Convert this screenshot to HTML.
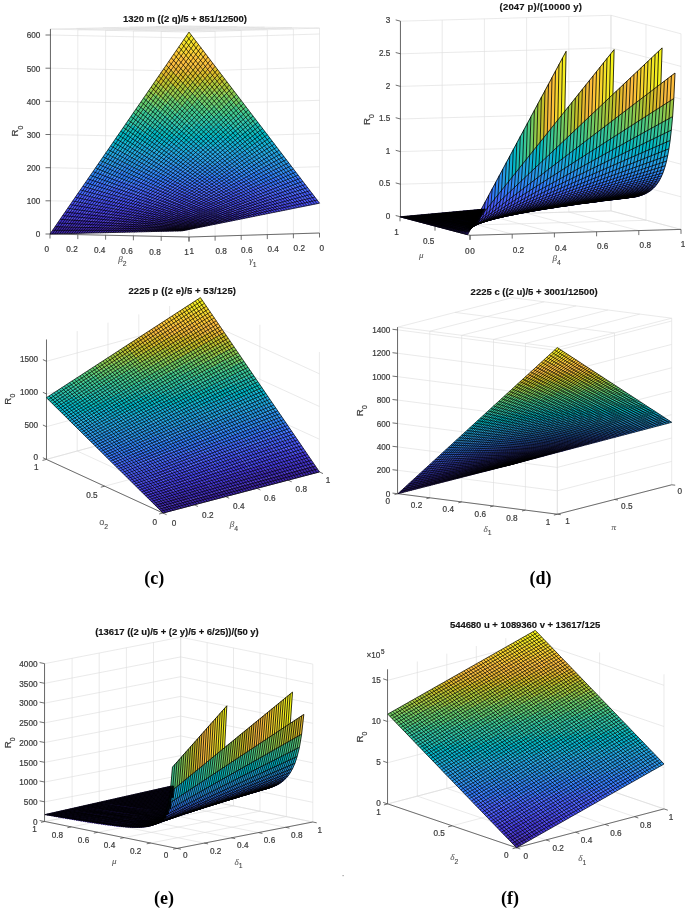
<!DOCTYPE html>
<html><head><meta charset="utf-8"><style>html,body{margin:0;padding:0;background:#fff;overflow:hidden}svg{display:block;will-change:transform}</style></head><body>
<svg width="685" height="909" viewBox="0 0 685 909" font-family="Liberation Sans, sans-serif" fill="#3c3c3c"><style>text{stroke:#3c3c3c;stroke-width:.22px}</style>
<path d="M182.3 25.9l-132.3 3.2M209.7 26.3l-131.9 3.4M237.2 26.8l-131.6 3.5M264.6 27.2l-131.2 3.7M292.1 27.7l-130.9 3.8M319.5 28.1l-130.5 4M182.3 25.9l137.2 2.2M155.8 26.5l137.6 2.4M129.4 27.2l137.9 2.5M102.9 27.8l138.3 2.7M76.5 28.5l138.6 2.8M50 29.1l139 3M319.5 233l0-204.9M293.4 233.8l0-204.9M267.3 234.6l0-204.9M241.2 235.4l0-204.9M215.1 236.2l0-204.9M189 237l0-204.9M319.5 233l-130.5 4M319.5 199.8l-130.5 4M319.5 166.7l-130.5 4M319.5 133.5l-130.5 4M319.5 100.3l-130.5 4M319.5 67.2l-130.5 4M319.5 34l-130.5 4M50 234l0-204.9M77.8 234.6l0-204.9M105.6 235.2l0-204.9M133.4 235.8l0-204.9M161.2 236.4l0-204.9M189 237l0-204.9M50 234l139 3M50 200.8l139 3M50 167.7l139 3M50 134.5l139 3M50 101.3l139 3M50 68.2l139 3M50 35l139 3" stroke="#dcdcdc" stroke-width=".6" fill="none"/>
<path d="M50.5 234l0-204.9M50.5 234l-5 0M50.5 200.8l-5 0M50.5 167.7l-5 0M50.5 134.5l-5 0M50.5 101.3l-5 0M50.5 68.2l-5 0M50.5 35l-5 0M50 234l139 3M50 234l0 4.5M77.8 234.6l0 4.5M105.6 235.2l0 4.5M133.4 235.8l0 4.5M161.2 236.4l0 4.5M189 237l0 4.5M319.5 233l-130.5 4M319.5 233l0 4.5M293.4 233.8l0 4.5M267.3 234.6l0 4.5M241.2 235.4l0 4.5M215.1 236.2l0 4.5M189 237l0 4.5" stroke="#4d4d4d" stroke-width="0.8" fill="none"/>
<path d="M182.3 230.8l5.5-1.1l-5.3-0.2l-5.5 1.4zM177 230.9l5.5-1.4l-5.3-0.1l-5.5 1.7zM171.7 231.1l5.5-1.7l-5.3-0.2l-5.5 2zM166.4 231.2l5.5-2l-5.3-0.1l-5.5 2.2zM161.1 231.3l5.5-2.2l-5.3-0.2l-5.5 2.5zM155.8 231.4l5.5-2.5l-5.2-0.1l-5.6 2.8zM150.5 231.6l5.6-2.8l-5.3-0.2l-5.5 3.1zM145.3 231.7l5.5-3.1l-5.3-0.1l-5.5 3.3zM140 231.8l5.5-3.3l-5.3-0.2l-5.5 3.7zM134.7 232l5.5-3.7l-5.3-0.1l-5.5 3.9zM129.4 232.1l5.5-3.9l-5.3-0.2l-5.5 4.2zM124.1 232.2l5.5-4.2l-5.3-0.1l-5.5 4.4zM118.8 232.3l5.5-4.4l-5.3-0.2l-5.5 4.8zM113.5 232.5l5.5-4.8l-5.3-0.1l-5.5 5zM108.2 232.6l5.5-5l-5.2-0.2l-5.6 5.3zM102.9 232.7l5.6-5.3l-5.3-0.1l-5.6 5.5zM97.6 232.8l5.6-5.5l-5.3-0.2l-5.6 5.9zM92.3 233l5.6-5.9l-5.3-0.1l-5.6 6.1zM87 233.1l5.6-6.1l-5.3-0.2l-5.5 6.4zM81.8 233.2l5.5-6.4l-5.3-0.1l-5.5 6.7zM76.5 233.4l5.5-6.7l-5.3-0.2l-5.5 7zM71.2 233.5l5.5-7l-5.3-0.1l-5.5 7.2zM65.9 233.6l5.5-7.2l-5.3-0.2l-5.5 7.5zM60.6 233.7l5.5-7.5l-5.3-0.1l-5.5 7.8zM55.3 233.9l5.5-7.8l-5.2-0.2l-5.6 8.1zM187.8 229.7l5.5-1.1l-5.3-0.4l-5.5 1.3zM182.5 229.5l5.5-1.3l-5.3-0.5l-5.5 1.7zM177.2 229.4l5.5-1.7l-5.3-0.4l-5.5 1.9zM171.9 229.2l5.5-1.9l-5.3-0.4l-5.5 2.2zM166.6 229.1l5.5-2.2l-5.3-0.5l-5.5 2.5zM193.3 228.6l5.5-1.1l-5.3-0.7l-5.5 1.4z" fill="#3e26a8" stroke="#3e26a8" stroke-width=".3"/>
<path d="M161.3 228.9l5.5-2.5l-5.2-0.4l-5.5 2.8zM156.1 228.8l5.5-2.8l-5.3-0.4l-5.5 3zM150.8 228.6l5.5-3l-5.3-0.4l-5.5 3.3zM145.5 228.5l5.5-3.3l-5.3-0.5l-5.5 3.6zM140.2 228.3l5.5-3.6l-5.3-0.4l-5.5 3.9zM134.9 228.2l5.5-3.9l-5.3-0.4l-5.5 4.1zM129.6 228l5.5-4.1l-5.3-0.5l-5.5 4.5zM124.3 227.9l5.5-4.5l-5.2-0.4l-5.6 4.7zM119 227.7l5.6-4.7l-5.3-0.4l-5.6 5zM188 228.2l5.5-1.4l-5.3-0.7l-5.5 1.6zM182.7 227.7l5.5-1.6l-5.3-0.7l-5.5 1.9zM177.4 227.3l5.5-1.9l-5.3-0.7l-5.5 2.2zM172.1 226.9l5.5-2.2l-5.3-0.8l-5.5 2.5zM166.8 226.4l5.5-2.5l-5.2-0.7l-5.5 2.8zM198.8 227.5l5.5-1.1l-5.3-1l-5.5 1.4zM193.5 226.8l5.5-1.4l-5.3-1l-5.5 1.7zM188.2 226.1l5.5-1.7l-5.3-1l-5.5 2zM204.3 226.4l5.4-1.1l-5.2-1.3l-5.5 1.4z" fill="#402ab4" stroke="#402ab4" stroke-width=".3"/>
<path d="M113.7 227.6l5.6-5l-5.3-0.5l-5.5 5.3zM108.5 227.4l5.5-5.3l-5.3-0.4l-5.5 5.6zM103.2 227.3l5.5-5.6l-5.3-0.4l-5.5 5.8zM97.9 227.1l5.5-5.8l-5.3-0.4l-5.5 6.1zM92.6 227l5.5-6.1l-5.3-0.5l-5.5 6.4zM87.3 226.8l5.5-6.4l-5.2-0.4l-5.6 6.7zM82 226.7l5.6-6.7l-5.3-0.4l-5.6 6.9zM76.7 226.5l5.6-6.9l-5.3-0.5l-5.6 7.3zM71.4 226.4l5.6-7.3l-5.3-0.4l-5.6 7.5zM161.6 226l5.5-2.8l-5.3-0.7l-5.5 3.1zM156.3 225.6l5.5-3.1l-5.3-0.7l-5.5 3.4zM151 225.2l5.5-3.4l-5.3-0.7l-5.5 3.6zM145.7 224.7l5.5-3.6l-5.3-0.7l-5.5 3.9zM140.4 224.3l5.5-3.9l-5.3-0.7l-5.5 4.2zM182.9 225.4l5.5-2l-5.3-1l-5.5 2.3zM177.6 224.7l5.5-2.3l-5.3-1l-5.5 2.5zM172.3 223.9l5.5-2.5l-5.2-0.9l-5.5 2.7zM199 225.4l5.5-1.4l-5.3-1.3l-5.5 1.7zM193.7 224.4l5.5-1.7l-5.3-1.2l-5.5 1.9zM188.4 223.4l5.5-1.9l-5.3-1.3l-5.5 2.2zM209.7 225.3l5.5-1.1l-5.2-1.6l-5.5 1.4zM204.5 224l5.5-1.4l-5.3-1.5l-5.5 1.6zM215.2 224.2l5.5-1.1l-5.3-1.9l-5.4 1.4zM220.7 223.1l5.5-1.1l-5.3-2.1l-5.5 1.3z" fill="#422ec0" stroke="#422ec0" stroke-width=".3"/>
<path d="M66.1 226.2l5.6-7.5l-5.3-0.4l-5.6 7.8zM60.8 226.1l5.6-7.8l-5.3-0.5l-5.5 8.1zM135.1 223.9l5.5-4.2l-5.2-0.7l-5.6 4.4zM129.8 223.4l5.6-4.4l-5.3-0.7l-5.5 4.7zM124.6 223l5.5-4.7l-5.3-0.7l-5.5 5zM119.3 222.6l5.5-5l-5.3-0.7l-5.5 5.2zM114 222.1l5.5-5.2l-5.3-0.8l-5.5 5.6zM167.1 223.2l5.5-2.7l-5.3-1l-5.5 3zM161.8 222.5l5.5-3l-5.3-1l-5.5 3.3zM156.5 221.8l5.5-3.3l-5.3-1l-5.5 3.6zM151.2 221.1l5.5-3.6l-5.3-1l-5.5 3.9zM183.1 222.4l5.5-2.2l-5.2-1.3l-5.6 2.5zM177.8 221.4l5.6-2.5l-5.3-1.2l-5.5 2.8zM172.6 220.5l5.5-2.8l-5.3-1.3l-5.5 3.1zM199.2 222.7l5.5-1.6l-5.3-1.6l-5.5 2zM193.9 221.5l5.5-2l-5.3-1.5l-5.5 2.2zM188.6 220.2l5.5-2.2l-5.2-1.6l-5.5 2.5zM210 222.6l5.4-1.4l-5.2-1.8l-5.5 1.7zM204.7 221.1l5.5-1.7l-5.3-1.8l-5.5 1.9zM215.4 221.2l5.5-1.3l-5.2-2.1l-5.5 1.6zM226.2 222l5.5-1.1l-5.3-2.4l-5.5 1.4zM231.7 220.9l5.5-1.1l-5.3-2.7l-5.5 1.4z" fill="#4332cb" stroke="#4332cb" stroke-width=".3"/>
<path d="M108.7 221.7l5.5-5.6l-5.3-0.7l-5.5 5.9zM103.4 221.3l5.5-5.9l-5.2-0.7l-5.6 6.2zM98.1 220.9l5.6-6.2l-5.3-0.7l-5.6 6.4zM92.8 220.4l5.6-6.4l-5.3-0.7l-5.5 6.7zM87.6 220l5.5-6.7l-5.3-0.7l-5.5 7zM145.9 220.4l5.5-3.9l-5.2-1l-5.6 4.2zM140.6 219.7l5.6-4.2l-5.3-1l-5.5 4.5zM135.4 219l5.5-4.5l-5.3-1l-5.5 4.8zM167.3 219.5l5.5-3.1l-5.3-1.3l-5.5 3.4zM162 218.5l5.5-3.4l-5.3-1.2l-5.5 3.6zM183.4 218.9l5.5-2.5l-5.3-1.5l-5.5 2.8zM178.1 217.7l5.5-2.8l-5.3-1.5l-5.5 3zM199.4 219.5l5.5-1.9l-5.3-1.8l-5.5 2.2zM194.1 218l5.5-2.2l-5.2-1.9l-5.5 2.5zM210.2 219.4l5.5-1.6l-5.3-2.1l-5.5 1.9zM204.9 217.6l5.5-1.9l-5.3-2.1l-5.5 2.2zM220.9 219.9l5.5-1.4l-5.2-2.4l-5.5 1.7zM215.7 217.8l5.5-1.7l-5.3-2.4l-5.5 2zM226.4 218.5l5.5-1.4l-5.2-2.7l-5.5 1.7zM237.2 219.8l5.5-1.1l-5.3-3l-5.5 1.4zM231.9 217.1l5.5-1.4l-5.3-2.9l-5.4 1.6zM242.7 218.7l5.5-1.2l-5.3-3.2l-5.5 1.4zM248.2 217.5l5.4-1.1l-5.2-3.5l-5.5 1.4z" fill="#4537d5" stroke="#4537d5" stroke-width=".3"/>
<path d="M82.3 219.6l5.5-7l-5.3-0.7l-5.5 7.2zM77 219.1l5.5-7.2l-5.3-0.7l-5.5 7.5zM71.7 218.7l5.5-7.5l-5.2-0.7l-5.6 7.8zM66.4 218.3l5.6-7.8l-5.3-0.7l-5.6 8zM130.1 218.3l5.5-4.8l-5.3-0.9l-5.5 5zM124.8 217.6l5.5-5l-5.3-1l-5.5 5.3zM119.5 216.9l5.5-5.3l-5.2-1l-5.6 5.5zM114.2 216.1l5.6-5.5l-5.3-1l-5.6 5.8zM156.7 217.5l5.5-3.6l-5.2-1.3l-5.6 3.9zM151.4 216.5l5.6-3.9l-5.3-1.3l-5.5 4.2zM146.2 215.5l5.5-4.2l-5.3-1.2l-5.5 4.4zM172.8 216.4l5.5-3l-5.3-1.6l-5.5 3.3zM167.5 215.1l5.5-3.3l-5.2-1.5l-5.6 3.6zM188.9 216.4l5.5-2.5l-5.3-1.8l-5.5 2.8zM183.6 214.9l5.5-2.8l-5.3-1.8l-5.5 3.1zM199.6 215.8l5.5-2.2l-5.2-2.2l-5.5 2.5zM210.4 215.7l5.5-2l-5.3-2.4l-5.5 2.3zM221.2 216.1l5.5-1.7l-5.3-2.6l-5.5 1.9zM226.7 214.4l5.4-1.6l-5.2-3l-5.5 2zM237.4 215.7l5.5-1.4l-5.3-3.2l-5.5 1.7zM242.9 214.3l5.5-1.4l-5.3-3.5l-5.5 1.7zM253.6 216.4l5.5-1.1l-5.2-3.7l-5.5 1.3zM259.1 215.3l5.5-1.1l-5.2-4l-5.5 1.4z" fill="#463cde" stroke="#463cde" stroke-width=".3"/>
<path d="M108.9 215.4l5.6-5.8l-5.3-1l-5.5 6.1zM103.7 214.7l5.5-6.1l-5.3-1l-5.5 6.4zM98.4 214l5.5-6.4l-5.3-1l-5.5 6.7zM140.9 214.5l5.5-4.4l-5.3-1.3l-5.5 4.7zM135.6 213.5l5.5-4.7l-5.2-1.3l-5.6 5.1zM130.3 212.6l5.6-5.1l-5.3-1.2l-5.6 5.3zM162.2 213.9l5.6-3.6l-5.3-1.6l-5.5 3.9zM157 212.6l5.5-3.9l-5.3-1.5l-5.5 4.1zM178.3 213.4l5.5-3.1l-5.3-1.8l-5.5 3.3zM173 211.8l5.5-3.3l-5.2-1.8l-5.5 3.6zM194.4 213.9l5.5-2.5l-5.3-2.1l-5.5 2.8zM189.1 212.1l5.5-2.8l-5.3-2.1l-5.5 3.1zM205.1 213.6l5.5-2.3l-5.2-2.3l-5.5 2.4zM199.9 211.4l5.5-2.4l-5.3-2.4l-5.5 2.7zM215.9 213.7l5.5-1.9l-5.3-2.7l-5.5 2.2zM210.6 211.3l5.5-2.2l-5.2-2.6l-5.5 2.5zM221.4 211.8l5.5-2l-5.3-2.9l-5.5 2.2zM232.1 212.8l5.5-1.7l-5.2-3.2l-5.5 1.9zM248.4 212.9l5.5-1.3l-5.3-3.8l-5.5 1.6zM253.9 211.6l5.5-1.4l-5.3-4.1l-5.5 1.7zM264.6 214.2l5.5-1.1l-5.2-4.3l-5.5 1.4zM270.1 213.1l5.5-1.1l-5.2-4.6l-5.5 1.4zM275.6 212l5.5-1.1l-5.3-4.9l-5.4 1.4z" fill="#4741e5" stroke="#4741e5" stroke-width=".3"/>
<path d="M93.1 213.3l5.5-6.7l-5.2-1l-5.6 7zM87.8 212.6l5.6-7l-5.3-0.9l-5.6 7.2zM82.5 211.9l5.6-7.2l-5.3-1l-5.6 7.5zM77.2 211.2l5.6-7.5l-5.3-1l-5.5 7.8zM125 211.6l5.6-5.3l-5.3-1.3l-5.5 5.6zM119.8 210.6l5.5-5.6l-5.3-1.3l-5.5 5.9zM151.7 211.3l5.5-4.1l-5.3-1.6l-5.5 4.5zM146.4 210.1l5.5-4.5l-5.2-1.5l-5.6 4.7zM167.8 210.3l5.5-3.6l-5.3-1.9l-5.5 3.9zM162.5 208.7l5.5-3.9l-5.3-1.8l-5.5 4.2zM183.8 210.3l5.5-3.1l-5.2-2.1l-5.6 3.4zM178.5 208.5l5.6-3.4l-5.3-2.1l-5.5 3.7zM194.6 209.3l5.5-2.7l-5.3-2.4l-5.5 3zM205.4 209l5.5-2.5l-5.3-2.7l-5.5 2.8zM216.1 209.1l5.5-2.2l-5.2-2.9l-5.5 2.5zM226.9 209.8l5.5-1.9l-5.3-3.2l-5.5 2.2zM237.6 211.1l5.5-1.7l-5.2-3.4l-5.5 1.9zM243.1 209.4l5.5-1.6l-5.2-3.8l-5.5 2zM259.4 210.2l5.5-1.4l-5.3-4.3l-5.5 1.6zM264.9 208.8l5.5-1.4l-5.3-4.6l-5.5 1.7zM281.1 210.9l5.5-1.1l-5.3-5.2l-5.5 1.4zM286.6 209.8l5.5-1.1l-5.3-5.4l-5.5 1.3z" fill="#4747eb" stroke="#4747eb" stroke-width=".3"/>
<path d="M72 210.5l5.5-7.8l-5.3-1l-5.5 8.1zM114.5 209.6l5.5-5.9l-5.3-1.2l-5.5 6.1zM109.2 208.6l5.5-6.1l-5.2-1.3l-5.6 6.4zM103.9 207.6l5.6-6.4l-5.3-1.3l-5.6 6.7zM141.1 208.8l5.6-4.7l-5.3-1.6l-5.5 5zM135.9 207.5l5.5-5l-5.3-1.5l-5.5 5.3zM157.2 207.2l5.5-4.2l-5.2-1.8l-5.6 4.4zM173.3 206.7l5.5-3.7l-5.3-2.1l-5.5 3.9zM189.3 207.2l5.5-3l-5.2-2.4l-5.5 3.3zM200.1 206.6l5.5-2.8l-5.3-2.7l-5.5 3.1zM210.9 206.5l5.5-2.5l-5.3-3l-5.5 2.8zM221.6 206.9l5.5-2.2l-5.2-3.2l-5.5 2.5zM232.4 207.9l5.5-1.9l-5.3-3.5l-5.5 2.2zM237.9 206l5.5-2l-5.3-3.8l-5.5 2.3zM248.6 207.8l5.5-1.7l-5.2-4l-5.5 1.9zM254.1 206.1l5.5-1.6l-5.2-4.4l-5.5 2zM270.4 207.4l5.4-1.4l-5.2-4.9l-5.5 1.7zM275.8 206l5.5-1.4l-5.2-5.1l-5.5 1.6zM292.1 208.7l5.4-1.1l-5.2-5.7l-5.5 1.4zM297.5 207.6l5.5-1.1l-5.2-6l-5.5 1.4zM303 206.5l5.5-1.1l-5.2-6.3l-5.5 1.4z" fill="#484df0" stroke="#484df0" stroke-width=".3"/>
<path d="M98.6 206.6l5.6-6.7l-5.3-1.2l-5.5 6.9zM93.4 205.6l5.5-6.9l-5.3-1.3l-5.5 7.3zM88.1 204.7l5.5-7.3l-5.2-1.3l-5.6 7.6zM130.6 206.3l5.5-5.3l-5.3-1.6l-5.5 5.6zM125.3 205l5.5-5.6l-5.2-1.5l-5.6 5.8zM120 203.7l5.6-5.8l-5.3-1.5l-5.6 6.1zM151.9 205.6l5.6-4.4l-5.3-1.8l-5.5 4.7zM146.7 204.1l5.5-4.7l-5.3-1.9l-5.5 5zM168 204.8l5.5-3.9l-5.3-2.1l-5.5 4.2zM162.7 203l5.5-4.2l-5.2-2.1l-5.5 4.5zM184.1 205.1l5.5-3.3l-5.3-2.4l-5.5 3.6zM178.8 203l5.5-3.6l-5.3-2.4l-5.5 3.9zM194.8 204.2l5.5-3.1l-5.2-2.6l-5.5 3.3zM205.6 203.8l5.5-2.8l-5.3-2.9l-5.5 3zM216.4 204l5.5-2.5l-5.3-3.3l-5.5 2.8zM227.1 204.7l5.5-2.2l-5.2-3.5l-5.5 2.5zM232.6 202.5l5.5-2.3l-5.2-3.7l-5.5 2.5zM243.4 204l5.5-1.9l-5.3-4.1l-5.5 2.2zM259.6 204.5l5.5-1.7l-5.2-4.6l-5.5 1.9zM265.1 202.8l5.5-1.7l-5.2-4.9l-5.5 2zM281.3 204.6l5.5-1.3l-5.2-5.5l-5.5 1.7zM286.8 203.3l5.5-1.4l-5.2-5.7l-5.5 1.6zM308.5 205.4l5.5-1.1l-5.2-6.6l-5.5 1.4zM314 204.3l5.5-1.1l-5.2-6.9l-5.5 1.4z" fill="#4852f4" stroke="#4852f4" stroke-width=".3"/>
<path d="M82.8 203.7l5.6-7.6l-5.3-1.2l-5.6 7.8zM77.5 202.7l5.6-7.8l-5.3-1.3l-5.6 8.1zM114.7 202.5l5.6-6.1l-5.3-1.6l-5.5 6.4zM109.5 201.2l5.5-6.4l-5.3-1.5l-5.5 6.6zM141.4 202.5l5.5-5l-5.3-1.8l-5.5 5.3zM136.1 201l5.5-5.3l-5.2-1.8l-5.6 5.5zM157.5 201.2l5.5-4.5l-5.3-2.1l-5.5 4.8zM173.5 200.9l5.5-3.9l-5.2-2.3l-5.6 4.1zM189.6 201.8l5.5-3.3l-5.3-2.7l-5.5 3.6zM184.3 199.4l5.5-3.6l-5.3-2.7l-5.5 3.9zM200.3 201.1l5.5-3l-5.2-3l-5.5 3.4zM211.1 201l5.5-2.8l-5.2-3.2l-5.6 3.1zM221.9 201.5l5.5-2.5l-5.3-3.5l-5.5 2.7zM238.1 200.2l5.5-2.2l-5.2-4l-5.5 2.5zM248.9 202.1l5.5-2l-5.3-4.3l-5.5 2.2zM254.4 200.1l5.5-1.9l-5.3-4.6l-5.5 2.2zM270.6 201.1l5.5-1.6l-5.2-5.2l-5.5 1.9zM292.3 201.9l5.5-1.4l-5.2-6l-5.5 1.7zM297.8 200.5l5.5-1.4l-5.2-6.3l-5.5 1.7z" fill="#4758f8" stroke="#4758f8" stroke-width=".3"/>
<path d="M104.2 199.9l5.5-6.6l-5.2-1.6l-5.6 7zM98.9 198.7l5.6-7l-5.3-1.5l-5.6 7.2zM130.8 199.4l5.6-5.5l-5.3-1.8l-5.5 5.8zM125.6 197.9l5.5-5.8l-5.3-1.9l-5.5 6.2zM152.2 199.4l5.5-4.8l-5.3-2.1l-5.5 5zM146.9 197.5l5.5-5l-5.2-2.1l-5.6 5.3zM168.2 198.8l5.6-4.1l-5.3-2.4l-5.5 4.4zM163 196.7l5.5-4.4l-5.3-2.4l-5.5 4.7zM179 197l5.5-3.9l-5.2-2.6l-5.5 4.2zM195.1 198.5l5.5-3.4l-5.3-2.9l-5.5 3.6zM205.8 198.1l5.6-3.1l-5.3-3.2l-5.5 3.3zM216.6 198.2l5.5-2.7l-5.2-3.5l-5.5 3zM227.4 199l5.5-2.5l-5.3-3.8l-5.5 2.8zM232.9 196.5l5.5-2.5l-5.3-4.1l-5.5 2.8zM243.6 198l5.5-2.2l-5.2-4.3l-5.5 2.5zM259.9 198.2l5.5-2l-5.3-4.8l-5.5 2.2zM276.1 199.5l5.5-1.7l-5.2-5.4l-5.5 1.9zM281.6 197.8l5.5-1.6l-5.2-5.8l-5.5 2zM303.3 199.1l5.5-1.4l-5.2-6.5l-5.5 1.6zM308.8 197.7l5.5-1.4l-5.2-6.8l-5.5 1.7z" fill="#465efb" stroke="#465efb" stroke-width=".3"/>
<path d="M93.6 197.4l5.6-7.2l-5.3-1.6l-5.5 7.5zM88.4 196.1l5.5-7.5l-5.3-1.5l-5.5 7.8zM120.3 196.4l5.5-6.2l-5.2-1.8l-5.6 6.4zM115 194.8l5.6-6.4l-5.3-1.8l-5.6 6.7zM141.6 195.7l5.6-5.3l-5.3-2.1l-5.5 5.6zM157.7 194.6l5.5-4.7l-5.2-2.4l-5.6 5zM173.8 194.7l5.5-4.2l-5.3-2.7l-5.5 4.5zM189.8 195.8l5.5-3.6l-5.2-2.9l-5.6 3.8zM200.6 195.1l5.5-3.3l-5.3-3.2l-5.5 3.6zM211.4 195l5.5-3l-5.3-3.5l-5.5 3.3zM222.1 195.5l5.5-2.8l-5.2-3.8l-5.5 3.1zM238.4 194l5.5-2.5l-5.3-4.4l-5.5 2.8zM249.1 195.8l5.5-2.2l-5.2-4.6l-5.5 2.5zM254.6 193.6l5.5-2.2l-5.2-4.9l-5.5 2.5zM265.4 196.2l5.5-1.9l-5.3-5.2l-5.5 2.3zM270.9 194.3l5.5-1.9l-5.3-5.5l-5.5 2.2zM287.1 196.2l5.5-1.7l-5.2-6l-5.5 1.9zM292.6 194.5l5.5-1.7l-5.3-6.3l-5.4 2z" fill="#4563fd" stroke="#4563fd" stroke-width=".3"/>
<path d="M83.1 194.9l5.5-7.8l-5.2-1.6l-5.6 8.1zM109.7 193.3l5.6-6.7l-5.3-1.8l-5.5 6.9zM136.4 193.9l5.5-5.6l-5.3-2.1l-5.5 5.9zM131.1 192.1l5.5-5.9l-5.2-2.1l-5.6 6.1zM152.4 192.5l5.6-5l-5.3-2.4l-5.5 5.3zM168.5 192.3l5.5-4.5l-5.2-2.6l-5.6 4.7zM184.5 193.1l5.6-3.8l-5.3-3l-5.5 4.2zM179.3 190.5l5.5-4.2l-5.3-2.9l-5.5 4.4zM195.3 192.2l5.5-3.6l-5.2-3.2l-5.5 3.9zM206.1 191.8l5.5-3.3l-5.2-3.5l-5.6 3.6zM216.9 192l5.5-3.1l-5.3-3.8l-5.5 3.4zM227.6 192.7l5.5-2.8l-5.2-4.1l-5.5 3.1zM243.9 191.5l5.5-2.5l-5.3-4.7l-5.5 2.8zM260.1 191.4l5.5-2.3l-5.2-5.1l-5.5 2.5zM276.4 192.4l5.5-2l-5.3-5.7l-5.5 2.2zM298.1 192.8l5.5-1.6l-5.3-6.6l-5.5 1.9zM303.6 191.2l5.5-1.7l-5.3-6.8l-5.5 1.9z" fill="#4269fe" stroke="#4269fe" stroke-width=".3"/>
<path d="M104.5 191.7l5.5-6.9l-5.3-1.9l-5.5 7.3zM99.2 190.2l5.5-7.3l-5.2-1.8l-5.6 7.5zM125.8 190.2l5.6-6.1l-5.3-2.1l-5.5 6.4zM120.6 188.4l5.5-6.4l-5.3-2.1l-5.5 6.7zM147.2 190.4l5.5-5.3l-5.3-2.4l-5.5 5.6zM141.9 188.3l5.5-5.6l-5.2-2.3l-5.6 5.8zM163.2 189.9l5.6-4.7l-5.3-2.7l-5.5 5zM174 187.8l5.5-4.4l-5.2-3l-5.5 4.8zM190.1 189.3l5.5-3.9l-5.3-3.3l-5.5 4.2zM200.8 188.6l5.6-3.6l-5.3-3.5l-5.5 3.9zM211.6 188.5l5.5-3.4l-5.2-3.7l-5.5 3.6zM222.4 188.9l5.5-3.1l-5.3-4l-5.5 3.3zM233.1 189.9l5.5-2.8l-5.2-4.3l-5.5 3zM238.6 187.1l5.5-2.8l-5.2-4.6l-5.5 3.1zM249.4 189l5.5-2.5l-5.3-4.9l-5.5 2.7zM265.6 189.1l5.5-2.2l-5.2-5.4l-5.5 2.5zM281.9 190.4l5.5-1.9l-5.3-6l-5.5 2.2zM287.4 188.5l5.4-2l-5.2-6.2l-5.5 2.2z" fill="#3e6fff" stroke="#3e6fff" stroke-width=".3"/>
<path d="M93.9 188.6l5.6-7.5l-5.3-1.8l-5.6 7.8zM88.6 187.1l5.6-7.8l-5.3-1.8l-5.5 8zM115.3 186.6l5.5-6.7l-5.2-2.1l-5.6 7zM136.6 186.2l5.6-5.8l-5.3-2.4l-5.5 6.1zM158 187.5l5.5-5l-5.3-2.7l-5.5 5.3zM152.7 185.1l5.5-5.3l-5.2-2.6l-5.6 5.5zM168.8 185.2l5.5-4.8l-5.3-2.9l-5.5 5zM184.8 186.3l5.5-4.2l-5.2-3.2l-5.6 4.5zM195.6 185.4l5.5-3.9l-5.3-3.5l-5.5 4.1zM206.4 185l5.5-3.6l-5.3-3.8l-5.5 3.9zM217.1 185.1l5.5-3.3l-5.2-4.1l-5.5 3.7zM227.9 185.8l5.5-3l-5.3-4.3l-5.5 3.3zM244.1 184.3l5.5-2.7l-5.2-4.9l-5.5 3zM254.9 186.5l5.5-2.5l-5.3-5.2l-5.5 2.8zM271.1 186.9l5.5-2.2l-5.2-5.7l-5.5 2.5zM276.6 184.7l5.5-2.2l-5.2-6l-5.5 2.5zM292.8 186.5l5.5-1.9l-5.2-6.6l-5.5 2.3zM298.3 184.6l5.5-1.9l-5.2-6.9l-5.5 2.2z" fill="#3875fe" stroke="#3875fe" stroke-width=".3"/>
<path d="M110 184.8l5.6-7l-5.3-2.1l-5.6 7.2zM104.7 182.9l5.6-7.2l-5.3-2.1l-5.5 7.5zM131.4 184.1l5.5-6.1l-5.3-2.4l-5.5 6.4zM147.4 182.7l5.6-5.5l-5.3-2.7l-5.5 5.9zM163.5 182.5l5.5-5l-5.2-2.9l-5.6 5.2zM179.5 183.4l5.6-4.5l-5.3-3.2l-5.5 4.7zM190.3 182.1l5.5-4.1l-5.2-3.5l-5.5 4.4zM201.1 181.5l5.5-3.9l-5.2-3.8l-5.6 4.2zM211.9 181.4l5.5-3.7l-5.3-4l-5.5 3.9zM222.6 181.8l5.5-3.3l-5.2-4.4l-5.5 3.6zM233.4 182.8l5.5-3.1l-5.2-4.6l-5.6 3.4zM249.6 181.6l5.5-2.8l-5.2-5.2l-5.5 3.1zM260.4 184l5.5-2.5l-5.2-5.5l-5.6 2.8zM265.9 181.5l5.5-2.5l-5.2-5.8l-5.5 2.8zM282.1 182.5l5.5-2.2l-5.2-6.3l-5.5 2.5z" fill="#327cfc" stroke="#327cfc" stroke-width=".3"/>
<path d="M99.5 181.1l5.5-7.5l-5.3-2.1l-5.5 7.8zM126.1 182l5.5-6.4l-5.2-2.4l-5.6 6.7zM120.8 179.9l5.6-6.7l-5.3-2.4l-5.5 7zM142.2 180.4l5.5-5.9l-5.3-2.6l-5.5 6.1zM158.2 179.8l5.6-5.2l-5.3-3l-5.5 5.6zM174.3 180.4l5.5-4.7l-5.2-3.2l-5.6 5zM185.1 178.9l5.5-4.4l-5.3-3.5l-5.5 4.7zM228.1 178.5l5.6-3.4l-5.3-4.6l-5.5 3.6zM238.9 179.7l5.5-3l-5.2-4.9l-5.5 3.3zM255.1 178.8l5.6-2.8l-5.3-5.4l-5.5 3zM271.4 179l5.5-2.5l-5.2-6l-5.5 2.7zM287.6 180.3l5.5-2.3l-5.2-6.5l-5.5 2.5z" fill="#2f81fa" stroke="#2f81fa" stroke-width=".3"/>
<path d="M94.2 179.3l5.5-7.8l-5.2-2.1l-5.6 8.1zM115.6 177.8l5.5-7l-5.3-2.3l-5.5 7.2zM136.9 178l5.5-6.1l-5.2-2.7l-5.6 6.4zM153 177.2l5.5-5.6l-5.3-2.9l-5.5 5.8zM169 177.5l5.6-5l-5.3-3.2l-5.5 5.3zM179.8 175.7l5.5-4.7l-5.2-3.5l-5.5 5zM195.8 178l5.6-4.2l-5.3-3.8l-5.5 4.5zM206.6 177.6l5.5-3.9l-5.2-4.1l-5.5 4.2zM217.4 177.7l5.5-3.6l-5.3-4.3l-5.5 3.9zM233.7 175.1l5.5-3.3l-5.3-4.9l-5.5 3.6zM244.4 176.7l5.5-3.1l-5.2-5.2l-5.5 3.4zM260.7 176l5.5-2.8l-5.3-5.7l-5.5 3.1zM276.9 176.5l5.5-2.5l-5.2-6.3l-5.5 2.8zM293.1 178l5.5-2.2l-5.2-6.8l-5.5 2.5z" fill="#2e87f7" stroke="#2e87f7" stroke-width=".3"/>
<path d="M110.3 175.7l5.5-7.2l-5.2-2.4l-5.6 7.5zM105 173.6l5.6-7.5l-5.3-2.4l-5.6 7.8zM131.6 175.6l5.6-6.4l-5.3-2.7l-5.5 6.7zM126.4 173.2l5.5-6.7l-5.2-2.6l-5.6 6.9zM147.7 174.5l5.5-5.8l-5.2-3l-5.6 6.2zM163.8 174.6l5.5-5.3l-5.3-3.3l-5.5 5.6zM174.6 172.5l5.5-5l-5.3-3.5l-5.5 5.3zM190.6 174.5l5.5-4.5l-5.2-3.8l-5.6 4.8zM201.4 173.8l5.5-4.2l-5.3-4l-5.5 4.4zM212.1 173.7l5.5-3.9l-5.2-4.3l-5.5 4.1zM222.9 174.1l5.5-3.6l-5.2-4.6l-5.6 3.9zM249.9 173.6l5.5-3l-5.2-5.5l-5.5 3.3zM266.2 173.2l5.5-2.7l-5.3-6l-5.5 3zM282.4 174l5.5-2.5l-5.2-6.6l-5.5 2.8z" fill="#2d8cf3" stroke="#2d8cf3" stroke-width=".3"/>
<path d="M99.7 171.5l5.6-7.8l-5.3-2.4l-5.5 8.1zM121.1 170.8l5.6-6.9l-5.3-2.7l-5.6 7.3zM142.4 171.9l5.6-6.2l-5.3-2.9l-5.5 6.4zM158.5 171.6l5.5-5.6l-5.2-3.2l-5.6 5.9zM169.3 169.3l5.5-5.3l-5.2-3.5l-5.6 5.5zM185.3 171l5.6-4.8l-5.3-3.7l-5.5 5zM196.1 170l5.5-4.4l-5.2-4.1l-5.5 4.7zM206.9 169.6l5.5-4.1l-5.2-4.4l-5.6 4.5zM217.6 169.8l5.6-3.9l-5.3-4.6l-5.5 4.2zM228.4 170.5l5.5-3.6l-5.2-4.9l-5.5 3.9zM239.2 171.8l5.5-3.4l-5.3-5.1l-5.5 3.6zM255.4 170.6l5.5-3.1l-5.2-5.7l-5.5 3.3zM271.7 170.5l5.5-2.8l-5.3-6.3l-5.5 3.1zM287.9 171.5l5.5-2.5l-5.2-6.9l-5.5 2.8z" fill="#2b91ef" stroke="#2b91ef" stroke-width=".3"/>
<path d="M115.8 168.5l5.6-7.3l-5.3-2.6l-5.5 7.5zM137.2 169.2l5.5-6.4l-5.2-2.9l-5.6 6.6zM153.2 168.7l5.6-5.9l-5.3-3.2l-5.5 6.1zM180.1 167.5l5.5-5l-5.2-3.8l-5.6 5.3zM190.9 166.2l5.5-4.7l-5.3-4l-5.5 5zM223.2 165.9l5.5-3.9l-5.3-4.9l-5.5 4.2zM233.9 166.9l5.5-3.6l-5.2-5.2l-5.5 3.9zM244.7 168.4l5.5-3.3l-5.2-5.4l-5.6 3.6zM260.9 167.5l5.5-3l-5.2-6.1l-5.5 3.4zM277.2 167.7l5.5-2.8l-5.2-6.6l-5.6 3.1z" fill="#2797eb" stroke="#2797eb" stroke-width=".3"/>
<path d="M110.6 166.1l5.5-7.5l-5.2-2.7l-5.6 7.8zM131.9 166.5l5.6-6.6l-5.3-3l-5.5 7zM126.7 163.9l5.5-7l-5.3-2.9l-5.5 7.2zM148 165.7l5.5-6.1l-5.2-3.2l-5.6 6.4zM164 166l5.6-5.5l-5.3-3.5l-5.5 5.8zM174.8 164l5.6-5.3l-5.3-3.8l-5.5 5.6zM201.6 165.6l5.6-4.5l-5.3-4.3l-5.5 4.7zM212.4 165.5l5.5-4.2l-5.2-4.6l-5.5 4.4zM239.4 163.3l5.6-3.6l-5.3-5.5l-5.5 3.9zM250.2 165.1l5.5-3.3l-5.2-5.8l-5.5 3.7zM266.4 164.5l5.5-3.1l-5.2-6.3l-5.5 3.3zM282.7 164.9l5.5-2.8l-5.2-6.8l-5.5 3z" fill="#259be8" stroke="#259be8" stroke-width=".3"/>
<path d="M105.3 163.7l5.6-7.8l-5.3-2.7l-5.6 8.1zM121.4 161.2l5.5-7.2l-5.2-3l-5.6 7.6zM142.7 162.8l5.6-6.4l-5.3-3.2l-5.5 6.7zM158.8 162.8l5.5-5.8l-5.2-3.5l-5.6 6.1zM169.6 160.5l5.5-5.6l-5.2-3.8l-5.6 5.9zM185.6 162.5l5.5-5l-5.2-4.1l-5.5 5.3zM196.4 161.5l5.5-4.7l-5.2-4.4l-5.6 5.1zM207.2 161.1l5.5-4.4l-5.3-4.6l-5.5 4.7zM217.9 161.3l5.5-4.2l-5.2-4.9l-5.5 4.5zM228.7 162l5.5-3.9l-5.2-5.2l-5.6 4.2zM245 159.7l5.5-3.7l-5.3-5.7l-5.5 3.9zM255.7 161.8l5.5-3.4l-5.2-6l-5.5 3.6zM271.9 161.4l5.6-3.1l-5.3-6.5l-5.5 3.3z" fill="#23a0e5" stroke="#23a0e5" stroke-width=".3"/>
<path d="M116.1 158.6l5.6-7.6l-5.3-2.9l-5.5 7.8zM137.5 159.9l5.5-6.7l-5.3-3.2l-5.5 6.9zM153.5 159.6l5.6-6.1l-5.3-3.5l-5.5 6.4zM180.4 158.7l5.5-5.3l-5.3-4.1l-5.5 5.6zM191.1 157.5l5.6-5.1l-5.3-4.3l-5.5 5.3zM201.9 156.8l5.5-4.7l-5.2-4.7l-5.5 5zM212.7 156.7l5.5-4.5l-5.2-4.9l-5.6 4.8zM223.4 157.1l5.6-4.2l-5.3-5.1l-5.5 4.4zM234.2 158.1l5.5-3.9l-5.2-5.4l-5.5 4.1zM261.2 158.4l5.5-3.3l-5.2-6.3l-5.5 3.6zM277.5 158.3l5.5-3l-5.3-6.9l-5.5 3.4z" fill="#20a5e3" stroke="#20a5e3" stroke-width=".3"/>
<path d="M110.9 155.9l5.5-7.8l-5.2-2.9l-5.6 8zM132.2 156.9l5.5-6.9l-5.2-3.3l-5.6 7.3zM148.3 156.4l5.5-6.4l-5.2-3.5l-5.6 6.7zM164.3 157l5.6-5.9l-5.3-3.7l-5.5 6.1zM175.1 154.9l5.5-5.6l-5.2-4l-5.5 5.8zM239.7 154.2l5.5-3.9l-5.2-5.7l-5.5 4.2zM250.5 156l5.5-3.6l-5.3-6l-5.5 3.9zM266.7 155.1l5.5-3.3l-5.2-6.6l-5.5 3.6z" fill="#1ca9df" stroke="#1ca9df" stroke-width=".3"/>
<path d="M126.9 154l5.6-7.3l-5.3-3.2l-5.5 7.5zM143 153.2l5.6-6.7l-5.3-3.5l-5.6 7zM159.1 153.5l5.5-6.1l-5.2-3.8l-5.6 6.4zM169.9 151.1l5.5-5.8l-5.3-4.1l-5.5 6.2zM185.9 153.4l5.5-5.3l-5.2-4.3l-5.6 5.5zM196.7 152.4l5.5-5l-5.2-4.6l-5.6 5.3zM207.4 152.1l5.6-4.8l-5.3-4.9l-5.5 5zM218.2 152.2l5.5-4.4l-5.2-5.2l-5.5 4.7zM229 152.9l5.5-4.1l-5.3-5.5l-5.5 4.5zM256 152.4l5.5-3.6l-5.2-6.3l-5.6 3.9zM272.2 151.8l5.5-3.4l-5.2-6.8l-5.5 3.6z" fill="#18addb" stroke="#18addb" stroke-width=".3"/>
<path d="M121.7 151l5.5-7.5l-5.2-3.2l-5.6 7.8zM137.7 150l5.6-7l-5.3-3.5l-5.5 7.2zM153.8 150l5.6-6.4l-5.3-3.8l-5.5 6.7zM180.6 149.3l5.6-5.5l-5.3-4.4l-5.5 5.9zM191.4 148.1l5.6-5.3l-5.3-4.6l-5.5 5.6zM223.7 147.8l5.5-4.5l-5.2-5.4l-5.5 4.7zM234.5 148.8l5.5-4.2l-5.2-5.7l-5.6 4.4zM245.2 150.3l5.5-3.9l-5.2-6l-5.5 4.2zM261.5 148.8l5.5-3.6l-5.2-6.6l-5.5 3.9z" fill="#12b1d6" stroke="#12b1d6" stroke-width=".3"/>
<path d="M116.4 148.1l5.6-7.8l-5.3-3.2l-5.5 8.1zM132.5 146.7l5.5-7.2l-5.2-3.5l-5.6 7.5zM148.6 146.5l5.5-6.7l-5.3-3.8l-5.5 7zM164.6 147.4l5.5-6.2l-5.2-4l-5.5 6.4zM175.4 145.3l5.5-5.9l-5.2-4.3l-5.6 6.1zM202.2 147.4l5.5-5l-5.2-4.9l-5.5 5.3zM213 147.3l5.5-4.7l-5.2-5.2l-5.6 5zM240 144.6l5.5-4.2l-5.2-6l-5.5 4.5zM250.7 146.4l5.6-3.9l-5.3-6.3l-5.5 4.2zM267 145.2l5.5-3.6l-5.2-6.9l-5.5 3.9z" fill="#08b5d0" stroke="#08b5d0" stroke-width=".3"/>
<path d="M127.2 143.5l5.6-7.5l-5.3-3.5l-5.5 7.8zM143.3 143l5.5-7l-5.2-3.7l-5.6 7.2zM159.4 143.6l5.5-6.4l-5.3-4.1l-5.5 6.7zM186.2 143.8l5.5-5.6l-5.2-4.6l-5.6 5.8zM197 142.8l5.5-5.3l-5.3-4.9l-5.5 5.6zM207.7 142.4l5.6-5l-5.3-5.2l-5.5 5.3zM218.5 142.6l5.5-4.7l-5.2-5.5l-5.5 5zM229.2 143.3l5.6-4.4l-5.3-5.8l-5.5 4.8zM256.3 142.5l5.5-3.9l-5.2-6.5l-5.6 4.1z" fill="#01b8ca" stroke="#01b8ca" stroke-width=".3"/>
<path d="M122 140.3l5.5-7.8l-5.2-3.5l-5.6 8.1zM138 139.5l5.6-7.2l-5.3-3.8l-5.5 7.5zM154.1 139.8l5.5-6.7l-5.2-4l-5.6 6.9zM170.1 141.2l5.6-6.1l-5.3-4.3l-5.5 6.4zM180.9 139.4l5.6-5.8l-5.3-4.6l-5.5 6.1zM234.8 138.9l5.5-4.5l-5.2-6l-5.6 4.7zM245.5 140.4l5.5-4.2l-5.2-6.2l-5.5 4.4zM261.8 138.6l5.5-3.9l-5.2-6.8l-5.5 4.2z" fill="#02bac3" stroke="#02bac3" stroke-width=".3"/>
<path d="M132.8 136l5.5-7.5l-5.2-3.8l-5.6 7.8zM148.8 136l5.6-6.9l-5.3-4.1l-5.5 7.3zM164.9 137.2l5.5-6.4l-5.2-4.4l-5.6 6.7zM191.7 138.2l5.5-5.6l-5.2-4.8l-5.5 5.8zM202.5 137.5l5.5-5.3l-5.2-5.1l-5.6 5.5zM213.3 137.4l5.5-5l-5.3-5.4l-5.5 5.2zM224 137.9l5.5-4.8l-5.2-5.7l-5.5 5zM251 136.2l5.6-4.1l-5.3-6.6l-5.5 4.5z" fill="#0bbdbd" stroke="#0bbdbd" stroke-width=".3"/>
<path d="M159.6 133.1l5.6-6.7l-5.3-4.3l-5.5 7zM175.7 135.1l5.5-6.1l-5.2-4.6l-5.6 6.4zM186.5 133.6l5.5-5.8l-5.2-4.9l-5.6 6.1zM197.2 132.6l5.6-5.5l-5.3-5.2l-5.5 5.9zM208 132.2l5.5-5.2l-5.2-5.5l-5.5 5.6zM218.8 132.4l5.5-5l-5.2-5.7l-5.6 5.3zM229.5 133.1l5.6-4.7l-5.3-6l-5.5 5zM240.3 134.4l5.5-4.4l-5.2-6.3l-5.5 4.7zM256.6 132.1l5.5-4.2l-5.2-6.8l-5.6 4.4z" fill="#19bfb6" stroke="#19bfb6" stroke-width=".3"/>
<path d="M127.5 132.5l5.6-7.8l-5.3-3.8l-5.5 8.1zM143.6 132.3l5.5-7.3l-5.2-4l-5.6 7.5zM170.4 130.8l5.6-6.4l-5.3-4.6l-5.5 6.6zM245.8 130l5.5-4.5l-5.2-6.6l-5.5 4.8z" fill="#24c1ae" stroke="#24c1ae" stroke-width=".3"/>
<path d="M138.3 128.5l5.6-7.5l-5.3-4.1l-5.5 7.8zM154.4 129.1l5.5-7l-5.2-4.3l-5.6 7.2zM165.2 126.4l5.5-6.6l-5.2-4.7l-5.6 7zM181.2 129l5.6-6.1l-5.3-4.9l-5.5 6.4zM192 127.8l5.5-5.9l-5.2-5.2l-5.5 6.2zM202.8 127.1l5.5-5.6l-5.2-5.4l-5.6 5.8zM213.5 127l5.6-5.3l-5.3-5.8l-5.5 5.6zM224.3 127.4l5.5-5l-5.2-6l-5.5 5.3zM235.1 128.4l5.5-4.7l-5.2-6.3l-5.6 5z" fill="#2cc4a7" stroke="#2cc4a7" stroke-width=".3"/>
<path d="M133.1 124.7l5.5-7.8l-5.2-4.1l-5.6 8.1zM149.1 125l5.6-7.2l-5.2-4.4l-5.6 7.6zM176 124.4l5.5-6.4l-5.2-4.9l-5.6 6.7zM240.6 123.7l5.5-4.8l-5.2-6.5l-5.5 5zM251.3 125.5l5.6-4.4l-5.3-6.9l-5.5 4.7z" fill="#31c69f" stroke="#31c69f" stroke-width=".3"/>
<path d="M143.9 121l5.6-7.6l-5.3-4.3l-5.6 7.8zM159.9 122.1l5.6-7l-5.3-4.6l-5.5 7.3zM186.8 122.9l5.5-6.2l-5.2-5.1l-5.6 6.4zM197.5 121.9l5.6-5.8l-5.3-5.5l-5.5 6.1zM208.3 121.5l5.5-5.6l-5.2-5.7l-5.5 5.9zM219.1 121.7l5.5-5.3l-5.2-6l-5.6 5.5zM229.8 122.4l5.6-5l-5.3-6.3l-5.5 5.3z" fill="#37c897" stroke="#37c897" stroke-width=".3"/>
<path d="M154.7 117.8l5.5-7.3l-5.2-4.6l-5.5 7.5zM170.7 119.8l5.6-6.7l-5.3-4.9l-5.5 6.9zM181.5 118l5.6-6.4l-5.3-5.2l-5.5 6.7zM192.3 116.7l5.5-6.1l-5.2-5.4l-5.5 6.4zM235.4 117.4l5.5-5l-5.2-6.6l-5.6 5.3zM246.1 118.9l5.5-4.7l-5.2-6.8l-5.5 5z" fill="#3fca8e" stroke="#3fca8e" stroke-width=".3"/>
<path d="M138.6 116.9l5.6-7.8l-5.2-4.3l-5.6 8zM165.5 115.1l5.5-6.9l-5.2-4.9l-5.6 7.2zM203.1 116.1l5.5-5.9l-5.2-5.7l-5.6 6.1zM213.8 115.9l5.6-5.5l-5.3-6l-5.5 5.8zM224.6 116.4l5.5-5.3l-5.2-6.3l-5.5 5.6z" fill="#4acb84" stroke="#4acb84" stroke-width=".3"/>
<path d="M149.5 113.4l5.5-7.5l-5.2-4.6l-5.6 7.8zM176.3 113.1l5.5-6.7l-5.2-5.2l-5.6 7zM187.1 111.6l5.5-6.4l-5.2-5.5l-5.6 6.7zM197.8 110.6l5.6-6.1l-5.3-5.7l-5.5 6.4zM230.1 111.1l5.6-5.3l-5.3-6.6l-5.5 5.6zM240.9 112.4l5.5-5l-5.2-6.9l-5.5 5.3z" fill="#57cc7a" stroke="#57cc7a" stroke-width=".3"/>
<path d="M144.2 109.1l5.6-7.8l-5.3-4.6l-5.5 8.1zM160.2 110.5l5.6-7.2l-5.2-4.9l-5.6 7.5zM171 108.2l5.6-7l-5.2-5.1l-5.6 7.2zM208.6 110.2l5.5-5.8l-5.2-6l-5.5 6.1zM219.4 110.4l5.5-5.6l-5.2-6.3l-5.6 5.9z" fill="#64cd6f" stroke="#64cd6f" stroke-width=".3"/>
<path d="M155 105.9l5.6-7.5l-5.3-4.9l-5.5 7.8zM181.8 106.4l5.6-6.7l-5.3-5.4l-5.5 6.9zM192.6 105.2l5.5-6.4l-5.2-5.8l-5.5 6.7zM203.4 104.5l5.5-6.1l-5.2-6l-5.6 6.4zM214.1 104.4l5.6-5.9l-5.2-6.3l-5.6 6.2zM224.9 104.8l5.5-5.6l-5.2-6.5l-5.5 5.8zM235.7 105.8l5.5-5.3l-5.2-6.8l-5.6 5.5z" fill="#72cd64" stroke="#72cd64" stroke-width=".3"/>
<path d="M165.8 103.3l5.6-7.2l-5.3-5.2l-5.5 7.5z" fill="#81cc59" stroke="#81cc59" stroke-width=".3"/>
<path d="M149.8 101.3l5.5-7.8l-5.2-4.9l-5.6 8.1zM176.6 101.2l5.5-6.9l-5.2-5.5l-5.5 7.3zM187.4 99.7l5.5-6.7l-5.2-5.7l-5.6 7zM198.1 98.8l5.6-6.4l-5.2-6.1l-5.6 6.7zM208.9 98.4l5.6-6.2l-5.3-6.2l-5.5 6.4zM219.7 98.5l5.5-5.8l-5.2-6.6l-5.5 6.1zM230.4 99.2l5.6-5.5l-5.2-6.9l-5.6 5.9z" fill="#8fcb4e" stroke="#8fcb4e" stroke-width=".3"/>
<path d="M160.6 98.4l5.5-7.5l-5.2-5.2l-5.6 7.8zM171.4 96.1l5.5-7.3l-5.2-5.4l-5.6 7.5z" fill="#9dc943" stroke="#9dc943" stroke-width=".3"/>
<path d="M155.3 93.5l5.6-7.8l-5.3-5.2l-5.5 8.1zM182.1 94.3l5.6-7l-5.2-5.7l-5.6 7.2zM192.9 93l5.6-6.7l-5.3-6l-5.5 7zM203.7 92.4l5.5-6.4l-5.2-6.3l-5.5 6.6zM214.5 92.2l5.5-6.1l-5.2-6.6l-5.6 6.5zM225.2 92.7l5.6-5.9l-5.3-6.8l-5.5 6.1z" fill="#abc739" stroke="#abc739" stroke-width=".3"/>
<path d="M166.1 90.9l5.6-7.5l-5.3-5.5l-5.5 7.8z" fill="#b9c431" stroke="#b9c431" stroke-width=".3"/>
<path d="M176.9 88.8l5.6-7.2l-5.3-5.8l-5.5 7.6zM187.7 87.3l5.5-7l-5.2-6l-5.5 7.3zM198.5 86.3l5.5-6.6l-5.2-6.3l-5.6 6.9zM209.2 86l5.6-6.5l-5.2-6.5l-5.6 6.7zM220 86.1l5.5-6.1l-5.2-6.9l-5.5 6.4z" fill="#c5c22a" stroke="#c5c22a" stroke-width=".3"/>
<path d="M160.9 85.7l5.5-7.8l-5.2-5.4l-5.6 8zM171.7 83.4l5.5-7.6l-5.2-5.7l-5.6 7.8z" fill="#d1bf27" stroke="#d1bf27" stroke-width=".3"/>
<path d="M182.5 81.6l5.5-7.3l-5.2-6l-5.6 7.5zM193.2 80.3l5.6-6.9l-5.2-6.3l-5.6 7.2zM204 79.7l5.6-6.7l-5.3-6.6l-5.5 7zM214.8 79.5l5.5-6.4l-5.2-6.8l-5.5 6.7z" fill="#dcbd29" stroke="#dcbd29" stroke-width=".3"/>
<path d="M166.4 77.9l5.6-7.8l-5.2-5.7l-5.6 8.1z" fill="#e6bb2d" stroke="#e6bb2d" stroke-width=".3"/>
<path d="M177.2 75.8l5.6-7.5l-5.3-6l-5.5 7.8zM188 74.3l5.6-7.2l-5.3-6.3l-5.5 7.5zM198.8 73.4l5.5-7l-5.2-6.6l-5.5 7.3z" fill="#f0ba36" stroke="#f0ba36" stroke-width=".3"/>
<path d="M209.6 73l5.5-6.7l-5.2-6.8l-5.6 6.9z" fill="#f8ba3d" stroke="#f8ba3d" stroke-width=".3"/>
<path d="M172 70.1l5.5-7.8l-5.2-6l-5.5 8.1zM182.8 68.3l5.5-7.5l-5.2-6.3l-5.6 7.8z" fill="#febe3c" stroke="#febe3c" stroke-width=".3"/>
<path d="M193.6 67.1l5.5-7.3l-5.2-6.5l-5.6 7.5zM204.3 66.4l5.6-6.9l-5.2-6.9l-5.6 7.2z" fill="#fec338" stroke="#fec338" stroke-width=".3"/>
<path d="M177.5 62.3l5.6-7.8l-5.2-6.3l-5.6 8.1z" fill="#fec934" stroke="#fec934" stroke-width=".3"/>
<path d="M188.3 60.8l5.6-7.5l-5.2-6.6l-5.6 7.8zM199.1 59.8l5.6-7.2l-5.3-6.8l-5.5 7.5z" fill="#fccf30" stroke="#fccf30" stroke-width=".3"/>
<path d="M183.1 54.5l5.6-7.8l-5.3-6.5l-5.5 8zM193.9 53.3l5.5-7.5l-5.2-6.9l-5.5 7.8z" fill="#f7dc2a" stroke="#f7dc2a" stroke-width=".3"/>
<path d="M188.7 46.7l5.5-7.8l-5.2-6.8l-5.6 8.1z" fill="#f5e924" stroke="#f5e924" stroke-width=".3"/>
<path d="M182.3 230.8l-132.3 3.2M184.8 230.3l-132.3 0M187.3 229.8l-132.2-3.1M189.8 229.3l-132.2-6.3M192.3 228.8l-132.2-9.5M194.8 228.3l-132.2-12.7M197.3 227.8l-132.1-15.8M199.8 227.3l-132.1-19M202.3 226.8l-132.1-22.2M204.8 226.3l-132.1-25.3M207.2 225.8l-131.9-28.5M209.7 225.3l-131.9-31.7M212.2 224.8l-131.9-34.9M214.7 224.3l-131.8-38M217.2 223.8l-131.8-41.2M219.7 223.3l-131.8-44.4M222.2 222.8l-131.8-47.5M224.7 222.3l-131.7-50.7M227.2 221.8l-131.7-53.9M229.7 221.3l-131.7-57.1M232.2 220.8l-131.7-60.2M234.7 220.3l-131.6-63.4M237.2 219.8l-131.6-66.6M239.7 219.3l-131.6-69.7M242.2 218.8l-131.5-72.9M244.7 218.3l-131.5-76.1M247.2 217.8l-131.5-79.3M249.7 217.2l-131.5-82.3M252.1 216.7l-131.3-85.5M254.6 216.2l-131.3-88.7M257.1 215.7l-131.3-91.8M259.6 215.2l-131.3-95M262.1 214.7l-131.2-98.2M264.6 214.2l-131.2-101.4M267.1 213.7l-131.2-104.5M269.6 213.2l-131.1-107.7M272.1 212.7l-131.1-110.9M274.6 212.2l-131.1-114M277.1 211.7l-131.1-117.2M279.6 211.2l-131-120.4M282.1 210.7l-131-123.6M284.6 210.2l-131-126.7M287.1 209.7l-131-129.9M289.6 209.2l-130.9-133.1M292.1 208.7l-130.9-136.2M294.6 208.2l-130.9-139.4M297 207.7l-130.7-142.6M299.5 207.2l-130.7-145.8M302 206.7l-130.7-148.9M304.5 206.2l-130.7-152.1M307 205.7l-130.6-155.3M309.5 205.2l-130.6-158.4M312 204.7l-130.6-161.6M314.5 204.2l-130.6-164.8M317 203.7l-130.5-168M319.5 203.2l-130.5-171.1M182.3 230.8l137.2-27.6M179.9 230.9l137.2-30.8M177.5 230.9l137.3-33.9M175.1 231l137.3-37.1M172.7 231l137.3-40.3M170.3 231.1l137.3-43.5M167.9 231.1l137.4-46.6M165.5 231.2l137.4-49.8M163.1 231.3l137.4-53M160.7 231.3l137.4-56.1M158.2 231.4l137.6-59.3M155.8 231.4l137.6-62.4M153.4 231.5l137.6-65.6M151 231.6l137.7-68.9M148.6 231.6l137.7-72M146.2 231.7l137.7-75.2M143.8 231.7l137.7-78.3M141.4 231.8l137.8-81.5M139 231.8l137.8-84.6M136.6 231.9l137.8-87.8M134.2 232l137.8-91M131.8 232l137.9-94.1M129.4 232.1l137.9-97.4M127 232.1l137.9-100.5M124.6 232.2l138-103.7M122.2 232.3l138-106.9M119.8 232.3l138-110M117.4 232.4l138-113.2M114.9 232.4l138.2-116.3M112.5 232.5l138.2-119.5M110.1 232.5l138.2-122.6M107.7 232.6l138.2-125.9M105.3 232.7l138.3-129.1M102.9 232.7l138.3-132.2M100.5 232.8l138.3-135.4M98.1 232.8l138.4-138.5M95.7 232.9l138.4-141.7M93.3 233l138.4-144.9M90.9 233l138.4-148M88.5 233.1l138.5-151.2M86.1 233.1l138.5-154.4M83.7 233.2l138.5-157.6M81.3 233.2l138.5-160.7M78.9 233.3l138.6-163.9M76.5 233.4l138.6-167.1M74.1 233.4l138.6-170.2M71.6 233.5l138.8-173.4M69.2 233.5l138.8-176.5M66.8 233.6l138.8-179.7M64.4 233.7l138.8-183M62 233.7l138.9-186.1M59.6 233.8l138.9-189.3M57.2 233.8l138.9-192.4M54.8 233.9l138.9-195.6M52.4 233.9l139-198.7M50 234l139-201.9" stroke="#000" stroke-width="0.68" fill="none" stroke-opacity="1"/>
<text x="40.3" y="237.3" font-size="8.2" text-anchor="end">0</text>
<text x="40.3" y="204.1" font-size="8.2" text-anchor="end">100</text>
<text x="40.3" y="171" font-size="8.2" text-anchor="end">200</text>
<text x="40.3" y="137.8" font-size="8.2" text-anchor="end">300</text>
<text x="40.3" y="104.6" font-size="8.2" text-anchor="end">400</text>
<text x="40.3" y="71.5" font-size="8.2" text-anchor="end">500</text>
<text x="40.3" y="38.3" font-size="8.2" text-anchor="end">600</text>
<text x="46.8" y="251.8" font-size="8.2" text-anchor="middle">0</text>
<text x="72" y="252.3" font-size="8.2" text-anchor="middle">0.2</text>
<text x="99.6" y="253.3" font-size="8.2" text-anchor="middle">0.4</text>
<text x="127" y="254.3" font-size="8.2" text-anchor="middle">0.6</text>
<text x="155" y="254.8" font-size="8.2" text-anchor="middle">0.8</text>
<text x="186.6" y="254.8" font-size="8.2" text-anchor="middle">1</text>
<text x="191.7" y="254.4" font-size="8.2" text-anchor="middle">1</text>
<text x="221.2" y="253.9" font-size="8.2" text-anchor="middle">0.8</text>
<text x="246.8" y="253.3" font-size="8.2" text-anchor="middle">0.6</text>
<text x="273.1" y="252.2" font-size="8.2" text-anchor="middle">0.4</text>
<text x="299.3" y="251.3" font-size="8.2" text-anchor="middle">0.2</text>
<text x="321.9" y="250.9" font-size="8.2" text-anchor="middle">0</text>
<text transform="translate(18.4 136.6) rotate(-90)" font-size="9.8" fill="#3c3c3c">R<tspan font-size="6.8" dy="4.2">0</tspan></text>
<text x="118.3" y="262.3" font-size="9" fill="#5a5a5a" style="stroke:#5a5a5a;stroke-width:.12px"><tspan font-family="Liberation Serif" font-style="italic">&#946;</tspan><tspan font-size="6.8" dy="3.6" fill="#3c3c3c">2</tspan></text>
<text x="249.3" y="263.3" font-size="9" fill="#5a5a5a" style="stroke:#5a5a5a;stroke-width:.12px"><tspan font-family="Liberation Serif" font-style="italic">&#947;</tspan><tspan font-size="6.8" dy="3.6" fill="#3c3c3c">1</tspan></text>
<text x="185" y="22.3" font-size="9.5" font-weight="bold" text-anchor="middle" fill="#141414" style="stroke:#141414;stroke-width:.15px" textLength="124" lengthAdjust="spacing">1320 m ((2 q)/5 + 851/12500)</text>
<path d="M470 235.3l211-5.9M435 226.1l211-5.8M400 216.8l211-5.9M470 235.3l-70-18.5M512.2 234.1l-70-18.5M554.4 232.9l-70-18.5M596.6 231.8l-70-18.5M638.8 230.6l-70-18.5M681 229.4l-70-18.5M400 216.8l0-195.6M442.2 215.6l0-195.6M484.4 214.4l0-195.6M526.6 213.3l0-195.6M568.8 212.1l0-195.6M611 210.9l0-195.6M400 216.8l211-5.9M400 184.2l211-5.9M400 151.6l211-5.9M400 119l211-5.9M400 86.4l211-5.9M400 53.8l211-5.9M400 21.2l211-5.9M681 229.4l0-195.6M646 220.2l0-195.7M611 210.9l0-195.6M681 229.4l-70-18.5M681 196.8l-70-18.5M681 164.2l-70-18.5M681 131.6l-70-18.5M681 99l-70-18.5M681 66.4l-70-18.5M681 33.8l-70-18.5" stroke="#dcdcdc" stroke-width=".6" fill="none"/>
<path d="M400.5 216.8l0-195.6M400.5 216.8l-4.8-1.3M400.5 184.2l-4.8-1.3M400.5 151.6l-4.8-1.3M400.5 119l-4.8-1.3M400.5 86.4l-4.8-1.3M400.5 53.8l-4.8-1.3M400.5 21.2l-4.8-1.3M470 235.3l-70-18.5M470 235.3l0 4.5M435 226.1l0 4.6M400 216.8l0 4.5M470 235.3l211-5.9M470 235.3l0 4.5M512.2 234.1l0 4.5M554.4 232.9l0 4.5M596.6 231.8l0 4.5M638.8 230.6l0 4.5M681 229.4l0 4.5" stroke="#4d4d4d" stroke-width="0.8" fill="none"/>
<path d="M467.6 234.7l3.5-6.6l-1.2 1.8l-3.5 4.4zM466.4 234.3l3.5-4.4l-1.2 0.8l-3.5 3.3zM465.2 234l3.5-3.3l-1.2 0.3l-3.5 2.7zM464 233.7l7-5.4l-1.2 0.6l-7 4.5zM462.8 233.4l7-4.5l-1.2 0.3l-7 3.9zM461.6 233.1l7-3.9l-1.2 0.1l-7.1 3.4zM460.3 232.7l7.1-3.4l-1.2 0.1l-7.1 3zM459.1 232.4l7.1-3l-1.2-0.1l-7.1 2.8zM457.9 232.1l10.6-4.2l-1.2 0.1l-10.6 3.8zM456.7 231.8l10.6-3.8l-1.2 0l-10.6 3.5zM455.5 231.5l10.6-3.5l-1.2-0.1l-10.6 3.3zM454.3 231.2l10.6-3.3l-1.2-0.1l-10.6 3zM453.1 230.8l14.1-4l-1.2-0.1l-14.1 3.8zM451.9 230.5l14.1-3.8l-1.2-0.1l-14.1 3.6zM450.7 230.2l14.1-3.6l-1.3-0.2l-14 3.5zM449.5 229.9l14-3.5l-1.2-0.1l-14 3.3zM448.3 229.6l14-3.3l-1.2-0.2l-14 3.1zM447.1 229.2l17.6-3.8l-1.3-0.2l-17.5 3.7zM445.9 228.9l17.5-3.7l-1.2-0.2l-17.5 3.6zM444.7 228.6l17.5-3.6l-1.2-0.1l-17.6 3.4zM443.4 228.3l17.6-3.4l-1.2-0.2l-17.6 3.3zM442.2 228l21.1-4l-1.2-0.2l-21.1 3.8zM441 227.6l21.1-3.8l-1.2-0.2l-21.1 3.7zM439.8 227.3l21.1-3.7l-1.2-0.2l-21.1 3.6zM438.6 227l21.1-3.6l-1.2-0.2l-21.1 3.5zM437.4 226.7l21.1-3.5l-1.2-0.2l-21.1 3.4zM436.2 226.4l24.6-3.9l-1.2-0.3l-24.6 3.8zM435 226.1l24.6-3.8l-1.2-0.2l-24.6 3.7zM433.8 225.7l24.6-3.7l-1.2-0.2l-24.6 3.6zM432.6 225.4l24.6-3.6l-1.2-0.2l-24.6 3.5zM431.4 225.1l24.6-3.5l-1.2-0.3l-24.6 3.5zM430.2 224.8l28.1-3.9l-1.2-0.3l-28.1 3.9zM429 224.5l28.1-3.9l-1.2-0.2l-28.1 3.7zM427.8 224.1l28.1-3.7l-1.2-0.2l-28.1 3.6zM426.6 223.8l28.1-3.6l-1.2-0.3l-28.2 3.6zM425.3 223.5l31.7-4l-1.2-0.3l-31.7 4zM424.1 223.2l31.7-4l-1.2-0.2l-31.7 3.9zM422.9 222.9l31.7-3.9l-1.2-0.2l-31.7 3.7zM421.7 222.5l31.7-3.7l-1.2-0.3l-31.7 3.7zM420.5 222.2l31.7-3.7l-1.2-0.2l-31.7 3.6zM419.3 221.9l35.2-4.1l-1.2-0.2l-35.2 4zM418.1 221.6l35.2-4l-1.2-0.2l-35.2 3.9zM416.9 221.3l35.2-3.9l-1.2-0.3l-35.2 3.8zM415.7 220.9l35.2-3.8l-1.3-0.3l-35.1 3.8zM414.5 220.6l38.7-4.1l-1.2-0.3l-38.7 4.1zM413.3 220.3l38.7-4.1l-1.2-0.2l-38.7 4zM412.1 220l38.7-4l-1.3-0.3l-38.6 4zM410.9 219.7l38.6-4l-1.2-0.3l-38.6 4zM409.7 219.4l38.6-4l-1.2-0.2l-38.7 3.8zM408.4 219l42.2-4.2l-1.2-0.2l-42.2 4.1zM407.2 218.7l42.2-4.1l-1.2-0.3l-42.2 4.1zM406 218.4l42.2-4.1l-1.2-0.3l-42.2 4.1zM404.8 218.1l42.2-4.1l-1.2-0.2l-42.2 4zM403.6 217.8l45.7-4.4l-1.2-0.2l-45.7 4.2zM402.4 217.4l45.7-4.2l-1.2-0.3l-45.7 4.2zM401.2 217.1l45.7-4.2l-1.2-0.3l-45.7 4.2z" fill="#3e26a8" stroke="#3e26a8" stroke-width=".3"/>
<path d="M469.9 229.9l3.5-4.4l-1.2 1.9l-3.5 3.3zM468.7 230.7l3.5-3.3l-1.2 0.9l-3.5 2.7zM471 228.3l3.5-2.6l-1.2 0.9l-3.5 2.3zM469.8 228.9l3.5-2.3l-1.2 0.6l-3.5 2zM468.6 229.2l7-3.9l-1.2 0.6l-7 3.4zM467.4 229.3l7-3.4l-1.2 0.4l-7 3.1zM466.2 229.4l7-3.1l-1.2 0.3l-7 2.7zM468.5 227.9l7-2.7l-1.2 0.2l-7 2.6zM467.3 228l7-2.6l-1.2 0.2l-7 2.4zM466.1 228l10.5-3.6l-1.2 0.2l-10.5 3.3zM464.9 227.9l10.5-3.3l-1.2 0.1l-10.5 3.1zM467.2 226.8l7-2.1l-1.2 0.1l-7 1.9zM466 226.7l10.5-2.9l-1.2 0.1l-10.5 2.7zM464.8 226.6l10.5-2.7l-1.2 0l-10.6 2.5zM463.5 226.4l14.1-3.4l-1.2 0l-14.1 3.3zM462.3 226.3l14.1-3.3l-1.2 0l-14.1 3.1zM464.7 225.4l10.5-2.4l-1.2 0l-10.6 2.2zM463.4 225.2l14.1-3l-1.2 0l-14.1 2.8zM462.2 225l14.1-2.8l-1.2-0.1l-14.1 2.8zM461 224.9l17.6-3.5l-1.2 0l-17.6 3.3zM463.3 224l14.1-2.6l-1.2-0.1l-14.1 2.5zM462.1 223.8l14.1-2.5l-1.2-0.1l-14.1 2.4zM460.9 223.6l17.6-3l-1.2-0.1l-17.6 2.9zM459.7 223.4l17.6-2.9l-1.2-0.1l-17.6 2.8zM458.5 223.2l21.1-3.4l-1.2-0.1l-21.1 3.3zM460.8 222.5l17.6-2.8l-1.2-0.2l-17.6 2.7zM459.6 222.2l17.6-2.7l-1.2-0.1l-17.6 2.6zM458.4 222l21.1-3.1l-1.2-0.2l-21.1 3.1zM457.2 221.8l21.1-3.1l-1.2-0.1l-21.1 3zM456 221.6l24.6-3.5l-1.2-0.2l-24.6 3.4zM458.3 220.9l21.1-3l-1.2-0.1l-21.1 2.8zM457.1 220.6l21.1-2.8l-1.2-0.2l-21.1 2.8zM455.9 220.4l24.6-3.3l-1.2-0.1l-24.6 3.2zM454.7 220.2l24.6-3.2l-1.2-0.2l-24.6 3.1zM457 219.5l24.6-3.2l-1.2-0.1l-24.6 3zM455.8 219.2l24.6-3l-1.2-0.2l-24.6 3zM454.6 219l24.6-3l-1.2-0.2l-24.6 3zM453.4 218.8l28.1-3.4l-1.2-0.2l-28.1 3.3zM452.2 218.5l28.1-3.3l-1.2-0.2l-28.1 3.3zM454.5 217.8l28.1-3.2l-1.2-0.2l-28.1 3.2zM453.3 217.6l28.1-3.2l-1.2-0.2l-28.1 3.2zM452.1 217.4l28.1-3.2l-1.2-0.2l-28.1 3.1zM450.9 217.1l31.6-3.5l-1.2-0.2l-31.7 3.4zM453.2 216.5l28.1-3.1l-1.2-0.2l-28.1 3zM452 216.2l31.6-3.3l-1.2-0.3l-31.6 3.4zM450.8 216l31.6-3.4l-1.2-0.2l-31.7 3.3zM449.5 215.7l31.7-3.3l-1.2-0.2l-31.7 3.2zM448.3 215.4l35.2-3.5l-1.2-0.2l-35.2 3.5zM450.6 214.8l31.7-3.1l-1.2-0.3l-31.7 3.2zM449.4 214.6l35.2-3.5l-1.2-0.2l-35.2 3.4zM448.2 214.3l35.2-3.4l-1.2-0.2l-35.2 3.3zM447 214l35.2-3.3l-1.2-0.3l-35.2 3.4zM449.3 213.4l35.2-3.3l-1.2-0.2l-35.2 3.3zM448.1 213.2l35.2-3.3l-1.2-0.2l-35.2 3.2zM446.9 212.9l38.7-3.6l-1.2-0.2l-38.7 3.5z" fill="#402ab4" stroke="#402ab4" stroke-width=".3"/>
<path d="M471.1 228.1l3.5-6.5l-1.2 3.9l-3.5 4.4zM472.2 227.4l3.5-3.3l-1.2 1.6l-3.5 2.6zM474.5 225.7l3.5-2.7l-1.2 1.4l-3.5 2.2zM473.3 226.6l3.5-2.2l-1.2 0.9l-3.5 1.9zM477.9 224.2l3.5-1.7l-1.2 0.7l-3.5 1.6zM476.7 224.8l3.5-1.6l-1.2 0.6l-3.5 1.4zM481.3 222.9l3.6-1.3l-1.2 0.5l-3.6 1.2z" fill="#422ec0" stroke="#422ec0" stroke-width=".3"/>
<path d="M473.4 225.5l3.5-4.4l-1.2 3l-3.5 3.3zM475.7 224.1l3.5-3.4l-1.2 2.3l-3.5 2.7zM478 223l3.5-2.7l-1.2 1.8l-3.5 2.3zM476.8 224.4l7.1-4.5l-1.2 1.5l-7.1 3.9zM479.1 223.4l7.1-3.9l-1.2 1.3l-7.1 3.4zM481.4 222.5l3.6-1.7l-1.2 0.9l-3.6 1.5zM480.2 223.2l7.1-3l-1.2 0.8l-7.1 2.8zM482.5 222.4l7.1-2.8l-1.2 0.8l-7.1 2.5zM484.9 221.6l7-2.5l-1.2 0.6l-7 2.4zM483.7 222.1l10.5-3.5l-1.2 0.6l-10.6 3.2zM486 221.3l10.5-3.2l-1.2 0.5l-10.5 3.1zM488.3 220.6l10.5-3l-1.2 0.5l-10.5 2.8zM490.6 220l10.5-2.9l-1.2 0.4l-10.5 2.7zM492.9 219.3l7-1.8l-1.2 0.4l-7 1.7zM498.7 217.9l3.5-0.9l-1.2 0.3l-3.5 0.8zM501 217.3l3.5-0.8l-1.2 0.3l-3.5 0.8zM503.3 216.8l3.6-0.8l-1.3 0.3l-3.5 0.7z" fill="#4332cb" stroke="#4332cb" stroke-width=".3"/>
<path d="M474.6 221.6l3.5-6.6l-1.2 6.1l-3.5 4.4zM476.9 221.1l3.5-4.4l-1.2 4l-3.5 3.4zM479.2 220.7l3.6-3.3l-1.3 2.9l-3.5 2.7zM481.5 220.3l3.6-2.7l-1.2 2.3l-3.6 2.2zM483.9 219.9l3.5-2.3l-1.2 1.9l-3.5 1.9zM486.2 219.5l3.5-2l-1.2 1.6l-3.5 1.7zM485 220.8l7-3.5l-1.2 1.3l-7 3.1zM487.3 220.2l7-3.1l-1.2 1.1l-7 2.8zM489.6 219.6l7-2.8l-1.2 1l-7 2.6zM491.9 219.1l10.5-3.8l-1.2 0.9l-10.5 3.5zM494.2 218.6l10.6-3.6l-1.3 0.9l-10.5 3.3zM496.5 218.1l10.6-3.3l-1.2 0.7l-10.6 3.1zM498.8 217.6l10.6-3.1l-1.2 0.7l-10.6 2.9zM501.1 217.1l10.6-2.9l-1.2 0.6l-10.6 2.7zM499.9 217.5l14.1-3.6l-1.2 0.5l-14.1 3.5zM502.2 217l14.1-3.4l-1.2 0.5l-14.1 3.2zM504.5 216.5l14.1-3.2l-1.2 0.4l-14.1 3.1zM506.9 216l14-3.1l-1.2 0.4l-14.1 3zM509.2 215.5l14-2.9l-1.2 0.3l-14 2.9zM511.5 215.1l14-2.9l-1.2 0.3l-14 2.8zM513.8 214.6l17.6-3.4l-1.2 0.3l-17.6 3.3zM523.1 212.8l10.6-2l-1.2 0.3l-10.6 1.9zM525.4 212.4l10.6-1.9l-1.2 0.2l-10.6 1.9zM531.3 211.4l7-1.3l-1.2 0.3l-7 1.1zM537.1 210.4l3.5-0.6l-1.2 0.2l-3.5 0.6z" fill="#4537d5" stroke="#4537d5" stroke-width=".3"/>
<path d="M482.8 217.4l3.5-3.3l-1.2 3.5l-3.6 2.7zM485.1 217.6l3.5-2.6l-1.2 2.6l-3.5 2.3zM487.4 217.6l3.5-2.2l-1.2 2.1l-3.5 2zM489.7 217.5l7-3.8l-1.2 1.9l-7 3.5zM492 217.3l7-3.4l-1.2 1.7l-7 3zM494.3 217.1l7-3.1l-1.2 1.4l-7 2.8zM496.6 216.8l10.6-4.1l-1.2 1.3l-10.6 3.8zM502.4 215.3l7.1-2.6l-1.2 1.2l-7.1 2.3zM504.8 215l7-2.3l-1.2 1l-7.1 2.2zM507.1 214.8l10.5-3.3l-1.2 1l-10.5 3zM509.4 214.5l10.5-3l-1.2 0.8l-10.5 2.9zM511.7 214.2l10.5-2.9l-1.2 0.8l-10.5 2.7zM514 213.9l14.1-3.6l-1.3 0.7l-14 3.4zM516.3 213.6l14.1-3.4l-1.2 0.6l-14.1 3.3zM518.6 213.3l14.1-3.3l-1.2 0.6l-14.1 3.1zM520.9 212.9l14.1-3.1l-1.2 0.5l-14.1 3zM523.2 212.6l17.6-3.8l-1.2 0.6l-17.6 3.5zM525.5 212.2l17.6-3.6l-1.2 0.5l-17.6 3.4zM531.4 211.2l14-2.8l-1.2 0.4l-14 2.7zM533.7 210.8l17.6-3.3l-1.2 0.4l-17.6 3.2zM536 210.5l17.6-3.2l-1.2 0.4l-17.6 3zM538.3 210.1l17.6-3l-1.2 0.3l-17.6 3zM544.1 209.2l17.6-3l-1.2 0.3l-17.6 2.9zM542.9 209.4l7-1.1l-1.2 0.2l-7 1.1zM553.5 207.7l10.5-1.8l-1.2 0.3l-10.5 1.7zM552.3 207.9l14-2.2l-1.2 0.3l-14.1 2.1zM551 208.1l7.1-1.1l-1.2 0.2l-7.1 1.1zM561.6 206.5l10.6-1.6l-1.3 0.2l-10.5 1.6zM563.9 206.2l10.6-1.6l-1.2 0.2l-10.6 1.6zM562.7 206.4l14.1-2.1l-1.2 0.2l-14.1 2zM586 203.1l3.5-0.4l-1.2 0.1l-3.5 0.5z" fill="#463cde" stroke="#463cde" stroke-width=".3"/>
<path d="M478.1 215l3.6-6.5l-1.3 8.2l-3.5 4.4zM480.4 216.7l3.6-4.4l-1.2 5.1l-3.6 3.3zM486.3 214.1l3.5-3.3l-1.2 4.2l-3.5 2.6zM488.6 215l3.5-2.7l-1.2 3.1l-3.5 2.2zM490.9 215.4l7-4.5l-1.2 2.8l-7 3.8zM496.7 213.7l3.5-2l-1.2 2.2l-3.5 1.7zM499 213.9l7.1-3.4l-1.2 2l-7.1 3.1zM501.3 214l7.1-3l-1.2 1.7l-7.1 2.7zM507.2 212.7l7-2.8l-1.2 1.6l-7 2.5zM509.5 212.7l7-2.5l-1.2 1.3l-7 2.4zM511.8 212.7l10.5-3.5l-1.2 1.2l-10.5 3.3zM517.6 211.5l7-2.2l-1.2 1.1l-7 2.1zM519.9 211.5l10.6-3.1l-1.2 1l-10.6 2.9zM522.2 211.3l10.6-2.8l-1.2 0.9l-10.6 2.7zM528.1 210.3l10.5-2.7l-1.2 0.8l-10.6 2.6zM530.4 210.2l14-3.5l-1.2 0.9l-14 3.2zM532.7 210l14-3.3l-1.2 0.8l-14 3.1zM535 209.8l17.6-3.9l-1.2 0.7l-17.6 3.7zM540.8 208.8l14.1-2.9l-1.2 0.6l-14.1 2.9zM543.1 208.6l17.6-3.5l-1.2 0.6l-17.6 3.4zM545.4 208.4l17.6-3.4l-1.2 0.5l-17.6 3.3zM551.3 207.5l17.5-3.3l-1.2 0.6l-17.5 3.1zM553.6 207.3l17.6-3.2l-1.3 0.5l-17.5 3.1zM555.9 207.1l21.1-3.7l-1.2 0.4l-21.1 3.6zM561.7 206.2l17.6-3l-1.2 0.4l-17.6 2.9zM564 205.9l21.1-3.4l-1.2 0.4l-21.1 3.3zM566.3 205.7l21.1-3.4l-1.2 0.4l-21.1 3.3zM572.1 204.9l21-3.3l-1.2 0.4l-21.1 3.1zM574.5 204.6l21.1-3.2l-1.2 0.3l-21.1 3.1zM576.8 204.3l24.6-3.6l-1.2 0.3l-24.6 3.5zM586.1 203l17.6-2.5l-1.2 0.3l-17.6 2.4zM595.5 201.8l14-2l-1.2 0.3l-14.1 1.9zM594.2 202l3.6-0.5l-1.2 0.2l-3.6 0.5zM601.3 201l14-1.9l-1.2 0.3l-14 1.9zM607.1 200.3l10.6-1.4l-1.2 0.3l-10.6 1.3zM595.4 201.9l3.5-0.5l-1.2 0.2l-3.6 0.4zM609.4 200.1l14.1-1.9l-1.2 0.3l-14.1 1.8zM615.2 199.4l10.6-1.4l-1.2 0.2l-10.6 1.3zM617.6 199.1l10.5-1.3l-1.2 0.2l-10.6 1.3zM623.4 198.4l3.5-0.4l-1.2 0.1l-3.5 0.5zM625.7 198.1l3.5-0.4l-1.2 0.2l-3.5 0.4z" fill="#4741e5" stroke="#4741e5" stroke-width=".3"/>
<path d="M484 212.3l3.5-4.4l-1.2 6.2l-3.5 3.3zM492.1 212.3l3.5-2.7l-1.2 3.5l-3.5 2.3zM497.9 210.9l3.5-2.2l-1.2 3l-3.5 2zM500.2 211.7l7.1-3.9l-1.2 2.7l-7.1 3.4zM506.1 210.5l3.5-1.7l-1.2 2.2l-3.5 1.5zM508.4 211l7-3.1l-1.2 2l-7 2.8zM514.2 209.9l7-2.8l-1.2 1.8l-7 2.6zM516.5 210.2l10.6-3.8l-1.2 1.6l-10.6 3.5zM522.3 209.2l10.6-3.5l-1.2 1.5l-10.6 3.2zM524.6 209.3l10.6-3.2l-1.2 1.3l-10.6 3zM530.5 208.4l10.5-3.1l-1.2 1.3l-10.5 2.8zM532.8 208.5l14-3.9l-1.2 1.2l-14 3.6zM538.6 207.6l10.6-2.7l-1.3 1l-10.5 2.5zM544.4 206.7l10.6-2.5l-1.2 0.9l-10.6 2.5zM546.7 206.7l14.1-3.2l-1.2 0.9l-14.1 3.1zM552.6 205.9l14-3.1l-1.2 0.8l-14 3zM554.9 205.9l14-3l-1.2 0.8l-14 2.8zM560.7 205.1l14.1-2.9l-1.2 0.7l-14.1 2.8zM563 205l17.6-3.4l-1.2 0.7l-17.6 3.2zM568.8 204.2l17.6-3.3l-1.2 0.7l-17.6 3.2zM571.2 204.1l21.1-3.8l-1.3 0.6l-21.1 3.7zM577 203.4l17.6-3.1l-1.2 0.5l-17.6 3zM579.3 203.2l21.1-3.5l-1.2 0.5l-21.1 3.4zM585.1 202.5l21.1-3.5l-1.2 0.5l-21.1 3.4zM587.4 202.3l21.1-3.3l-1.2 0.4l-21.1 3.3zM593.2 201.6l21.2-3.3l-1.3 0.5l-21.1 3.2zM595.6 201.4l24.6-3.7l-1.2 0.4l-24.6 3.6zM601.4 200.7l24.6-3.6l-1.2 0.4l-24.6 3.5zM603.7 200.5l24.6-3.5l-1.2 0.4l-24.6 3.4zM609.5 199.8l24.6-3.4l-1.2 0.3l-24.6 3.4zM615.3 199.1l24.7-3.3l-1.2 0.3l-24.7 3.3zM617.7 198.9l21.1-2.8l-1.2 0.3l-21.1 2.8zM623.5 198.2l14.1-1.8l-1.3 0.3l-14 1.8zM629.3 197.6l7-0.9l-1.2 0.2l-7 0.9zM631.6 197.3l3.5-0.4l-1.2 0.2l-3.5 0.4z" fill="#4747eb" stroke="#4747eb" stroke-width=".3"/>
<path d="M489.8 210.8l3.5-3.4l-1.2 4.9l-3.5 2.7zM495.6 209.6l3.5-2.7l-1.2 4l-3.5 2.2zM501.4 208.7l3.6-2.3l-1.2 3.4l-3.6 1.9zM507.3 207.8l3.5-1.9l-1.2 2.9l-3.5 1.7zM509.6 208.8l7-3.4l-1.2 2.5l-7 3.1zM515.4 207.9l7-3l-1.2 2.2l-7 2.8zM521.2 207.1l7.1-2.8l-1.2 2.1l-7.1 2.5zM527.1 206.4l7-2.6l-1.2 1.9l-7 2.3zM532.9 205.7l7-2.4l-1.2 1.7l-7 2.2zM535.2 206.1l10.5-3.3l-1.2 1.5l-10.5 3.1zM541 205.3l10.6-3l-1.2 1.4l-10.6 2.9zM546.8 204.6l10.6-2.8l-1.2 1.3l-10.6 2.7zM549.2 204.9l14-3.7l-1.2 1.2l-14.1 3.5zM555 204.2l14-3.5l-1.2 1.1l-14 3.3zM560.8 203.5l14.1-3.3l-1.2 1.1l-14.1 3.1zM566.6 202.8l14.1-3.1l-1.2 1l-14.1 2.9zM568.9 202.9l17.6-3.7l-1.2 0.9l-17.6 3.6zM574.8 202.2l17.6-3.5l-1.3 0.8l-17.5 3.4zM580.6 201.6l17.6-3.4l-1.2 0.8l-17.6 3.3zM586.4 200.9l17.6-3.3l-1.2 0.8l-17.6 3.2zM592.3 200.3l17.5-3.2l-1.2 0.7l-17.6 3.1zM594.6 200.3l21.1-3.7l-1.2 0.7l-21.1 3.5zM600.4 199.7l21.1-3.6l-1.2 0.6l-21.1 3.5zM606.2 199l21.1-3.4l-1.2 0.6l-21.1 3.3zM608.5 199l24.6-3.9l-1.2 0.5l-24.6 3.8zM614.4 198.3l24.6-3.8l-1.2 0.6l-24.7 3.7zM620.2 197.7l24.6-3.7l-1.2 0.5l-24.6 3.6zM626 197.1l17.6-2.6l-1.2 0.5l-17.6 2.5zM628.3 197l14.1-2l-1.2 0.4l-14.1 2zM634.1 196.4l7.1-1l-1.2 0.4l-7.1 0.9z" fill="#484df0" stroke="#484df0" stroke-width=".3"/>
<path d="M481.7 208.5l3.5-6.6l-1.2 10.4l-3.6 4.4zM487.5 207.9l3.5-4.3l-1.2 7.2l-3.5 3.3zM493.3 207.4l3.5-3.3l-1.2 5.5l-3.5 2.7zM499.1 206.9l3.5-2.7l-1.2 4.5l-3.5 2.2zM505 206.4l7-4.5l-1.2 4l-7 3.9zM510.8 205.9l7-3.9l-1.2 3.4l-7 3.4zM516.6 205.4l7-3.5l-1.2 3l-7 3zM522.4 204.9l7.1-3.1l-1.2 2.5l-7.1 2.8zM528.3 204.3l7-2.7l-1.2 2.2l-7 2.6zM534.1 203.8l10.5-3.8l-1.2 2.1l-10.5 3.6zM539.9 203.3l10.6-3.5l-1.2 1.9l-10.6 3.3zM545.7 202.8l10.6-3.3l-1.2 1.8l-10.6 3zM551.6 202.3l10.5-3.1l-1.2 1.6l-10.5 2.9zM557.4 201.8l10.5-2.9l-1.2 1.4l-10.5 2.8zM563.2 201.2l10.6-2.7l-1.2 1.4l-10.6 2.5zM569 200.7l14.1-3.4l-1.2 1.3l-14.1 3.2zM574.9 200.2l14-3.2l-1.2 1.1l-14 3.2zM580.7 199.7l14.1-3.1l-1.2 1.1l-14.1 3zM586.5 199.2l14.1-3l-1.2 1l-14.1 2.9zM592.4 198.7l14-2.9l-1.2 1l-14.1 2.7zM598.2 198.2l17.6-3.5l-1.2 1l-17.6 3.3zM604 197.6l17.6-3.3l-1.2 0.9l-17.6 3.2zM609.8 197.1l17.6-3.2l-1.2 0.9l-17.6 3zM615.7 196.6l17.5-3.1l-1.2 0.8l-17.5 3zM621.5 196.1l17.6-3l-1.2 0.7l-17.6 2.9zM627.3 195.6l21.1-3.5l-1.2 0.7l-21.1 3.4zM633.1 195.1l14.1-2.3l-1.2 0.7l-14.1 2.1zM639 194.5l7-1l-1.2 0.5l-7 1.1z" fill="#4852f4" stroke="#4852f4" stroke-width=".3"/>
<path d="M491 203.6l3.5-4.4l-1.2 8.2l-3.5 3.4zM496.8 204.1l3.5-3.3l-1.2 6.1l-3.5 2.7zM502.6 204.2l7.1-5.3l-1.2 5.3l-7.1 4.5zM512 201.9l3.5-2.2l-1.2 4.2l-3.5 2zM517.8 202l3.5-1.9l-1.2 3.6l-3.5 1.7zM523.6 201.9l7.1-3.4l-1.2 3.3l-7.1 3.1zM529.5 201.8l7-3.1l-1.2 2.9l-7 2.7zM535.3 201.6l10.5-4.2l-1.2 2.6l-10.5 3.8zM544.6 200l7.1-2.5l-1.2 2.3l-7.1 2.3zM550.5 199.8l7-2.4l-1.2 2.1l-7 2.2zM556.3 199.5l10.5-3.3l-1.2 2l-10.5 3.1zM562.1 199.2l10.6-3l-1.2 1.7l-10.6 2.9zM567.9 198.9l14.1-3.8l-1.2 1.6l-14.1 3.6zM573.8 198.5l14-3.6l-1.2 1.5l-14 3.5zM583.1 197.3l10.6-2.6l-1.2 1.4l-10.6 2.5zM588.9 197l14.1-3.3l-1.2 1.3l-14.1 3.1zM594.8 196.6l14-3.1l-1.2 1.2l-14 3zM600.6 196.2l17.6-3.7l-1.2 1.2l-17.6 3.5zM606.4 195.8l17.6-3.5l-1.2 1.1l-17.6 3.4zM615.8 194.7l14-2.7l-1.2 1l-14 2.7zM621.6 194.3l17.6-3.3l-1.2 1l-17.6 3.2zM627.4 193.9l17.6-3.1l-1.2 0.9l-17.6 3.1zM633.2 193.5l17.6-3l-1.2 0.8l-17.6 3zM639.1 193.1l10.5-1.8l-1.2 0.8l-10.5 1.7z" fill="#4758f8" stroke="#4758f8" stroke-width=".3"/>
<path d="M485.2 201.9l3.5-6.5l-1.2 12.5l-3.5 4.4zM500.3 200.8l3.6-3.3l-1.3 6.7l-3.5 2.7zM509.7 198.9l3.5-2.7l-1.2 5.7l-3.5 2.3zM515.5 199.7l3.5-2.3l-1.2 4.6l-3.5 1.9zM521.3 200.1l7.1-3.9l-1.2 4l-7.1 3.5zM530.7 198.5l7-3.4l-1.2 3.6l-7 3.1zM536.5 198.7l7-3l-1.2 3.1l-7 2.8zM545.8 197.4l7.1-2.8l-1.2 2.9l-7.1 2.5zM551.7 197.5l7-2.6l-1.2 2.5l-7 2.4zM557.5 197.4l10.6-3.5l-1.3 2.3l-10.5 3.3zM566.8 196.2l10.6-3.2l-1.2 2.1l-10.6 3.1zM572.7 196.2l10.5-3.1l-1.2 2l-10.5 2.8zM582 195.1l10.6-2.9l-1.2 1.8l-10.6 2.7zM587.8 194.9l14.1-3.6l-1.2 1.7l-14.1 3.4zM593.7 194.7l14-3.4l-1.2 1.6l-14 3.2zM603 193.7l14.1-3.3l-1.2 1.5l-14.1 3.1zM608.8 193.5l14.1-3.1l-1.2 1.4l-14.1 2.9zM618.2 192.5l14-3l-1.2 1.3l-14 2.9zM624 192.3l17.6-3.6l-1.2 1.2l-17.6 3.5zM629.8 192l17.6-3.4l-1.2 1.1l-17.6 3.3zM639.2 191l14-2.6l-1.2 1.1l-14 2.5zM645 190.8l7-1.3l-1.2 1l-7 1.2z" fill="#465efb" stroke="#465efb" stroke-width=".3"/>
<path d="M494.5 199.2l3.5-4.4l-1.2 9.3l-3.5 3.3zM503.9 197.5l3.5-3.4l-1.2 7.5l-3.6 2.6zM513.2 196.2l3.5-2.7l-1.2 6.2l-3.5 2.2zM519 197.4l7.1-4.5l-1.2 5.2l-7.1 3.9zM528.4 196.2l3.5-2l-1.2 4.3l-3.5 1.7zM537.7 195.1l3.5-1.7l-1.2 3.8l-3.5 1.5zM543.5 195.7l7.1-3.1l-1.2 3.4l-7.1 2.8zM552.9 194.6l7-2.8l-1.2 3.1l-7 2.6zM558.7 194.9l10.6-3.8l-1.2 2.8l-10.6 3.5zM568.1 193.9l10.5-3.5l-1.2 2.6l-10.6 3.2zM577.4 193l7-2.2l-1.2 2.3l-7 2zM583.2 193.1l10.6-3.1l-1.2 2.2l-10.6 2.9zM592.6 192.2l10.5-2.9l-1.2 2l-10.5 2.7zM601.9 191.3l10.6-2.7l-1.3 1.8l-10.5 2.6zM607.7 191.3l14.1-3.4l-1.2 1.7l-14.1 3.3zM617.1 190.4l14-3.2l-1.2 1.6l-14 3.1zM622.9 190.4l17.6-3.9l-1.2 1.5l-17.6 3.8zM632.2 189.5l14.1-3l-1.2 1.5l-14.1 2.8zM641.6 188.7l14.1-2.9l-1.3 1.4l-14 2.7zM647.4 188.6l7-1.4l-1.2 1.2l-7 1.3z" fill="#4563fd" stroke="#4563fd" stroke-width=".3"/>
<path d="M488.7 195.4l3.5-6.6l-1.2 14.8l-3.5 4.3zM498 194.8l3.5-4.4l-1.2 10.4l-3.5 3.3zM507.4 194.1l3.5-3.3l-1.2 8.1l-3.5 2.7zM516.7 193.5l3.5-2.7l-1.2 6.6l-3.5 2.3zM526.1 192.9l3.5-2.2l-1.2 5.5l-3.5 1.9zM531.9 194.2l7-3.8l-1.2 4.7l-7 3.4zM541.2 193.4l7.1-3.4l-1.2 4.1l-7.1 3.1zM550.6 192.6l7-3.1l-1.2 3.7l-7 2.8zM559.9 191.8l7-2.7l-1.2 3.3l-7 2.5zM569.3 191.1l7-2.5l-1.2 3l-7 2.3zM578.6 190.4l7-2.3l-1.2 2.7l-7 2.2zM584.4 190.8l10.6-3.3l-1.2 2.5l-10.6 3.1zM593.8 190l10.5-3l-1.2 2.3l-10.5 2.9zM603.1 189.3l10.6-2.9l-1.2 2.2l-10.6 2.7zM612.5 188.6l10.5-2.7l-1.2 2l-10.6 2.5zM621.8 187.9l14.1-3.5l-1.2 2l-14.1 3.2zM631.1 187.2l14.1-3.3l-1.2 1.8l-14.1 3.1zM640.5 186.5l14.1-3.1l-1.3 1.7l-14 2.9zM646.3 186.5l10.6-2.2l-1.2 1.5l-10.6 2.2z" fill="#4269fe" stroke="#4269fe" stroke-width=".3"/>
<path d="M510.9 190.8l3.5-3.3l-1.2 8.7l-3.5 2.7zM520.2 190.8l3.5-2.6l-1.2 7l-3.5 2.2zM529.6 190.7l3.5-2.3l-1.2 5.8l-3.5 2zM538.9 190.4l3.5-2l-1.2 5l-3.5 1.7zM548.3 190l7-3.4l-1.2 4.5l-7 3zM557.6 189.5l7-3l-1.2 4l-7 2.7zM566.9 189.1l7.1-2.8l-1.2 3.5l-7.1 2.6zM576.3 188.6l10.5-3.8l-1.2 3.3l-10.5 3.5zM585.6 188.1l10.6-3.6l-1.2 3l-10.6 3.3zM595 187.5l10.5-3.2l-1.2 2.7l-10.5 3zM604.3 187l10.6-3.1l-1.2 2.5l-10.6 2.9zM613.7 186.4l14-3.8l-1.2 2.4l-14 3.6zM623 185.9l14.1-3.7l-1.2 2.2l-14.1 3.5zM635.9 184.4l10.5-2.5l-1.2 2l-10.5 2.5zM645.2 183.9l14.1-3.2l-1.2 1.9l-14.1 3.1zM654.6 183.4l3.5-0.8l-1.2 1.7l-3.6 0.8z" fill="#3e6fff" stroke="#3e6fff" stroke-width=".3"/>
<path d="M501.5 190.4l3.6-4.4l-1.2 11.5l-3.6 3.3zM523.7 188.2l3.6-2.7l-1.2 7.4l-3.6 2.3zM533.1 188.4l7-4.5l-1.2 6.5l-7 3.8zM542.4 188.4l7.1-3.9l-1.2 5.5l-7.1 3.4zM555.3 186.6l3.5-1.8l-1.2 4.7l-3.5 1.6zM564.6 186.5l7.1-3.1l-1.2 4.3l-7.1 2.8zM574 186.3l7-2.8l-1.2 3.8l-7 2.5zM586.8 184.8l7.1-2.6l-1.2 3.5l-7.1 2.4zM596.2 184.5l10.5-3.5l-1.2 3.3l-10.5 3.2zM605.5 184.3l10.6-3.3l-1.2 2.9l-10.6 3.1zM614.9 183.9l10.5-3l-1.2 2.7l-10.5 2.8zM627.7 182.6l10.6-2.9l-1.2 2.5l-10.6 2.8zM637.1 182.2l10.5-2.7l-1.2 2.4l-10.5 2.5zM646.4 181.9l14.1-3.5l-1.2 2.3l-14.1 3.2z" fill="#3875fe" stroke="#3875fe" stroke-width=".3"/>
<path d="M492.2 188.8l3.5-6.5l-1.2 16.9l-3.5 4.4zM505.1 186l3.5-4.4l-1.2 12.5l-3.5 3.4zM514.4 187.5l3.5-3.3l-1.2 9.3l-3.5 2.7zM527.3 185.5l3.5-2.7l-1.2 7.9l-3.5 2.2zM540.1 183.9l3.5-2.2l-1.2 6.7l-3.5 2zM549.5 184.5l7-3.9l-1.2 6l-7 3.4zM558.8 184.8l7-3.4l-1.2 5.1l-7 3zM571.7 183.4l7-3.1l-1.2 4.6l-7 2.8zM581 183.5l10.6-4.2l-1.2 4.2l-10.6 3.8zM593.9 182.2l7-2.5l-1.2 3.7l-7 2.3zM606.7 181l7.1-2.3l-1.2 3.4l-7.1 2.2zM616.1 181l10.5-3.3l-1.2 3.2l-10.5 3zM625.4 180.9l14.1-4.1l-1.2 2.9l-14.1 3.9zM638.3 179.7l10.5-2.9l-1.2 2.7l-10.5 2.7zM647.6 179.5l14.1-3.6l-1.2 2.5l-14.1 3.5z" fill="#327cfc" stroke="#327cfc" stroke-width=".3"/>
<path d="M517.9 184.2l3.5-3.4l-1.2 10l-3.5 2.7zM530.8 182.8l3.5-2.7l-1.2 8.3l-3.5 2.3zM543.6 181.7l3.6-2.3l-1.2 7.1l-3.6 1.9zM556.5 180.6l3.5-1.9l-1.2 6.1l-3.5 1.8zM565.8 181.4l7.1-3.4l-1.2 5.4l-7.1 3.1zM578.7 180.3l7-3l-1.2 4.8l-7 2.8zM591.6 179.3l7-2.7l-1.2 4.3l-7 2.6zM600.9 179.7l10.6-3.8l-1.2 3.9l-10.6 3.6zM613.8 178.7l10.5-3.6l-1.2 3.7l-10.5 3.3zM626.6 177.7l10.6-3.3l-1.2 3.4l-10.6 3.1zM639.5 176.8l10.5-3.1l-1.2 3.1l-10.5 2.9zM648.8 176.8l14.1-3.8l-1.2 2.9l-14.1 3.6z" fill="#2f81fa" stroke="#2f81fa" stroke-width=".3"/>
<path d="M495.7 182.3l3.5-6.6l-1.2 19.1l-3.5 4.4zM508.6 181.6l3.5-4.4l-1.2 13.6l-3.5 3.3zM521.4 180.8l3.6-3.3l-1.3 10.7l-3.5 2.6zM534.3 180.1l3.5-2.6l-1.2 8.7l-3.5 2.2zM547.2 179.4l3.5-2.2l-1.2 7.3l-3.5 2zM560 178.7l7.1-3.9l-1.3 6.6l-7 3.4zM572.9 178l7-3.4l-1.2 5.7l-7 3.1zM585.7 177.3l7.1-3.1l-1.2 5.1l-7.1 2.8zM598.6 176.6l7-2.8l-1.2 4.6l-7 2.5zM611.5 175.9l7-2.6l-1.2 4.2l-7 2.3zM624.3 175.1l7.1-2.3l-1.3 3.8l-7 2.2zM637.2 174.4l10.5-3.2l-1.2 3.5l-10.5 3.1zM650 173.7l10.6-3l-1.2 3.3l-10.6 2.8z" fill="#2e87f7" stroke="#2e87f7" stroke-width=".3"/>
<path d="M512.1 177.2l3.5-4.4l-1.2 14.7l-3.5 3.3zM525 177.5l3.5-3.3l-1.2 11.3l-3.6 2.7zM537.8 177.5l3.5-2.7l-1.2 9.1l-3.5 2.3zM550.7 177.2l7-4.5l-1.2 7.9l-7 3.9zM567.1 174.8l3.5-1.9l-1.2 6.8l-3.6 1.7zM579.9 174.6l3.5-1.7l-1.2 5.9l-3.5 1.5zM592.8 174.2l7-3l-1.2 5.4l-7 2.7zM605.6 173.8l7.1-2.8l-1.2 4.9l-7.1 2.5zM618.5 173.3l10.5-3.8l-1.2 4.5l-10.5 3.5zM631.4 172.8l10.5-3.5l-1.2 4l-10.6 3.3zM647.7 171.2l7.1-2.2l-1.2 3.7l-7.1 2zM660.6 170.7l3.5-1.1l-1.2 3.4l-3.5 1z" fill="#2d8cf3" stroke="#2d8cf3" stroke-width=".3"/>
<path d="M499.2 175.7l3.6-6.5l-1.3 21.2l-3.5 4.4zM528.5 174.2l3.5-3.3l-1.2 11.9l-3.5 2.7zM541.3 174.8l3.5-2.7l-1.2 9.6l-3.5 2.2zM557.7 172.7l3.5-2.3l-1.2 8.3l-3.5 1.9zM570.6 172.9l7-3.9l-1.2 7.3l-7 3.4zM583.4 172.9l7.1-3.5l-1.2 6.4l-7.1 3zM599.8 171.2l7-3.1l-1.2 5.7l-7 2.8zM612.7 171l7-2.8l-1.2 5.1l-7 2.6zM629 169.5l7.1-2.5l-1.2 4.6l-7.1 2.4zM641.9 169.3l10.6-3.5l-1.3 4.3l-10.5 3.2zM654.8 169l10.5-3.3l-1.2 3.9l-10.5 3.1z" fill="#2b91ef" stroke="#2b91ef" stroke-width=".3"/>
<path d="M515.6 172.8l3.5-4.4l-1.2 15.8l-3.5 3.3zM532 170.9l3.5-3.4l-1.2 12.6l-3.5 2.7zM544.8 172.1l7.1-5.4l-1.2 10.5l-7.1 4.5zM561.2 170.4l3.5-2.2l-1.2 8.6l-3.5 1.9zM577.6 169l3.5-1.9l-1.2 7.5l-3.5 1.7zM590.5 169.4l7-3.4l-1.2 6.7l-7 3.1zM606.8 168.1l7.1-3.1l-1.2 6l-7.1 2.8zM619.7 168.2l10.5-4.1l-1.2 5.4l-10.5 3.8zM636.1 167l7-2.6l-1.2 4.9l-7 2.3zM652.5 165.8l7-2.4l-1.2 4.5l-7.1 2.2z" fill="#2797eb" stroke="#2797eb" stroke-width=".3"/>
<path d="M502.8 169.2l3.5-6.6l-1.2 23.4l-3.6 4.4zM519.1 168.4l3.5-4.4l-1.2 16.8l-3.5 3.4zM535.5 167.5l3.5-3.3l-1.2 13.3l-3.5 2.6zM551.9 166.7l3.5-2.6l-1.2 10.8l-3.5 2.3zM564.7 168.2l7.1-4.5l-1.2 9.2l-7.1 3.9zM581.1 167.1l7.1-3.9l-1.3 8l-7 3.4zM597.5 166l7-3.4l-1.2 7l-7 3.1zM613.9 165l7-3l-1.2 6.2l-7 2.8zM630.2 164.1l7.1-2.8l-1.2 5.7l-7.1 2.5zM643.1 164.4l10.6-3.8l-1.2 5.2l-10.6 3.5zM659.5 163.4l7-2.3l-1.2 4.6l-7 2.2z" fill="#259be8" stroke="#259be8" stroke-width=".3"/>
<path d="M539 164.2l3.5-3.3l-1.2 13.9l-3.5 2.7zM555.4 164.1l3.5-2.7l-1.2 11.3l-3.5 2.2zM571.8 163.7l3.5-2.3l-1.2 9.5l-3.5 2zM588.2 163.2l3.5-2l-1.2 8.2l-3.6 1.8zM604.5 162.6l7.1-3.4l-1.2 7.4l-7.1 3zM620.9 162l7-3.1l-1.2 6.6l-7 2.7zM637.3 161.3l7-2.8l-1.2 5.9l-7 2.6zM653.7 160.6l7-2.5l-1.2 5.3l-7 2.4z" fill="#23a0e5" stroke="#23a0e5" stroke-width=".3"/>
<path d="M522.6 164l3.6-4.4l-1.2 17.9l-3.6 3.3zM558.9 161.4l3.5-2.7l-1.2 11.7l-3.5 2.3zM575.3 161.4l3.5-2.2l-1.2 9.8l-3.5 1.9zM591.7 161.2l7-3.8l-1.2 8.6l-7 3.4zM611.6 159.2l3.5-1.7l-1.2 7.5l-3.5 1.6zM627.9 158.9l7.1-3.1l-1.2 6.9l-7.1 2.8zM644.3 158.5l7-2.8l-1.2 6.2l-7 2.5zM660.7 158.1l7-2.6l-1.2 5.6l-7 2.3z" fill="#20a5e3" stroke="#20a5e3" stroke-width=".3"/>
<path d="M506.3 162.6l3.5-6.5l-1.2 25.5l-3.5 4.4zM526.2 159.6l3.5-4.4l-1.2 19l-3.5 3.3zM542.5 160.9l3.6-3.3l-1.3 14.5l-3.5 2.7zM562.4 158.7l3.5-2.7l-1.2 12.2l-3.5 2.2zM578.8 159.2l7-4.5l-1.2 10.4l-7 3.9zM598.7 157.4l3.5-2l-1.2 8.9l-3.5 1.7zM615.1 157.5l7-3.5l-1.2 8l-7 3zM635 155.8l7-3l-1.2 7.1l-7 2.8zM651.3 155.7l7.1-2.7l-1.2 6.3l-7.1 2.6z" fill="#1ca9df" stroke="#1ca9df" stroke-width=".3"/>
<path d="M546.1 157.6l3.5-3.3l-1.2 15.1l-3.6 2.7zM565.9 156l3.6-2.7l-1.2 12.6l-3.6 2.3zM585.8 154.7l3.6-2.3l-1.2 10.8l-3.6 1.9zM602.2 155.4l7.1-3.9l-1.3 9.4l-7 3.4zM622.1 154l7-3.4l-1.2 8.3l-7 3.1zM642 152.8l7-3.1l-1.2 7.4l-7 2.8zM658.4 153l10.5-4.2l-1.2 6.7l-10.5 3.8z" fill="#18addb" stroke="#18addb" stroke-width=".3"/>
<path d="M509.8 156.1l3.5-6.6l-1.2 27.7l-3.5 4.4zM529.7 155.2l3.5-4.4l-1.2 20.1l-3.5 3.3zM549.6 154.3l3.5-3.4l-1.2 15.8l-3.5 2.7zM569.5 153.3l3.5-2.6l-1.2 13l-3.5 2.2zM589.4 152.4l3.5-2.2l-1.2 11l-3.5 2zM609.3 151.5l3.5-1.9l-1.2 9.6l-3.6 1.7zM629.1 150.6l3.6-1.7l-1.2 8.5l-3.6 1.5zM649 149.7l7.1-3.1l-1.2 7.8l-7.1 2.7z" fill="#12b1d6" stroke="#12b1d6" stroke-width=".3"/>
<path d="M533.2 150.8l3.5-4.4l-1.2 21.1l-3.5 3.4zM553.1 150.9l3.5-3.3l-1.2 16.5l-3.5 2.6zM573 150.7l3.5-2.7l-1.2 13.4l-3.5 2.3zM592.9 150.2l7-4.5l-1.2 11.7l-7 3.8zM612.8 149.6l7-3.9l-1.2 10.1l-7 3.4zM632.7 148.9l7-3.4l-1.2 8.8l-7 3.1zM656.1 146.6l7-3l-1.2 8l-7 2.8z" fill="#08b5d0" stroke="#08b5d0" stroke-width=".3"/>
<path d="M513.3 149.5l3.5-6.5l-1.2 29.8l-3.5 4.4zM556.6 147.6l3.5-3.3l-1.2 17.1l-3.5 2.7zM576.5 148l3.5-2.7l-1.2 13.9l-3.5 2.2zM599.9 145.7l3.5-2.3l-1.2 12l-3.5 2zM619.8 145.7l3.5-1.9l-1.2 10.2l-3.5 1.8zM639.7 145.5l7-3.4l-1.2 9.1l-7 3.1zM663.1 143.6l7-3.1l-1.2 8.3l-7 2.8z" fill="#01b8ca" stroke="#01b8ca" stroke-width=".3"/>
<path d="M536.7 146.4l3.5-4.4l-1.2 22.2l-3.5 3.3zM560.1 144.3l3.5-3.3l-1.2 17.7l-3.5 2.7zM580 145.3l3.5-2.7l-1.2 14.3l-3.5 2.3zM603.4 143.4l3.5-2.2l-1.2 12.3l-3.5 1.9zM623.3 143.8l7.1-3.9l-1.3 10.7l-7 3.4zM646.7 142.1l7.1-3.5l-1.2 9.6l-7.1 3z" fill="#02bac3" stroke="#02bac3" stroke-width=".3"/>
<path d="M540.2 142l3.5-4.4l-1.2 23.3l-3.5 3.3zM583.5 142.6l3.5-2.6l-1.2 14.7l-3.5 2.2zM606.9 141.2l7.1-4.5l-1.2 12.9l-7.1 3.9zM630.4 139.9l3.5-2l-1.2 11l-3.6 1.7zM653.8 138.6l3.5-1.7l-1.2 9.7l-3.5 1.6z" fill="#0bbdbd" stroke="#0bbdbd" stroke-width=".3"/>
<path d="M516.8 143l3.5-6.6l-1.2 32l-3.5 4.4zM563.6 141l3.6-3.4l-1.3 18.4l-3.5 2.7zM587 140l7.1-5.4l-1.2 15.6l-7.1 4.5zM614 136.7l3.5-2.3l-1.2 13.2l-3.5 2zM633.9 137.9l7-3.8l-1.2 11.4l-7 3.4zM657.3 136.9l7-3.4l-1.2 10.1l-7 3z" fill="#19bfb6" stroke="#19bfb6" stroke-width=".3"/>
<path d="M543.7 137.6l3.6-4.4l-1.2 24.4l-3.6 3.3zM567.2 137.6l3.5-3.3l-1.2 19l-3.6 2.7zM594.1 134.6l3.5-2.7l-1.2 16l-3.5 2.3zM617.5 134.4l3.5-2.2l-1.2 13.5l-3.5 1.9zM640.9 134.1l7-3.9l-1.2 11.9l-7 3.4zM664.3 133.5l7-3.4l-1.2 10.4l-7 3.1z" fill="#24c1ae" stroke="#24c1ae" stroke-width=".3"/>
<path d="M520.3 136.4l3.6-6.5l-1.3 34.1l-3.5 4.4zM570.7 134.3l3.5-3.3l-1.2 19.7l-3.5 2.6zM597.6 131.9l3.5-2.7l-1.2 16.5l-3.5 2.2zM621 132.2l3.5-2.2l-1.2 13.8l-3.5 1.9zM647.9 130.2l3.6-2l-1.3 12.2l-3.5 1.7z" fill="#2cc4a7" stroke="#2cc4a7" stroke-width=".3"/>
<path d="M547.3 133.2l3.5-4.4l-1.2 25.5l-3.5 3.3zM574.2 131l3.5-3.3l-1.2 20.3l-3.5 2.7zM601.1 129.2l3.5-2.6l-1.2 16.8l-3.5 2.3zM624.5 130l7.1-4.5l-1.2 14.4l-7.1 3.9zM651.5 128.2l7-3.9l-1.2 12.6l-7.1 3.5z" fill="#31c69f" stroke="#31c69f" stroke-width=".3"/>
<path d="M523.9 129.9l3.5-6.6l-1.2 36.3l-3.6 4.4zM550.8 128.8l3.5-4.4l-1.2 26.5l-3.5 3.4zM577.7 127.7l3.5-3.4l-1.2 21l-3.5 2.7zM604.6 126.6l3.5-2.7l-1.2 17.3l-3.5 2.2zM631.6 125.5l3.5-2.3l-1.2 14.7l-3.5 2zM658.5 124.3l3.5-1.9l-1.2 12.8l-3.5 1.7z" fill="#37c897" stroke="#37c897" stroke-width=".3"/>
<path d="M581.2 124.3l3.5-3.3l-1.2 21.6l-3.5 2.7zM608.1 123.9l3.6-2.7l-1.2 17.7l-3.6 2.3zM635.1 123.2l3.5-2.2l-1.2 15l-3.5 1.9zM662 122.4l7-3.9l-1.2 13.3l-7 3.4z" fill="#3fca8e" stroke="#3fca8e" stroke-width=".3"/>
<path d="M527.4 123.3l3.5-6.5l-1.2 38.4l-3.5 4.4zM554.3 124.4l3.5-4.4l-1.2 27.6l-3.5 3.3zM584.7 121l3.6-3.3l-1.3 22.3l-3.5 2.6zM611.7 121.2l3.5-2.7l-1.2 18.2l-3.5 2.2zM638.6 121l7-4.5l-1.2 15.6l-7 3.9zM669 118.5l3.6-1.9l-1.3 13.5l-3.5 1.7z" fill="#4acb84" stroke="#4acb84" stroke-width=".3"/>
<path d="M557.8 120l3.5-4.4l-1.2 28.7l-3.5 3.3zM615.2 118.5l3.5-2.7l-1.2 18.6l-3.5 2.3zM645.6 116.5l3.5-2.3l-1.2 16l-3.5 1.9z" fill="#57cc7a" stroke="#57cc7a" stroke-width=".3"/>
<path d="M588.3 117.7l3.5-3.3l-1.2 22.9l-3.6 2.7zM618.7 115.8l3.5-2.6l-1.2 19l-3.5 2.2zM649.1 114.2l3.6-2.2l-1.2 16.2l-3.6 2z" fill="#64cd6f" stroke="#64cd6f" stroke-width=".3"/>
<path d="M530.9 116.8l3.5-6.6l-1.2 40.6l-3.5 4.4zM561.3 115.6l3.5-4.4l-1.2 29.8l-3.5 3.3zM591.8 114.4l3.5-3.4l-1.2 23.6l-3.5 2.7zM622.2 113.2l3.5-2.7l-1.2 19.5l-3.5 2.2zM652.7 112l7-4.5l-1.2 16.8l-7 3.9z" fill="#72cd64" stroke="#72cd64" stroke-width=".3"/>
<path d="M564.8 111.2l3.6-4.4l-1.2 30.8l-3.6 3.4zM595.3 111l3.5-3.3l-1.2 24.2l-3.5 2.7zM625.7 110.5l7.1-5.4l-1.2 20.4l-7.1 4.5zM659.7 107.5l3.5-2.3l-1.2 17.2l-3.5 1.9z" fill="#81cc59" stroke="#81cc59" stroke-width=".3"/>
<path d="M534.4 110.2l3.5-6.5l-1.2 42.7l-3.5 4.4zM598.8 107.7l3.5-3.3l-1.2 24.8l-3.5 2.7zM632.8 105.1l3.5-2.6l-1.2 20.7l-3.5 2.3zM663.2 105.2l3.5-2.2l-1.2 17.5l-3.5 1.9z" fill="#8fcb4e" stroke="#8fcb4e" stroke-width=".3"/>
<path d="M568.4 106.8l3.5-4.4l-1.2 31.9l-3.5 3.3zM602.3 104.4l3.5-3.3l-1.2 25.5l-3.5 2.6zM636.3 102.5l3.5-2.7l-1.2 21.2l-3.5 2.2zM666.7 103l7.1-4.5l-1.2 18.1l-7.1 3.9z" fill="#9dc943" stroke="#9dc943" stroke-width=".3"/>
<path d="M537.9 103.7l3.5-6.6l-1.2 44.9l-3.5 4.4zM571.9 102.4l3.5-4.4l-1.2 33l-3.5 3.3zM605.8 101.1l3.6-3.3l-1.3 26.1l-3.5 2.7zM639.8 99.8l3.5-2.7l-1.2 21.6l-3.5 2.3z" fill="#abc739" stroke="#abc739" stroke-width=".3"/>
<path d="M609.4 97.8l3.5-3.4l-1.2 26.8l-3.6 2.7zM643.3 97.1l3.5-2.7l-1.2 22.1l-3.5 2.2z" fill="#b9c431" stroke="#b9c431" stroke-width=".3"/>
<path d="M541.4 97.1l3.6-6.5l-1.3 47l-3.5 4.4zM575.4 98l3.5-4.4l-1.2 34.1l-3.5 3.3zM612.9 94.4l3.5-3.3l-1.2 27.4l-3.5 2.7zM646.8 94.4l3.5-2.7l-1.2 22.5l-3.5 2.3z" fill="#c5c22a" stroke="#c5c22a" stroke-width=".3"/>
<path d="M578.9 93.6l3.5-4.4l-1.2 35.1l-3.5 3.4zM650.3 91.7l3.6-2.6l-1.2 22.9l-3.6 2.2z" fill="#d1bf27" stroke="#d1bf27" stroke-width=".3"/>
<path d="M616.4 91.1l3.5-3.3l-1.2 28l-3.5 2.7zM653.9 89.1l3.5-2.7l-1.2 23.3l-3.5 2.3z" fill="#dcbd29" stroke="#dcbd29" stroke-width=".3"/>
<path d="M545 90.6l3.5-6.6l-1.2 49.2l-3.6 4.4zM582.4 89.2l3.5-4.4l-1.2 36.2l-3.5 3.3zM619.9 87.8l3.5-3.3l-1.2 28.7l-3.5 2.6zM657.4 86.4l3.5-2.7l-1.2 23.8l-3.5 2.2z" fill="#e6bb2d" stroke="#e6bb2d" stroke-width=".3"/>
<path d="M585.9 84.8l3.6-4.4l-1.2 37.3l-3.6 3.3zM623.4 84.5l3.5-3.4l-1.2 29.4l-3.5 2.7zM660.9 83.7l3.5-2.7l-1.2 24.2l-3.5 2.3z" fill="#f0ba36" stroke="#f0ba36" stroke-width=".3"/>
<path d="M548.5 84l3.5-6.5l-1.2 51.3l-3.5 4.4zM626.9 81.1l3.6-3.3l-1.3 30l-3.5 2.7zM664.4 81l3.5-2.7l-1.2 24.7l-3.5 2.2z" fill="#f8ba3d" stroke="#f8ba3d" stroke-width=".3"/>
<path d="M589.5 80.4l3.5-4.4l-1.2 38.4l-3.5 3.3zM630.5 77.8l3.5-3.3l-1.2 30.6l-3.6 2.7zM667.9 78.3l7.1-5.3l-1.2 25.5l-7.1 4.5z" fill="#febe3c" stroke="#febe3c" stroke-width=".3"/>
<path d="M552 77.5l3.5-6.6l-1.2 53.5l-3.5 4.4zM593 76l3.5-4.4l-1.2 39.4l-3.5 3.4zM634 74.5l3.5-3.3l-1.2 31.3l-3.5 2.6z" fill="#fec338" stroke="#fec338" stroke-width=".3"/>
<path d="M596.5 71.6l3.5-4.4l-1.2 40.5l-3.5 3.3zM637.5 71.2l3.5-3.4l-1.2 32l-3.5 2.7z" fill="#fccf30" stroke="#fccf30" stroke-width=".3"/>
<path d="M555.5 70.9l3.5-6.5l-1.2 55.6l-3.5 4.4zM600 67.2l3.5-4.4l-1.2 41.6l-3.5 3.3zM641 67.8l3.5-3.3l-1.2 32.6l-3.5 2.7z" fill="#fad62d" stroke="#fad62d" stroke-width=".3"/>
<path d="M644.5 64.5l3.5-3.3l-1.2 33.2l-3.5 2.7z" fill="#f7dc2a" stroke="#f7dc2a" stroke-width=".3"/>
<path d="M559 64.4l3.5-6.6l-1.2 57.8l-3.5 4.4zM603.5 62.8l3.5-4.4l-1.2 42.7l-3.5 3.3zM648 61.2l3.6-3.3l-1.3 33.8l-3.5 2.7z" fill="#f5e327" stroke="#f5e327" stroke-width=".3"/>
<path d="M607 58.4l3.6-4.4l-1.2 43.8l-3.6 3.3zM651.6 57.9l3.5-3.4l-1.2 34.6l-3.6 2.6z" fill="#f5e924" stroke="#f5e924" stroke-width=".3"/>
<path d="M562.5 57.8l3.6-6.5l-1.3 59.9l-3.5 4.4zM655.1 54.5l3.5-3.3l-1.2 35.2l-3.5 2.7z" fill="#f6ef20" stroke="#f6ef20" stroke-width=".3"/>
<path d="M610.6 54l3.5-4.4l-1.2 44.8l-3.5 3.4zM658.6 51.2l3.5-3.3l-1.2 35.8l-3.5 2.7z" fill="#f7f51b" stroke="#f7f51b" stroke-width=".3"/>
<path d="M467.6 234.7l98.5-183.4M466.4 234.3l147.7-184.7M465.2 234l196.9-186.1M464 233.7l211-160.7M462.8 233.4l211-134.9M461.6 233.1l211-116.5M460.3 232.7l14.1-6.8M477.9 224.2l193.4-94.1M459.1 232.4l14.1-6.1M476.7 224.8l193.4-84.3M457.9 232.1l211-83.3M456.7 231.8l17.6-6.4M481.3 222.9l186.4-67.4M455.5 231.5l21.1-7.1M480.1 223.3l186.4-62.2M454.3 231.2l21.1-6.6M482.4 222.4l182.9-56.7M453.1 230.8l21.1-6.1M484.8 221.7l179.3-52.1M451.9 230.5l24.6-6.7M487.1 220.9l175.8-47.9M450.7 230.2l24.6-6.3M489.4 220.2l172.3-44.3M449.5 229.9l28.1-6.9M491.7 219.6l168.8-41.2M448.3 229.6l28.1-6.6M497.5 218.1l161.8-37.4M447.1 229.2l28.1-6.2M499.8 217.6l158.3-35M445.9 228.9l31.6-6.7M502.1 217l154.8-32.7M444.7 228.6l31.6-6.4M508 215.8l147.7-30M443.4 228.3l35.2-6.9M510.3 215.3l144.1-28.1M442.2 228l35.2-6.6M512.6 214.8l140.6-26.4M441 227.6l35.2-6.3M521.9 213l130.1-23.5M439.8 227.3l38.7-6.7M524.2 212.6l126.6-22.1M438.6 227l38.7-6.5M530.1 211.5l119.5-20.2M437.4 226.7l42.2-6.9M535.9 210.6l3.5-0.6M542.9 209.4l105.5-17.3M436.2 226.4l42.2-6.7M541.7 209.6l7-1.1M552.3 207.9l94.9-15.1M435 226.1l42.2-6.5M551 208.1l95-14.6M433.8 225.7l45.7-6.8M549.8 208.3l7.1-1.1M560.4 206.7l84.4-12.7M432.6 225.4l45.7-6.7M562.7 206.4l80.9-11.9M431.4 225.1l49.2-7M561.5 206.5l80.9-11.5M430.2 224.8l49.2-6.9M584.9 203.2l56.3-7.8M429 224.5l49.2-6.7M594.2 202l45.8-6.2M427.8 224.1l52.7-7M586 203.1l3.5-0.4M593 202.2l3.6-0.5M600.1 201.3l38.7-5.2M426.6 223.8l52.7-6.8M584.8 203.3l3.5-0.5M595.4 201.9l3.5-0.5M605.9 200.5l31.7-4.1M425.3 223.5l56.3-7.2M594.1 202l3.6-0.4M608.2 200.3l28.1-3.6M424.1 223.2l56.3-7M614 199.5l21.1-2.6M422.9 222.9l56.3-6.9M616.3 199.3l10.6-1.3M630.4 197.5l3.5-0.4M421.7 222.5l59.8-7.1M622.2 198.6l7-0.9M420.5 222.2l59.8-7M624.5 198.3l3.5-0.4M419.3 221.9l63.3-7.3M418.1 221.6l63.3-7.2M416.9 221.3l63.3-7.1M415.7 220.9l66.8-7.3M414.5 220.6l66.8-7.2M413.3 220.3l70.3-7.4M412.1 220l70.3-7.4M410.9 219.7l70.3-7.3M409.7 219.4l73.8-7.5M408.4 219l73.9-7.3M407.2 218.7l77.4-7.6M406 218.4l77.4-7.5M404.8 218.1l77.4-7.4M403.6 217.8l80.9-7.7M402.4 217.4l80.9-7.5M401.2 217.1l84.4-7.8M400 216.8l84.4-7.7M467.6 234.7l-67.6-17.9M471.1 228.1l-1.2 1.8l-1.2 0.8l-1.2 0.3l-2.4 0.1l-61.6-14.6M474.6 221.6l-1.2 3.9l-1.2 1.9l-1.2 0.9l-1.2 0.6l-2.4 0.4l-4.8-0.2l-55.6-12.9M478.1 215l-1.2 6.1l-1.2 3l-1.2 1.6l-1.2 0.9l-1.2 0.6l-2.4 0.6l-3.6 0.2l-55.5-12.2M481.7 208.5l-1.3 8.2l-1.2 4l-1.2 2.3l-1.2 1.4l-1.2 0.9l-1.2 0.6l-2.4 0.7l-3.6 0.2l-54.3-11.3M485.2 201.9l-1.2 10.4l-1.2 5.1l-1.3 2.9l-1.2 1.8l-1.2 1.3l-1.2 0.8l-1.2 0.6l-2.4 0.6l-3.6 0.3l-53.1-10.5M488.7 195.4l-1.2 12.5l-1.2 6.2l-1.2 3.5l-1.2 2.3l-1.2 1.5l-1.3 1.1l-1.2 0.7l-1.2 0.6M476.6 224.4l-3.6 0.4l-13.3-1.4l-38.6-8.5M492.2 188.8l-1.2 14.8l-1.2 7.2l-1.2 4.2l-1.2 2.6l-1.2 1.9l-1.2 1.3l-1.2 0.9l-1.3 0.7l-2.4 0.9M476.5 223.8l-8.4-0.3l-43.5-8.9M495.7 182.3l-1.2 16.9l-1.2 8.2l-1.2 4.9l-1.2 3.1l-1.2 2.1l-1.2 1.6l-1.2 1.1l-1.2 0.8l-2.4 1.1l-1.3 0.3M477.6 223l-12.1-0.9l-37.4-7.9M499.2 175.7l-1.2 19.1l-1.2 9.3l-1.2 5.5l-1.2 3.5l-1.2 2.5l-1.2 1.7l-1.2 1.3l-1.2 1l-2.4 1.3l-2.4 0.8M477.5 222.2l-45.9-8.3M502.8 169.2l-1.3 21.2l-1.2 10.4l-1.2 6.1l-1.2 4l-1.2 2.8l-1.2 1.9l-1.2 1.5l-1.2 1.1l-1.2 0.9l-2.4 1.1l-2.4 0.7M478.6 221.4l-43.4-7.8M506.3 162.6l-1.2 23.4l-1.2 11.5l-1.3 6.7l-1.2 4.5l-1.2 3l-1.2 2.2l-1.2 1.7l-1.2 1.2l-1.2 1l-2.4 1.4l-2.4 0.8l-1.2 0.2M478.5 220.6l-39.8-7.3M509.8 156.1l-1.2 25.5l-1.2 12.5l-1.2 7.5l-1.2 4.8l-1.2 3.4l-1.3 2.4l-1.2 1.8l-1.2 1.4l-1.2 1.1l-2.4 1.6l-2.4 0.9l-2.4 0.6M479.6 219.8l-37.4-6.8M513.3 149.5l-1.2 27.7l-1.2 13.6l-1.2 8.1l-1.2 5.3l-1.2 3.6l-1.2 2.7l-1.2 2l-1.3 1.6l-1.2 1.2l-2.4 1.7l-2.4 1.1l-2.4 0.6M479.5 218.9l-33.8-6.3M516.8 143l-1.2 29.8l-1.2 14.7l-1.2 8.7l-1.2 5.7l-1.2 4l-1.2 2.9l-1.2 2.2l-1.2 1.7l-1.2 1.3l-1.2 1l-2.5 1.6l-2.4 0.9l-2.4 0.6M480.6 218.1l-31.4-5.8M520.3 136.4l-1.2 32l-1.2 15.8l-1.2 9.3l-1.2 6.2l-1.2 4.2l-1.2 3.2l-1.2 2.4l-1.2 1.8l-1.2 1.4l-1.2 1.2l-2.4 1.6l-2.5 1.1l-3.6 1M480.5 217.1l-27.7-5.1M523.9 129.9l-1.3 34.1l-1.2 16.8l-1.2 10l-1.2 6.6l-1.2 4.6l-1.2 3.4l-1.2 2.5l-1.2 2l-1.2 1.6l-1.2 1.2l-2.4 1.8l-2.4 1.2l-3.7 1.1l-1.2 0.2M481.6 216.3l-25.3-4.6M527.4 123.3l-1.2 36.3l-1.2 17.9l-1.3 10.7l-1.2 7l-1.2 4.9l-1.2 3.6l-1.2 2.7l-1.2 2.1l-1.2 1.7l-1.2 1.3l-2.4 2l-2.4 1.3l-3.6 1.2l-1.3 0.3M481.5 215.4l-21.7-4.1M530.9 116.8l-1.2 38.4l-1.2 19l-1.2 11.3l-1.2 7.4l-1.2 5.2l-1.3 3.8l-1.2 3l-1.2 2.2l-1.2 1.8l-1.2 1.5l-2.4 2.1l-2.4 1.4l-3.6 1.3l-2.4 0.6M482.6 214.6l-19.3-3.6M534.4 110.2l-1.2 40.6l-1.2 20.1l-1.2 11.9l-1.2 7.9l-1.2 5.5l-1.2 4l-1.2 3.1l-1.3 2.4l-1.2 1.9l-1.2 1.6l-1.2 1.2l-2.4 1.9l-2.4 1.3l-3.6 1.2l-2.4 0.5M482.5 213.6l-15.7-2.9M537.9 103.7l-1.2 42.7l-1.2 21.1l-1.2 12.6l-1.2 8.3l-1.2 5.8l-1.2 4.3l-1.2 3.3l-1.2 2.5l-1.2 2.1l-1.2 1.6l-1.3 1.3l-2.4 2l-2.4 1.4l-3.6 1.4l-3.6 0.7M483.6 212.9l-13.3-2.5M541.4 97.1l-1.2 44.9l-1.2 22.2l-1.2 13.3l-1.2 8.7l-1.2 6.1l-1.2 4.5l-1.2 3.5l-1.2 2.7l-1.2 2.1l-1.2 1.7l-1.2 1.4l-2.5 2.2l-2.4 1.5l-3.6 1.4l-3.6 0.8M483.5 211.9l-9.7-1.8M545 90.6l-1.3 47l-1.2 23.3l-1.2 13.9l-1.2 9.1l-1.2 6.5l-1.2 4.7l-1.2 3.6l-1.2 2.9l-1.2 2.2l-1.2 1.9l-1.2 1.5l-2.4 2.2l-2.5 1.6l-2.4 1.1l-3.6 1.1l-1.2 0.3M484.6 211.1l-7.2-1.4M548.5 84l-1.2 49.2l-1.2 24.4l-1.3 14.5l-1.2 9.6l-1.2 6.7l-1.2 5l-1.2 3.8l-1.2 3l-1.2 2.4l-1.2 1.9l-1.2 1.6l-2.4 2.4l-2.4 1.7l-2.4 1.2l-3.7 1.1l-2.4 0.5M484.5 210.1l-3.6-0.7M552 77.5l-1.2 51.3l-1.2 25.5l-1.2 15.1l-1.2 10l-1.2 7.1l-1.3 5.2l-1.2 4l-1.2 3.1l-1.2 2.5l-1.2 2l-1.2 1.7l-2.4 2.5l-2.4 1.8l-2.4 1.3l-3.7 1.2l-3.6 0.8M485.6 209.3l-1.2-0.2M555.5 70.9l-1.2 53.5l-1.2 26.5l-1.2 15.8l-1.2 10.5l-1.2 7.3l-1.2 5.5l-1.2 4.1l-1.3 3.3l-1.2 2.6l-1.2 2.1l-1.2 1.8l-2.4 2.7l-2.4 1.8l-2.4 1.4l-3.6 1.4l-3.7 0.8M559 64.4l-1.2 55.6l-1.2 27.6l-1.2 16.5l-1.2 10.8l-1.2 7.7l-1.2 5.7l-1.2 4.3l-1.2 3.4l-1.2 2.7l-1.2 2.3l-1.3 1.8l-1.2 1.5l-2.4 2.4l-2.4 1.7l-2.4 1.2l-3.6 1.2l-3.6 0.7M562.5 57.8l-1.2 57.8l-1.2 28.7l-1.2 17.1l-1.2 11.3l-1.2 7.9l-1.2 6l-1.2 4.5l-1.2 3.5l-1.2 2.9l-1.2 2.3l-1.2 1.9l-1.2 1.6l-2.5 2.5l-2.4 1.8l-2.4 1.2l-3.6 1.4l-3.6 0.8M566.1 51.3l-1.3 59.9l-1.2 29.8l-1.2 17.7l-1.2 11.7l-1.2 8.3l-1.2 6.1l-1.2 4.7l-1.2 3.7l-1.2 3l-1.2 2.4l-1.2 2l-1.2 1.7l-2.4 2.6l-2.5 1.8l-2.4 1.4l-3.6 1.4l-4.8 1.1M568.4 106.8l-1.2 30.8l-1.3 18.4l-1.2 12.2l-1.2 8.6l-1.2 6.3l-1.2 4.9l-1.2 3.8l-1.2 3.1l-1.2 2.5l-1.2 2.1l-1.2 1.8l-2.4 2.7l-2.4 1.9l-2.5 1.5l-3.6 1.4l-4.8 1.2M571.9 102.4l-1.2 31.9l-1.2 19l-1.2 12.6l-1.2 8.9l-1.3 6.6l-1.2 5.1l-1.2 4l-1.2 3.2l-1.2 2.6l-1.2 2.1l-1.2 1.8l-2.4 2.9l-2.4 2l-2.4 1.5l-3.7 1.6l-4.8 1.2l-1.2 0.2M575.4 98l-1.2 33l-1.2 19.7l-1.2 13l-1.2 9.2l-1.2 6.8l-1.2 5.2l-1.3 4.2l-1.2 3.3l-1.2 2.7l-1.2 2.2l-1.2 1.9l-2.4 3l-2.4 2.1l-2.4 1.6l-3.6 1.6l-4.9 1.3l-1.2 0.2M578.9 93.6l-1.2 34.1l-1.2 20.3l-1.2 13.4l-1.2 9.5l-1.2 7.1l-1.2 5.4l-1.2 4.3l-1.2 3.4l-1.2 2.8l-1.3 2.3l-1.2 2l-2.4 3l-2.4 2.3l-2.4 1.6l-3.6 1.8l-4.9 1.4l-1.2 0.2M582.4 89.2l-1.2 35.1l-1.2 21l-1.2 13.9l-1.2 9.8l-1.2 7.3l-1.2 5.6l-1.2 4.4l-1.2 3.5l-1.2 2.9l-1.2 2.5l-1.2 2l-2.5 3.1l-2.4 2.4l-2.4 1.7l-3.6 1.8l-4.8 1.5l-3.7 0.6M585.9 84.8l-1.2 36.2l-1.2 21.6l-1.2 14.3l-1.2 10.2l-1.2 7.5l-1.2 5.7l-1.2 4.6l-1.2 3.7l-1.2 3l-1.2 2.5l-1.2 2.1l-2.4 3.2l-2.5 2.4l-2.4 1.8l-3.6 1.9l-4.8 1.6l-3.6 0.7M589.5 80.4l-1.2 37.3l-1.3 22.3l-1.2 14.7l-1.2 10.4l-1.2 7.8l-1.2 5.9l-1.2 4.7l-1.2 3.8l-1.2 3.1l-1.2 2.6l-1.2 2.1l-2.4 3.4l-2.4 2.5l-2.5 1.9l-3.6 2l-4.8 1.6l-3.6 0.7M593 76l-1.2 38.4l-1.2 22.9l-1.2 15.1l-1.2 10.8l-1.3 8l-1.2 6.1l-1.2 4.8l-1.2 3.9l-1.2 3.2l-1.2 2.7l-1.2 2.2l-2.4 3.5l-2.4 2.6l-2.4 2l-3.7 2l-3.6 1.4l-4.8 1.1M596.5 71.6l-1.2 39.4l-1.2 23.6l-1.2 15.6l-1.2 11l-1.2 8.2l-1.2 6.4l-1.3 4.9l-1.2 4.1l-1.2 3.3l-1.2 2.7l-1.2 2.3l-2.4 3.6l-2.4 2.7l-2.4 2l-2.4 1.5l-3.7 1.7l-4.8 1.4l-3.6 0.5M600 67.2l-1.2 40.5l-1.2 24.2l-1.2 16l-1.2 11.4l-1.2 8.4l-1.2 6.5l-1.2 5.1l-1.2 4.2l-1.2 3.4l-1.3 2.8l-1.2 2.4l-2.4 3.7l-2.4 2.8l-2.4 2.1l-2.4 1.6l-3.6 1.7l-4.9 1.4l-3.6 0.6M603.5 62.8l-1.2 41.6l-1.2 24.8l-1.2 16.5l-1.2 11.7l-1.2 8.6l-1.2 6.7l-1.2 5.3l-1.2 4.2l-1.2 3.5l-1.2 2.9l-1.2 2.5l-2.5 3.8l-2.4 2.9l-2.4 2.1l-2.4 1.7l-3.6 1.8l-4.8 1.5l-3.7 0.6M607 58.4l-1.2 42.7l-1.2 25.5l-1.2 16.8l-1.2 12l-1.2 8.9l-1.2 6.9l-1.2 5.4l-1.2 4.3l-1.2 3.6l-1.2 3l-1.2 2.5l-2.4 4l-2.5 3l-2.4 2.2l-2.4 1.7l-3.6 1.9l-4.8 1.5l-3.7 0.7M610.6 54l-1.2 43.8l-1.3 26.1l-1.2 17.3l-1.2 12.3l-1.2 9.1l-1.2 7l-1.2 5.6l-1.2 4.5l-1.2 3.7l-1.2 3l-1.2 2.6l-1.2 2.2l-2.4 3.5l-2.4 2.7l-2.5 2l-3.6 2.2l-3.6 1.5l-6 1.4M614.1 49.6l-1.2 44.8l-1.2 26.8l-1.2 17.7l-1.2 12.6l-1.3 9.4l-1.2 7.2l-1.2 5.7l-1.2 4.6l-1.2 3.8l-1.2 3.1l-1.2 2.7l-1.2 2.3l-2.4 3.6l-2.4 2.7l-2.4 2.1l-3.7 2.2l-3.6 1.6l-6 1.5M616.4 91.1l-1.2 27.4l-1.2 18.2l-1.2 12.9l-1.2 9.6l-1.2 7.4l-1.3 5.8l-1.2 4.7l-1.2 3.9l-1.2 3.3l-1.2 2.7l-1.2 2.3l-2.4 3.7l-2.4 2.8l-2.4 2.2l-2.4 1.6l-3.7 1.8l-4.8 1.6l-2.4 0.5M619.9 87.8l-1.2 28l-1.2 18.6l-1.2 13.2l-1.2 9.9l-1.2 7.5l-1.2 6l-1.2 4.9l-1.2 3.9l-1.3 3.4l-1.2 2.8l-1.2 2.3l-2.4 3.9l-2.4 2.8l-2.4 2.2l-2.4 1.8l-3.6 1.8l-4.9 1.7l-3.6 0.7M623.4 84.5l-1.2 28.7l-1.2 19l-1.2 13.5l-1.2 10.1l-1.2 7.7l-1.2 6.1l-1.2 5l-1.2 4.1l-1.2 3.4l-1.2 2.8l-1.3 2.5l-2.4 3.9l-2.4 3l-2.4 2.2l-2.4 1.8l-3.6 2l-4.9 1.7l-3.6 0.8M586 203.1l-1.2 0.2M626.9 81.1l-1.2 29.4l-1.2 19.5l-1.2 13.8l-1.2 10.2l-1.2 8l-1.2 6.2l-1.2 5.1l-1.2 4.2l-1.2 3.5l-1.2 2.9l-1.2 2.5l-2.5 4l-2.4 3.1l-2.4 2.3l-2.4 1.8l-3.6 2.1l-4.8 1.7l-3.7 0.9M589.5 202.7l-1.2 0.1M630.5 77.8l-1.3 30l-1.2 19.9l-1.2 14.1l-1.2 10.5l-1.2 8.1l-1.2 6.5l-1.2 5.1l-1.2 4.3l-1.2 3.6l-1.2 3l-1.2 2.6l-2.4 4.1l-2.4 3.1l-2.5 2.4l-2.4 1.9l-3.6 2.1l-4.8 1.8l-6.1 1.3M634 74.5l-1.2 30.6l-1.2 20.4l-1.2 14.4l-1.3 10.7l-1.2 8.3l-1.2 6.6l-1.2 5.3l-1.2 4.3l-1.2 3.7l-1.2 3.1l-1.2 2.6l-2.4 4.2l-2.4 3.2l-2.4 2.5l-2.5 1.9l-3.6 2.2l-4.8 1.9l-6 1.3M595.4 201.9l-1.3 0.1M637.5 71.2l-1.2 31.3l-1.2 20.7l-1.2 14.7l-1.2 11l-1.2 8.5l-1.3 6.7l-1.2 5.4l-1.2 4.5l-1.2 3.7l-1.2 3.2l-1.2 2.7l-2.4 4.3l-2.4 3.2l-2.4 2.6l-2.4 2l-3.7 2.2l-4.8 1.9l-6 1.5M598.9 201.4l-1.2 0.2M641 67.8l-1.2 32l-1.2 21.2l-1.2 15l-1.2 11.2l-1.2 8.6l-1.2 6.9l-1.2 5.5l-1.2 4.6l-1.3 3.8l-1.2 3.2l-1.2 2.8l-2.4 4.4l-2.4 3.4l-2.4 2.6l-2.4 2l-3.6 2.3l-4.9 2l-6 1.5M644.5 64.5l-1.2 32.6l-1.2 21.6l-1.2 15.4l-1.2 11.4l-1.2 8.8l-1.2 7l-1.2 5.7l-1.2 4.6l-1.2 3.9l-1.2 3.3l-1.3 2.8l-2.4 4.6l-2.4 3.4l-2.4 2.7l-2.4 2l-3.6 2.4l-3.6 1.6l-6.1 1.8l-2.4 0.4M648 61.2l-1.2 33.2l-1.2 22.1l-1.2 15.6l-1.2 11.7l-1.2 9l-1.2 7.1l-1.2 5.8l-1.2 4.8l-1.2 3.9l-1.2 3.4l-1.2 2.9l-2.5 4.6l-2.4 3.5l-2.4 2.7l-2.4 2.2l-3.6 2.4l-3.6 1.7l-6.1 1.8l-3.6 0.7M651.6 57.9l-1.3 33.8l-1.2 22.5l-1.2 16l-1.2 11.9l-1.2 9.1l-1.2 7.3l-1.2 5.9l-1.2 4.9l-1.2 4l-1.2 3.5l-1.2 2.9l-2.4 4.7l-2.4 3.6l-2.5 2.8l-2.4 2.2l-3.6 2.5l-3.6 1.8l-4.8 1.5l-4.9 1M655.1 54.5l-1.2 34.6l-1.2 22.9l-1.2 16.2l-1.3 12.2l-1.2 9.3l-1.2 7.4l-1.2 6l-1.2 5l-1.2 4.2l-1.2 3.5l-1.2 3l-2.4 4.8l-2.4 3.7l-2.4 2.8l-2.5 2.3l-3.6 2.5l-3.6 1.8l-4.8 1.7l-6.1 1.1M658.6 51.2l-1.2 35.2l-1.2 23.3l-1.2 16.6l-1.2 12.3l-1.2 9.6l-1.3 7.5l-1.2 6.2l-1.2 5l-1.2 4.3l-1.2 3.5l-1.2 3.1l-2.4 4.9l-2.4 3.8l-2.4 2.9l-2.4 2.3l-3.7 2.6l-3.6 1.9l-4.8 1.7l-7.3 1.4M662.1 47.9l-1.2 35.8l-1.2 23.8l-1.2 16.8l-1.2 12.6l-1.2 9.7l-1.2 7.8l-1.2 6.2l-1.2 5.2l-1.3 4.3l-1.2 3.6l-1.2 3.1l-2.4 5.1l-2.4 3.8l-2.4 3l-2.4 2.3l-3.6 2.7l-3.7 1.9l-4.8 1.8l-7.2 1.4M664.4 81l-1.2 24.2l-1.2 17.2l-1.2 12.8l-1.2 9.9l-1.2 7.9l-1.2 6.3l-1.2 5.3l-1.2 4.4l-1.2 3.7l-1.3 3.2l-2.4 5.1l-2.4 3.9l-2.4 3.1l-2.4 2.4l-3.6 2.7l-3.7 2l-4.8 1.8l-7.2 1.5l-1.2 0.2M667.9 78.3l-1.2 24.7l-1.2 17.5l-1.2 13l-1.2 10.1l-1.2 8l-1.2 6.5l-1.2 5.3l-1.2 4.5l-1.2 3.8l-1.2 3.2l-2.5 5.3l-2.4 4l-2.4 3.1l-2.4 2.4l-3.6 2.8l-3.6 2l-4.9 1.9l-7.2 1.6l-2.4 0.3M671.4 75.7l-1.2 25l-1.2 17.8l-1.2 13.3l-1.2 10.3l-1.2 8.1l-1.2 6.6l-1.2 5.4l-1.2 4.6l-1.2 3.9l-1.2 3.3l-2.4 5.3l-2.4 4.1l-2.5 3.2l-2.4 2.5l-3.6 2.8l-3.6 2.1l-4.8 1.9l-7.3 1.6M629.2 197.7l-1.2 0.2M675 73l-1.2 25.5l-1.2 18.1l-1.3 13.5l-1.2 10.4l-1.2 8.3l-1.2 6.7l-1.2 5.6l-1.2 4.6l-1.2 3.9l-1.2 3.4l-2.4 5.4l-2.4 4.2l-2.4 3.2l-2.5 2.6l-2.4 2.1l-3.6 2.3l-4.8 2.2l-6.1 1.7l-2.4 0.4" stroke="#000" stroke-width="0.8" fill="none" stroke-opacity="1.0" stroke-linejoin="round"/>
<text x="390.4" y="218.9" font-size="8.2" text-anchor="end">0</text>
<text x="390.4" y="186.3" font-size="8.2" text-anchor="end">0.5</text>
<text x="390.4" y="153.7" font-size="8.2" text-anchor="end">1</text>
<text x="390.4" y="121.1" font-size="8.2" text-anchor="end">1.5</text>
<text x="390.4" y="88.5" font-size="8.2" text-anchor="end">2</text>
<text x="390.4" y="55.9" font-size="8.2" text-anchor="end">2.5</text>
<text x="390.4" y="23.3" font-size="8.2" text-anchor="end">3</text>
<text x="467.4" y="254.2" font-size="8.2" text-anchor="middle">0</text>
<text x="428.7" y="244.3" font-size="8.2" text-anchor="middle">0.5</text>
<text x="396.6" y="234.8" font-size="8.2" text-anchor="middle">1</text>
<text x="472.5" y="254.2" font-size="8.2" text-anchor="middle">0</text>
<text x="518.4" y="252.7" font-size="8.2" text-anchor="middle">0.2</text>
<text x="560.8" y="250.8" font-size="8.2" text-anchor="middle">0.4</text>
<text x="602.6" y="249.2" font-size="8.2" text-anchor="middle">0.6</text>
<text x="645.3" y="248.1" font-size="8.2" text-anchor="middle">0.8</text>
<text x="683.1" y="247.3" font-size="8.2" text-anchor="middle">1</text>
<text transform="translate(369.7 125.1) rotate(-90)" font-size="9.8" fill="#3c3c3c">R<tspan font-size="6.8" dy="4.2">0</tspan></text>
<text x="419.1" y="258.3" font-size="9" fill="#5a5a5a" style="stroke:#5a5a5a;stroke-width:.12px"><tspan font-family="Liberation Serif" font-style="italic">&#956;</tspan><tspan font-size="6.8" dy="3.6" fill="#3c3c3c"></tspan></text>
<text x="552.5" y="261.3" font-size="9" fill="#5a5a5a" style="stroke:#5a5a5a;stroke-width:.12px"><tspan font-family="Liberation Serif" font-style="italic">&#946;</tspan><tspan font-size="6.8" dy="3.6" fill="#3c3c3c">4</tspan></text>
<text x="540.7" y="10" font-size="9.5" font-weight="bold" text-anchor="middle" fill="#141414" style="stroke:#141414;stroke-width:.15px" textLength="82.2" lengthAdjust="spacing">(2047 p)/(10000 y)</text>
<path d="M163 513l156.4-41.1M104.7 486.2l155.2-41.5M46.4 459.4l154-41.9M163 513l-116.6-53.6M194.3 504.8l-117.1-53.8M225.6 496.6l-117.6-54M256.8 488.3l-118-54M288.1 480.1l-118.5-54.2M319.4 471.9l-119-54.4M46.4 459.4l0-119.9M77.2 451l0-119.9M108 442.6l0-119.9M138.8 434.3l0-119.9M169.6 425.9l0-119.9M200.4 417.5l0-119.9M46.4 459.4l154-41.9M46.4 426.7l154-41.9M46.4 394l154-41.9M46.4 361.3l154-41.9M319.4 471.9l0-119.9M259.9 444.7l0-119.9M200.4 417.5l0-119.9M319.4 471.9l-119-54.4M319.4 439.2l-119-54.4M319.4 406.5l-119-54.4M319.4 373.8l-119-54.4" stroke="#dcdcdc" stroke-width=".6" fill="none"/>
<path d="M46.5 459.4l0-119.9M46.5 459.4l-3.6-1.7M46.5 426.7l-3.6-1.7M46.5 394l-3.6-1.7M46.5 361.3l-3.6-1.7M163 513l-116.6-53.6M163 513l-3.9 1M104.7 486.2l-3.9 1M46.4 459.4l-3.9 1M163 513l156.4-41.1M163 513l3.6 1.7M194.3 504.8l3.6 1.7M225.6 496.6l3.6 1.7M256.8 488.3l3.6 1.7M288.1 480.1l3.6 1.7M319.4 471.9l3.6 1.7" stroke="#4d4d4d" stroke-width="0.8" fill="none"/>
<path d="M163 513l-4.7-4.6l6.3-1.8l4.7 4.8zM169.3 511.4l-4.7-4.8l6.2-1.7l4.7 4.8zM175.5 509.7l-4.7-4.8l6.3-1.7l4.7 4.9zM181.8 508.1l-4.7-4.9l6.2-1.8l4.7 5zM188 506.4l-4.7-5l6.3-1.7l4.7 5.1zM194.3 504.8l-4.7-5.1l6.2-1.7l4.7 5.1zM200.5 503.1l-4.7-5.1l6.3-1.8l4.7 5.3zM206.8 501.5l-4.7-5.3l6.3-1.7l4.6 5.3zM213 499.8l-4.6-5.3l6.2-1.8l4.7 5.5zM219.3 498.2l-4.7-5.5l6.3-1.7l4.7 5.6zM225.6 496.6l-4.7-5.6l6.2-1.7l4.7 5.6zM231.8 494.9l-4.7-5.6l6.3-1.8l4.7 5.8zM238.1 493.3l-4.7-5.8l6.2-1.7l4.7 5.8zM244.3 491.6l-4.7-5.8l6.3-1.7l4.7 5.9zM250.6 490l-4.7-5.9l6.2-1.8l4.7 6zM256.8 488.3l-4.7-6l6.3-1.7l4.7 6.1zM263.1 486.7l-4.7-6.1l6.2-1.8l4.8 6.3zM269.4 485.1l-4.8-6.3l6.3-1.7l4.7 6.3zM275.6 483.4l-4.7-6.3l6.2-1.7l4.8 6.4zM281.9 481.8l-4.8-6.4l6.3-1.8l4.7 6.5zM288.1 480.1l-4.7-6.5l6.2-1.7l4.8 6.6zM294.4 478.5l-4.8-6.6l6.3-1.8l4.7 6.7zM300.6 476.8l-4.7-6.7l6.2-1.7l4.8 6.8zM306.9 475.2l-4.8-6.8l6.3-1.7l4.7 6.8zM313.1 473.5l-4.7-6.8l6.2-1.8l4.8 7z" fill="#3e26a8" stroke="#3e26a8" stroke-width=".3"/>
<path d="M158.3 508.4l-4.6-4.6l6.2-1.9l4.7 4.7zM164.6 506.6l-4.7-4.7l6.3-1.8l4.6 4.8zM170.8 504.9l-4.6-4.8l6.2-1.8l4.7 4.9zM177.1 503.2l-4.7-4.9l6.3-1.9l4.6 5zM183.3 501.4l-4.6-5l6.2-1.8l4.7 5.1z" fill="#402ab4" stroke="#402ab4" stroke-width=".3"/>
<path d="M189.6 499.7l-4.7-5.1l6.3-1.8l4.6 5.2zM195.8 498l-4.6-5.2l6.2-1.9l4.7 5.3zM202.1 496.2l-4.7-5.3l6.3-1.8l4.7 5.4zM208.4 494.5l-4.7-5.4l6.2-1.8l4.7 5.4zM214.6 492.7l-4.7-5.4l6.3-1.9l4.7 5.6zM220.9 491l-4.7-5.6l6.2-1.8l4.7 5.7zM227.1 489.3l-4.7-5.7l6.3-1.8l4.7 5.7zM233.4 487.5l-4.7-5.7l6.2-1.9l4.7 5.9zM239.6 485.8l-4.7-5.9l6.2-1.8l4.8 6zM245.9 484.1l-4.8-6l6.3-1.8l4.7 6zM252.1 482.3l-4.7-6l6.2-1.8l4.8 6.1zM258.4 480.6l-4.8-6.1l6.3-1.9l4.7 6.2zM264.6 478.8l-4.7-6.2l6.2-1.8l4.8 6.3zM270.9 477.1l-4.8-6.3l6.3-1.8l4.7 6.4zM277.1 475.4l-4.7-6.4l6.2-1.9l4.8 6.5z" fill="#422ec0" stroke="#422ec0" stroke-width=".3"/>
<path d="M283.4 473.6l-4.8-6.5l6.3-1.8l4.7 6.6zM289.6 471.9l-4.7-6.6l6.2-1.8l4.8 6.6zM295.9 470.1l-4.8-6.6l6.3-1.9l4.7 6.8zM302.1 468.4l-4.7-6.8l6.2-1.8l4.8 6.9zM308.4 466.7l-4.8-6.9l6.3-1.8l4.7 6.9zM153.7 503.8l-4.7-4.6l6.3-2l4.6 4.7zM159.9 501.9l-4.6-4.7l6.2-1.9l4.7 4.8zM166.2 500.1l-4.7-4.8l6.2-1.9l4.7 4.9zM172.4 498.3l-4.7-4.9l6.3-1.9l4.7 4.9zM178.7 496.4l-4.7-4.9l6.2-2l4.7 5.1zM184.9 494.6l-4.7-5.1l6.3-1.9l4.7 5.2zM191.2 492.8l-4.7-5.2l6.2-1.9l4.7 5.2zM197.4 490.9l-4.7-5.2l6.3-2l4.7 5.4zM203.7 489.1l-4.7-5.4l6.2-1.9l4.7 5.5z" fill="#4332cb" stroke="#4332cb" stroke-width=".3"/>
<path d="M209.9 487.3l-4.7-5.5l6.3-1.9l4.7 5.5zM216.2 485.4l-4.7-5.5l6.2-1.9l4.7 5.6zM222.4 483.6l-4.7-5.6l6.2-2l4.8 5.8zM228.7 481.8l-4.8-5.8l6.3-1.9l4.7 5.8zM234.9 479.9l-4.7-5.8l6.2-1.9l4.7 5.9zM241.1 478.1l-4.7-5.9l6.3-1.9l4.7 6zM247.4 476.3l-4.7-6l6.2-2l4.7 6.2zM253.6 474.5l-4.7-6.2l6.3-1.9l4.7 6.2zM259.9 472.6l-4.7-6.2l6.2-1.9l4.7 6.3zM149 499.2l-4.7-4.6l6.3-2.1l4.7 4.7zM155.3 497.2l-4.7-4.7l6.2-2l4.7 4.8zM161.5 495.3l-4.7-4.8l6.3-2l4.6 4.9zM167.7 493.4l-4.6-4.9l6.2-2l4.7 5z" fill="#4537d5" stroke="#4537d5" stroke-width=".3"/>
<path d="M266.1 470.8l-4.7-6.3l6.3-2l4.7 6.5zM272.4 469l-4.7-6.5l6.2-1.9l4.7 6.5zM278.6 467.1l-4.7-6.5l6.2-1.9l4.8 6.6zM284.9 465.3l-4.8-6.6l6.3-1.9l4.7 6.7zM291.1 463.5l-4.7-6.7l6.2-2l4.8 6.8zM297.4 461.6l-4.8-6.8l6.3-1.9l4.7 6.9zM303.6 459.8l-4.7-6.9l6.2-1.9l4.8 7zM174 491.5l-4.7-5l6.2-2.1l4.7 5.1zM180.2 489.5l-4.7-5.1l6.3-2l4.7 5.2zM186.5 487.6l-4.7-5.2l6.2-2l4.7 5.3zM192.7 485.7l-4.7-5.3l6.3-2l4.7 5.3zM199 483.7l-4.7-5.3l6.2-2l4.7 5.4zM205.2 481.8l-4.7-5.4l6.3-2.1l4.7 5.6zM144.3 494.6l-4.6-4.7l6.2-2.1l4.7 4.7zM150.6 492.5l-4.7-4.7l6.3-2.1l4.6 4.8z" fill="#463cde" stroke="#463cde" stroke-width=".3"/>
<path d="M211.5 479.9l-4.7-5.6l6.2-2l4.7 5.7zM217.7 478l-4.7-5.7l6.2-2l4.7 5.7zM223.9 476l-4.7-5.7l6.3-2l4.7 5.8zM230.2 474.1l-4.7-5.8l6.2-2.1l4.7 6zM236.4 472.2l-4.7-6l6.3-2l4.7 6.1zM242.7 470.3l-4.7-6.1l6.2-2l4.7 6.1zM156.8 490.5l-4.6-4.8l6.2-2.1l4.7 4.9zM163.1 488.5l-4.7-4.9l6.2-2.1l4.7 5zM169.3 486.5l-4.7-5l6.3-2.1l4.6 5zM175.5 484.4l-4.6-5l6.2-2.2l4.7 5.2zM181.8 482.4l-4.7-5.2l6.2-2.1l4.7 5.3z" fill="#4741e5" stroke="#4741e5" stroke-width=".3"/>
<path d="M248.9 468.3l-4.7-6.1l6.2-2l4.8 6.2zM255.2 466.4l-4.8-6.2l6.3-2l4.7 6.3zM261.4 464.5l-4.7-6.3l6.2-2.1l4.8 6.4zM267.7 462.5l-4.8-6.4l6.3-2l4.7 6.5zM273.9 460.6l-4.7-6.5l6.2-2l4.7 6.6zM280.1 458.7l-4.7-6.6l6.2-2l4.8 6.7zM286.4 456.8l-4.8-6.7l6.3-2l4.7 6.7zM188 480.4l-4.7-5.3l6.3-2.1l4.7 5.4zM194.3 478.4l-4.7-5.4l6.2-2.1l4.7 5.5zM200.5 476.4l-4.7-5.5l6.2-2.1l4.8 5.5zM206.8 474.3l-4.8-5.5l6.3-2.1l4.7 5.6zM139.7 489.9l-4.7-4.6l6.2-2.2l4.7 4.7zM145.9 487.8l-4.7-4.7l6.3-2.2l4.7 4.8zM152.2 485.7l-4.7-4.8l6.2-2.2l4.7 4.9zM158.4 483.6l-4.7-4.9l6.2-2.2l4.7 5z" fill="#4747eb" stroke="#4747eb" stroke-width=".3"/>
<path d="M292.6 454.8l-4.7-6.7l6.2-2.1l4.8 6.9zM298.9 452.9l-4.8-6.9l6.3-2l4.7 7zM213 472.3l-4.7-5.6l6.2-2.2l4.7 5.8zM219.2 470.3l-4.7-5.8l6.3-2.1l4.7 5.9zM225.5 468.3l-4.7-5.9l6.2-2.1l4.7 5.9zM231.7 466.2l-4.7-5.9l6.2-2.1l4.8 6zM238 464.2l-4.8-6l6.3-2.1l4.7 6.1zM164.6 481.5l-4.7-5l6.3-2.2l4.7 5.1zM170.9 479.4l-4.7-5.1l6.2-2.2l4.7 5.1zM177.1 477.2l-4.7-5.1l6.2-2.2l4.7 5.2zM183.3 475.1l-4.7-5.2l6.3-2.3l4.7 5.4zM135 485.3l-4.6-4.6l6.2-2.3l4.6 4.7zM141.2 483.1l-4.6-4.7l6.2-2.3l4.7 4.8z" fill="#484df0" stroke="#484df0" stroke-width=".3"/>
<path d="M244.2 462.2l-4.7-6.1l6.2-2.1l4.7 6.2zM250.4 460.2l-4.7-6.2l6.2-2.1l4.8 6.3zM256.7 458.2l-4.8-6.3l6.3-2.2l4.7 6.4zM262.9 456.1l-4.7-6.4l6.2-2.1l4.8 6.5zM269.2 454.1l-4.8-6.5l6.3-2.1l4.7 6.6zM189.6 473l-4.7-5.4l6.2-2.2l4.7 5.5zM195.8 470.9l-4.7-5.5l6.2-2.2l4.7 5.6zM202 468.8l-4.7-5.6l6.3-2.2l4.7 5.7zM208.3 466.7l-4.7-5.7l6.2-2.2l4.7 5.7zM147.5 480.9l-4.7-4.8l6.2-2.3l4.7 4.9zM153.7 478.7l-4.7-4.9l6.3-2.3l4.6 5zM159.9 476.5l-4.6-5l6.2-2.3l4.7 5.1zM166.2 474.3l-4.7-5.1l6.2-2.3l4.7 5.2zM130.4 480.7l-4.7-4.6l6.2-2.4l4.7 4.7z" fill="#4852f4" stroke="#4852f4" stroke-width=".3"/>
<path d="M275.4 452.1l-4.7-6.6l6.2-2.1l4.7 6.7zM281.6 450.1l-4.7-6.7l6.2-2.1l4.8 6.8zM287.9 448.1l-4.8-6.8l6.3-2.1l4.7 6.8zM294.1 446l-4.7-6.8l6.2-2.2l4.8 7zM214.5 464.5l-4.7-5.7l6.2-2.2l4.8 5.8zM220.8 462.4l-4.8-5.8l6.3-2.2l4.7 5.9zM227 460.3l-4.7-5.9l6.2-2.2l4.7 6zM233.2 458.2l-4.7-6l6.2-2.2l4.8 6.1zM172.4 472.1l-4.7-5.2l6.3-2.3l4.6 5.3zM178.6 469.9l-4.6-5.3l6.2-2.3l4.7 5.3zM184.9 467.6l-4.7-5.3l6.2-2.3l4.7 5.4zM136.6 478.4l-4.7-4.7l6.2-2.4l4.7 4.8zM142.8 476.1l-4.7-4.8l6.3-2.4l4.6 4.9zM149 473.8l-4.6-4.9l6.2-2.4l4.7 5z" fill="#4758f8" stroke="#4758f8" stroke-width=".3"/>
<path d="M239.5 456.1l-4.8-6.1l6.3-2.2l4.7 6.2zM245.7 454l-4.7-6.2l6.2-2.3l4.7 6.4zM251.9 451.9l-4.7-6.4l6.2-2.2l4.8 6.4zM191.1 465.4l-4.7-5.4l6.2-2.3l4.7 5.5zM197.3 463.2l-4.7-5.5l6.3-2.3l4.7 5.6zM203.6 461l-4.7-5.6l6.2-2.3l4.7 5.7zM155.3 471.5l-4.7-5l6.2-2.4l4.7 5.1zM161.5 469.2l-4.7-5.1l6.2-2.4l4.7 5.2zM167.7 466.9l-4.7-5.2l6.3-2.4l4.7 5.3zM125.7 476.1l-4.7-4.6l6.2-2.5l4.7 4.7zM131.9 473.7l-4.7-4.7l6.3-2.5l4.6 4.8zM138.1 471.3l-4.6-4.8l6.2-2.5l4.7 4.9z" fill="#465efb" stroke="#465efb" stroke-width=".3"/>
<path d="M258.2 449.7l-4.8-6.4l6.3-2.2l4.7 6.5zM264.4 447.6l-4.7-6.5l6.2-2.2l4.8 6.6zM270.7 445.5l-4.8-6.6l6.2-2.2l4.8 6.7zM276.9 443.4l-4.8-6.7l6.3-2.2l4.7 6.8zM209.8 458.8l-4.7-5.7l6.2-2.3l4.7 5.8zM216 456.6l-4.7-5.8l6.3-2.4l4.7 6zM222.3 454.4l-4.7-6l6.2-2.3l4.7 6.1zM174 464.6l-4.7-5.3l6.2-2.4l4.7 5.4zM180.2 462.3l-4.7-5.4l6.2-2.4l4.7 5.5zM186.4 460l-4.7-5.5l6.2-2.4l4.7 5.6zM144.4 468.9l-4.7-4.9l6.2-2.5l4.7 5zM150.6 466.5l-4.7-5l6.2-2.5l4.7 5.1zM121 471.5l-4.6-4.6l6.2-2.6l4.6 4.7zM127.2 469l-4.6-4.7l6.2-2.6l4.7 4.8z" fill="#4563fd" stroke="#4563fd" stroke-width=".3"/>
<path d="M283.1 441.3l-4.7-6.8l6.2-2.2l4.8 6.9zM289.4 439.2l-4.8-6.9l6.2-2.2l4.8 6.9zM228.5 452.2l-4.7-6.1l6.2-2.3l4.7 6.2zM234.7 450l-4.7-6.2l6.2-2.3l4.8 6.3zM241 447.8l-4.8-6.3l6.3-2.3l4.7 6.3zM192.6 457.7l-4.7-5.6l6.3-2.4l4.7 5.7zM198.9 455.4l-4.7-5.7l6.2-2.4l4.7 5.8zM156.8 464.1l-4.7-5.1l6.3-2.5l4.6 5.2zM163 461.7l-4.6-5.2l6.2-2.5l4.7 5.3zM169.3 459.3l-4.7-5.3l6.2-2.5l4.7 5.4zM133.5 466.5l-4.7-4.8l6.2-2.6l4.7 4.9zM139.7 464l-4.7-4.9l6.2-2.6l4.7 5zM116.4 466.9l-4.7-4.6l6.2-2.7l4.7 4.7z" fill="#4269fe" stroke="#4269fe" stroke-width=".3"/>
<path d="M247.2 445.5l-4.7-6.3l6.2-2.3l4.7 6.4zM253.4 443.3l-4.7-6.4l6.2-2.3l4.8 6.5zM259.7 441.1l-4.8-6.5l6.3-2.3l4.7 6.6zM265.9 438.9l-4.7-6.6l6.2-2.3l4.7 6.7zM205.1 453.1l-4.7-5.8l6.2-2.4l4.7 5.9zM211.3 450.8l-4.7-5.9l6.2-2.4l4.8 5.9zM217.6 448.4l-4.8-5.9l6.3-2.4l4.7 6zM175.5 456.9l-4.7-5.4l6.2-2.5l4.7 5.5zM181.7 454.5l-4.7-5.5l6.2-2.4l4.7 5.5zM145.9 461.5l-4.7-5l6.2-2.6l4.7 5.1zM152.1 459l-4.7-5.1l6.3-2.5l4.7 5.1zM122.6 464.3l-4.7-4.7l6.2-2.7l4.7 4.8zM128.8 461.7l-4.7-4.8l6.2-2.7l4.7 4.9z" fill="#3e6fff" stroke="#3e6fff" stroke-width=".3"/>
<path d="M272.1 436.7l-4.7-6.7l6.2-2.3l4.8 6.8zM278.4 434.5l-4.8-6.8l6.3-2.3l4.7 6.9zM284.6 432.3l-4.7-6.9l6.2-2.3l4.7 7zM223.8 446.1l-4.7-6l6.2-2.4l4.7 6.1zM230 443.8l-4.7-6.1l6.2-2.4l4.7 6.2zM236.2 441.5l-4.7-6.2l6.2-2.4l4.8 6.3zM187.9 452.1l-4.7-5.5l6.3-2.5l4.7 5.6zM194.2 449.7l-4.7-5.6l6.2-2.5l4.7 5.7zM200.4 447.3l-4.7-5.7l6.2-2.5l4.7 5.8zM158.4 456.5l-4.7-5.1l6.2-2.6l4.7 5.2zM164.6 454l-4.7-5.2l6.2-2.6l4.7 5.3zM135 459.1l-4.7-4.9l6.3-2.7l4.6 5zM141.2 456.5l-4.6-5l6.2-2.6l4.6 5zM111.7 462.3l-4.7-4.6l6.2-2.8l4.7 4.7zM117.9 459.6l-4.7-4.7l6.3-2.8l4.6 4.8z" fill="#3875fe" stroke="#3875fe" stroke-width=".3"/>
<path d="M242.5 439.2l-4.8-6.3l6.3-2.4l4.7 6.4zM248.7 436.9l-4.7-6.4l6.2-2.4l4.7 6.5zM254.9 434.6l-4.7-6.5l6.2-2.4l4.8 6.6zM206.6 444.9l-4.7-5.8l6.2-2.5l4.7 5.9zM212.8 442.5l-4.7-5.9l6.2-2.5l4.8 6zM170.8 451.5l-4.7-5.3l6.2-2.6l4.7 5.4zM177 449l-4.7-5.4l6.2-2.6l4.7 5.6zM183.2 446.6l-4.7-5.6l6.3-2.6l4.7 5.7zM147.4 453.9l-4.6-5l6.2-2.7l4.7 5.2zM153.7 451.4l-4.7-5.2l6.2-2.7l4.7 5.3zM124.1 456.9l-4.6-4.8l6.2-2.8l4.6 4.9zM130.3 454.2l-4.6-4.9l6.2-2.8l4.7 5zM107 457.7l-4.6-4.7l6.2-2.8l4.6 4.7zM113.2 454.9l-4.6-4.7l6.2-2.9l4.7 4.8z" fill="#327cfc" stroke="#327cfc" stroke-width=".3"/>
<path d="M261.2 432.3l-4.8-6.6l6.2-2.4l4.8 6.7zM267.4 430l-4.8-6.7l6.3-2.4l4.7 6.8zM219.1 440.1l-4.8-6l6.3-2.5l4.7 6.1zM225.3 437.7l-4.7-6.1l6.2-2.5l4.7 6.2zM189.5 444.1l-4.7-5.7l6.2-2.6l4.7 5.8zM195.7 441.6l-4.7-5.8l6.2-2.6l4.7 5.9zM159.9 448.8l-4.7-5.3l6.2-2.7l4.7 5.4zM166.1 446.2l-4.7-5.4l6.2-2.7l4.7 5.5zM136.6 451.5l-4.7-5l6.2-2.7l4.7 5.1zM142.8 448.9l-4.7-5.1l6.2-2.8l4.7 5.2zM119.5 452.1l-4.7-4.8l6.2-2.9l4.7 4.9zM102.4 453l-4.7-4.6l6.2-2.9l4.7 4.7z" fill="#2f81fa" stroke="#2f81fa" stroke-width=".3"/>
<path d="M273.6 427.7l-4.7-6.8l6.2-2.4l4.8 6.9zM279.9 425.4l-4.8-6.9l6.2-2.4l4.8 7zM231.5 435.3l-4.7-6.2l6.2-2.5l4.7 6.3zM237.7 432.9l-4.7-6.3l6.2-2.5l4.8 6.4zM244 430.5l-4.8-6.4l6.3-2.5l4.7 6.5zM201.9 439.1l-4.7-5.9l6.2-2.6l4.7 6zM208.1 436.6l-4.7-6l6.2-2.5l4.7 6zM172.3 443.6l-4.7-5.5l6.2-2.7l4.7 5.6zM178.5 441l-4.7-5.6l6.2-2.6l4.8 5.6zM149 446.2l-4.7-5.2l6.2-2.8l4.7 5.3zM155.2 443.5l-4.7-5.3l6.2-2.8l4.7 5.4zM125.7 449.3l-4.7-4.9l6.2-2.8l4.7 4.9zM131.9 446.5l-4.7-4.9l6.2-2.9l4.7 5.1zM108.6 450.2l-4.7-4.7l6.2-3l4.7 4.8z" fill="#2e87f7" stroke="#2e87f7" stroke-width=".3"/>
<path d="M250.2 428.1l-4.7-6.5l6.2-2.5l4.7 6.6zM256.4 425.7l-4.7-6.6l6.2-2.5l4.7 6.7zM214.3 434.1l-4.7-6l6.2-2.6l4.8 6.1zM220.6 431.6l-4.8-6.1l6.3-2.6l4.7 6.2zM184.8 438.4l-4.8-5.6l6.3-2.7l4.7 5.7zM191 435.8l-4.7-5.7l6.2-2.7l4.7 5.8zM161.4 440.8l-4.7-5.4l6.2-2.7l4.7 5.4zM138.1 443.8l-4.7-5.1l6.2-2.9l4.7 5.2zM114.8 447.3l-4.7-4.8l6.2-3l4.7 4.9zM121 444.4l-4.7-4.9l6.2-2.9l4.7 5zM97.7 448.4l-4.7-4.6l6.2-3l4.7 4.7zM103.9 445.5l-4.7-4.7l6.2-3.1l4.7 4.8z" fill="#2d8cf3" stroke="#2d8cf3" stroke-width=".3"/>
<path d="M262.6 423.3l-4.7-6.7l6.2-2.5l4.8 6.8zM268.9 420.9l-4.8-6.8l6.2-2.5l4.8 6.9zM275.1 418.5l-4.8-6.9l6.3-2.4l4.7 6.9zM226.8 429.1l-4.7-6.2l6.2-2.6l4.7 6.3zM233 426.6l-4.7-6.3l6.2-2.6l4.7 6.4zM197.2 433.2l-4.7-5.8l6.2-2.7l4.7 5.9zM203.4 430.6l-4.7-5.9l6.2-2.7l4.7 6.1zM167.6 438.1l-4.7-5.4l6.2-2.8l4.7 5.5zM173.8 435.4l-4.7-5.5l6.2-2.8l4.7 5.7zM144.3 441l-4.7-5.2l6.2-2.9l4.7 5.3zM150.5 438.2l-4.7-5.3l6.2-2.8l4.7 5.3zM127.2 441.6l-4.7-5l6.2-3l4.7 5.1zM110.1 442.5l-4.7-4.8l6.2-3.1l4.7 4.9zM93 443.8l-4.6-4.6l6.2-3.1l4.6 4.7z" fill="#2b91ef" stroke="#2b91ef" stroke-width=".3"/>
<path d="M239.2 424.1l-4.7-6.4l6.2-2.6l4.8 6.5zM245.5 421.6l-4.8-6.5l6.2-2.6l4.8 6.6zM209.6 428.1l-4.7-6.1l6.2-2.7l4.7 6.2zM215.8 425.5l-4.7-6.2l6.2-2.6l4.8 6.2zM180 432.8l-4.7-5.7l6.3-2.8l4.7 5.8zM186.3 430.1l-4.7-5.8l6.2-2.7l4.7 5.8zM156.7 435.4l-4.7-5.3l6.2-2.9l4.7 5.5zM162.9 432.7l-4.7-5.5l6.2-2.9l4.7 5.6zM133.4 438.7l-4.7-5.1l6.2-3l4.7 5.2zM139.6 435.8l-4.7-5.2l6.2-2.9l4.7 5.2zM116.3 439.5l-4.7-4.9l6.2-3l4.7 5zM122.5 436.6l-4.7-5l6.2-3.1l4.7 5.1zM99.2 440.8l-4.6-4.7l6.2-3.2l4.6 4.8zM105.4 437.7l-4.6-4.8l6.2-3.2l4.6 4.9zM88.4 439.2l-4.7-4.6l6.2-3.3l4.7 4.8z" fill="#2797eb" stroke="#2797eb" stroke-width=".3"/>
<path d="M251.7 419.1l-4.8-6.6l6.2-2.6l4.8 6.7zM257.9 416.6l-4.8-6.7l6.3-2.5l4.7 6.7zM264.1 414.1l-4.7-6.7l6.2-2.6l4.7 6.8zM222.1 422.9l-4.8-6.2l6.2-2.7l4.8 6.3zM228.3 420.3l-4.8-6.3l6.3-2.7l4.7 6.4zM192.5 427.4l-4.7-5.8l6.2-2.8l4.7 5.9zM198.7 424.7l-4.7-5.9l6.2-2.8l4.7 6zM169.1 429.9l-4.7-5.6l6.2-2.8l4.7 5.6zM145.8 432.9l-4.7-5.2l6.2-3l4.7 5.4zM152 430.1l-4.7-5.4l6.2-3l4.7 5.5zM128.7 433.6l-4.7-5.1l6.2-3l4.7 5.1zM111.6 434.6l-4.6-4.9l6.2-3.1l4.6 5zM94.6 436.1l-4.7-4.8l6.2-3.2l4.7 4.8z" fill="#259be8" stroke="#259be8" stroke-width=".3"/>
<path d="M270.3 411.6l-4.7-6.8l6.2-2.6l4.8 7zM234.5 417.7l-4.7-6.4l6.2-2.7l4.7 6.5zM240.7 415.1l-4.7-6.5l6.2-2.7l4.7 6.6zM204.9 422l-4.7-6l6.2-2.8l4.7 6.1zM175.3 427.1l-4.7-5.6l6.2-2.9l4.8 5.7zM181.6 424.3l-4.8-5.7l6.2-2.9l4.8 5.9zM158.2 427.2l-4.7-5.5l6.2-2.9l4.7 5.5zM134.9 430.6l-4.7-5.1l6.2-3.1l4.7 5.3zM117.8 431.6l-4.6-5l6.1-3.2l4.7 5.1zM100.8 432.9l-4.7-4.8l6.2-3.2l4.7 4.8zM83.7 434.6l-4.7-4.6l6.2-3.4l4.7 4.7zM89.9 431.3l-4.7-4.7l6.2-3.3l4.7 4.8z" fill="#23a0e5" stroke="#23a0e5" stroke-width=".3"/>
<path d="M246.9 412.5l-4.7-6.6l6.2-2.6l4.7 6.6zM253.1 409.9l-4.7-6.6l6.2-2.7l4.8 6.8zM211.1 419.3l-4.7-6.1l6.2-2.8l4.7 6.3zM217.3 416.7l-4.7-6.3l6.2-2.7l4.7 6.3zM187.8 421.6l-4.8-5.9l6.3-2.9l4.7 6zM194 418.8l-4.7-6l6.2-2.8l4.7 6zM164.4 424.3l-4.7-5.5l6.2-3l4.7 5.7zM170.6 421.5l-4.7-5.7l6.2-3l4.7 5.8zM141.1 427.7l-4.7-5.3l6.2-3.1l4.7 5.4zM147.3 424.7l-4.7-5.4l6.2-3l4.7 5.4zM124 428.5l-4.7-5.1l6.2-3.1l4.7 5.2zM130.2 425.5l-4.7-5.2l6.2-3.2l4.7 5.3zM107 429.7l-4.7-4.8l6.2-3.3l4.7 5zM113.2 426.6l-4.7-5l6.2-3.2l4.6 5zM96.1 428.1l-4.7-4.8l6.2-3.3l4.7 4.9zM79 430l-4.6-4.6l6.2-3.5l4.6 4.7z" fill="#20a5e3" stroke="#20a5e3" stroke-width=".3"/>
<path d="M259.4 407.4l-4.8-6.8l6.2-2.7l4.8 6.9zM265.6 404.8l-4.8-6.9l6.2-2.7l4.8 7zM223.5 414l-4.7-6.3l6.2-2.8l4.8 6.4zM229.8 411.3l-4.8-6.4l6.2-2.8l4.8 6.5zM200.2 416l-4.7-6l6.2-2.9l4.7 6.1zM176.8 418.6l-4.7-5.8l6.2-2.9l4.7 5.8zM153.5 421.7l-4.7-5.4l6.2-3.1l4.7 5.6zM136.4 422.4l-4.7-5.3l6.2-3.1l4.7 5.3zM119.3 423.4l-4.6-5l6.2-3.3l4.6 5.2zM102.3 424.9l-4.7-4.9l6.2-3.4l4.7 5zM85.2 426.6l-4.6-4.7l6.2-3.4l4.6 4.8zM74.4 425.4l-4.7-4.6l6.2-3.6l4.7 4.7z" fill="#1ca9df" stroke="#1ca9df" stroke-width=".3"/>
<path d="M236 408.6l-4.8-6.5l6.2-2.8l4.8 6.6zM242.2 405.9l-4.8-6.6l6.3-2.7l4.7 6.7zM206.4 413.2l-4.7-6.1l6.2-2.9l4.7 6.2zM212.6 410.4l-4.7-6.2l6.2-2.8l4.7 6.3zM183 415.7l-4.7-5.8l6.2-3l4.8 5.9zM189.3 412.8l-4.8-5.9l6.2-3l4.8 6.1zM159.7 418.8l-4.7-5.6l6.2-3l4.7 5.6zM165.9 415.8l-4.7-5.6l6.2-3.1l4.7 5.7zM142.6 419.3l-4.7-5.3l6.2-3.2l4.7 5.5zM125.5 420.3l-4.6-5.2l6.1-3.2l4.7 5.2zM108.5 421.6l-4.7-5l6.2-3.3l4.7 5.1zM91.4 423.3l-4.6-4.8l6.1-3.4l4.7 4.9zM80.6 421.9l-4.7-4.7l6.2-3.5l4.7 4.8z" fill="#18addb" stroke="#18addb" stroke-width=".3"/>
<path d="M248.4 403.3l-4.7-6.7l6.2-2.8l4.7 6.8zM254.6 400.6l-4.7-6.8l6.2-2.8l4.7 6.9zM218.8 407.7l-4.7-6.3l6.2-2.9l4.7 6.4zM225 404.9l-4.7-6.4l6.2-2.9l4.7 6.5zM195.5 410l-4.8-6.1l6.2-2.9l4.8 6.1zM172.1 412.8l-4.7-5.7l6.2-3.1l4.7 5.9zM148.8 416.3l-4.7-5.5l6.2-3.1l4.7 5.5zM155 413.2l-4.7-5.5l6.2-3.2l4.7 5.7zM131.7 417.1l-4.7-5.2l6.2-3.3l4.7 5.4zM114.7 418.4l-4.7-5.1l6.2-3.4l4.7 5.2zM97.6 420l-4.7-4.9l6.2-3.5l4.7 5zM103.8 416.6l-4.7-5l6.2-3.4l4.7 5.1zM86.8 418.5l-4.7-4.8l6.2-3.5l4.6 4.9zM69.7 420.8l-4.6-4.7l6.1-3.6l4.7 4.7z" fill="#12b1d6" stroke="#12b1d6" stroke-width=".3"/>
<path d="M260.8 397.9l-4.7-6.9l6.2-2.8l4.7 7zM231.2 402.1l-4.7-6.5l6.2-2.9l4.7 6.6zM201.7 407.1l-4.8-6.1l6.2-3l4.8 6.2zM207.9 404.2l-4.8-6.2l6.2-3l4.8 6.4zM178.3 409.9l-4.7-5.9l6.2-3l4.7 5.9zM184.5 406.9l-4.7-5.9l6.2-3.1l4.7 6zM161.2 410.2l-4.7-5.7l6.2-3.1l4.7 5.7zM137.9 414l-4.7-5.4l6.2-3.2l4.7 5.4zM144.1 410.8l-4.7-5.4l6.2-3.3l4.7 5.6zM120.9 415.1l-4.7-5.2l6.2-3.3l4.6 5.3zM110 413.3l-4.7-5.1l6.2-3.5l4.7 5.2zM92.9 415.1l-4.6-4.9l6.1-3.6l4.7 5zM75.9 417.2l-4.7-4.7l6.2-3.6l4.7 4.8zM65.1 416.1l-4.7-4.6l6.2-3.7l4.6 4.7z" fill="#08b5d0" stroke="#08b5d0" stroke-width=".3"/>
<path d="M237.4 399.3l-4.7-6.6l6.2-2.8l4.8 6.7zM243.7 396.6l-4.8-6.7l6.2-2.9l4.8 6.8zM214.1 401.4l-4.8-6.4l6.2-2.9l4.8 6.4zM190.7 403.9l-4.7-6l6.2-3l4.7 6.1zM167.4 407.1l-4.7-5.7l6.2-3.2l4.7 5.8zM150.3 407.7l-4.7-5.6l6.2-3.2l4.7 5.6zM127 411.9l-4.6-5.3l6.1-3.4l4.7 5.4zM133.2 408.6l-4.7-5.4l6.2-3.3l4.7 5.5zM116.2 409.9l-4.7-5.2l6.2-3.4l4.7 5.3zM99.1 411.6l-4.7-5l6.2-3.5l4.7 5.1zM82.1 413.7l-4.7-4.8l6.2-3.6l4.7 4.9zM71.2 412.5l-4.6-4.7l6.1-3.7l4.7 4.8zM60.4 411.5l-4.7-4.6l6.2-3.8l4.7 4.7z" fill="#01b8ca" stroke="#01b8ca" stroke-width=".3"/>
<path d="M249.9 393.8l-4.8-6.8l6.2-2.9l4.8 6.9zM220.3 398.5l-4.8-6.4l6.2-3l4.8 6.5zM226.5 395.6l-4.8-6.5l6.3-2.9l4.7 6.5zM196.9 401l-4.7-6.1l6.2-3.1l4.7 6.2zM173.6 404l-4.7-5.8l6.2-3.2l4.7 6zM156.5 404.5l-4.7-5.6l6.2-3.3l4.7 5.8zM139.4 405.4l-4.7-5.5l6.2-3.3l4.7 5.5zM122.4 406.6l-4.7-5.3l6.1-3.4l4.7 5.3zM105.3 408.2l-4.7-5.1l6.2-3.5l4.7 5.1zM88.3 410.2l-4.7-4.9l6.2-3.7l4.6 5zM77.4 408.9l-4.7-4.8l6.2-3.7l4.7 4.9zM66.6 407.8l-4.7-4.7l6.2-3.8l4.6 4.8z" fill="#02bac3" stroke="#02bac3" stroke-width=".3"/>
<path d="M256.1 391l-4.8-6.9l6.2-2.8l4.8 6.9zM232.7 392.7l-4.7-6.5l6.2-3l4.7 6.7zM203.1 398l-4.7-6.2l6.2-3.1l4.7 6.3zM209.3 395l-4.7-6.3l6.2-3l4.7 6.4zM179.8 401l-4.7-6l6.2-3.1l4.7 6zM186 397.9l-4.7-6l6.2-3.2l4.7 6.2zM162.7 401.4l-4.7-5.8l6.2-3.2l4.7 5.8zM145.6 402.1l-4.7-5.5l6.2-3.4l4.7 5.7zM128.5 403.2l-4.7-5.3l6.2-3.5l4.7 5.5zM111.5 404.7l-4.7-5.1l6.2-3.6l4.7 5.3zM94.4 406.6l-4.6-5l6.1-3.6l4.7 5.1zM83.6 405.3l-4.7-4.9l6.2-3.7l4.7 4.9zM72.7 404.1l-4.6-4.8l6.1-3.8l4.7 4.9zM55.7 406.9l-4.6-4.6l6.1-3.9l4.7 4.7z" fill="#0bbdbd" stroke="#0bbdbd" stroke-width=".3"/>
<path d="M238.9 389.9l-4.7-6.7l6.2-3l4.7 6.8zM245.1 387l-4.7-6.8l6.2-2.9l4.7 6.8zM215.5 392.1l-4.7-6.4l6.2-3.1l4.7 6.5zM192.2 394.9l-4.7-6.2l6.2-3.1l4.7 6.2zM168.9 398.2l-4.7-5.8l6.2-3.3l4.7 5.9zM151.8 398.9l-4.7-5.7l6.2-3.3l4.7 5.7zM134.7 399.9l-4.7-5.5l6.2-3.4l4.7 5.6zM117.7 401.3l-4.7-5.3l6.2-3.5l4.6 5.4zM100.6 403.1l-4.7-5.1l6.2-3.6l4.7 5.2zM89.8 401.6l-4.7-4.9l6.1-3.8l4.7 5.1zM61.9 403.1l-4.7-4.7l6.2-3.9l4.7 4.8zM51.1 402.3l-4.7-4.6l6.2-4l4.6 4.7z" fill="#19bfb6" stroke="#19bfb6" stroke-width=".3"/>
<path d="M251.3 384.1l-4.7-6.8l6.2-3l4.7 7zM221.7 389.1l-4.7-6.5l6.2-3l4.8 6.6zM228 386.2l-4.8-6.6l6.2-3.1l4.8 6.7zM198.4 391.8l-4.7-6.2l6.2-3.2l4.7 6.3zM175.1 395l-4.7-5.9l6.2-3.2l4.7 6zM181.3 391.9l-4.7-6l6.2-3.3l4.7 6.1zM158 395.6l-4.7-5.7l6.2-3.4l4.7 5.9zM140.9 396.6l-4.7-5.6l6.2-3.4l4.7 5.6zM123.8 397.9l-4.6-5.4l6.1-3.5l4.7 5.4zM106.8 399.6l-4.7-5.2l6.2-3.6l4.7 5.2zM95.9 398l-4.7-5.1l6.2-3.7l4.7 5.2zM78.9 400.4l-4.7-4.9l6.2-3.8l4.7 5zM68.1 399.3l-4.7-4.8l6.2-3.9l4.6 4.9zM57.2 398.4l-4.6-4.7l6.1-4l4.7 4.8z" fill="#24c1ae" stroke="#24c1ae" stroke-width=".3"/>
<path d="M234.2 383.2l-4.8-6.7l6.2-3.1l4.8 6.8zM204.6 388.7l-4.7-6.3l6.2-3.1l4.7 6.4zM210.8 385.7l-4.7-6.4l6.2-3.2l4.7 6.5zM187.5 388.7l-4.7-6.1l6.2-3.2l4.7 6.2zM164.2 392.4l-4.7-5.9l6.2-3.3l4.7 5.9zM147.1 393.2l-4.7-5.6l6.2-3.5l4.7 5.8zM130 394.4l-4.7-5.4l6.2-3.6l4.7 5.6zM113 396l-4.7-5.2l6.2-3.7l4.7 5.4zM102.1 394.4l-4.7-5.2l6.2-3.7l4.7 5.3zM85.1 396.7l-4.7-5l6.2-3.9l4.6 5.1zM74.2 395.5l-4.6-4.9l6.1-3.9l4.7 5zM63.4 394.5l-4.7-4.8l6.2-4l4.7 4.9z" fill="#2cc4a7" stroke="#2cc4a7" stroke-width=".3"/>
<path d="M240.4 380.2l-4.8-6.8l6.2-3l4.8 6.9zM217 382.6l-4.7-6.5l6.2-3.1l4.7 6.6zM193.7 385.6l-4.7-6.2l6.1-3.3l4.8 6.3zM170.4 389.1l-4.7-5.9l6.2-3.4l4.7 6.1zM176.6 385.9l-4.7-6.1l6.1-3.3l4.8 6.1zM153.3 389.9l-4.7-5.8l6.2-3.4l4.7 5.8zM136.2 391l-4.7-5.6l6.2-3.5l4.7 5.7zM119.2 392.5l-4.7-5.4l6.1-3.6l4.7 5.5zM108.3 390.8l-4.7-5.3l6.2-3.7l4.7 5.3zM91.2 392.9l-4.6-5.1l6.1-3.8l4.7 5.2zM80.4 391.7l-4.7-5l6.2-3.9l4.7 5zM69.6 390.6l-4.7-4.9l6.1-4l4.7 5z" fill="#31c69f" stroke="#31c69f" stroke-width=".3"/>
<path d="M246.6 377.3l-4.8-6.9l6.2-3.1l4.8 7zM223.2 379.6l-4.7-6.6l6.2-3.2l4.7 6.7zM199.9 382.4l-4.8-6.3l6.2-3.2l4.8 6.4zM182.8 382.6l-4.8-6.1l6.2-3.4l4.8 6.3zM159.5 386.5l-4.7-5.8l6.1-3.5l4.8 6zM142.4 387.6l-4.7-5.7l6.2-3.5l4.7 5.7zM125.3 389l-4.7-5.5l6.2-3.6l4.7 5.5zM114.5 387.1l-4.7-5.3l6.1-3.8l4.7 5.5zM97.4 389.2l-4.7-5.2l6.2-3.8l4.7 5.3zM86.6 387.8l-4.7-5l6.1-3.9l4.7 5.1z" fill="#37c897" stroke="#37c897" stroke-width=".3"/>
<path d="M229.4 376.5l-4.7-6.7l6.2-3.1l4.7 6.7zM235.6 373.4l-4.7-6.7l6.1-3.2l4.8 6.9zM206.1 379.3l-4.8-6.4l6.2-3.3l4.8 6.5zM212.3 376.1l-4.8-6.5l6.2-3.2l4.8 6.6zM189 379.4l-4.8-6.3l6.2-3.3l4.7 6.3zM165.7 383.2l-4.8-6l6.2-3.4l4.8 6zM171.9 379.8l-4.8-6l6.2-3.4l4.7 6.1zM148.6 384.1l-4.7-5.7l6.1-3.6l4.8 5.9zM131.5 385.4l-4.7-5.5l6.2-3.6l4.7 5.6zM120.6 383.5l-4.7-5.5l6.2-3.7l4.7 5.6zM103.6 385.5l-4.7-5.3l6.2-3.8l4.7 5.4zM92.7 384l-4.7-5.1l6.2-4l4.7 5.3zM75.7 386.7l-4.7-5l6.2-4l4.7 5.1z" fill="#3fca8e" stroke="#3fca8e" stroke-width=".3"/>
<path d="M241.8 370.4l-4.8-6.9l6.2-3.2l4.8 7zM218.5 373l-4.8-6.6l6.2-3.3l4.8 6.7zM195.1 376.1l-4.7-6.3l6.2-3.3l4.7 6.4zM178 376.5l-4.7-6.1l6.2-3.5l4.7 6.2zM154.8 380.7l-4.8-5.9l6.2-3.5l4.7 5.9zM137.7 381.9l-4.7-5.6l6.2-3.7l4.7 5.8zM126.8 379.9l-4.7-5.6l6.2-3.7l4.7 5.7zM109.8 381.8l-4.7-5.4l6.1-3.8l4.7 5.4zM81.9 382.8l-4.7-5.1l6.2-4l4.6 5.2z" fill="#4acb84" stroke="#4acb84" stroke-width=".3"/>
<path d="M224.7 369.8l-4.8-6.7l6.2-3.2l4.8 6.8zM201.3 372.9l-4.7-6.4l6.2-3.4l4.7 6.5zM184.2 373.1l-4.7-6.2l6.2-3.4l4.7 6.3zM160.9 377.2l-4.7-5.9l6.2-3.5l4.7 6zM143.9 378.4l-4.7-5.8l6.1-3.6l4.7 5.8zM133 376.3l-4.7-5.7l6.2-3.7l4.7 5.7zM115.9 378l-4.7-5.4l6.2-3.8l4.7 5.5zM98.9 380.2l-4.7-5.3l6.2-3.9l4.7 5.4zM88 378.9l-4.6-5.2l6.1-4l4.7 5.2z" fill="#57cc7a" stroke="#57cc7a" stroke-width=".3"/>
<path d="M230.9 366.7l-4.8-6.8l6.2-3.3l4.7 6.9zM207.5 369.6l-4.7-6.5l6.2-3.3l4.7 6.6zM190.4 369.8l-4.7-6.3l6.2-3.4l4.7 6.4zM167.1 373.8l-4.7-6l6.2-3.6l4.7 6.2zM150 374.8l-4.7-5.8l6.2-3.6l4.7 5.9zM122.1 374.3l-4.7-5.5l6.2-3.8l4.7 5.6zM105.1 376.4l-4.7-5.4l6.1-3.9l4.7 5.5zM94.2 374.9l-4.7-5.2l6.2-4l4.7 5.3z" fill="#64cd6f" stroke="#64cd6f" stroke-width=".3"/>
<path d="M237 363.5l-4.7-6.9l6.2-3.2l4.7 6.9zM213.7 366.4l-4.7-6.6l6.2-3.4l4.7 6.7zM219.9 363.1l-4.7-6.7l6.1-3.3l4.8 6.8zM196.6 366.5l-4.7-6.4l6.1-3.5l4.8 6.5zM173.3 370.4l-4.7-6.2l6.2-3.5l4.7 6.2zM179.5 366.9l-4.7-6.2l6.1-3.5l4.8 6.3zM156.2 371.3l-4.7-5.9l6.2-3.6l4.7 6zM139.2 372.6l-4.7-5.7l6.1-3.7l4.7 5.8zM128.3 370.6l-4.7-5.6l6.1-3.9l4.8 5.8zM111.2 372.6l-4.7-5.5l6.2-3.9l4.7 5.6z" fill="#72cd64" stroke="#72cd64" stroke-width=".3"/>
<path d="M226.1 359.9l-4.8-6.8l6.2-3.4l4.8 6.9zM202.8 363.1l-4.8-6.5l6.2-3.4l4.8 6.6zM185.7 363.5l-4.8-6.3l6.2-3.6l4.8 6.5zM162.4 367.8l-4.7-6l6.2-3.7l4.7 6.1zM145.3 369l-4.7-5.8l6.2-3.8l4.7 6zM134.5 366.9l-4.8-5.8l6.2-3.8l4.7 5.9zM117.4 368.8l-4.7-5.6l6.2-3.9l4.7 5.7zM100.4 371l-4.7-5.3l6.1-4l4.7 5.4z" fill="#81cc59" stroke="#81cc59" stroke-width=".3"/>
<path d="M232.3 356.6l-4.8-6.9l6.2-3.3l4.8 7zM209 359.8l-4.8-6.6l6.2-3.5l4.8 6.7zM191.9 360.1l-4.8-6.5l6.2-3.5l4.7 6.5zM168.6 364.2l-4.7-6.1l6.1-3.6l4.8 6.2zM151.5 365.4l-4.7-6l6.2-3.7l4.7 6.1zM123.6 365l-4.7-5.7l6.1-3.9l4.7 5.7zM106.5 367.1l-4.7-5.4l6.2-4l4.7 5.5z" fill="#8fcb4e" stroke="#8fcb4e" stroke-width=".3"/>
<path d="M215.2 356.4l-4.8-6.7l6.2-3.4l4.7 6.8zM198 356.6l-4.7-6.5l6.2-3.5l4.7 6.6zM174.8 360.7l-4.8-6.2l6.2-3.6l4.7 6.3zM157.7 361.8l-4.7-6.1l6.1-3.7l4.8 6.1zM140.6 363.2l-4.7-5.9l6.2-3.8l4.7 5.9zM129.7 361.1l-4.7-5.7l6.2-3.9l4.7 5.8zM112.7 363.2l-4.7-5.5l6.2-4l4.7 5.6z" fill="#9dc943" stroke="#9dc943" stroke-width=".3"/>
<path d="M221.3 353.1l-4.7-6.8l6.2-3.4l4.7 6.8zM204.2 353.2l-4.7-6.6l6.2-3.5l4.7 6.6zM180.9 357.2l-4.7-6.3l6.2-3.7l4.7 6.4zM163.9 358.1l-4.8-6.1l6.2-3.7l4.7 6.2zM146.8 359.4l-4.7-5.9l6.1-3.8l4.8 6zM118.9 359.3l-4.7-5.6l6.1-4l4.7 5.7z" fill="#abc739" stroke="#abc739" stroke-width=".3"/>
<path d="M227.5 349.7l-4.7-6.8l6.2-3.5l4.7 7zM210.4 349.7l-4.7-6.6l6.1-3.6l4.8 6.8zM187.1 353.6l-4.7-6.4l6.2-3.6l4.7 6.5zM170 354.5l-4.7-6.2l6.2-3.7l4.7 6.3zM153 355.7l-4.8-6l6.2-3.8l4.7 6.1zM135.9 357.3l-4.7-5.8l6.2-3.9l4.7 5.9zM125 355.4l-4.7-5.7l6.2-4.1l4.7 5.9z" fill="#b9c431" stroke="#b9c431" stroke-width=".3"/>
<path d="M216.6 346.3l-4.8-6.8l6.2-3.5l4.8 6.9zM193.3 350.1l-4.7-6.5l6.1-3.6l4.8 6.6zM176.2 350.9l-4.7-6.3l6.2-3.8l4.7 6.4zM159.1 352l-4.7-6.1l6.2-3.8l4.7 6.2zM142.1 353.5l-4.7-5.9l6.1-3.9l4.7 6z" fill="#c5c22a" stroke="#c5c22a" stroke-width=".3"/>
<path d="M222.8 342.9l-4.8-6.9l6.2-3.5l4.8 6.9zM199.5 346.6l-4.8-6.6l6.2-3.6l4.8 6.7zM182.4 347.2l-4.7-6.4l6.1-3.7l4.8 6.5zM165.3 348.3l-4.7-6.2l6.1-3.9l4.8 6.4zM148.2 349.7l-4.7-6l6.2-3.9l4.7 6.1zM131.2 351.5l-4.7-5.9l6.1-4l4.8 6z" fill="#d1bf27" stroke="#d1bf27" stroke-width=".3"/>
<path d="M205.7 343.1l-4.8-6.7l6.2-3.7l4.7 6.8zM188.6 343.6l-4.8-6.5l6.2-3.7l4.7 6.6zM171.5 344.6l-4.8-6.4l6.2-3.8l4.8 6.4zM154.4 345.9l-4.7-6.1l6.1-4l4.8 6.3zM137.4 347.6l-4.8-6l6.2-4l4.7 6.1z" fill="#dcbd29" stroke="#dcbd29" stroke-width=".3"/>
<path d="M211.8 339.5l-4.7-6.8l6.2-3.6l4.7 6.9zM194.7 340l-4.7-6.6l6.2-3.7l4.7 6.7zM177.7 340.8l-4.8-6.4l6.2-3.8l4.7 6.5zM160.6 342.1l-4.8-6.3l6.2-3.9l4.7 6.3zM143.5 343.7l-4.7-6.1l6.2-4l4.7 6.2z" fill="#e6bb2d" stroke="#e6bb2d" stroke-width=".3"/>
<path d="M218 336l-4.7-6.9l6.1-3.6l4.8 7zM200.9 336.4l-4.7-6.7l6.1-3.7l4.8 6.7zM183.8 337.1l-4.7-6.5l6.1-3.8l4.8 6.6zM166.7 338.2l-4.7-6.3l6.2-3.9l4.7 6.4zM149.7 339.8l-4.7-6.2l6.1-4l4.7 6.2z" fill="#f0ba36" stroke="#f0ba36" stroke-width=".3"/>
<path d="M207.1 332.7l-4.8-6.7l6.2-3.8l4.8 6.9zM190 333.4l-4.8-6.6l6.2-3.8l4.8 6.7zM155.8 335.8l-4.7-6.2l6.2-4l4.7 6.3z" fill="#f8ba3d" stroke="#f8ba3d" stroke-width=".3"/>
<path d="M213.3 329.1l-4.8-6.9l6.2-3.7l4.7 7zM172.9 334.4l-4.7-6.4l6.1-3.9l4.8 6.5z" fill="#febe3c" stroke="#febe3c" stroke-width=".3"/>
<path d="M196.2 329.7l-4.8-6.7l6.2-3.8l4.7 6.8zM179.1 330.6l-4.8-6.5l6.2-3.9l4.7 6.6zM162 331.9l-4.7-6.3l6.1-4l4.8 6.4z" fill="#fec338" stroke="#fec338" stroke-width=".3"/>
<path d="M202.3 326l-4.7-6.8l6.2-3.8l4.7 6.8zM185.2 326.8l-4.7-6.6l6.2-3.9l4.7 6.7zM168.2 328l-4.8-6.4l6.2-4l4.7 6.5z" fill="#fec934" stroke="#fec934" stroke-width=".3"/>
<path d="M208.5 322.2l-4.7-6.8l6.1-3.9l4.8 7zM191.4 323l-4.7-6.7l6.1-3.9l4.8 6.8zM174.3 324.1l-4.7-6.5l6.2-4l4.7 6.6z" fill="#fccf30" stroke="#fccf30" stroke-width=".3"/>
<path d="M197.6 319.2l-4.8-6.8l6.2-3.9l4.8 6.9zM180.5 320.2l-4.7-6.6l6.1-4l4.8 6.7z" fill="#fad62d" stroke="#fad62d" stroke-width=".3"/>
<path d="M203.8 315.4l-4.8-6.9l6.2-3.9l4.7 6.9zM186.7 316.3l-4.8-6.7l6.2-4l4.7 6.8z" fill="#f7dc2a" stroke="#f7dc2a" stroke-width=".3"/>
<path d="M192.8 312.4l-4.7-6.8l6.1-4l4.8 6.9z" fill="#f5e924" stroke="#f5e924" stroke-width=".3"/>
<path d="M199 308.5l-4.8-6.9l6.2-4l4.8 7z" fill="#f6ef20" stroke="#f6ef20" stroke-width=".3"/>
<path d="M163 513l156.4-41.1M161.1 511.1l156.3-42.1M159.1 509.2l156.3-43.1M157.2 507.2l156.2-44M155.2 505.3l156.3-45M153.3 503.4l156.2-46M151.3 501.5l156.2-47M149.4 499.5l156.1-47.9M147.5 497.6l156-48.9M145.5 495.7l156-49.9M143.6 493.8l156-51M141.6 491.9l156-52M139.7 489.9l155.9-52.9M137.7 488l155.9-53.9M135.8 486.1l155.8-54.9M133.8 484.2l155.8-55.9M131.9 482.3l155.8-56.9M130 480.3l155.7-57.8M128 478.4l155.7-58.8M126.1 476.5l155.6-59.8M124.1 474.6l155.6-60.8M122.2 472.6l155.6-61.7M120.2 470.7l155.6-62.7M118.3 468.8l155.5-63.7M116.4 466.9l155.4-64.7M114.4 465l155.4-65.7M112.5 463l155.3-66.6M110.5 461.1l155.3-67.6M108.6 459.2l155.3-68.6M106.6 457.3l155.3-69.6M104.7 455.4l155.2-70.7M102.8 453.4l155.1-71.6M100.8 451.5l155.1-72.6M98.9 449.6l155.1-73.6M96.9 447.7l155.1-74.6M95 445.7l155-75.5M93 443.8l155-76.5M91.1 441.9l154.9-77.5M89.2 440l154.8-78.5M87.2 438.1l154.8-79.5M85.3 436.1l154.8-80.4M83.3 434.2l154.8-81.4M81.4 432.3l154.7-82.4M79.4 430.4l154.7-83.4M77.5 428.4l154.6-84.3M75.6 426.5l154.6-85.3M73.6 424.6l154.6-86.3M71.7 422.7l154.5-87.3M69.7 420.8l154.5-88.3M67.8 418.8l154.4-89.2M65.8 416.9l154.4-90.3M63.9 415l154.4-91.3M61.9 413.1l154.4-92.3M60 411.2l154.3-93.3M58.1 409.2l154.2-94.2M56.1 407.3l154.2-95.2M54.2 405.4l154.1-96.2M52.2 403.5l154.2-97.2M50.3 401.5l154.1-98.1M48.3 399.6l154.1-99.1M46.4 397.7l154-100.1M163 513l-116.6-115.3M165.6 512.3l-116.6-116.3M168.2 511.6l-116.7-117.2M170.8 510.9l-116.7-118.2M173.4 510.3l-116.7-119.3M176 509.6l-116.8-120.2M178.6 508.9l-116.8-121.2M181.2 508.2l-116.8-122.2M183.9 507.5l-117-123.1M186.5 506.8l-117-124.1M189.1 506.1l-117-125.2M191.7 505.5l-117.1-126.2M194.3 504.8l-117.1-127.1M196.9 504.1l-117.1-128.1M199.5 503.4l-117.2-129.1M202.1 502.7l-117.2-130M204.7 502l-117.2-131M207.3 501.4l-117.3-132.1M209.9 500.7l-117.3-133M212.5 500l-117.3-134M215.1 499.3l-117.4-135M217.7 498.6l-117.4-135.9M220.3 497.9l-117.4-136.9M223 497.2l-117.6-137.9M225.6 496.6l-117.6-138.9M228.2 495.9l-117.6-139.9M230.8 495.2l-117.7-140.9M233.4 494.5l-117.7-141.8M236 493.8l-117.7-142.8M238.6 493.1l-117.8-143.8M241.2 492.4l-117.8-144.8M243.8 491.8l-117.8-145.8M246.4 491.1l-117.9-146.8M249 490.4l-117.9-147.8M251.6 489.7l-117.9-148.7M254.2 489l-118-149.7M256.8 488.3l-118-150.7M259.4 487.7l-118-151.7M262.1 487l-118.2-152.7M264.7 486.3l-118.2-153.7M267.3 485.6l-118.2-154.6M269.9 484.9l-118.3-155.6M272.5 484.2l-118.3-156.6M275.1 483.5l-118.3-157.5M277.7 482.9l-118.4-158.6M280.3 482.2l-118.4-159.6M282.9 481.5l-118.4-160.5M285.5 480.8l-118.5-161.5M288.1 480.1l-118.5-162.5M290.7 479.4l-118.5-163.5M293.3 478.8l-118.6-164.5M295.9 478.1l-118.6-165.5M298.5 477.4l-118.6-166.5M301.2 476.7l-118.8-167.4M303.8 476l-118.8-168.4M306.4 475.3l-118.8-169.4M309 474.6l-118.9-170.3M311.6 474l-118.9-171.4M314.2 473.3l-118.9-172.4M316.8 472.6l-119-173.3M319.4 471.9l-119-174.3" stroke="#000" stroke-width="0.68" fill="none" stroke-opacity="1"/>
<text x="38.1" y="460.2" font-size="8.2" text-anchor="end">0</text>
<text x="38.1" y="427.5" font-size="8.2" text-anchor="end">500</text>
<text x="38.1" y="394.8" font-size="8.2" text-anchor="end">1000</text>
<text x="38.1" y="362.1" font-size="8.2" text-anchor="end">1500</text>
<text x="36.2" y="470" font-size="8.2" text-anchor="middle">1</text>
<text x="91.9" y="497.6" font-size="8.2" text-anchor="middle">0.5</text>
<text x="154.7" y="524.6" font-size="8.2" text-anchor="middle">0</text>
<text x="174" y="525.9" font-size="8.2" text-anchor="middle">0</text>
<text x="207.8" y="517.5" font-size="8.2" text-anchor="middle">0.2</text>
<text x="238.8" y="509" font-size="8.2" text-anchor="middle">0.4</text>
<text x="269.8" y="500.6" font-size="8.2" text-anchor="middle">0.6</text>
<text x="301.3" y="492.1" font-size="8.2" text-anchor="middle">0.8</text>
<text x="328.1" y="483.4" font-size="8.2" text-anchor="middle">1</text>
<text transform="translate(10.5 404.7) rotate(-90)" font-size="9.8" fill="#3c3c3c">R<tspan font-size="6.8" dy="4.2">0</tspan></text>
<text x="99.3" y="525.3" font-size="9" fill="#5a5a5a" style="stroke:#5a5a5a;stroke-width:.12px"><tspan>o</tspan><tspan font-size="6.8" dy="3.6" fill="#3c3c3c">2</tspan></text>
<text x="229.8" y="527.3" font-size="9" fill="#5a5a5a" style="stroke:#5a5a5a;stroke-width:.12px"><tspan font-family="Liberation Serif" font-style="italic">&#946;</tspan><tspan font-size="6.8" dy="3.6" fill="#3c3c3c">4</tspan></text>
<text x="182.25" y="294" font-size="9.5" font-weight="bold" text-anchor="middle" fill="#141414" style="stroke:#141414;stroke-width:.15px" textLength="107.5" lengthAdjust="spacing">2225 p ((2 e)/5 + 53/125)</text>
<path d="M512.3 297.7l-114.4 29.4M544.2 301.8l-114.4 29.4M576.1 305.9l-114.4 29.4M607.9 310l-114.4 29.4M639.8 314.1l-114.4 29.4M671.7 318.2l-114.4 29.4M512.3 297.7l159.4 20.5M455.1 312.4l159.4 20.5M397.9 327.1l159.4 20.5M671.7 484.8l0-166.6M614.5 499.5l0-166.6M557.3 514.2l0-166.6M671.7 484.8l-114.4 29.4M671.7 461.4l-114.4 29.4M671.7 438l-114.4 29.4M671.7 414.6l-114.4 29.4M671.7 391.2l-114.4 29.4M671.7 367.8l-114.4 29.4M671.7 344.4l-114.4 29.4M671.7 321l-114.4 29.4M397.9 493.7l0-166.6M429.8 497.8l0-166.6M461.7 501.9l0-166.6M493.5 506l0-166.6M525.4 510.1l0-166.6M557.3 514.2l0-166.6M397.9 493.7l159.4 20.5M397.9 470.3l159.4 20.5M397.9 446.9l159.4 20.5M397.9 423.5l159.4 20.5M397.9 400.1l159.4 20.5M397.9 376.7l159.4 20.5M397.9 353.3l159.4 20.5M397.9 329.9l159.4 20.5" stroke="#dcdcdc" stroke-width=".6" fill="none"/>
<path d="M397.5 493.7l0-166.6M397.5 493.7l-5-0.6M397.5 470.3l-5-0.6M397.5 446.9l-5-0.6M397.5 423.5l-5-0.6M397.5 400.1l-5-0.6M397.5 376.7l-5-0.6M397.5 353.3l-5-0.6M397.5 329.9l-5-0.6M397.9 493.7l159.4 20.5M397.9 493.7l-3.4 0.9M429.8 497.8l-3.4 0.9M461.7 501.9l-3.4 0.9M493.5 506l-3.4 0.9M525.4 510.1l-3.4 0.9M557.3 514.2l-3.4 0.9M671.7 484.8l-114.4 29.4M671.7 484.8l3.5 0.4M614.5 499.5l3.5 0.5M557.3 514.2l3.5 0.5" stroke="#4d4d4d" stroke-width="0.8" fill="none"/>
<path d="M512.3 464.3l6.4-1.7l-4.6 1l-6.4 1.9zM507.7 465.5l6.4-1.9l-4.6 1l-6.4 2.1zM503.1 466.7l6.4-2.1l-4.6 1l-6.3 2.2zM498.6 467.8l6.3-2.2l-4.5 1.1l-6.4 2.3zM494 469l6.4-2.3l-4.6 1l-6.4 2.5zM489.4 470.2l6.4-2.5l-4.6 1l-6.4 2.7zM484.8 471.4l6.4-2.7l-4.6 1l-6.3 2.8zM480.3 472.5l6.3-2.8l-4.5 1l-6.4 3zM475.7 473.7l6.4-3l-4.6 1l-6.4 3.2zM471.1 474.9l6.4-3.2l-4.6 1l-6.4 3.4zM466.5 476.1l6.4-3.4l-4.6 1l-6.3 3.5zM462 477.2l6.3-3.5l-4.5 1l-6.4 3.7zM457.4 478.4l6.4-3.7l-4.6 1l-6.4 3.9zM452.8 479.6l6.4-3.9l-4.6 1.1l-6.4 4zM448.2 480.8l6.4-4l-4.6 1l-6.3 4.1zM443.7 481.9l6.3-4.1l-4.5 1l-6.4 4.3zM439.1 483.1l6.4-4.3l-4.6 1l-6.4 4.5zM434.5 484.3l6.4-4.5l-4.6 1l-6.4 4.7zM429.9 485.5l6.4-4.7l-4.6 1l-6.3 4.8zM425.4 486.6l6.3-4.8l-4.5 1l-6.4 5zM420.8 487.8l6.4-5l-4.6 1l-6.4 5.2zM416.2 489l6.4-5.2l-4.6 1l-6.4 5.4zM411.6 490.2l6.4-5.4l-4.6 1l-6.3 5.5zM407.1 491.3l6.3-5.5l-4.5 1l-6.4 5.7zM402.5 492.5l6.4-5.7l-4.6 1.1l-6.4 5.8z" fill="#3e26a8" stroke="#3e26a8" stroke-width=".3"/>
<path d="M518.7 462.6l6.4-1.7l-4.6 0.9l-6.4 1.8zM514.1 463.6l6.4-1.8l-4.6 0.8l-6.4 2zM509.5 464.6l6.4-2l-4.6 0.9l-6.4 2.1zM504.9 465.6l6.4-2.1l-4.6 0.8l-6.3 2.4zM500.4 466.7l6.3-2.4l-4.5 0.9l-6.4 2.5zM495.8 467.7l6.4-2.5l-4.6 0.8l-6.4 2.7zM491.2 468.7l6.4-2.7l-4.6 0.8l-6.4 2.9zM486.6 469.7l6.4-2.9l-4.6 0.9l-6.3 3zM482.1 470.7l6.3-3l-4.5 0.8l-6.4 3.2z" fill="#402ab4" stroke="#402ab4" stroke-width=".3"/>
<path d="M477.5 471.7l6.4-3.2l-4.6 0.9l-6.4 3.3zM472.9 472.7l6.4-3.3l-4.6 0.8l-6.4 3.5zM468.3 473.7l6.4-3.5l-4.6 0.9l-6.3 3.6zM463.8 474.7l6.3-3.6l-4.5 0.8l-6.4 3.8zM459.2 475.7l6.4-3.8l-4.6 0.8l-6.4 4.1zM454.6 476.8l6.4-4.1l-4.6 0.9l-6.4 4.2zM450 477.8l6.4-4.2l-4.6 0.8l-6.3 4.4zM445.5 478.8l6.3-4.4l-4.5 0.9l-6.4 4.5zM440.9 479.8l6.4-4.5l-4.6 0.8l-6.4 4.7zM436.3 480.8l6.4-4.7l-4.6 0.9l-6.4 4.8zM431.7 481.8l6.4-4.8l-4.6 0.8l-6.3 5zM427.2 482.8l6.3-5l-4.5 0.8l-6.4 5.2zM525.1 460.9l6.3-1.6l-4.5 0.6l-6.4 1.9zM520.5 461.8l6.4-1.9l-4.6 0.7l-6.4 2zM515.9 462.6l6.4-2l-4.6 0.7l-6.4 2.2zM511.3 463.5l6.4-2.2l-4.6 0.7l-6.4 2.3zM506.7 464.3l6.4-2.3l-4.6 0.6l-6.3 2.6zM502.2 465.2l6.3-2.6l-4.5 0.7l-6.4 2.7z" fill="#422ec0" stroke="#422ec0" stroke-width=".3"/>
<path d="M422.6 483.8l6.4-5.2l-4.6 0.9l-6.4 5.3zM418 484.8l6.4-5.3l-4.6 0.8l-6.4 5.5zM413.4 485.8l6.4-5.5l-4.6 0.9l-6.3 5.6zM408.9 486.8l6.3-5.6l-4.5 0.8l-6.4 5.9zM497.6 466l6.4-2.7l-4.6 0.7l-6.4 2.8zM493 466.8l6.4-2.8l-4.6 0.7l-6.4 3zM488.4 467.7l6.4-3l-4.6 0.6l-6.3 3.2zM483.9 468.5l6.3-3.2l-4.5 0.7l-6.4 3.4zM479.3 469.4l6.4-3.4l-4.6 0.7l-6.4 3.5zM474.7 470.2l6.4-3.5l-4.6 0.7l-6.4 3.7zM531.4 459.3l6.4-1.7l-4.6 0.5l-6.3 1.8zM526.9 459.9l6.3-1.8l-4.5 0.5l-6.4 2zM522.3 460.6l6.4-2l-4.6 0.5l-6.4 2.2zM517.7 461.3l6.4-2.2l-4.6 0.5l-6.4 2.4z" fill="#4332cb" stroke="#4332cb" stroke-width=".3"/>
<path d="M470.1 471.1l6.4-3.7l-4.6 0.7l-6.3 3.8zM465.6 471.9l6.3-3.8l-4.5 0.6l-6.4 4zM461 472.7l6.4-4l-4.6 0.7l-6.4 4.2zM456.4 473.6l6.4-4.2l-4.6 0.7l-6.4 4.3zM451.8 474.4l6.4-4.3l-4.6 0.7l-6.3 4.5zM447.3 475.3l6.3-4.5l-4.5 0.6l-6.4 4.7zM442.7 476.1l6.4-4.7l-4.6 0.7l-6.4 4.9zM513.1 462l6.4-2.4l-4.6 0.5l-6.4 2.5zM508.5 462.6l6.4-2.5l-4.6 0.5l-6.3 2.7zM504 463.3l6.3-2.7l-4.5 0.5l-6.4 2.9zM499.4 464l6.4-2.9l-4.6 0.6l-6.4 3zM494.8 464.7l6.4-3l-4.6 0.5l-6.4 3.1zM537.8 457.6l6.4-1.7l-4.6 0.3l-6.4 1.9zM533.2 458.1l6.4-1.9l-4.6 0.4l-6.3 2zM528.7 458.6l6.3-2l-4.5 0.3l-6.4 2.2z" fill="#4537d5" stroke="#4537d5" stroke-width=".3"/>
<path d="M438.1 477l6.4-4.9l-4.6 0.7l-6.4 5zM433.5 477.8l6.4-5l-4.6 0.7l-6.3 5.1zM429 478.6l6.3-5.1l-4.5 0.6l-6.4 5.4zM424.4 479.5l6.4-5.4l-4.6 0.7l-6.4 5.5zM419.8 480.3l6.4-5.5l-4.6 0.7l-6.4 5.7zM415.2 481.2l6.4-5.7l-4.6 0.7l-6.3 5.8zM490.2 465.3l6.4-3.1l-4.6 0.5l-6.3 3.3zM485.7 466l6.3-3.3l-4.5 0.5l-6.4 3.5zM481.1 466.7l6.4-3.5l-4.6 0.5l-6.4 3.7zM476.5 467.4l6.4-3.7l-4.6 0.5l-6.4 3.9zM471.9 468.1l6.4-3.9l-4.6 0.5l-6.3 4zM524.1 459.1l6.4-2.2l-4.6 0.4l-6.4 2.3zM519.5 459.6l6.4-2.3l-4.6 0.3l-6.4 2.5zM514.9 460.1l6.4-2.5l-4.6 0.4l-6.4 2.6zM510.3 460.6l6.4-2.6l-4.6 0.3l-6.3 2.8zM544.2 455.9l6.4-1.7l-4.6 0.2l-6.4 1.8zM539.6 456.2l6.4-1.8l-4.6 0.2l-6.4 2zM535 456.6l6.4-2l-4.6 0.1l-6.3 2.2z" fill="#463cde" stroke="#463cde" stroke-width=".3"/>
<path d="M467.4 468.7l6.3-4l-4.5 0.5l-6.4 4.2zM462.8 469.4l6.4-4.2l-4.6 0.5l-6.4 4.4zM458.2 470.1l6.4-4.4l-4.6 0.5l-6.4 4.6zM453.6 470.8l6.4-4.6l-4.6 0.6l-6.3 4.6zM505.8 461.1l6.3-2.8l-4.5 0.3l-6.4 3.1zM501.2 461.7l6.4-3.1l-4.6 0.4l-6.4 3.2zM496.6 462.2l6.4-3.2l-4.6 0.3l-6.4 3.4zM492 462.7l6.4-3.4l-4.6 0.4l-6.3 3.5zM530.5 456.9l6.3-2.2l-4.5 0.2l-6.4 2.4zM525.9 457.3l6.4-2.4l-4.6 0.2l-6.4 2.5zM521.3 457.6l6.4-2.5l-4.6 0.2l-6.4 2.7zM550.6 454.2l6.3-1.7l-4.5 0.1l-6.4 1.8zM546 454.4l6.4-1.8l-4.6 0l-6.4 2zM541.4 454.6l6.4-2l-4.6 0l-6.4 2.1z" fill="#4741e5" stroke="#4741e5" stroke-width=".3"/>
<path d="M449.1 471.4l6.3-4.6l-4.5 0.5l-6.4 4.8zM444.5 472.1l6.4-4.8l-4.6 0.5l-6.4 5zM439.9 472.8l6.4-5l-4.6 0.5l-6.4 5.2zM435.3 473.5l6.4-5.2l-4.6 0.5l-6.3 5.3zM430.8 474.1l6.3-5.3l-4.5 0.5l-6.4 5.5zM487.5 463.2l6.3-3.5l-4.5 0.3l-6.4 3.7zM482.9 463.7l6.4-3.7l-4.6 0.4l-6.4 3.8zM478.3 464.2l6.4-3.8l-4.6 0.3l-6.4 4zM516.7 458l6.4-2.7l-4.6 0.2l-6.4 2.8zM512.1 458.3l6.4-2.8l-4.6 0.1l-6.3 3zM507.6 458.6l6.3-3l-4.5 0.2l-6.4 3.2zM536.8 454.7l6.4-2.1l-4.6 0l-6.3 2.3zM532.3 454.9l6.3-2.3l-4.5 0l-6.4 2.5zM556.9 452.5l6.4-1.6l-4.6-0.2l-6.3 1.9zM552.4 452.6l6.3-1.9l-4.5-0.2l-6.4 2.1z" fill="#4747eb" stroke="#4747eb" stroke-width=".3"/>
<path d="M426.2 474.8l6.4-5.5l-4.6 0.5l-6.4 5.7zM421.6 475.5l6.4-5.7l-4.6 0.5l-6.4 5.9zM473.7 464.7l6.4-4l-4.6 0.3l-6.3 4.2zM469.2 465.2l6.3-4.2l-4.5 0.4l-6.4 4.3zM464.6 465.7l6.4-4.3l-4.6 0.3l-6.4 4.5zM460 466.2l6.4-4.5l-4.6 0.4l-6.4 4.7zM503 459l6.4-3.2l-4.6 0.2l-6.4 3.3zM498.4 459.3l6.4-3.3l-4.6 0.2l-6.4 3.5zM493.8 459.7l6.4-3.5l-4.6 0.1l-6.3 3.7zM527.7 455.1l6.4-2.5l-4.6 0l-6.4 2.7zM523.1 455.3l6.4-2.7l-4.6 0l-6.4 2.9zM518.5 455.5l6.4-2.9l-4.6 0l-6.4 3zM547.8 452.6l6.4-2.1l-4.6-0.1l-6.4 2.2zM543.2 452.6l6.4-2.2l-4.6-0.2l-6.4 2.4zM563.3 450.9l6.4-1.7l-4.6-0.3l-6.4 1.8zM558.7 450.7l6.4-1.8l-4.6-0.4l-6.3 2z" fill="#484df0" stroke="#484df0" stroke-width=".3"/>
<path d="M455.4 466.8l6.4-4.7l-4.6 0.3l-6.3 4.9zM450.9 467.3l6.3-4.9l-4.5 0.4l-6.4 5zM446.3 467.8l6.4-5l-4.6 0.3l-6.4 5.2zM441.7 468.3l6.4-5.2l-4.6 0.3l-6.4 5.4zM489.3 460l6.3-3.7l-4.5 0.2l-6.4 3.9zM484.7 460.4l6.4-3.9l-4.6 0.2l-6.4 4zM480.1 460.7l6.4-4l-4.6 0.2l-6.4 4.1zM513.9 455.6l6.4-3l-4.6 0l-6.3 3.2zM509.4 455.8l6.3-3.2l-4.5 0l-6.4 3.4zM538.6 452.6l6.4-2.4l-4.6-0.1l-6.3 2.5zM534.1 452.6l6.3-2.5l-4.5-0.2l-6.4 2.7zM529.5 452.6l6.4-2.7l-4.6-0.1l-6.4 2.8zM554.2 450.5l6.3-2l-4.5-0.3l-6.4 2.2zM549.6 450.4l6.4-2.2l-4.6-0.3l-6.4 2.3zM569.7 449.2l6.4-1.7l-4.6-0.5l-6.4 1.9zM565.1 448.9l6.4-1.9l-4.6-0.5l-6.4 2z" fill="#4852f4" stroke="#4852f4" stroke-width=".3"/>
<path d="M437.1 468.8l6.4-5.4l-4.6 0.4l-6.3 5.5zM432.6 469.3l6.3-5.5l-4.5 0.3l-6.4 5.7zM428 469.8l6.4-5.7l-4.6 0.4l-6.4 5.8zM475.5 461l6.4-4.1l-4.6 0.1l-6.3 4.4zM471 461.4l6.3-4.4l-4.5 0.2l-6.4 4.5zM466.4 461.7l6.4-4.5l-4.6 0.2l-6.4 4.7zM504.8 456l6.4-3.4l-4.6 0l-6.4 3.6zM500.2 456.2l6.4-3.6l-4.6 0.1l-6.4 3.6zM495.6 456.3l6.4-3.6l-4.6 0l-6.3 3.8zM524.9 452.6l6.4-2.8l-4.6-0.2l-6.4 3zM520.3 452.6l6.4-3l-4.6-0.2l-6.4 3.2zM545 450.2l6.4-2.3l-4.6-0.3l-6.4 2.5zM540.4 450.1l6.4-2.5l-4.6-0.4l-6.3 2.7zM560.5 448.5l6.4-2l-4.6-0.5l-6.3 2.2zM556 448.2l6.3-2.2l-4.5-0.5l-6.4 2.4zM576.1 447.5l6.3-1.7l-4.5-0.6l-6.4 1.8zM571.5 447l6.4-1.8l-4.6-0.7l-6.4 2z" fill="#4758f8" stroke="#4758f8" stroke-width=".3"/>
<path d="M461.8 462.1l6.4-4.7l-4.6 0.2l-6.4 4.8zM457.2 462.4l6.4-4.8l-4.6 0.1l-6.3 5.1zM452.7 462.8l6.3-5.1l-4.5 0.2l-6.4 5.2zM491.1 456.5l6.3-3.8l-4.5 0l-6.4 4zM486.5 456.7l6.4-4l-4.6 0l-6.4 4.2zM515.7 452.6l6.4-3.2l-4.6-0.1l-6.3 3.3zM511.2 452.6l6.3-3.3l-4.5-0.2l-6.4 3.5zM535.9 449.9l6.3-2.7l-4.5-0.3l-6.4 2.9zM531.3 449.8l6.4-2.9l-4.6-0.3l-6.4 3zM551.4 447.9l6.4-2.4l-4.6-0.4l-6.4 2.5zM566.9 446.5l6.4-2l-4.6-0.6l-6.4 2.1zM582.4 445.8l6.4-1.7l-4.6-0.8l-6.3 1.9zM577.9 445.2l6.3-1.9l-4.5-0.8l-6.4 2z" fill="#465efb" stroke="#465efb" stroke-width=".3"/>
<path d="M448.1 463.1l6.4-5.2l-4.6 0.2l-6.4 5.3zM443.5 463.4l6.4-5.3l-4.6 0.2l-6.4 5.5zM438.9 463.8l6.4-5.5l-4.6 0.2l-6.3 5.6zM481.9 456.9l6.4-4.2l-4.6 0l-6.4 4.3zM477.3 457l6.4-4.3l-4.6 0l-6.3 4.5zM506.6 452.6l6.4-3.5l-4.6-0.1l-6.4 3.7zM502 452.7l6.4-3.7l-4.6-0.2l-6.4 3.9zM526.7 449.6l6.4-3l-4.6-0.3l-6.4 3.1zM522.1 449.4l6.4-3.1l-4.6-0.4l-6.4 3.4zM546.8 447.6l6.4-2.5l-4.6-0.5l-6.4 2.6zM542.2 447.2l6.4-2.6l-4.6-0.5l-6.3 2.8zM562.3 446l6.4-2.1l-4.6-0.7l-6.3 2.3zM557.8 445.5l6.3-2.3l-4.5-0.7l-6.4 2.6zM573.3 444.5l6.4-2l-4.6-0.8l-6.4 2.2zM588.8 444.1l6.4-1.6l-4.6-1l-6.4 1.8zM584.2 443.3l6.4-1.8l-4.6-1l-6.3 2z" fill="#4563fd" stroke="#4563fd" stroke-width=".3"/>
<path d="M434.4 464.1l6.3-5.6l-4.5 0.1l-6.4 5.9zM472.8 457.2l6.3-4.5l-4.5 0l-6.4 4.7zM468.2 457.4l6.4-4.7l-4.6 0l-6.4 4.9zM463.6 457.6l6.4-4.9l-4.6 0l-6.4 5zM497.4 452.7l6.4-3.9l-4.6-0.1l-6.3 4zM492.9 452.7l6.3-4l-4.5-0.2l-6.4 4.2zM517.5 449.3l6.4-3.4l-4.6-0.3l-6.3 3.5zM513 449.1l6.3-3.5l-4.5-0.3l-6.4 3.7zM537.7 446.9l6.3-2.8l-4.5-0.5l-6.4 3zM533.1 446.6l6.4-3l-4.6-0.5l-6.4 3.2zM553.2 445.1l6.4-2.6l-4.6-0.6l-6.4 2.7zM568.7 443.9l6.4-2.2l-4.6-0.9l-6.4 2.4zM564.1 443.2l6.4-2.4l-4.6-0.8l-6.3 2.5zM579.7 442.5l6.3-2l-4.5-1l-6.4 2.2zM595.2 442.5l6.4-1.7l-4.6-1.2l-6.4 1.9zM590.6 441.5l6.4-1.9l-4.6-1.1l-6.4 2zM601.6 440.8l6.3-1.7l-4.5-1.3l-6.4 1.8z" fill="#4269fe" stroke="#4269fe" stroke-width=".3"/>
<path d="M459 457.7l6.4-5l-4.6 0l-6.3 5.2zM454.5 457.9l6.3-5.2l-4.5 0.1l-6.4 5.3zM488.3 452.7l6.4-4.2l-4.6-0.1l-6.4 4.3zM483.7 452.7l6.4-4.3l-4.6-0.2l-6.4 4.5zM508.4 449l6.4-3.7l-4.6-0.3l-6.4 3.8zM528.5 446.3l6.4-3.2l-4.6-0.5l-6.4 3.3zM548.6 444.6l6.4-2.7l-4.6-0.7l-6.4 2.9zM544 444.1l6.4-2.9l-4.6-0.6l-6.3 3zM559.6 442.5l6.3-2.5l-4.5-0.8l-6.4 2.7zM575.1 441.7l6.4-2.2l-4.6-1l-6.4 2.3zM586 440.5l6.4-2l-4.6-1.2l-6.3 2.2zM597 439.6l6.4-1.8l-4.6-1.3l-6.4 2zM607.9 439.1l6.4-1.7l-4.6-1.5l-6.3 1.9z" fill="#3e6fff" stroke="#3e6fff" stroke-width=".3"/>
<path d="M449.9 458.1l6.4-5.3l-4.6 0l-6.4 5.5zM445.3 458.3l6.4-5.5l-4.6 0l-6.4 5.7zM440.7 458.5l6.4-5.7l-4.6 0l-6.3 5.8zM479.1 452.7l6.4-4.5l-4.6-0.2l-6.3 4.7zM474.6 452.7l6.3-4.7l-4.5-0.1l-6.4 4.8zM503.8 448.8l6.4-3.8l-4.6-0.3l-6.4 4zM499.2 448.7l6.4-4l-4.6-0.4l-6.3 4.2zM523.9 445.9l6.4-3.3l-4.6-0.5l-6.4 3.5zM519.3 445.6l6.4-3.5l-4.6-0.5l-6.3 3.7zM539.5 443.6l6.3-3l-4.5-0.7l-6.4 3.2zM555 441.9l6.4-2.7l-4.6-0.8l-6.4 2.8zM570.5 440.8l6.4-2.3l-4.6-1l-6.4 2.5zM565.9 440l6.4-2.5l-4.6-1l-6.3 2.7zM581.5 439.5l6.3-2.2l-4.5-1.1l-6.4 2.3zM592.4 438.5l6.4-2l-4.6-1.4l-6.4 2.2zM603.4 437.8l6.3-1.9l-4.5-1.5l-6.4 2.1zM614.3 437.4l6.4-1.7l-4.6-1.6l-6.4 1.8z" fill="#3875fe" stroke="#3875fe" stroke-width=".3"/>
<path d="M470 452.7l6.4-4.8l-4.6-0.2l-6.4 5zM465.4 452.7l6.4-5l-4.6-0.1l-6.4 5.1zM460.8 452.7l6.4-5.1l-4.6-0.2l-6.3 5.4zM494.7 448.5l6.3-4.2l-4.5-0.3l-6.4 4.4zM490.1 448.4l6.4-4.4l-4.6-0.3l-6.4 4.5zM514.8 445.3l6.3-3.7l-4.5-0.5l-6.4 3.9zM510.2 445l6.4-3.9l-4.6-0.5l-6.4 4.1zM534.9 443.1l6.4-3.2l-4.6-0.6l-6.4 3.3zM530.3 442.6l6.4-3.3l-4.6-0.7l-6.4 3.5zM550.4 441.2l6.4-2.8l-4.6-0.8l-6.4 3zM545.8 440.6l6.4-3l-4.6-0.9l-6.3 3.2zM561.4 439.2l6.3-2.7l-4.5-1l-6.4 2.9zM576.9 438.5l6.4-2.3l-4.6-1.2l-6.4 2.5zM587.8 437.3l6.4-2.2l-4.6-1.3l-6.3 2.4zM598.8 436.5l6.4-2.1l-4.6-1.4l-6.4 2.1zM609.7 435.9l6.4-1.8l-4.6-1.7l-6.3 2zM620.7 435.7l6.4-1.6l-4.6-1.9l-6.4 1.9z" fill="#327cfc" stroke="#327cfc" stroke-width=".3"/>
<path d="M456.3 452.8l6.3-5.4l-4.5-0.1l-6.4 5.5zM451.7 452.8l6.4-5.5l-4.6-0.2l-6.4 5.7zM485.5 448.2l6.4-4.5l-4.6-0.3l-6.4 4.6zM480.9 448l6.4-4.6l-4.6-0.4l-6.3 4.9zM505.6 444.7l6.4-4.1l-4.6-0.5l-6.4 4.2zM525.7 442.1l6.4-3.5l-4.6-0.7l-6.4 3.7zM521.1 441.6l6.4-3.7l-4.6-0.6l-6.3 3.8zM541.3 439.9l6.3-3.2l-4.5-0.8l-6.4 3.4zM556.8 438.4l6.4-2.9l-4.6-1l-6.4 3.1zM572.3 437.5l6.4-2.5l-4.6-1.2l-6.4 2.7zM583.3 436.2l6.3-2.4l-4.5-1.3l-6.4 2.5zM594.2 435.1l6.4-2.1l-4.6-1.5l-6.4 2.3zM627.1 434.1l6.3-1.7l-4.5-2l-6.4 1.8z" fill="#2f81fa" stroke="#2f81fa" stroke-width=".3"/>
<path d="M447.1 452.8l6.4-5.7l-4.6-0.2l-6.4 5.9zM476.4 447.9l6.3-4.9l-4.5-0.3l-6.4 5zM471.8 447.7l6.4-5l-4.6-0.3l-6.4 5.2zM501 444.3l6.4-4.2l-4.6-0.4l-6.3 4.3zM496.5 444l6.3-4.3l-4.5-0.5l-6.4 4.5zM516.6 441.1l6.3-3.8l-4.5-0.7l-6.4 4zM536.7 439.3l6.4-3.4l-4.6-0.8l-6.4 3.5zM552.2 437.6l6.4-3.1l-4.6-0.9l-6.4 3.1zM567.7 436.5l6.4-2.7l-4.6-1.1l-6.3 2.8zM563.2 435.5l6.3-2.8l-4.5-1.2l-6.4 3zM578.7 435l6.4-2.5l-4.6-1.3l-6.4 2.6zM589.6 433.8l6.4-2.3l-4.6-1.5l-6.3 2.5zM605.2 434.4l6.3-2l-4.5-1.6l-6.4 2.2zM616.1 434.1l6.4-1.9l-4.6-1.8l-6.4 2zM633.4 432.4l6.4-1.7l-4.6-2.2l-6.3 1.9z" fill="#2e87f7" stroke="#2e87f7" stroke-width=".3"/>
<path d="M467.2 447.6l6.4-5.2l-4.6-0.3l-6.4 5.3zM462.6 447.4l6.4-5.3l-4.6-0.4l-6.3 5.6zM491.9 443.7l6.4-4.5l-4.6-0.5l-6.4 4.7zM487.3 443.4l6.4-4.7l-4.6-0.5l-6.4 4.8zM512 440.6l6.4-4l-4.6-0.6l-6.4 4.1zM507.4 440.1l6.4-4.1l-4.6-0.7l-6.4 4.4zM532.1 438.6l6.4-3.5l-4.6-0.8l-6.4 3.6zM527.5 437.9l6.4-3.6l-4.6-0.9l-6.4 3.9zM547.6 436.7l6.4-3.1l-4.6-1l-6.3 3.3zM543.1 435.9l6.3-3.3l-4.5-1l-6.4 3.5zM558.6 434.5l6.4-3l-4.6-1.1l-6.4 3.2zM574.1 433.8l6.4-2.6l-4.6-1.4l-6.4 2.9zM585.1 432.5l6.3-2.5l-4.5-1.5l-6.4 2.7zM600.6 433l6.4-2.2l-4.6-1.7l-6.4 2.4zM611.5 432.4l6.4-2l-4.6-1.8l-6.3 2.2zM622.5 432.2l6.4-1.8l-4.6-2l-6.4 2zM639.8 430.7l6.4-1.7l-4.6-2.3l-6.4 1.8z" fill="#2d8cf3" stroke="#2d8cf3" stroke-width=".3"/>
<path d="M458.1 447.3l6.3-5.6l-4.5-0.3l-6.4 5.7zM453.5 447.1l6.4-5.7l-4.6-0.3l-6.4 5.8zM482.7 443l6.4-4.8l-4.6-0.5l-6.3 5zM478.2 442.7l6.3-5l-4.5-0.5l-6.4 5.2zM502.8 439.7l6.4-4.4l-4.6-0.6l-6.3 4.5zM522.9 437.3l6.4-3.9l-4.6-0.8l-6.3 4zM538.5 435.1l6.4-3.5l-4.6-1l-6.4 3.7zM554 433.6l6.4-3.2l-4.6-1.2l-6.4 3.4zM569.5 432.7l6.4-2.9l-4.6-1.3l-6.3 3zM580.5 431.2l6.4-2.7l-4.6-1.5l-6.4 2.8zM596 431.5l6.4-2.4l-4.6-1.6l-6.4 2.5zM607 430.8l6.3-2.2l-4.5-1.8l-6.4 2.3zM617.9 430.4l6.4-2l-4.6-2l-6.4 2.2zM628.9 430.4l6.3-1.9l-4.5-2.1l-6.4 2zM646.2 429l6.4-1.7l-4.6-2.4l-6.4 1.8z" fill="#2b91ef" stroke="#2b91ef" stroke-width=".3"/>
<path d="M473.6 442.4l6.4-5.2l-4.6-0.5l-6.4 5.4zM498.3 439.2l6.3-4.5l-4.5-0.7l-6.4 4.7zM493.7 438.7l6.4-4.7l-4.6-0.7l-6.4 4.9zM518.4 436.6l6.3-4l-4.5-0.8l-6.4 4.2zM513.8 436l6.4-4.2l-4.6-0.8l-6.4 4.3zM533.9 434.3l6.4-3.7l-4.6-1l-6.4 3.8zM549.4 432.6l6.4-3.4l-4.6-1.1l-6.3 3.5zM565 431.5l6.3-3l-4.5-1.3l-6.4 3.2zM575.9 429.8l6.4-2.8l-4.6-1.5l-6.4 3zM591.4 430l6.4-2.5l-4.6-1.7l-6.3 2.7zM602.4 429.1l6.4-2.3l-4.6-1.9l-6.4 2.6zM613.3 428.6l6.4-2.2l-4.6-2l-6.3 2.4zM624.3 428.4l6.4-2l-4.6-2.2l-6.4 2.2zM635.2 428.5l6.4-1.8l-4.6-2.3l-6.3 2zM652.6 427.3l6.3-1.6l-4.5-2.7l-6.4 1.9z" fill="#2797eb" stroke="#2797eb" stroke-width=".3"/>
<path d="M469 442.1l6.4-5.4l-4.6-0.5l-6.4 5.5zM464.4 441.7l6.4-5.5l-4.6-0.5l-6.3 5.7zM489.1 438.2l6.4-4.9l-4.6-0.6l-6.4 5zM509.2 435.3l6.4-4.3l-4.6-0.9l-6.4 4.6zM529.3 433.4l6.4-3.8l-4.6-1l-6.4 4zM544.9 431.6l6.3-3.5l-4.5-1.2l-6.4 3.7zM560.4 430.4l6.4-3.2l-4.6-1.3l-6.4 3.3zM571.3 428.5l6.4-3l-4.6-1.5l-6.3 3.2zM586.9 428.5l6.3-2.7l-4.5-1.7l-6.4 2.9zM597.8 427.5l6.4-2.6l-4.6-1.8l-6.4 2.7zM608.8 426.8l6.3-2.4l-4.5-2l-6.4 2.5zM619.7 426.4l6.4-2.2l-4.6-2.1l-6.4 2.3zM630.7 426.4l6.3-2l-4.5-2.3l-6.4 2.1zM641.6 426.7l6.4-1.8l-4.6-2.5l-6.4 2zM658.9 425.7l6.4-1.7l-4.6-2.8l-6.3 1.8z" fill="#259be8" stroke="#259be8" stroke-width=".3"/>
<path d="M459.9 441.4l6.3-5.7l-4.5-0.5l-6.4 5.9zM484.5 437.7l6.4-5l-4.6-0.7l-6.3 5.2zM480 437.2l6.3-5.2l-4.5-0.6l-6.4 5.3zM504.6 434.7l6.4-4.6l-4.6-0.8l-6.3 4.7zM524.7 432.6l6.4-4l-4.6-1l-6.3 4.2zM520.2 431.8l6.3-4.2l-4.5-1l-6.4 4.4zM540.3 430.6l6.4-3.7l-4.6-1.2l-6.4 3.9zM555.8 429.2l6.4-3.3l-4.6-1.4l-6.4 3.6zM566.8 427.2l6.3-3.2l-4.5-1.5l-6.4 3.4zM582.3 427l6.4-2.9l-4.6-1.6l-6.4 3zM593.2 425.8l6.4-2.7l-4.6-1.8l-6.3 2.8zM604.2 424.9l6.4-2.5l-4.6-2l-6.4 2.7zM615.1 424.4l6.4-2.3l-4.6-2.2l-6.3 2.5zM626.1 424.2l6.4-2.1l-4.6-2.4l-6.4 2.4zM637 424.4l6.4-2l-4.6-2.5l-6.3 2.2zM648 424.9l6.4-1.9l-4.6-2.7l-6.4 2.1zM665.3 424l6.4-1.7l-4.6-3l-6.4 1.9z" fill="#23a0e5" stroke="#23a0e5" stroke-width=".3"/>
<path d="M475.4 436.7l6.4-5.3l-4.6-0.7l-6.4 5.5zM500.1 434l6.3-4.7l-4.5-0.8l-6.4 4.8zM495.5 433.3l6.4-4.8l-4.6-0.8l-6.4 5zM515.6 431l6.4-4.4l-4.6-1l-6.4 4.5zM535.7 429.6l6.4-3.9l-4.6-1.1l-6.4 4zM531.1 428.6l6.4-4l-4.6-1.2l-6.4 4.2zM551.2 428.1l6.4-3.6l-4.6-1.3l-6.3 3.7zM546.7 426.9l6.3-3.7l-4.5-1.3l-6.4 3.8zM562.2 425.9l6.4-3.4l-4.6-1.5l-6.4 3.5zM577.7 425.5l6.4-3l-4.6-1.7l-6.4 3.2zM588.7 424.1l6.3-2.8l-4.5-1.8l-6.4 3zM599.6 423.1l6.4-2.7l-4.6-1.9l-6.4 2.8zM632.5 422.1l6.3-2.2l-4.5-2.5l-6.4 2.3zM643.4 422.4l6.4-2.1l-4.6-2.6l-6.4 2.2zM654.4 423l6.3-1.8l-4.5-2.9l-6.4 2z" fill="#20a5e3" stroke="#20a5e3" stroke-width=".3"/>
<path d="M470.8 436.2l6.4-5.5l-4.6-0.6l-6.4 5.6zM466.2 435.7l6.4-5.6l-4.6-0.7l-6.3 5.8zM490.9 432.7l6.4-5l-4.6-0.8l-6.4 5.1zM511 430.1l6.4-4.5l-4.6-1l-6.4 4.7zM526.5 427.6l6.4-4.2l-4.6-1.1l-6.3 4.3zM542.1 425.7l6.4-3.8l-4.6-1.3l-6.4 4zM557.6 424.5l6.4-3.5l-4.6-1.5l-6.4 3.7zM573.1 424l6.4-3.2l-4.6-1.6l-6.3 3.3zM584.1 422.5l6.4-3l-4.6-1.8l-6.4 3.1zM610.6 422.4l6.3-2.5l-4.5-2.1l-6.4 2.6zM621.5 422.1l6.4-2.4l-4.6-2.3l-6.4 2.5zM649.8 420.3l6.4-2l-4.6-2.8l-6.4 2.2zM660.7 421.2l6.4-1.9l-4.6-3l-6.3 2z" fill="#1ca9df" stroke="#1ca9df" stroke-width=".3"/>
<path d="M486.3 432l6.4-5.1l-4.6-0.9l-6.3 5.4zM481.8 431.4l6.3-5.4l-4.5-0.8l-6.4 5.5zM506.4 429.3l6.4-4.7l-4.6-0.9l-6.3 4.8zM501.9 428.5l6.3-4.8l-4.5-1l-6.4 5zM522 426.6l6.3-4.3l-4.5-1.2l-6.4 4.5zM537.5 424.6l6.4-4l-4.6-1.3l-6.4 4.1zM553 423.2l6.4-3.7l-4.6-1.4l-6.3 3.8zM568.6 422.5l6.3-3.3l-4.5-1.7l-6.4 3.5zM579.5 420.8l6.4-3.1l-4.6-1.9l-6.4 3.4zM595 421.3l6.4-2.8l-4.6-2l-6.3 3zM606 420.4l6.4-2.6l-4.6-2.2l-6.4 2.9zM616.9 419.9l6.4-2.5l-4.6-2.3l-6.3 2.7zM627.9 419.7l6.4-2.3l-4.6-2.5l-6.4 2.5zM638.8 419.9l6.4-2.2l-4.6-2.7l-6.3 2.4zM656.2 418.3l6.3-2l-4.5-3l-6.4 2.2z" fill="#18addb" stroke="#18addb" stroke-width=".3"/>
<path d="M477.2 430.7l6.4-5.5l-4.6-0.8l-6.4 5.7zM497.3 427.7l6.4-5l-4.6-1l-6.4 5.2zM517.4 425.6l6.4-4.5l-4.6-1.1l-6.4 4.6zM532.9 423.4l6.4-4.1l-4.6-1.4l-6.4 4.4zM548.5 421.9l6.3-3.8l-4.5-1.5l-6.4 4zM564 421l6.4-3.5l-4.6-1.6l-6.4 3.6zM574.9 419.2l6.4-3.4l-4.6-1.8l-6.3 3.5zM590.5 419.5l6.3-3l-4.5-2l-6.4 3.2zM601.4 418.5l6.4-2.9l-4.6-2.1l-6.4 3zM612.4 417.8l6.3-2.7l-4.5-2.3l-6.4 2.8zM623.3 417.4l6.4-2.5l-4.6-2.5l-6.4 2.7zM634.3 417.4l6.3-2.4l-4.5-2.6l-6.4 2.5zM645.2 417.7l6.4-2.2l-4.6-2.8l-6.4 2.3z" fill="#12b1d6" stroke="#12b1d6" stroke-width=".3"/>
<path d="M472.6 430.1l6.4-5.7l-4.6-0.8l-6.4 5.8zM492.7 426.9l6.4-5.2l-4.6-1l-6.4 5.3zM512.8 424.6l6.4-4.6l-4.6-1.2l-6.4 4.9zM528.3 422.3l6.4-4.4l-4.6-1.3l-6.3 4.5zM543.9 420.6l6.4-4l-4.6-1.5l-6.4 4.2zM559.4 419.5l6.4-3.6l-4.6-1.7l-6.4 3.9zM585.9 417.7l6.4-3.2l-4.6-2l-6.4 3.3zM596.8 416.5l6.4-3l-4.6-2.2l-6.3 3.2zM607.8 415.6l6.4-2.8l-4.6-2.4l-6.4 3.1zM629.7 414.9l6.4-2.5l-4.6-2.7l-6.4 2.7zM640.6 415l6.4-2.3l-4.6-2.8l-6.3 2.5zM651.6 415.5l6.4-2.2l-4.6-3l-6.4 2.4z" fill="#08b5d0" stroke="#08b5d0" stroke-width=".3"/>
<path d="M488.1 426l6.4-5.3l-4.6-1l-6.3 5.5zM508.2 423.7l6.4-4.9l-4.6-1.1l-6.3 5zM523.8 421.1l6.3-4.5l-4.5-1.3l-6.4 4.7zM539.3 419.3l6.4-4.2l-4.6-1.5l-6.4 4.3zM554.8 418.1l6.4-3.9l-4.6-1.6l-6.3 4zM570.4 417.5l6.3-3.5l-4.5-1.8l-6.4 3.7zM581.3 415.8l6.4-3.3l-4.6-2l-6.4 3.5zM592.3 414.5l6.3-3.2l-4.5-2.2l-6.4 3.4zM618.7 415.1l6.4-2.7l-4.6-2.5l-6.3 2.9zM647 412.7l6.4-2.4l-4.6-2.9l-6.4 2.5z" fill="#01b8ca" stroke="#01b8ca" stroke-width=".3"/>
<path d="M483.6 425.2l6.3-5.5l-4.5-1l-6.4 5.7zM479 424.4l6.4-5.7l-4.6-1l-6.4 5.9zM503.7 422.7l6.3-5l-4.5-1.2l-6.4 5.2zM499.1 421.7l6.4-5.2l-4.6-1.2l-6.4 5.4zM519.2 420l6.4-4.7l-4.6-1.3l-6.4 4.8zM534.7 417.9l6.4-4.3l-4.6-1.5l-6.4 4.5zM550.3 416.6l6.3-4l-4.5-1.7l-6.4 4.2zM565.8 415.9l6.4-3.7l-4.6-1.8l-6.4 3.8zM576.7 414l6.4-3.5l-4.6-2l-6.3 3.7zM603.2 413.5l6.4-3.1l-4.6-2.3l-6.4 3.2zM614.2 412.8l6.3-2.9l-4.5-2.5l-6.4 3zM625.1 412.4l6.4-2.7l-4.6-2.6l-6.4 2.8zM636.1 412.4l6.3-2.5l-4.5-2.9l-6.4 2.7z" fill="#02bac3" stroke="#02bac3" stroke-width=".3"/>
<path d="M494.5 420.7l6.4-5.4l-4.6-1.1l-6.4 5.5zM514.6 418.8l6.4-4.8l-4.6-1.4l-6.4 5.1zM530.1 416.6l6.4-4.5l-4.6-1.5l-6.3 4.7zM545.7 415.1l6.4-4.2l-4.6-1.7l-6.4 4.4zM561.2 414.2l6.4-3.8l-4.6-1.9l-6.4 4.1zM572.2 412.2l6.3-3.7l-4.5-2l-6.4 3.9zM587.7 412.5l6.4-3.4l-4.6-2.1l-6.4 3.5zM598.6 411.3l6.4-3.2l-4.6-2.3l-6.3 3.3zM609.6 410.4l6.4-3l-4.6-2.5l-6.4 3.2zM620.5 409.9l6.4-2.8l-4.6-2.7l-6.3 3zM631.5 409.7l6.4-2.7l-4.6-2.8l-6.4 2.9zM642.4 409.9l6.4-2.5l-4.6-3l-6.3 2.6z" fill="#0bbdbd" stroke="#0bbdbd" stroke-width=".3"/>
<path d="M489.9 419.7l6.4-5.5l-4.6-1.2l-6.3 5.7zM510 417.7l6.4-5.1l-4.6-1.3l-6.3 5.2zM525.6 415.3l6.3-4.7l-4.5-1.5l-6.4 4.9zM541.1 413.6l6.4-4.4l-4.6-1.6l-6.4 4.5zM556.6 412.6l6.4-4.1l-4.6-1.8l-6.3 4.2zM583.1 410.5l6.4-3.5l-4.6-2.2l-6.4 3.7zM594.1 409.1l6.3-3.3l-4.5-2.3l-6.4 3.5z" fill="#19bfb6" stroke="#19bfb6" stroke-width=".3"/>
<path d="M485.4 418.7l6.3-5.7l-4.5-1.1l-6.4 5.8zM505.5 416.5l6.3-5.2l-4.5-1.3l-6.4 5.3zM521 414l6.4-4.9l-4.6-1.5l-6.4 5zM536.5 412.1l6.4-4.5l-4.6-1.7l-6.4 4.7zM552.1 410.9l6.3-4.2l-4.5-1.8l-6.4 4.3zM567.6 410.4l6.4-3.9l-4.6-2l-6.4 4zM578.5 408.5l6.4-3.7l-4.6-2.1l-6.3 3.8zM605 408.1l6.4-3.2l-4.6-2.5l-6.4 3.4zM616 407.4l6.3-3l-4.5-2.6l-6.4 3.1zM626.9 407.1l6.4-2.9l-4.6-2.8l-6.4 3zM637.9 407l6.3-2.6l-4.5-3l-6.4 2.8z" fill="#24c1ae" stroke="#24c1ae" stroke-width=".3"/>
<path d="M500.9 415.3l6.4-5.3l-4.6-1.3l-6.4 5.5zM516.4 412.6l6.4-5l-4.6-1.5l-6.4 5.2zM531.9 410.6l6.4-4.7l-4.6-1.6l-6.3 4.8zM547.5 409.2l6.4-4.3l-4.6-1.8l-6.4 4.5zM563 408.5l6.4-4l-4.6-2l-6.4 4.2zM574 406.5l6.3-3.8l-4.5-2.2l-6.4 4zM589.5 407l6.4-3.5l-4.6-2.4l-6.4 3.7zM600.4 405.8l6.4-3.4l-4.6-2.4l-6.3 3.5zM611.4 404.9l6.4-3.1l-4.6-2.7l-6.4 3.3zM622.3 404.4l6.4-3l-4.6-2.8l-6.3 3.2zM633.3 404.2l6.4-2.8l-4.6-3l-6.4 3z" fill="#2cc4a7" stroke="#2cc4a7" stroke-width=".3"/>
<path d="M496.3 414.2l6.4-5.5l-4.6-1.4l-6.4 5.7zM491.7 413l6.4-5.7l-4.6-1.3l-6.3 5.9zM511.8 411.3l6.4-5.2l-4.6-1.5l-6.3 5.4zM527.4 409.1l6.3-4.8l-4.5-1.7l-6.4 5zM542.9 407.6l6.4-4.5l-4.6-1.9l-6.4 4.7zM558.4 406.7l6.4-4.2l-4.6-2l-6.3 4.4zM584.9 404.8l6.4-3.7l-4.6-2.3l-6.4 3.9zM595.9 403.5l6.3-3.5l-4.5-2.5l-6.4 3.6z" fill="#31c69f" stroke="#31c69f" stroke-width=".3"/>
<path d="M507.3 410l6.3-5.4l-4.5-1.4l-6.4 5.5zM522.8 407.6l6.4-5l-4.6-1.6l-6.4 5.1zM538.3 405.9l6.4-4.7l-4.6-1.8l-6.4 4.9zM553.9 404.9l6.3-4.4l-4.5-1.9l-6.4 4.5zM569.4 404.5l6.4-4l-4.6-2.1l-6.4 4.1zM580.3 402.7l6.4-3.9l-4.6-2.3l-6.3 4zM606.8 402.4l6.4-3.3l-4.6-2.7l-6.4 3.6zM617.8 401.8l6.3-3.2l-4.5-2.8l-6.4 3.3zM628.7 401.4l6.4-3l-4.6-3l-6.4 3.2z" fill="#37c897" stroke="#37c897" stroke-width=".3"/>
<path d="M502.7 408.7l6.4-5.5l-4.6-1.5l-6.4 5.6zM518.2 406.1l6.4-5.1l-4.6-1.7l-6.4 5.3zM533.7 404.3l6.4-4.9l-4.6-1.8l-6.3 5zM549.3 403.1l6.4-4.5l-4.6-2l-6.4 4.6zM564.8 402.5l6.4-4.1l-4.6-2.2l-6.4 4.3zM591.3 401.1l6.4-3.6l-4.6-2.5l-6.4 3.8zM602.2 400l6.4-3.6l-4.6-2.6l-6.3 3.7zM613.2 399.1l6.4-3.3l-4.6-2.9l-6.4 3.5zM624.1 398.6l6.4-3.2l-4.6-3l-6.3 3.4z" fill="#3fca8e" stroke="#3fca8e" stroke-width=".3"/>
<path d="M498.1 407.3l6.4-5.6l-4.6-1.5l-6.4 5.8zM513.6 404.6l6.4-5.3l-4.6-1.7l-6.3 5.6zM544.7 401.2l6.4-4.6l-4.6-2l-6.4 4.8zM560.2 400.5l6.4-4.3l-4.6-2.2l-6.3 4.6zM575.8 400.5l6.3-4l-4.5-2.3l-6.4 4.2zM586.7 398.8l6.4-3.8l-4.6-2.5l-6.4 4zM597.7 397.5l6.3-3.7l-4.5-2.7l-6.4 3.9z" fill="#4acb84" stroke="#4acb84" stroke-width=".3"/>
<path d="M509.1 403.2l6.3-5.6l-4.5-1.6l-6.4 5.7zM529.2 402.6l6.3-5l-4.5-1.8l-6.4 5.2zM555.7 398.6l6.3-4.6l-4.5-2.1l-6.4 4.7zM571.2 398.4l6.4-4.2l-4.6-2.3l-6.4 4.3zM582.1 396.5l6.4-4l-4.6-2.5l-6.3 4.2zM608.6 396.4l6.4-3.5l-4.6-2.8l-6.4 3.7zM619.6 395.8l6.3-3.4l-4.5-3l-6.4 3.5z" fill="#57cc7a" stroke="#57cc7a" stroke-width=".3"/>
<path d="M504.5 401.7l6.4-5.7l-4.6-1.7l-6.4 5.9zM524.6 401l6.4-5.2l-4.6-1.8l-6.4 5.3zM540.1 399.4l6.4-4.8l-4.6-2l-6.4 5zM566.6 396.2l6.4-4.3l-4.6-2.4l-6.4 4.5zM593.1 395l6.4-3.9l-4.6-2.6l-6.4 4zM604 393.8l6.4-3.7l-4.6-2.8l-6.3 3.8zM615 392.9l6.4-3.5l-4.6-3l-6.4 3.7z" fill="#64cd6f" stroke="#64cd6f" stroke-width=".3"/>
<path d="M520 399.3l6.4-5.3l-4.6-1.9l-6.4 5.5zM535.5 397.6l6.4-5l-4.6-2l-6.3 5.2zM551.1 396.6l6.4-4.7l-4.6-2.2l-6.4 4.9zM562 394l6.4-4.5l-4.6-2.3l-6.3 4.7zM577.6 394.2l6.3-4.2l-4.5-2.5l-6.4 4.4zM588.5 392.5l6.4-4l-4.6-2.7l-6.4 4.2z" fill="#72cd64" stroke="#72cd64" stroke-width=".3"/>
<path d="M515.4 397.6l6.4-5.5l-4.6-1.8l-6.3 5.7zM531 395.8l6.3-5.2l-4.5-2l-6.4 5.4zM546.5 394.6l6.4-4.9l-4.6-2.1l-6.4 5zM573 391.9l6.4-4.4l-4.6-2.5l-6.4 4.5zM599.5 391.1l6.3-3.8l-4.5-2.8l-6.4 4zM610.4 390.1l6.4-3.7l-4.6-3l-6.4 3.9z" fill="#81cc59" stroke="#81cc59" stroke-width=".3"/>
<path d="M510.9 396l6.3-5.7l-4.5-1.8l-6.4 5.8zM526.4 394l6.4-5.4l-4.6-2l-6.4 5.5zM541.9 392.6l6.4-5l-4.6-2.2l-6.4 5.2zM557.5 391.9l6.3-4.7l-4.5-2.3l-6.4 4.8zM583.9 390l6.4-4.2l-4.6-2.6l-6.3 4.3zM594.9 388.5l6.4-4l-4.6-2.9l-6.4 4.2zM605.8 387.3l6.4-3.9l-4.6-2.9l-6.3 4z" fill="#8fcb4e" stroke="#8fcb4e" stroke-width=".3"/>
<path d="M521.8 392.1l6.4-5.5l-4.6-2l-6.4 5.7zM537.3 390.6l6.4-5.2l-4.6-2.1l-6.3 5.3zM552.9 389.7l6.4-4.8l-4.6-2.3l-6.4 5zM568.4 389.5l6.4-4.5l-4.6-2.5l-6.4 4.7zM579.4 387.5l6.3-4.3l-4.5-2.7l-6.4 4.5z" fill="#9dc943" stroke="#9dc943" stroke-width=".3"/>
<path d="M517.2 390.3l6.4-5.7l-4.6-2l-6.3 5.9zM548.3 387.6l6.4-5l-4.6-2.4l-6.4 5.2zM563.8 387.2l6.4-4.7l-4.6-2.5l-6.3 4.9zM590.3 385.8l6.4-4.2l-4.6-2.8l-6.4 4.4zM601.3 384.5l6.3-4l-4.5-3l-6.4 4.1z" fill="#abc739" stroke="#abc739" stroke-width=".3"/>
<path d="M532.8 388.6l6.3-5.3l-4.5-2.2l-6.4 5.5zM559.3 384.9l6.3-4.9l-4.5-2.4l-6.4 5zM574.8 385l6.4-4.5l-4.6-2.6l-6.4 4.6zM585.7 383.2l6.4-4.4l-4.6-2.8l-6.3 4.5z" fill="#b9c431" stroke="#b9c431" stroke-width=".3"/>
<path d="M528.2 386.6l6.4-5.5l-4.6-2.1l-6.4 5.6zM543.7 385.4l6.4-5.2l-4.6-2.3l-6.4 5.4zM570.2 382.5l6.4-4.6l-4.6-2.7l-6.4 4.8zM596.7 381.6l6.4-4.1l-4.6-3l-6.4 4.3z" fill="#c5c22a" stroke="#c5c22a" stroke-width=".3"/>
<path d="M523.6 384.6l6.4-5.6l-4.6-2.2l-6.4 5.8zM539.1 383.3l6.4-5.4l-4.6-2.3l-6.3 5.5zM554.7 382.6l6.4-5l-4.6-2.5l-6.4 5.1zM565.6 380l6.4-4.8l-4.6-2.7l-6.3 5.1zM581.2 380.5l6.3-4.5l-4.5-2.8l-6.4 4.7zM592.1 378.8l6.4-4.3l-4.6-3l-6.4 4.5z" fill="#d1bf27" stroke="#d1bf27" stroke-width=".3"/>
<path d="M534.6 381.1l6.3-5.5l-4.5-2.3l-6.4 5.7zM550.1 380.2l6.4-5.1l-4.6-2.5l-6.4 5.3zM576.6 377.9l6.4-4.7l-4.6-2.8l-6.4 4.8z" fill="#dcbd29" stroke="#dcbd29" stroke-width=".3"/>
<path d="M545.5 377.9l6.4-5.3l-4.6-2.5l-6.4 5.5zM561.1 377.6l6.3-5.1l-4.5-2.6l-6.4 5.2zM587.5 376l6.4-4.5l-4.6-3l-6.3 4.7z" fill="#e6bb2d" stroke="#e6bb2d" stroke-width=".3"/>
<path d="M530 379l6.4-5.7l-4.6-2.3l-6.4 5.8zM556.5 375.1l6.4-5.2l-4.6-2.7l-6.4 5.4zM572 375.2l6.4-4.8l-4.6-2.9l-6.4 5zM583 373.2l6.3-4.7l-4.5-3l-6.4 4.9z" fill="#f0ba36" stroke="#f0ba36" stroke-width=".3"/>
<path d="M540.9 375.6l6.4-5.5l-4.6-2.5l-6.3 5.7zM567.4 372.5l6.4-5l-4.6-2.8l-6.3 5.2z" fill="#f8ba3d" stroke="#f8ba3d" stroke-width=".3"/>
<path d="M536.4 373.3l6.3-5.7l-4.5-2.5l-6.4 5.9zM551.9 372.6l6.4-5.4l-4.6-2.6l-6.4 5.5zM578.4 370.4l6.4-4.9l-4.6-3l-6.4 5z" fill="#febe3c" stroke="#febe3c" stroke-width=".3"/>
<path d="M547.3 370.1l6.4-5.5l-4.6-2.7l-6.4 5.7zM562.9 369.9l6.3-5.2l-4.5-2.8l-6.4 5.3zM573.8 367.5l6.4-5l-4.6-3l-6.4 5.2z" fill="#fec338" stroke="#fec338" stroke-width=".3"/>
<path d="M558.3 367.2l6.4-5.3l-4.6-2.8l-6.4 5.5z" fill="#fec934" stroke="#fec934" stroke-width=".3"/>
<path d="M542.7 367.6l6.4-5.7l-4.6-2.6l-6.3 5.8zM569.2 364.7l6.4-5.2l-4.6-3l-6.3 5.4z" fill="#fccf30" stroke="#fccf30" stroke-width=".3"/>
<path d="M553.7 364.6l6.4-5.5l-4.6-2.9l-6.4 5.7zM564.7 361.9l6.3-5.4l-4.5-3l-6.4 5.6z" fill="#fad62d" stroke="#fad62d" stroke-width=".3"/>
<path d="M549.1 361.9l6.4-5.7l-4.6-2.8l-6.4 5.9z" fill="#f7dc2a" stroke="#f7dc2a" stroke-width=".3"/>
<path d="M560.1 359.1l6.4-5.6l-4.6-2.9l-6.4 5.6z" fill="#f5e327" stroke="#f5e327" stroke-width=".3"/>
<path d="M555.5 356.2l6.4-5.6l-4.6-3l-6.4 5.8z" fill="#f6ef20" stroke="#f6ef20" stroke-width=".3"/>
<path d="M512.3 464.3l-114.4 29.4M515 463.6l-114.4 27.7M517.6 462.9l-114.4 25.9M520.3 462.2l-114.4 24.2M522.9 461.5l-114.4 22.5M525.6 460.8l-114.4 20.7M528.2 460.1l-114.4 19M530.9 459.4l-114.4 17.3M533.6 458.7l-114.4 15.5M536.2 458l-114.4 13.8M538.9 457.3l-114.4 12M541.5 456.6l-114.4 10.3M544.2 455.9l-114.4 8.6M546.8 455.2l-114.4 6.8M549.5 454.5l-114.4 5.1M552.1 453.8l-114.4 3.4M554.8 453.1l-114.4 1.6M557.5 452.4l-114.4-0.1M560.1 451.7l-114.4-1.8M562.8 451l-114.4-3.6M565.4 450.3l-114.4-5.3M568.1 449.6l-114.4-7M570.7 448.9l-114.4-8.8M573.4 448.2l-114.4-10.5M576.1 447.5l-114.4-12.3M578.7 446.8l-114.4-14M581.4 446.1l-114.4-15.7M584 445.4l-114.4-17.5M586.7 444.7l-114.4-19.2M589.3 444l-114.4-20.9M592 443.3l-114.4-22.7M594.7 442.6l-114.4-24.4M597.3 441.9l-114.4-26.1M600 441.2l-114.4-27.9M602.6 440.5l-114.4-29.6M605.3 439.8l-114.4-31.3M607.9 439.1l-114.4-33.1M610.6 438.4l-114.4-34.8M613.3 437.7l-114.4-36.5M615.9 437l-114.4-38.3M618.6 436.3l-114.4-40M621.2 435.6l-114.4-41.8M623.9 434.9l-114.4-43.5M626.5 434.2l-114.4-45.2M629.2 433.5l-114.4-47M631.8 432.8l-114.4-48.7M634.5 432.1l-114.4-50.4M637.2 431.4l-114.4-52.2M639.8 430.7l-114.4-53.9M642.5 430l-114.4-55.6M645.1 429.3l-114.4-57.4M647.8 428.6l-114.4-59.1M650.4 427.9l-114.4-60.8M653.1 427.2l-114.4-62.6M655.8 426.5l-114.4-64.3M658.4 425.8l-114.4-66.1M661.1 425.1l-114.4-67.8M663.7 424.4l-114.4-69.5M666.4 423.7l-114.4-71.3M669 423l-114.4-73M671.7 422.3l-114.4-74.7M512.3 464.3l159.4-42M510.4 464.8l159.4-43.7M508.5 465.3l159.4-45.5M506.6 465.8l159.4-47.2M504.7 466.3l159.4-49M502.8 466.8l159.4-50.7M500.9 467.2l159.4-52.4M499 467.7l159.4-54.1M497 468.2l159.4-55.9M495.1 468.7l159.4-57.6M493.2 469.2l159.4-59.4M491.3 469.7l159.4-61.1M489.4 470.2l159.4-62.8M487.5 470.7l159.4-64.6M485.6 471.2l159.4-66.3M483.7 471.7l159.4-68M481.8 472.1l159.4-69.7M479.9 472.6l159.4-71.5M478 473.1l159.4-73.2M476.1 473.6l159.4-75M474.2 474.1l159.4-76.7M472.3 474.6l159.4-78.5M470.4 475.1l159.4-80.2M468.4 475.6l159.4-81.9M466.5 476.1l159.4-83.7M464.6 476.6l159.4-85.4M462.7 477l159.4-87.1M460.8 477.5l159.4-88.8M458.9 478l159.4-90.6M457 478.5l159.4-92.3M455.1 479l159.4-94.1M453.2 479.5l159.4-95.8M451.3 480l159.4-97.6M449.4 480.5l159.4-99.3M447.5 481l159.4-101M445.6 481.4l159.4-102.7M443.7 481.9l159.4-104.4M441.8 482.4l159.4-106.2M439.8 482.9l159.4-107.9M437.9 483.4l159.4-109.7M436 483.9l159.4-111.4M434.1 484.4l159.4-113.2M432.2 484.9l159.4-114.9M430.3 485.4l159.4-116.7M428.4 485.9l159.4-118.4M426.5 486.4l159.4-120.1M424.6 486.8l159.4-121.8M422.7 487.3l159.4-123.5M420.8 487.8l159.4-125.3M418.9 488.3l159.4-127M417 488.8l159.4-128.8M415.1 489.3l159.4-130.5M413.2 489.8l159.4-132.3M411.2 490.3l159.4-134M409.3 490.8l159.4-135.8M407.4 491.2l159.4-137.4M405.5 491.7l159.4-139.1M403.6 492.2l159.4-140.9M401.7 492.7l159.4-142.6M399.8 493.2l159.4-144.4M397.9 493.7l159.4-146.1" stroke="#000" stroke-width="0.68" fill="none" stroke-opacity="1"/>
<text x="390.4" y="496.8" font-size="8.2" text-anchor="end">0</text>
<text x="390.4" y="473.4" font-size="8.2" text-anchor="end">200</text>
<text x="390.4" y="450" font-size="8.2" text-anchor="end">400</text>
<text x="390.4" y="426.6" font-size="8.2" text-anchor="end">600</text>
<text x="390.4" y="403.2" font-size="8.2" text-anchor="end">800</text>
<text x="390.4" y="379.8" font-size="8.2" text-anchor="end">1000</text>
<text x="390.4" y="356.4" font-size="8.2" text-anchor="end">1200</text>
<text x="390.4" y="333" font-size="8.2" text-anchor="end">1400</text>
<text x="387.9" y="504.4" font-size="8.2" text-anchor="middle">0</text>
<text x="416.5" y="508.3" font-size="8.2" text-anchor="middle">0.2</text>
<text x="448.3" y="512.3" font-size="8.2" text-anchor="middle">0.4</text>
<text x="480.3" y="517.1" font-size="8.2" text-anchor="middle">0.6</text>
<text x="511.9" y="520.8" font-size="8.2" text-anchor="middle">0.8</text>
<text x="548.1" y="524.8" font-size="8.2" text-anchor="middle">1</text>
<text x="567.5" y="524" font-size="8.2" text-anchor="middle">1</text>
<text x="626.8" y="508.5" font-size="8.2" text-anchor="middle">0.5</text>
<text x="679.7" y="494.3" font-size="8.2" text-anchor="middle">0</text>
<text transform="translate(362.9 416.2) rotate(-90)" font-size="9.8" fill="#3c3c3c">R<tspan font-size="6.8" dy="4.2">0</tspan></text>
<text x="483.5" y="531.8" font-size="9" fill="#5a5a5a" style="stroke:#5a5a5a;stroke-width:.12px"><tspan font-family="Liberation Serif" font-style="italic">&#948;</tspan><tspan font-size="6.8" dy="3.6" fill="#3c3c3c">1</tspan></text>
<text x="611.6" y="530.2" font-size="9" fill="#5a5a5a" style="stroke:#5a5a5a;stroke-width:.12px"><tspan font-family="Liberation Serif" font-style="italic">&#960;</tspan><tspan font-size="6.8" dy="3.6" fill="#3c3c3c"></tspan></text>
<text x="534.1" y="294.5" font-size="9.5" font-weight="bold" text-anchor="middle" fill="#141414" style="stroke:#141414;stroke-width:.15px" textLength="127" lengthAdjust="spacing">2225 c ((2 u)/5 + 3001/12500)</text>
<path d="M177 848.4l135.8-26.4M150.6 843l135.8-26.4M124.2 837.6l135.8-26.4M97.7 832.3l135.8-26.4M71.3 826.9l135.8-26.4M44.9 821.5l135.8-26.4M177 848.4l-132.1-26.9M204.2 843.1l-132.1-26.9M231.3 837.8l-132.1-26.9M258.5 832.6l-132.1-26.9M285.6 827.3l-132.1-26.9M312.8 822l-132.1-26.9M44.9 821.5l0-157.9M72.1 816.2l0-157.9M99.2 810.9l0-157.9M126.4 805.7l0-158M153.5 800.4l0-157.9M180.7 795.1l0-157.9M44.9 821.5l135.8-26.4M44.9 801.8l135.8-26.4M44.9 782l135.8-26.4M44.9 762.3l135.8-26.4M44.9 742.5l135.8-26.4M44.9 722.8l135.8-26.4M44.9 703.1l135.8-26.4M44.9 683.3l135.8-26.4M44.9 663.6l135.8-26.4M312.8 822l0-157.9M286.4 816.6l0-157.9M260 811.2l0-157.9M233.5 805.9l0-158M207.1 800.5l0-157.9M180.7 795.1l0-157.9M312.8 822l-132.1-26.9M312.8 802.3l-132.1-26.9M312.8 782.5l-132.1-26.9M312.8 762.8l-132.1-26.9M312.8 743l-132.1-26.9M312.8 723.3l-132.1-26.9M312.8 703.6l-132.1-26.9M312.8 683.8l-132.1-26.9M312.8 664.1l-132.1-26.9" stroke="#dcdcdc" stroke-width=".6" fill="none"/>
<path d="M44.5 821.5l0-157.9M44.5 821.5l-4.9-1M44.5 801.8l-4.9-1M44.5 782l-4.9-1M44.5 762.3l-4.9-1M44.5 742.5l-4.9-1M44.5 722.8l-4.9-1M44.5 703.1l-4.9-1M44.5 683.3l-4.9-1M44.5 663.6l-4.9-1M177 848.4l-132.1-26.9M177 848.4l-3.9 0.8M150.6 843l-3.9 0.8M124.2 837.6l-3.9 0.8M97.7 832.3l-3.9 0.8M71.3 826.9l-3.9 0.8M44.9 821.5l-3.9 0.8M177 848.4l135.8-26.4M177 848.4l3.9 0.8M204.2 843.1l3.9 0.8M231.3 837.8l3.9 0.8M258.5 832.6l3.9 0.8M285.6 827.3l3.9 0.8M312.8 822l3.9 0.8" stroke="#4d4d4d" stroke-width="0.8" fill="none"/>
<path d="M100.9 824.1l2.2-0.5l-2.2-0.4l-2.3 0.6zM98.6 823.8l4.6-1.1l-2.3-0.4l-4.5 1.2zM96.4 823.5l6.8-1.7l-2.3-0.3l-6.7 1.6zM94.2 823.1l9-2.2l-2.2-0.3l-9.1 2.2zM91.9 822.8l11.3-2.8l-2.2-0.3l-11.3 2.7zM89.7 822.4l13.6-3.3l-2.3-0.3l-13.6 3.3zM87.4 822.1l15.9-3.9l-2.3-0.3l-15.8 3.8zM85.2 821.7l18.1-4.4l-2.2-0.3l-18.1 4.3zM83 821.3l20.3-4.8l-2.2-0.4l-20.4 4.9zM80.7 821l22.7-5.4l-2.3-0.4l-22.6 5.4zM78.5 820.6l27.1-6.5l-2.2-0.3l-27.2 6.4zM76.2 820.2l29.5-6.9l-2.3-0.4l-29.4 6.9zM74 819.8l31.7-7.4l-2.2-0.4l-31.7 7.4zM71.8 819.4l33.9-7.9l-2.2-0.4l-34 7.9zM69.5 819l36.2-8.4l-2.2-0.4l-36.2 8.5zM67.3 818.7l38.5-9l-2.3-0.4l-38.4 9zM65.1 818.3l40.7-9.5l-2.2-0.4l-40.8 9.5zM62.8 817.9l43-10l-2.2-0.3l-43 9.9zM60.6 817.5l45.2-10.5l-2.2-0.3l-45.3 10.4zM58.3 817.1l47.6-11l-2.3-0.3l-47.5 10.9zM56.1 816.7l49.8-11.4l-2.3-0.4l-49.7 11.4zM53.9 816.3l52-11.9l-2.2-0.4l-52.1 11.8zM51.6 815.8l54.3-12.3l-2.2-0.4l-54.3 12.3zM49.4 815.4l56.6-12.8l-2.3-0.4l-56.6 12.8zM47.1 815l61.1-13.8l-2.2-0.4l-61.1 13.8z" fill="#3e26a8" stroke="#3e26a8" stroke-width=".3"/>
<path d="M123.3 826.8l2.2-0.6l-2.2-0.2l-2.3 0.6zM121 826.6l6.8-1.8l-2.2-0.2l-6.8 1.8zM118.8 826.4l9-2.4l-2.2-0.2l-9.1 2.4zM116.5 826.2l13.6-3.6l-2.2-0.3l-13.6 3.6zM114.3 825.9l15.9-4.1l-2.3-0.3l-15.8 4.1zM112.1 825.6l20.3-5.2l-2.2-0.3l-20.4 5.2zM109.8 825.3l22.7-5.8l-2.3-0.2l-22.6 5.8zM107.6 825.1l27.2-7l-2.3-0.2l-27.1 6.9zM105.4 824.8l29.4-7.5l-2.3-0.2l-29.4 7.3zM103.1 824.4l34-8.5l-2.3-0.2l-33.9 8.4zM103.1 823.6l34-8.5l-2.3-0.3l-33.9 8.4zM103.2 822.7l36.2-9l-2.3-0.3l-36.2 8.9zM103.2 821.8l38.5-9.5l-2.3-0.3l-38.5 9.5zM103.2 820.9l38.5-9.4l-2.3-0.3l-38.4 9.4zM103.2 820l40.8-9.9l-2.3-0.3l-40.7 9.9zM103.3 819.1l40.7-9.8l-2.2-0.3l-40.8 9.8zM103.3 818.2l43-10.3l-2.3-0.3l-43 10.3zM103.3 817.3l43-10.3l-2.2-0.3l-43 10.3zM103.3 816.5l45.3-10.9l-2.2-0.3l-45.3 10.8zM103.4 815.6l45.2-10.8l-2.2-0.3l-45.3 10.7zM105.6 814.1l45.3-10.7l-2.2-0.3l-45.3 10.7zM105.7 813.3l45.2-10.7l-2.2-0.3l-45.3 10.6zM105.7 812.4l47.5-11.2l-2.2-0.3l-47.5 11.1zM105.7 811.5l47.5-11.1l-2.2-0.4l-47.5 11.1zM105.7 810.6l49.8-11.6l-2.2-0.3l-49.8 11.5zM105.8 809.7l49.8-11.6l-2.3-0.3l-49.8 11.5zM105.8 808.8l52-12.1l-2.2-0.3l-52 12zM105.8 807.9l52.1-12l-2.3-0.3l-52 12zM105.8 807l54.4-12.5l-2.3-0.3l-54.3 12.5zM105.9 806.1l56.5-12.9l-2.2-0.4l-56.6 13zM105.9 805.3l56.6-13l-2.3-0.3l-56.6 12.9zM105.9 804.4l58.9-13.5l-2.3-0.3l-58.8 13.4zM105.9 803.5l58.9-13.4l-2.3-0.4l-58.8 13.4zM106 802.6l61.1-13.9l-2.3-0.3l-61.1 13.8zM108.2 801.2l58.9-13.4l-2.2-0.3l-58.9 13.3z" fill="#402ab4" stroke="#402ab4" stroke-width=".3"/>
<path d="M134.5 827.4l4.5-1.3l-2.3 0l-4.5 1.3zM132.2 827.4l9.1-2.6l-2.3-0.1l-9 2.6zM130 827.3l13.6-3.9l-2.3 0l-13.6 3.7zM127.7 827.1l18.1-5l-2.2-0.1l-18.1 5zM125.5 827l22.6-6.2l-2.2-0.1l-22.6 6.1zM125.5 826.2l24.9-6.8l-2.2-0.1l-24.9 6.7zM127.8 824.8l24.9-6.7l-2.2-0.1l-24.9 6.6zM127.8 824l27.2-7.3l-2.2-0.1l-27.2 7.2zM130.1 822.6l27.2-7.2l-2.3-0.1l-27.1 7zM130.2 821.8l29.4-7.7l-2.3-0.2l-29.4 7.6zM132.4 820.4l29.5-7.7l-2.3-0.1l-29.4 7.5zM132.5 819.5l31.7-8.1l-2.3-0.2l-31.7 8.1zM134.8 818.1l31.6-8l-2.2-0.2l-31.7 8zM134.8 817.3l33.9-8.6l-2.2-0.2l-34 8.6zM137.1 815.9l33.9-8.5l-2.2-0.2l-34 8.5zM137.1 815.1l33.9-8.5l-2.2-0.2l-34 8.4zM139.4 813.7l31.7-7.9l-2.3-0.2l-31.7 7.8zM141.7 812.3l29.4-7.2l-2.3-0.3l-29.4 7.2zM141.7 811.5l29.4-7.2l-2.2-0.3l-29.5 7.2zM144 810.1l27.1-6.6l-2.2-0.3l-27.2 6.6zM144 809.3l27.2-6.6l-2.3-0.3l-27.1 6.6zM146.3 807.9l24.9-6l-2.3-0.3l-24.9 6zM146.3 807l24.9-5.9l-2.2-0.3l-24.9 5.9zM148.6 805.6l22.6-5.4l-2.2-0.2l-22.6 5.3zM148.6 804.8l22.7-5.4l-2.3-0.3l-22.6 5.4zM150.9 803.4l20.4-4.8l-2.3-0.3l-20.3 4.8zM150.9 802.6l22.7-5.4l-2.3-0.3l-22.6 5.4zM153.2 801.2l20.4-4.8l-2.2-0.3l-20.4 4.8zM153.2 800.4l20.4-4.8l-2.2-0.3l-20.4 4.7zM155.5 799l18.1-4.3l-2.2-0.3l-18.1 4.3zM155.6 798.1l18.1-4.2l-2.3-0.3l-18.1 4.2zM157.8 796.7l15.9-3.6l-2.2-0.3l-15.9 3.6zM157.9 795.9l15.8-3.7l-2.2-0.3l-15.9 3.7zM160.2 794.5l13.5-3.1l-2.2-0.3l-13.6 3.1zM162.4 793.2l11.4-2.6l-2.3-0.4l-11.3 2.6zM162.5 792.3l11.3-2.6l-2.3-0.3l-11.3 2.6zM164.8 790.9l9-2l-2.2-0.4l-9.1 2.1zM164.8 790.1l9-2.1l-2.2-0.3l-9.1 2zM167.1 788.7l6.8-1.5l-2.3-0.4l-6.8 1.6zM167.1 787.8l6.8-1.5l-2.3-0.3l-6.7 1.5z" fill="#422ec0" stroke="#422ec0" stroke-width=".3"/>
<path d="M143.4 827.1l2.3-0.7l-2.3 0.2l-2.2 0.7zM141.2 827.3l9-2.8l-2.2 0.1l-9.1 2.8zM138.9 827.4l13.6-4.1l-2.2 0.1l-13.6 4zM136.7 827.4l20.4-6l-2.3 0.1l-20.3 5.9zM139 826.1l20.4-6l-2.3 0.1l-20.4 5.9zM141.3 824.8l20.3-5.9l-2.2 0l-20.4 5.8zM143.6 823.4l22.6-6.4l-2.2 0l-22.7 6.4zM145.8 822.1l20.4-5.7l-2.2 0l-20.4 5.6zM148.1 820.8l18.1-5l-2.2-0.1l-18.1 5zM150.4 819.4l15.9-4.3l-2.3-0.1l-15.8 4.3zM152.7 818.1l15.9-4.3l-2.3-0.1l-15.8 4.3zM155 816.7l13.6-3.6l-2.3-0.1l-13.5 3.6zM157.3 815.4l11.3-3l-2.2-0.1l-11.4 3zM159.6 814.1l9-2.4l-2.2-0.1l-9.1 2.3zM161.9 812.7l6.8-1.7l-2.3-0.2l-6.8 1.8zM164.2 811.4l4.5-1.2l-2.3-0.1l-4.5 1.1zM166.4 810.1l2.3-0.6l-2.2-0.2l-2.3 0.6zM168.7 808.7l2.3-0.5l-2.2-0.2l-2.3 0.5z" fill="#4332cb" stroke="#4332cb" stroke-width=".3"/>
<path d="M147.9 826.5l4.5-1.6l-2.2 0.5l-4.5 1.4zM145.7 826.8l11.3-3.7l-2.3 0.4l-11.3 3.6zM145.7 826.4l15.8-5.1l-2.2 0.4l-15.9 4.9zM150.2 824.5l11.3-3.6l-2.2 0.3l-11.3 3.4zM152.5 823.3l11.3-3.5l-2.2 0.2l-11.3 3.4zM157.1 821.4l6.8-2.1l-2.3 0.2l-6.8 2zM159.4 820.1l4.5-1.3l-2.3 0.1l-4.5 1.3zM161.6 818.9l4.6-1.3l-2.3 0.1l-4.5 1.2z" fill="#4537d5" stroke="#4537d5" stroke-width=".3"/>
<path d="M152.4 825.2l2.2-0.8l-2.2 0.7l-2.3 0.8zM150.1 825.9l9.1-3.1l-2.3 0.6l-9 3.1zM152.4 824.9l6.8-2.3l-2.2 0.5l-6.8 2.3zM157 823.1l4.5-1.5l-2.2 0.5l-4.6 1.4z" fill="#463cde" stroke="#463cde" stroke-width=".3"/>
<path d="M154.6 824.3l6.8-2.6l-2.2 1.1l-6.8 2.4zM156.9 823.6l4.5-1.7l-2.2 0.9l-4.5 1.6zM163.7 821.1l4.5-1.6l-2.2 0.9l-4.6 1.6zM168.2 819.6l4.6-1.6l-2.3 0.8l-4.5 1.5zM190.9 811.9l2.3-0.7l-2.2 0.6l-2.3 0.7z" fill="#4741e5" stroke="#4741e5" stroke-width=".3"/>
<path d="M156.8 823.1l6.8-2.8l-2.2 1.4l-6.8 2.6zM161.4 821.7l9.1-3.4l-2.3 1.2l-9 3.3zM168.2 819.5l11.3-4.2l-2.2 1.1l-11.3 4zM172.8 818l13.5-4.7l-2.2 0.9l-13.6 4.6zM188.6 812.7l4.6-1.5l-2.3 0.8l-4.5 1.5zM195.4 810.5l4.6-1.5l-2.3 0.8l-4.5 1.4zM202.3 808.3l2.2-0.7l-2.2 0.7l-2.3 0.7zM209.1 806.2l2.2-0.7l-2.2 0.5l-2.3 0.7z" fill="#4747eb" stroke="#4747eb" stroke-width=".3"/>
<path d="M159.1 821.4l4.5-1.9l-2.2 1.8l-4.6 1.8zM163.6 820.3l9.1-3.6l-2.2 1.6l-9.1 3.4zM170.5 818.3l11.3-4.3l-2.3 1.3l-11.3 4.2zM179.5 815.3l11.3-4.1l-2.2 1.3l-11.3 3.9zM186.3 813.3l11.4-4l-2.3 1.1l-11.3 3.8zM193.2 811.2l13.5-4.6l-2.2 0.9l-13.6 4.5zM200 809l15.8-5.2l-2.2 0.9l-15.9 5.1zM213.6 804.7l11.3-3.6l-2.2 0.8l-11.4 3.6zM218.1 803.3l2.3-0.7l-2.2 0.7l-2.3 0.7zM227.2 800.5l4.5-1.4l-2.2 0.7l-4.6 1.4zM222.7 801.9l2.2-0.7l-2.2 0.6l-2.3 0.7zM229.5 799.8l11.3-3.4l-2.3 0.7l-11.3 3.3zM234 798.4l2.3-0.7l-2.3 0.6l-2.2 0.6zM240.8 796.4l2.3-0.7l-2.3 0.6l-2.2 0.6zM247.6 794.4l2.3-0.7l-2.3 0.6l-2.2 0.7zM256.7 791.6l2.2-0.6l-2.2 0.5l-2.3 0.7z" fill="#484df0" stroke="#484df0" stroke-width=".3"/>
<path d="M161.3 819.2l2.3-1.1l-2.2 2.4l-2.3 0.9zM163.6 819.5l9.1-3.9l-2.3 2l-9 3.7zM172.7 816.7l9-3.6l-2.2 1.7l-9 3.5zM181.8 814l11.3-4.4l-2.3 1.6l-11.3 4.1zM190.8 811.2l11.4-4.1l-2.3 1.4l-11.3 4zM197.7 809.3l13.5-4.8l-2.2 1.3l-13.6 4.6zM206.7 806.6l13.6-4.6l-2.2 1.1l-13.6 4.4zM215.8 803.8l13.6-4.4l-2.2 1l-13.6 4.3zM224.9 801.1l15.8-5l-2.2 0.9l-15.8 4.9zM231.7 799.1l18.1-5.6l-2.2 0.8l-18.1 5.5zM245.3 795l13.6-4.1l-2.2 0.8l-13.6 4zM254.4 792.3l2.3-0.6l-2.3 0.6l-2.2 0.7zM261.2 790.3l2.2-0.7l-2.2 0.7l-2.3 0.7zM263.5 789.7l6.8-2l-2.3 0.6l-6.8 1.9zM265.8 788.9l2.2-0.6l-2.2 0.5l-2.3 0.6z" fill="#4852f4" stroke="#4852f4" stroke-width=".3"/>
<path d="M163.6 818.1l6.8-3.1l-2.3 2.5l-6.7 3zM172.7 815.6l9-3.9l-2.2 2.3l-9.1 3.6zM181.7 813.1l9.1-3.7l-2.2 2l-9.1 3.4zM193.1 809.6l9-3.4l-2.2 1.7l-9.1 3.3zM202.2 807.1l11.3-4.1l-2.3 1.5l-11.3 4zM211.2 804.5l11.4-3.9l-2.3 1.4l-11.3 3.8zM220.3 802l13.6-4.6l-2.2 1.2l-13.6 4.5zM229.4 799.4l15.8-5.2l-2.2 1.1l-15.8 5.1zM240.7 796.1l13.6-4.4l-2.2 1.1l-13.6 4.2zM249.8 793.5l15.9-4.9l-2.3 0.9l-15.8 4.8zM258.9 790.9l15.8-4.8l-2.2 0.8l-15.8 4.8zM268 788.3l4.5-1.4l-2.2 0.8l-4.6 1.3z" fill="#4758f8" stroke="#4758f8" stroke-width=".3"/>
<path d="M163.6 816l2.2-1.2l-2.2 3.3l-2.3 1.1zM170.4 815l6.8-3.2l-2.3 2.8l-6.8 2.9zM181.7 811.7l6.8-2.9l-2.2 2.5l-6.8 2.7zM190.8 809.4l11.3-4.5l-2.2 2.2l-11.3 4.3zM202.1 806.2l11.4-4.3l-2.3 1.9l-11.3 4.1zM213.5 803l11.3-4.1l-2.2 1.7l-11.4 3.9zM222.6 800.6l13.5-4.8l-2.2 1.6l-13.6 4.6zM233.9 797.4l13.6-4.6l-2.3 1.4l-13.5 4.4zM245.2 794.2l13.6-4.5l-2.2 1.3l-13.6 4.3zM254.3 791.7l15.9-5l-2.3 1.1l-15.8 5zM265.7 788.6l11.3-3.6l-2.3 1.1l-11.3 3.4z" fill="#465efb" stroke="#465efb" stroke-width=".3"/>
<path d="M165.8 814.8l6.8-3.4l-2.2 3.6l-6.8 3.1zM177.2 811.8l9-4.1l-2.2 3.1l-9.1 3.8zM188.5 808.8l9.1-3.8l-2.3 2.6l-9 3.7zM202.1 804.9l9.1-3.7l-2.3 2.4l-9 3.5zM213.5 801.9l9-3.5l-2.2 2.1l-9.1 3.3zM224.8 798.9l11.3-4.2l-2.2 1.9l-11.3 4zM236.1 795.8l11.4-3.9l-2.3 1.7l-11.3 3.8zM247.5 792.8l13.6-4.6l-2.3 1.5l-13.6 4.5zM258.8 789.7l15.9-5.2l-2.3 1.5l-15.8 5zM270.2 786.7l9-2.9l-2.2 1.2l-9.1 2.8z" fill="#4563fd" stroke="#4563fd" stroke-width=".3"/>
<path d="M172.6 811.4l6.8-3.4l-2.2 3.8l-6.8 3.2zM186.2 807.7l6.8-3.2l-2.2 3.4l-6.8 2.9zM197.6 805l9-3.9l-2.2 2.9l-9.1 3.6zM211.2 801.2l9-3.6l-2.2 2.6l-9.1 3.4zM222.5 798.4l11.3-4.3l-2.2 2.3l-11.3 4.1zM236.1 794.7l11.3-4.1l-2.2 2.1l-11.3 3.9zM247.5 791.9l13.5-4.8l-2.2 1.9l-13.6 4.6zM261.1 788.2l13.5-4.6l-2.2 1.7l-13.6 4.4zM274.7 784.5l6.8-2.2l-2.3 1.5l-6.8 2.2z" fill="#4269fe" stroke="#4269fe" stroke-width=".3"/>
<path d="M165.8 811.4l4.5-2.6l-2.2 4.9l-4.5 2.3zM179.4 808l4.5-2.3l-2.2 4.1l-4.5 2zM193 804.5l6.8-3.1l-2.2 3.6l-6.8 2.9zM206.6 801.1l6.8-2.9l-2.2 3l-6.8 2.8zM220.2 797.6l9.1-3.6l-2.3 2.7l-9 3.5zM233.8 794.1l9.1-3.4l-2.3 2.4l-9 3.3zM247.4 790.6l11.3-4.1l-2.2 2.2l-11.3 4zM261 787.1l11.4-4l-2.3 2l-11.3 3.9zM274.6 783.6l9.1-3.1l-2.2 1.8l-9.1 3z" fill="#3e6fff" stroke="#3e6fff" stroke-width=".3"/>
<path d="M170.3 808.8l4.6-2.6l-2.3 5.2l-4.5 2.3zM183.9 805.7l6.8-3.4l-2.2 4.3l-6.8 3.2zM199.8 801.4l6.8-3.1l-2.2 3.7l-6.8 3zM213.4 798.2l9.1-3.9l-2.3 3.3l-9 3.6zM229.3 794l9-3.7l-2.2 3l-9.1 3.4zM242.9 790.7l11.3-4.4l-2.2 2.7l-11.4 4.1zM258.7 786.5l11.4-4.1l-2.3 2.3l-11.3 4zM272.4 783.1l13.5-4.7l-2.2 2.1l-13.6 4.6z" fill="#3875fe" stroke="#3875fe" stroke-width=".3"/>
<path d="M174.9 806.2l6.7-3.8l-2.2 5.6l-6.8 3.4zM190.7 802.3l6.8-3.5l-2.2 4.7l-6.8 3.1zM206.6 798.3l6.8-3.2l-2.3 4l-6.7 2.9zM222.5 794.3l9-3.9l-2.2 3.6l-9.1 3.6zM238.3 790.3l9.1-3.6l-2.3 3.1l-9 3.5zM254.2 786.3l11.3-4.3l-2.2 2.8l-11.3 4.2zM270.1 782.4l11.3-4.2l-2.3 2.6l-11.3 3.9z" fill="#327cfc" stroke="#327cfc" stroke-width=".3"/>
<path d="M181.6 802.4l4.6-2.6l-2.3 5.9l-4.5 2.3zM197.5 798.8l6.8-3.4l-2.2 5l-6.8 3.1zM213.4 795.1l9-4.1l-2.2 4.3l-9.1 3.8zM231.5 790.4l9.1-3.9l-2.3 3.8l-9 3.7zM247.4 786.7l9-3.7l-2.2 3.3l-9.1 3.5zM265.5 782l9.1-3.4l-2.3 2.9l-9 3.3zM281.4 778.2l6.8-2.4l-2.3 2.6l-6.8 2.4z" fill="#2f81fa" stroke="#2f81fa" stroke-width=".3"/>
<path d="M168 804.2l4.6-3l-2.3 7.6l-4.5 2.6zM186.2 799.8l4.5-2.6l-2.2 6.2l-4.6 2.3zM204.3 795.4l6.8-3.5l-2.2 5.3l-6.8 3.2zM222.4 791l6.8-3.2l-2.2 4.6l-6.8 2.9zM240.6 786.5l6.8-2.9l-2.3 4l-6.8 2.7zM256.4 783l11.4-4.5l-2.3 3.5l-11.3 4.3zM274.6 778.6l11.3-4.3l-2.3 3.1l-11.3 4.1z" fill="#2e87f7" stroke="#2e87f7" stroke-width=".3"/>
<path d="M172.6 801.2l4.5-3l-2.2 8l-4.6 2.6zM190.7 797.2l4.5-2.5l-2.2 6.4l-4.5 2.3zM211.1 791.9l4.5-2.2l-2.2 5.4l-4.5 2.1zM229.2 787.8l6.8-3.1l-2.2 4.8l-6.8 2.9zM247.4 783.6l9-3.8l-2.2 4.2l-9.1 3.6zM267.8 778.5l9-3.6l-2.2 3.7l-9.1 3.4zM285.9 774.3l4.5-1.8l-2.2 3.3l-4.6 1.6z" fill="#2d8cf3" stroke="#2d8cf3" stroke-width=".3"/>
<path d="M177.1 798.2l4.5-3l-2.2 8.5l-4.5 2.5zM195.2 794.7l6.8-3.9l-2.2 6.9l-6.8 3.4zM215.6 789.7l6.8-3.5l-2.2 5.8l-6.8 3.1zM236 784.7l6.8-3.1l-2.2 4.9l-6.8 3zM256.4 779.8l9.1-3.9l-2.3 4.4l-9 3.7zM276.8 774.9l9.1-3.7l-2.3 3.9l-9 3.5z" fill="#2b91ef" stroke="#2b91ef" stroke-width=".3"/>
<path d="M181.6 795.2l2.3-1.5l-2.3 8.7l-2.2 1.3zM202 790.8l4.5-2.6l-2.2 7.2l-4.5 2.3zM222.4 786.2l6.8-3.4l-2.2 6.1l-6.8 3.1zM242.8 781.6l6.8-3.2l-2.2 5.2l-6.8 2.9zM265.5 775.9l6.8-2.9l-2.3 4.6l-6.8 2.7zM285.9 771.2l6.7-2.7l-2.2 4l-6.8 2.6z" fill="#2797eb" stroke="#2797eb" stroke-width=".3"/>
<path d="M183.9 793.7l4.5-3l-2.2 9.1l-4.6 2.6zM206.5 788.2l4.6-2.5l-2.3 7.4l-4.5 2.3zM229.2 782.8l6.8-3.4l-2.2 6.3l-6.8 3.2zM249.6 778.4l9.1-4.1l-2.3 5.5l-9 3.8zM272.3 773l9-3.9l-2.2 4.8l-9.1 3.7z" fill="#259be8" stroke="#259be8" stroke-width=".3"/>
<path d="M188.4 790.7l4.5-3l-2.2 9.5l-4.5 2.6zM211.1 785.7l6.8-3.9l-2.3 7.9l-6.8 3.4zM236 779.4l4.5-2.3l-2.2 6.6l-4.5 2zM258.7 774.3l6.7-3.2l-2.2 5.8l-6.8 2.9zM281.3 769.1l9.1-3.9l-2.3 5.1l-9 3.6z" fill="#23a0e5" stroke="#23a0e5" stroke-width=".3"/>
<path d="M170.3 792l2.2-1.9l-2.2 12.6l-2.3 1.5zM192.9 787.7l4.6-3l-2.3 10l-4.5 2.5zM217.9 781.8l4.5-2.6l-2.3 8.2l-4.5 2.3zM240.5 777.1l6.8-3.5l-2.2 6.9l-6.8 3.2zM265.4 771.1l6.8-3.1l-2.2 6l-6.8 2.9zM290.4 765.2l4.5-1.9l-2.3 5.2l-4.5 1.8z" fill="#20a5e3" stroke="#20a5e3" stroke-width=".3"/>
<path d="M172.5 790.1l2.3-1.8l-2.2 12.9l-2.3 1.5zM197.5 784.7l4.5-2.9l-2.2 10.3l-4.6 2.6zM222.4 779.2l4.5-2.5l-2.2 8.4l-4.6 2.3zM247.3 773.6l6.8-3.4l-2.2 7.2l-6.8 3.1zM272.2 768l6.8-3.1l-2.2 6.2l-6.8 2.9z" fill="#1ca9df" stroke="#1ca9df" stroke-width=".3"/>
<path d="M174.8 788.3l4.5-3.7l-2.2 13.6l-4.5 3zM202 781.8l4.5-3l-2.2 10.7l-4.5 2.6zM226.9 776.7l6.8-3.9l-2.2 8.8l-6.8 3.5zM254.1 770.2l6.8-3.4l-2.2 7.5l-6.8 3.1zM279 764.9l9.1-4.2l-2.3 6.5l-9 3.9z" fill="#18addb" stroke="#18addb" stroke-width=".3"/>
<path d="M179.3 784.6l2.3-1.9l-2.2 14l-2.3 1.5zM206.5 778.8l2.3-1.5l-2.3 10.9l-2.2 1.3zM233.7 772.8l4.5-2.6l-2.2 9.2l-4.5 2.2zM260.9 766.8l4.5-2.3l-2.2 7.7l-4.5 2.1zM288.1 760.7l6.8-3.1l-2.3 6.7l-6.8 2.9z" fill="#12b1d6" stroke="#12b1d6" stroke-width=".3"/>
<path d="M181.6 782.7l2.3-1.8l-2.3 14.3l-2.2 1.5zM208.8 777.3l4.5-3l-2.2 11.4l-4.6 2.5zM238.2 770.2l4.6-2.5l-2.3 9.4l-4.5 2.3zM265.4 764.5l6.8-3.5l-2.2 8l-6.8 3.2zM294.9 757.6l2.2-1.1l-2.2 6.8l-2.3 1z" fill="#08b5d0" stroke="#08b5d0" stroke-width=".3"/>
<path d="M183.9 780.9l4.5-3.7l-2.2 15l-4.6 3zM213.3 774.3l4.5-3l-2.2 11.8l-4.5 2.6zM242.8 767.7l4.5-2.6l-2.3 9.7l-4.5 2.3zM272.2 761l6.8-3.4l-2.2 8.3l-6.8 3.1z" fill="#01b8ca" stroke="#01b8ca" stroke-width=".3"/>
<path d="M188.4 777.2l2.3-1.9l-2.3 15.4l-2.2 1.5zM217.8 771.3l4.6-3l-2.3 12.2l-4.5 2.6zM247.3 765.1l6.8-3.9l-2.3 10.1l-6.8 3.5zM279 757.6l6.8-3.4l-2.3 8.6l-6.7 3.1z" fill="#02bac3" stroke="#02bac3" stroke-width=".3"/>
<path d="M190.7 775.3l2.2-1.8l-2.2 15.7l-2.3 1.5zM222.4 768.3l4.5-3l-2.2 12.6l-4.6 2.6zM254.1 761.2l4.5-2.5l-2.2 10.3l-4.6 2.3zM285.8 754.2l4.5-2.3l-2.2 8.8l-4.6 2.1z" fill="#0bbdbd" stroke="#0bbdbd" stroke-width=".3"/>
<path d="M192.9 773.5l4.5-3.7l-2.2 16.4l-4.5 3zM226.9 765.3l4.5-3l-2.2 13.1l-4.5 2.5zM258.6 758.7l4.5-2.6l-2.2 10.7l-4.5 2.2zM290.3 751.9l6.8-3.5l-2.2 9.2l-6.8 3.1z" fill="#19bfb6" stroke="#19bfb6" stroke-width=".3"/>
<path d="M197.4 769.8l2.3-1.9l-2.2 16.8l-2.3 1.5zM231.4 762.3l2.3-1.5l-2.3 13.3l-2.2 1.3zM263.1 756.1l6.8-3.9l-2.2 11.1l-6.8 3.5zM297.1 748.4l2.3-1.1l-2.3 9.2l-2.2 1.1z" fill="#24c1ae" stroke="#24c1ae" stroke-width=".3"/>
<path d="M199.7 767.9l4.5-3.7l-2.2 17.6l-4.5 2.9zM233.7 760.8l4.5-3l-2.2 13.7l-4.6 2.6zM269.9 752.2l4.5-2.5l-2.2 11.3l-4.5 2.3z" fill="#2cc4a7" stroke="#2cc4a7" stroke-width=".3"/>
<path d="M204.2 764.2l2.3-1.8l-2.2 17.9l-2.3 1.5zM238.2 757.8l4.5-3l-2.2 14.1l-4.5 2.6zM274.4 749.7l4.6-2.6l-2.3 11.6l-4.5 2.3z" fill="#31c69f" stroke="#31c69f" stroke-width=".3"/>
<path d="M206.5 762.4l2.3-1.9l-2.3 18.3l-2.2 1.5zM242.7 754.8l4.6-3l-2.3 14.6l-4.5 2.5zM279 747.1l6.8-3.9l-2.3 12.1l-6.8 3.4z" fill="#37c897" stroke="#37c897" stroke-width=".3"/>
<path d="M172.5 767.1l2.3-2.6l-2.3 25.6l-2.2 1.9zM208.8 760.5l4.5-3.7l-2.3 19l-4.5 3zM247.3 751.8l4.5-3l-2.3 15l-4.5 2.6zM285.8 743.2l4.5-2.6l-2.3 12.4l-4.5 2.3z" fill="#3fca8e" stroke="#3fca8e" stroke-width=".3"/>
<path d="M174.8 764.5l2.2-2.5l-2.2 26.3l-2.3 1.8zM213.3 756.8l2.2-1.8l-2.2 19.3l-2.3 1.5zM251.8 748.8l4.5-3l-2.2 15.4l-4.6 2.6zM290.3 740.6l4.5-2.5l-2.2 12.6l-4.6 2.3z" fill="#4acb84" stroke="#4acb84" stroke-width=".3"/>
<path d="M215.5 755l2.3-1.9l-2.2 19.7l-2.3 1.5zM256.3 745.8l2.3-1.5l-2.3 15.6l-2.2 1.3zM294.8 738.1l4.5-2.6l-2.2 12.9l-4.5 2.3z" fill="#57cc7a" stroke="#57cc7a" stroke-width=".3"/>
<path d="M177 762l2.3-2.6l-2.2 27l-2.3 1.9zM217.8 753.1l4.5-3.7l-2.2 20.4l-4.5 3zM258.6 744.3l4.5-3l-2.2 16.1l-4.6 2.5zM299.3 735.5l2.3-1.3l-2.2 13.1l-2.3 1.1z" fill="#64cd6f" stroke="#64cd6f" stroke-width=".3"/>
<path d="M179.3 759.4l2.3-2.6l-2.3 27.8l-2.2 1.8zM222.3 749.4l2.3-1.8l-2.2 20.7l-2.3 1.5zM263.1 741.3l4.5-3l-2.2 16.5l-4.5 2.6z" fill="#72cd64" stroke="#72cd64" stroke-width=".3"/>
<path d="M181.6 756.8l2.2-2.5l-2.2 28.4l-2.3 1.9zM224.6 747.6l4.5-3.7l-2.2 21.4l-4.5 3zM267.6 738.3l4.6-3l-2.3 16.9l-4.5 2.6z" fill="#81cc59" stroke="#81cc59" stroke-width=".3"/>
<path d="M183.8 754.3l2.3-2.6l-2.2 29.2l-2.3 1.8zM229.1 743.9l2.3-1.9l-2.2 21.8l-2.3 1.5zM272.2 735.3l4.5-3l-2.3 17.4l-4.5 2.5z" fill="#8fcb4e" stroke="#8fcb4e" stroke-width=".3"/>
<path d="M186.1 751.7l2.3-2.5l-2.3 29.8l-2.2 1.9zM231.4 742l2.3-1.8l-2.3 22.1l-2.2 1.5zM276.7 732.3l4.5-3l-2.2 17.8l-4.6 2.6z" fill="#9dc943" stroke="#9dc943" stroke-width=".3"/>
<path d="M188.4 749.2l2.2-2.6l-2.2 30.6l-2.3 1.8zM233.7 740.2l4.5-3.7l-2.3 22.8l-4.5 3zM281.2 729.3l2.3-1.4l-2.3 17.9l-2.2 1.3z" fill="#abc739" stroke="#abc739" stroke-width=".3"/>
<path d="M190.6 746.6l2.3-2.5l-2.2 31.2l-2.3 1.9zM238.2 736.5l2.2-1.9l-2.2 23.2l-2.3 1.5zM283.5 727.9l4.5-3l-2.2 18.3l-4.6 2.6z" fill="#b9c431" stroke="#b9c431" stroke-width=".3"/>
<path d="M192.9 744.1l2.3-2.6l-2.3 32l-2.2 1.8zM240.4 734.6l2.3-1.8l-2.2 23.5l-2.3 1.5zM288 724.9l4.5-3l-2.2 18.7l-4.5 2.6z" fill="#c5c22a" stroke="#c5c22a" stroke-width=".3"/>
<path d="M195.2 741.5l2.2-2.5l-2.2 32.6l-2.3 1.9zM242.7 732.8l4.5-3.7l-2.2 24.2l-4.5 3zM292.5 721.9l4.6-3l-2.3 19.2l-4.5 2.5z" fill="#d1bf27" stroke="#d1bf27" stroke-width=".3"/>
<path d="M197.4 739l2.3-2.6l-2.3 33.4l-2.2 1.8zM247.2 729.1l2.3-1.9l-2.2 24.6l-2.3 1.5zM297.1 718.9l4.5-3l-2.3 19.6l-4.5 2.6z" fill="#dcbd29" stroke="#dcbd29" stroke-width=".3"/>
<path d="M199.7 736.4l2.2-2.5l-2.2 34l-2.3 1.9zM249.5 727.2l4.5-3.7l-2.2 25.3l-4.5 3zM301.6 715.9l2.2-1.5l-2.2 19.8l-2.3 1.3z" fill="#e6bb2d" stroke="#e6bb2d" stroke-width=".3"/>
<path d="M254 723.5l2.3-1.8l-2.2 25.6l-2.3 1.5z" fill="#f0ba36" stroke="#f0ba36" stroke-width=".3"/>
<path d="M201.9 733.9l2.3-2.6l-2.2 34.8l-2.3 1.8zM256.3 721.7l2.3-1.9l-2.3 26l-2.2 1.5z" fill="#f8ba3d" stroke="#f8ba3d" stroke-width=".3"/>
<path d="M204.2 731.3l2.3-2.6l-2.3 35.5l-2.2 1.9zM258.6 719.8l4.5-3.7l-2.3 26.7l-4.5 3z" fill="#febe3c" stroke="#febe3c" stroke-width=".3"/>
<path d="M206.5 728.7l2.2-2.5l-2.2 36.2l-2.3 1.8zM263.1 716.1l2.2-1.8l-2.2 27l-2.3 1.5z" fill="#fec338" stroke="#fec338" stroke-width=".3"/>
<path d="M208.7 726.2l2.3-2.6l-2.2 36.9l-2.3 1.9zM265.3 714.3l2.3-1.9l-2.2 27.4l-2.3 1.5z" fill="#fec934" stroke="#fec934" stroke-width=".3"/>
<path d="M211 723.6l2.3-2.5l-2.3 37.6l-2.2 1.8zM267.6 712.4l4.5-3.7l-2.2 28.1l-4.5 3z" fill="#fccf30" stroke="#fccf30" stroke-width=".3"/>
<path d="M213.3 721.1l2.2-2.6l-2.2 38.3l-2.3 1.9zM272.1 708.7l2.3-1.8l-2.2 28.4l-2.3 1.5z" fill="#fad62d" stroke="#fad62d" stroke-width=".3"/>
<path d="M215.5 718.5l2.3-2.5l-2.3 39l-2.2 1.8zM274.4 706.9l4.5-3.7l-2.2 29.1l-4.5 3z" fill="#f7dc2a" stroke="#f7dc2a" stroke-width=".3"/>
<path d="M217.8 716l2.3-2.6l-2.3 39.7l-2.3 1.9zM278.9 703.2l2.3-1.9l-2.3 29.5l-2.2 1.5z" fill="#f5e327" stroke="#f5e327" stroke-width=".3"/>
<path d="M220.1 713.4l2.2-2.5l-2.2 40.4l-2.3 1.8zM281.2 701.3l2.2-1.8l-2.2 29.8l-2.3 1.5z" fill="#f5e924" stroke="#f5e924" stroke-width=".3"/>
<path d="M222.3 710.9l2.3-2.6l-2.3 41.1l-2.2 1.9zM283.4 699.5l4.6-3.7l-2.3 30.6l-4.5 2.9z" fill="#f6ef20" stroke="#f6ef20" stroke-width=".3"/>
<path d="M224.6 708.3l2.2-2.5l-2.2 41.8l-2.3 1.8zM288 695.8l2.2-1.9l-2.2 31l-2.3 1.5z" fill="#f7f51b" stroke="#f7f51b" stroke-width=".3"/>
<path d="M290.2 693.9l2.3-1.8l-2.2 31.3l-2.3 1.5z" fill="#f9fb15" stroke="#f9fb15" stroke-width=".3"/>
<path d="M172.5 767.1l54.3-61.3M170.3 792l122.2-99.9M168 804.2l135.8-89.8M165.8 811.4l135.8-77.2M163.6 816l135.8-68.7M161.3 819.2l135.8-62.7M159.1 821.4l135.8-58.1M156.8 823.1l135.8-54.6M154.6 824.3l135.8-51.8M152.4 825.2l135.8-49.4M150.1 825.9l9.1-3.1M161.4 822l124.5-43.6M147.9 826.5l11.3-3.9M166 820.3l117.7-39.8M145.7 826.8l15.8-5.2M186.4 813.5l95.1-31.2M143.4 827.1l18.1-5.8M190.9 811.9l88.3-28.1M141.2 827.3l20.3-6.4M188.7 812.5l2.3-0.7M200 809l2.3-0.7M209.1 806.2l67.9-21.2M138.9 827.4l24.9-7.6M206.8 806.7l2.3-0.7M215.9 804l2.3-0.7M222.7 801.9l52-15.8M136.7 827.4l27.2-8.1M220.4 802.5l2.3-0.7M227.2 800.4l11.3-3.3M240.8 796.4l31.7-9.5M134.5 827.4l29.4-8.6M231.8 798.9l2.2-0.6M238.6 796.9l2.2-0.6M245.4 795l2.2-0.7M252.2 793l2.2-0.7M256.7 791.6l4.5-1.3M263.5 789.7l6.8-2M132.2 827.4l34-9.8M254.4 792.2l2.3-0.7M261.2 790.2l6.8-1.9M130 827.3l36.2-10.3M263.5 789.4l2.3-0.6M127.7 827.1l38.5-10.7M125.5 827l40.7-11.2M123.3 826.8l43-11.7M121 826.6l47.6-12.8M118.8 826.4l49.8-13.3M116.5 826.2l52.1-13.8M114.3 825.9l54.3-14.2M112.1 825.6l56.6-14.6M109.8 825.3l58.9-15.1M107.6 825.1l61.1-15.6M105.4 824.8l65.6-16.6M103.1 824.4l67.9-17M100.9 824.1l70.1-17.5M98.6 823.8l72.5-18M96.4 823.5l74.7-18.4M94.2 823.1l76.9-18.8M91.9 822.8l79.2-19.3M89.7 822.4l81.5-19.7M87.4 822.1l83.8-20.2M85.2 821.7l86-20.6M83 821.3l88.2-21.1M80.7 821l90.6-21.6M78.5 820.6l92.8-22M76.2 820.2l97.4-23M74 819.8l99.6-23.4M71.8 819.4l101.8-23.8M69.5 819l104.1-24.3M67.3 818.7l106.4-24.8M65.1 818.3l108.6-25.2M62.8 817.9l110.9-25.7M60.6 817.5l113.1-26.1M58.3 817.1l115.5-26.5M56.1 816.7l117.7-27M53.9 816.3l119.9-27.4M51.6 815.8l122.2-27.8M49.4 815.4l124.5-28.2M47.1 815l126.8-28.7M44.9 814.6l126.7-28.6M172.5 767.1l-2.2 24.9l-2.3 12.2l-2.2 7.2l-2.2 4.6l-2.3 3.2l-2.2 2.2l-2.3 1.7l-2.2 1.2l-2.2 0.9l-2.3 0.7l-4.4 0.9l-6.8 0.6l-11.2-0.3l-82.8-12.5M174.8 764.5l-2.3 25.6l-2.2 12.6l-2.2 7.4l-2.3 4.7l-2.2 3.3l-2.2 2.4l-2.3 1.7l-2.2 1.3l-2.3 0.9l-2.2 0.7l-4.5 1l-4.5 0.5l-8.9 0.1l-20.2-1.7l-67.1-10.9M177 762l-2.2 26.3l-2.2 12.9l-2.3 7.6l-2.2 4.9l-2.2 3.4l-2.3 2.4l-2.2 1.8l-2.3 1.3l-2.2 1l-2.2 0.8l-4.5 1l-4.5 0.5l-9 0.2l-20.1-1.6l-67.2-10.9M179.3 759.4l-2.2 27l-2.3 13.3l-2.2 7.8l-2.2 5.1l-2.3 3.4l-2.2 2.5l-2.3 1.8l-2.2 1.4l-2.2 1.1l-2.3 0.8l-4.5 1l-4.4 0.6l-6.8 0.2l-13.4-0.6l-76.1-11.7M181.6 756.8l-2.3 27.8l-2.2 13.6l-2.2 8l-2.3 5.2l-2.2 3.6l-2.3 2.5l-2.2 1.9l-2.2 1.5l-2.3 1l-2.2 0.9l-4.5 1.1l-4.5 0.6l-6.7 0.3l-13.4-0.6l-76.1-11.6M183.8 754.3l-2.2 28.4l-2.2 14l-2.3 8.2l-2.2 5.4l-2.3 3.6l-2.2 2.7l-2.2 1.9l-2.3 1.5l-2.2 1.1l-2.3 0.9M159.2 822.6l-4.5 0.9l-6.7 0.6l-11.2-0.2l-80.6-11.8M186.1 751.7l-2.2 29.2l-2.3 14.3l-2.2 8.5l-2.3 5.4l-2.2 3.8l-2.2 2.7l-2.3 2l-2.2 1.5l-2.2 1.2l-2.3 0.9M159.2 822.4l-4.4 0.7l-6.8 0.3l-13.4-0.4l-76.1-11.5M188.4 749.2l-2.3 29.8l-2.2 14.7l-2.3 8.7l-2.2 5.6l-2.2 3.8l-2.3 2.8l-2.2 2.1l-2.2 1.6l-2.3 1.2l-2.2 0.9M161.5 821.6l-4.5 0.8l-6.7 0.4l-13.4-0.5l-76.2-11.3M190.6 746.6l-2.2 30.6l-2.2 15l-2.3 8.9l-2.2 5.7l-2.3 4l-2.2 2.9l-2.2 2.1l-2.3 1.6l-2.2 1.2l-2.3 1l-2.2 0.7M161.5 821.3l-4.5 0.6l-8.9 0.2l-17.9-1.2l-67.2-10.4M192.9 744.1l-2.2 31.2l-2.3 15.4l-2.2 9.1l-2.3 5.9l-2.2 4.1l-2.2 2.9l-2.3 2.2l-2.2 1.6l-2.3 1.3l-2.2 1l-2.2 0.8M161.5 820.9l-6.7 0.6l-11.2-0.2l-49.2-6.3l-29.1-5M195.2 741.5l-2.3 32l-2.2 15.7l-2.3 9.3l-2.2 6l-2.2 4.2l-2.3 3l-2.2 2.3l-2.3 1.7l-2.2 1.3l-2.2 1l-2.3 0.8M161.6 820.5l-6.7 0.4l-13.5-0.5l-73.9-10.9M197.4 739l-2.2 32.6l-2.3 16.1l-2.2 9.5l-2.2 6.2l-2.3 4.3l-2.2 3.1l-2.3 2.3l-2.2 1.7l-2.2 1.4l-2.3 1l-2.2 0.8M163.8 819.8l-6.7 0.4l-13.4-0.4l-73.9-10.8M199.7 736.4l-2.3 33.4l-2.2 16.4l-2.2 9.7l-2.3 6.4l-2.2 4.3l-2.3 3.2l-2.2 2.4l-2.2 1.8l-2.3 1.3l-2.2 1.1l-2.2 0.9M163.9 819.3l-9 0.3l-20.1-1.5l-62.7-9.6M201.9 733.9l-2.2 34l-2.2 16.8l-2.3 10l-2.2 6.4l-2.2 4.5l-2.3 3.2l-2.2 2.5l-2.3 1.8l-2.2 1.4l-2.2 1.1l-2.3 0.9M163.9 818.8l-11.2 0l-31.4-3.2l-47-7.6M204.2 731.3l-2.2 34.8l-2.3 17.2l-2.2 10.1l-2.2 6.6l-2.3 4.5l-2.2 3.4l-2.3 2.4l-2.2 1.9l-2.2 1.5l-2.3 1.1l-2.2 0.9M163.9 818.2l-11.2-0.1l-42.5-5l-33.6-5.6M206.5 728.7l-2.3 35.5l-2.2 17.6l-2.2 10.3l-2.3 6.7l-2.2 4.7l-2.3 3.4l-2.2 2.5l-2.2 2l-2.3 1.5l-2.2 1.2l-2.3 0.9M166.2 817.6l-11.2-0.1l-38.1-4.3l-38-6.3M208.7 726.2l-2.2 36.2l-2.2 17.9l-2.3 10.5l-2.2 6.9l-2.3 4.8l-2.2 3.4l-2.2 2.6l-2.3 2l-2.2 1.6l-2.3 1.2l-2.2 0.9M166.2 817l-13.4-0.4l-71.7-10.2M211 723.6l-2.2 36.9l-2.3 18.3l-2.2 10.7l-2.3 7l-2.2 4.9l-2.2 3.6l-2.3 2.6l-2.2 2l-2.3 1.6l-2.2 1.3l-2.2 1M166.2 816.4l-15.7-0.7l-67.1-9.8M213.3 721.1l-2.3 37.6l-2.2 18.6l-2.3 10.9l-2.2 7.2l-2.2 5l-2.3 3.6l-2.2 2.7l-2.2 2.1l-2.3 1.6l-2.2 1.3l-2.3 1l-2.2 0.8M166.2 815.8l-20.1-1.3l-60.5-9.1M215.5 718.5l-2.2 38.3l-2.3 19l-2.2 11.1l-2.2 7.3l-2.3 5.1l-2.2 3.7l-2.2 2.8l-2.3 2.1l-2.2 1.7l-2.3 1.3l-2.2 1l-2.2 0.8M166.3 815.1l-22.4-1.7l-56-8.5M217.8 716l-2.3 39l-2.2 19.3l-2.2 11.4l-2.3 7.4l-2.2 5.2l-2.2 3.7l-2.3 2.9l-2.2 2.2l-2.3 1.7l-2.2 1.3l-2.2 1.1l-2.3 0.8M166.3 814.4l-26.9-2.4l-49.2-7.6M220.1 713.4l-2.3 39.7l-2.2 19.7l-2.3 11.6l-2.2 7.5l-2.2 5.3l-2.3 3.9l-2.2 2.9l-2.3 2.2l-2.2 1.7l-2.2 1.4l-2.3 1.1l-2.2 0.9M190.9 811.9l-2.2 0.6M168.6 813.8l-26.9-2.3l-49.3-7.6M222.3 710.9l-2.2 40.4l-2.3 20l-2.2 11.8l-2.2 7.7l-2.3 5.4l-2.2 3.9l-2.3 3l-2.2 2.2l-2.2 1.8l-2.3 1.4l-2.2 1.1l-2.3 0.9l-4.4 1.3M168.6 813.1l-31.4-3.1l-42.5-6.6M224.6 708.3l-2.3 41.1l-2.2 20.4l-2.2 12l-2.3 7.9l-2.2 5.4l-2.3 4l-2.2 3.1l-2.2 2.3l-2.3 1.8l-2.2 1.4l-2.3 1.2l-2.2 0.9l-2.2 0.7M168.6 812.4l-42.5-4.8l-29.1-4.7M226.8 705.8l-2.2 41.8l-2.2 20.7l-2.3 12.2l-2.2 8l-2.3 5.6l-2.2 4.1l-2.2 3l-2.3 2.4l-2.2 1.9l-2.2 1.4l-2.3 1.2l-2.2 0.9l-2.3 0.8M168.6 811.7l-69.4-9.4M226.9 745.7l-2.3 21.1l-2.2 12.4l-2.3 8.2l-2.2 5.7l-2.2 4.1l-2.3 3.1l-2.2 2.4l-2.2 1.9l-2.3 1.5l-2.2 1.2l-2.3 1l-2.2 0.8M168.7 811l-67.2-9.2M229.1 743.9l-2.2 21.4l-2.2 12.6l-2.3 8.3l-2.2 5.8l-2.3 4.2l-2.2 3.2l-2.2 2.5l-2.3 1.9l-2.2 1.5l-2.3 1.3l-2.2 0.9l-4.5 1.5M168.7 810.2l-65-8.9M231.4 742l-2.2 21.8l-2.3 12.9l-2.2 8.4l-2.3 5.9l-2.2 4.3l-2.2 3.2l-2.3 2.5l-2.2 2l-2.3 1.5l-2.2 1.3l-2.2 1l-4.5 1.5M168.7 809.5l-62.7-8.7M233.7 740.2l-2.3 22.1l-2.2 13.1l-2.3 8.5l-2.2 6l-2.2 4.4l-2.3 3.3l-2.2 2.6l-2.3 2l-2.2 1.6l-2.2 1.2l-2.3 1.1l-2.2 0.8M168.7 808.7l-60.4-8.4M235.9 738.3l-2.2 22.5l-2.3 13.3l-2.2 8.7l-2.2 6.1l-2.3 4.4l-2.2 3.4l-2.3 2.6l-2.2 2l-2.2 1.7l-2.3 1.3l-2.2 1l-2.2 0.9M171 808.2l-60.5-8.4M238.2 736.5l-2.3 22.8l-2.2 13.5l-2.2 8.8l-2.3 6.2l-2.2 4.6l-2.3 3.4l-2.2 2.6l-2.2 2.1l-2.3 1.7l-2.2 1.3l-2.2 1.1l-2.3 0.9M209.1 806.2l-2.3 0.5M171 807.4l-58.2-8.1M240.4 734.6l-2.2 23.2l-2.2 13.7l-2.3 9l-2.2 6.3l-2.2 4.6l-2.3 3.5l-2.2 2.7l-2.3 2.1l-2.2 1.7l-2.2 1.3l-2.3 1.1l-4.5 1.7l-2.2 0.5M171 806.6l-55.9-7.8M242.7 732.8l-2.2 23.5l-2.3 13.9l-2.2 9.2l-2.2 6.3l-2.3 4.7l-2.2 3.6l-2.3 2.7l-2.2 2.2l-2.2 1.7l-2.3 1.4l-2.2 1.1l-2.3 0.9l-2.2 0.8M171.1 805.8l-53.8-7.6M245 730.9l-2.3 23.9l-2.2 14.1l-2.2 9.3l-2.3 6.5l-2.2 4.8l-2.3 3.6l-2.2 2.7l-2.2 2.2l-2.3 1.8l-2.2 1.4l-2.3 1.2l-2.2 0.9l-2.2 0.7M171.1 805.1l-51.5-7.4M247.2 729.1l-2.2 24.2l-2.2 14.4l-2.3 9.4l-2.2 6.6l-2.3 4.8l-2.2 3.6l-2.2 2.9l-2.3 2.2l-2.2 1.8l-2.3 1.4l-2.2 1.2l-2.2 1l-4.5 1.4M171.1 804.3l-49.2-7.1M249.5 727.2l-2.2 24.6l-2.3 14.6l-2.2 9.5l-2.3 6.7l-2.2 4.9l-2.2 3.7l-2.3 2.9l-2.2 2.3l-2.3 1.8l-2.2 1.5l-2.2 1.2l-2.3 0.9l-4.4 1.5M171.1 803.5l-47-6.8M251.8 725.4l-2.3 24.9l-2.2 14.8l-2.3 9.7l-2.2 6.8l-2.2 4.9l-2.3 3.8l-2.2 3l-2.2 2.3l-2.3 1.8l-2.2 1.5l-2.3 1.2l-2.2 1l-2.2 0.8M171.2 802.7l-44.8-6.5M254 723.5l-2.2 25.3l-2.3 15l-2.2 9.8l-2.2 6.9l-2.3 5.1l-2.2 3.8l-2.2 3l-2.3 2.3l-2.2 1.9l-2.3 1.5l-2.2 1.3l-2.2 1l-2.3 0.8M222.7 801.9l-2.3 0.6M171.2 801.9l-42.6-6.2M256.3 721.7l-2.2 25.6l-2.3 15.2l-2.2 10l-2.3 7l-2.2 5.1l-2.2 3.9l-2.3 3l-2.2 2.4l-2.3 1.9l-2.2 1.6l-2.2 1.2l-2.3 1.1l-4.5 1.5l-2.2 0.6M171.2 801.1l-40.3-5.9M258.6 719.8l-2.3 26l-2.2 15.4l-2.3 10.1l-2.2 7.1l-2.2 5.2l-2.3 4l-2.2 3.1l-2.3 2.4l-2.2 1.9l-2.2 1.6l-2.3 1.3l-2.2 1.1l-4.5 1.5M171.2 800.2l-38-5.5M260.8 718l-2.2 26.3l-2.3 15.6l-2.2 10.3l-2.2 7.2l-2.3 5.3l-2.2 4l-2.3 3.1l-2.2 2.5l-2.2 1.9l-2.3 1.6l-2.2 1.4l-2.3 1l-4.4 1.6l-2.3 0.6M171.3 799.4l-35.9-5.2M263.1 716.1l-2.3 26.7l-2.2 15.9l-2.2 10.3l-2.3 7.3l-2.2 5.4l-2.3 4.1l-2.2 3.1l-2.2 2.5l-2.3 2.1l-2.2 1.6l-2.2 1.3l-2.3 1.1l-4.5 1.7l-2.2 0.6M171.3 798.6l-33.6-5M265.3 714.3l-2.2 27l-2.2 16.1l-2.3 10.5l-2.2 7.4l-2.3 5.4l-2.2 4.2l-2.2 3.2l-2.3 2.5l-2.2 2.1l-2.2 1.6l-2.3 1.4l-2.2 1.1l-4.5 1.7l-2.2 0.6M171.3 797.8l-31.3-4.7M267.6 712.4l-2.2 27.4l-2.3 16.3l-2.2 10.7l-2.2 7.5l-2.3 5.5l-2.2 4.2l-2.3 3.2l-2.2 2.6l-2.2 2.1l-2.3 1.7l-2.2 1.3l-2.3 1.2l-4.4 1.7l-4.5 1.1M173.6 797.2l-31.4-4.6M269.9 710.6l-2.3 27.7l-2.2 16.5l-2.2 10.8l-2.3 7.6l-2.2 5.6l-2.3 4.2l-2.2 3.3l-2.2 2.7l-2.3 2.1l-2.2 1.7l-2.3 1.4l-2.2 1.1l-4.5 1.8l-4.5 1.2M173.6 796.4l-29.1-4.3M272.1 708.7l-2.2 28.1l-2.2 16.7l-2.3 11l-2.2 7.7l-2.3 5.6l-2.2 4.3l-2.2 3.4l-2.3 2.6l-2.2 2.2l-2.3 1.7l-2.2 1.4l-2.2 1.2l-4.5 1.8l-2.3 0.7M173.6 795.6l-26.8-4M274.4 706.9l-2.2 28.4l-2.3 16.9l-2.2 11.1l-2.3 7.8l-2.2 5.8l-2.2 4.3l-2.3 3.4l-2.2 2.7l-2.3 2.2l-2.2 1.8l-2.2 1.4l-2.3 1.2l-4.4 1.8M240.8 796.4l-2.2 0.5M173.6 794.7l-24.6-3.6M276.7 705l-2.3 28.8l-2.2 17.1l-2.3 11.3l-2.2 7.9l-2.2 5.8l-2.3 4.4l-2.2 3.5l-2.3 2.7l-2.2 2.2l-2.2 1.8l-2.3 1.5l-2.2 1.2l-4.5 1.8l-4.5 1.3M173.7 793.9l-22.4-3.3M278.9 703.2l-2.2 29.1l-2.3 17.4l-2.2 11.3l-2.2 8l-2.3 5.9l-2.2 4.5l-2.2 3.5l-2.3 2.8l-2.2 2.2l-2.3 1.8l-2.2 1.5l-2.2 1.3l-2.3 1l-4.5 1.5M173.7 793.1l-20.2-3M281.2 701.3l-2.3 29.5l-2.2 17.6l-2.2 11.5l-2.3 8.1l-2.2 6l-2.2 4.5l-2.3 3.5l-2.2 2.8l-2.3 2.3l-2.2 1.9l-2.2 1.5l-2.3 1.2l-2.2 1.1l-4.5 1.6l-2.2 0.6M173.7 792.2l-17.9-2.7M283.4 699.5l-2.2 29.8l-2.2 17.8l-2.3 11.6l-2.2 8.3l-2.2 6l-2.3 4.6l-2.2 3.6l-2.3 2.8l-2.2 2.3l-2.2 1.9l-2.3 1.5l-2.2 1.3l-2.3 1.1l-4.4 1.6l-2.3 0.6M173.7 791.4l-15.6-2.4M285.7 697.6l-2.2 30.3l-2.3 17.9l-2.2 11.8l-2.2 8.3l-2.3 6.1l-2.2 4.7l-2.3 3.6l-2.2 2.9l-2.2 2.3l-2.3 1.9l-2.2 1.6l-2.3 1.3l-2.2 1.1l-4.5 1.6M173.8 790.6l-13.5-2.1M288 695.8l-2.3 30.6l-2.2 18.1l-2.2 12l-2.3 8.4l-2.2 6.2l-2.3 4.7l-2.2 3.6l-2.2 3l-2.3 2.3l-2.2 2l-2.3 1.6l-2.2 1.3l-2.2 1.1l-4.5 1.6l-2.2 0.7M173.8 789.7l-11.2-1.7M290.2 693.9l-2.2 31l-2.2 18.3l-2.3 12.1l-2.2 8.5l-2.3 6.3l-2.2 4.8l-2.2 3.7l-2.3 2.9l-2.2 2.4l-2.3 2l-2.2 1.6l-2.2 1.3l-2.3 1.2l-4.4 1.7l-2.3 0.6M173.8 788.9l-8.9-1.4M292.5 692.1l-2.2 31.3l-2.3 18.5l-2.2 12.3l-2.3 8.6l-2.2 6.3l-2.2 4.8l-2.3 3.8l-2.2 3l-2.2 2.4l-2.3 2l-2.2 1.7l-2.3 1.3l-2.2 1.2l-4.5 1.7M256.7 791.6l-2.3 0.6M173.8 788l-6.7-1M292.5 721.9l-2.2 18.7l-2.3 12.4l-2.2 8.7l-2.2 6.4l-2.3 4.9l-2.2 3.9l-2.2 3l-2.3 2.5l-2.2 2l-2.3 1.6l-2.2 1.4l-2.2 1.2l-4.5 1.7l-4.5 1.2M173.9 787.2l-4.5-0.7M294.8 720.4l-2.2 19l-2.3 12.5l-2.2 8.8l-2.3 6.5l-2.2 4.9l-2.2 3.9l-2.3 3.1l-2.2 2.5l-2.3 2l-2.2 1.7l-2.2 1.4l-2.3 1.1l-4.5 1.8l-2.2 0.7M173.9 786.3l-2.3-0.3M297.1 718.9l-2.3 19.2l-2.2 12.6l-2.3 8.9l-2.2 6.6l-2.2 5l-2.3 3.9l-2.2 3.1l-2.3 2.6l-2.2 2l-2.2 1.7l-2.3 1.5l-2.2 1.1l-4.5 1.9M263.5 789.7l-2.3 0.5M299.3 717.4l-2.2 19.4l-2.3 12.8l-2.2 9l-2.2 6.6l-2.3 5.1l-2.2 4l-2.3 3.1l-2.2 2.6l-2.2 2.1l-2.3 1.7l-2.2 1.4l-2.3 1.2l-4.4 1.9l-4.5 1.3M301.6 715.9l-2.3 19.6l-2.2 12.9l-2.2 9.2l-2.3 6.7l-2.2 5.1l-2.3 4l-2.2 3.2l-2.2 2.6l-2.3 2.1l-2.2 1.8l-2.2 1.4l-2.3 1.2l-4.5 1.9l-4.4 1.3l-2.3 0.5M303.8 714.4l-2.2 19.8l-2.2 13.1l-2.3 9.2l-2.2 6.8l-2.3 5.2l-2.2 4l-2.2 3.3l-2.3 2.6l-2.2 2.1l-2.2 1.8l-2.3 1.5l-2.2 1.2l-4.5 1.9l-4.5 1.4l-2.2 0.5" stroke="#000" stroke-width="0.8" fill="none" stroke-opacity="1.0" stroke-linejoin="round"/>
<text x="37.5" y="824.7" font-size="8.2" text-anchor="end">0</text>
<text x="37.5" y="805" font-size="8.2" text-anchor="end">500</text>
<text x="37.5" y="785.2" font-size="8.2" text-anchor="end">1000</text>
<text x="37.5" y="765.5" font-size="8.2" text-anchor="end">1500</text>
<text x="37.5" y="745.7" font-size="8.2" text-anchor="end">2000</text>
<text x="37.5" y="726" font-size="8.2" text-anchor="end">2500</text>
<text x="37.5" y="706.3" font-size="8.2" text-anchor="end">3000</text>
<text x="37.5" y="686.5" font-size="8.2" text-anchor="end">3500</text>
<text x="37.5" y="666.8" font-size="8.2" text-anchor="end">4000</text>
<text x="34.5" y="832" font-size="8.2" text-anchor="middle">1</text>
<text x="57.4" y="837.8" font-size="8.2" text-anchor="middle">0.8</text>
<text x="83.5" y="843" font-size="8.2" text-anchor="middle">0.6</text>
<text x="109.5" y="848.3" font-size="8.2" text-anchor="middle">0.4</text>
<text x="135.6" y="853.5" font-size="8.2" text-anchor="middle">0.2</text>
<text x="166" y="858.2" font-size="8.2" text-anchor="middle">0</text>
<text x="185.4" y="858.1" font-size="8.2" text-anchor="middle">0</text>
<text x="215.6" y="853.6" font-size="8.2" text-anchor="middle">0.2</text>
<text x="242.8" y="847.7" font-size="8.2" text-anchor="middle">0.4</text>
<text x="269.5" y="842.9" font-size="8.2" text-anchor="middle">0.6</text>
<text x="296.8" y="837.6" font-size="8.2" text-anchor="middle">0.8</text>
<text x="319.8" y="832.8" font-size="8.2" text-anchor="middle">1</text>
<text transform="translate(10.5 748.3) rotate(-90)" font-size="9.8" fill="#3c3c3c">R<tspan font-size="6.8" dy="4.2">0</tspan></text>
<text x="112.1" y="863.8" font-size="9" fill="#5a5a5a" style="stroke:#5a5a5a;stroke-width:.12px"><tspan font-family="Liberation Serif" font-style="italic">&#956;</tspan><tspan font-size="6.8" dy="3.6" fill="#3c3c3c"></tspan></text>
<text x="234.6" y="864.8" font-size="9" fill="#5a5a5a" style="stroke:#5a5a5a;stroke-width:.12px"><tspan font-family="Liberation Serif" font-style="italic">&#948;</tspan><tspan font-size="6.8" dy="3.6" fill="#3c3c3c">1</tspan></text>
<text x="176.95" y="635.4" font-size="9.5" font-weight="bold" text-anchor="middle" fill="#141414" style="stroke:#141414;stroke-width:.15px" textLength="163.5" lengthAdjust="spacing">(13617 ((2 u)/5 + (2 y)/5 + 6/25))/(50 y)</text>
<path d="M516.5 847.7l147.5-38.8M452.1 825.8l147.4-38.8M387.8 803.9l147.5-38.8M516.5 847.7l-128.7-43.8M546 839.9l-128.7-43.8M575.5 832.2l-128.7-43.8M605 824.4l-128.7-43.8M634.5 816.7l-128.7-43.8M664 808.9l-128.7-43.8M387.8 803.9l0-134.6M417.3 796.1l0-134.6M446.8 788.4l0-134.7M476.3 780.6l0-134.6M505.8 772.9l0-134.7M535.3 765.1l0-134.6M387.8 803.9l147.5-38.8M387.8 762.7l147.5-38.8M387.8 721.5l147.5-38.8M387.8 680.3l147.5-38.8M664 808.9l0-134.6M599.6 787l0-134.6M535.3 765.1l0-134.6M664 808.9l-128.7-43.8M664 767.7l-128.7-43.8M664 726.5l-128.7-43.8M664 685.3l-128.7-43.8" stroke="#dcdcdc" stroke-width=".6" fill="none"/>
<path d="M387.5 803.9l0-134.6M387.5 803.9l-4.3-1.5M387.5 762.7l-4.3-1.5M387.5 721.5l-4.3-1.4M387.5 680.3l-4.3-1.5M516.5 847.7l-128.7-43.8M516.5 847.7l-3.9 1M452.1 825.8l-4 1M387.8 803.9l-3.9 1M516.5 847.7l147.5-38.8M516.5 847.7l3.8 1.3M546 839.9l3.8 1.3M575.5 832.2l3.8 1.3M605 824.4l3.8 1.3M634.5 816.7l3.8 1.3M664 808.9l3.8 1.3" stroke="#4d4d4d" stroke-width="0.8" fill="none"/>
<path d="M516.5 847.7l-5.1-5.4l5.9-3.3l5.1 5.3z" fill="#3e26a8" stroke="#3e26a8" stroke-width=".3"/>
<path d="M522.4 844.3l-5.1-5.3l5.9-3.3l5.1 5.3z" fill="#402ab4" stroke="#402ab4" stroke-width=".3"/>
<path d="M528.3 841l-5.1-5.3l5.9-3.4l5.1 5.3zM511.4 842.3l-5.2-5.3l5.9-3.3l5.2 5.3z" fill="#422ec0" stroke="#422ec0" stroke-width=".3"/>
<path d="M534.2 837.6l-5.1-5.3l5.9-3.3l5.1 5.3zM517.3 839l-5.2-5.3l5.9-3.4l5.2 5.4z" fill="#4332cb" stroke="#4332cb" stroke-width=".3"/>
<path d="M540.1 834.3l-5.1-5.3l5.9-3.4l5.1 5.4zM523.2 835.7l-5.2-5.4l5.9-3.3l5.2 5.3zM506.2 837l-5.1-5.3l5.9-3.4l5.1 5.4z" fill="#4537d5" stroke="#4537d5" stroke-width=".3"/>
<path d="M546 831l-5.1-5.4l5.9-3.3l5.1 5.3zM551.9 827.6l-5.1-5.3l5.9-3.4l5.1 5.4zM529.1 832.3l-5.2-5.3l5.9-3.4l5.2 5.4zM535 829l-5.2-5.4l5.9-3.3l5.2 5.3zM512.1 833.7l-5.1-5.4l5.9-3.3l5.1 5.3zM518 830.3l-5.1-5.3l5.9-3.4l5.1 5.4zM501.1 831.7l-5.2-5.4l5.9-3.3l5.2 5.3z" fill="#463cde" stroke="#463cde" stroke-width=".3"/>
<path d="M557.8 824.3l-5.1-5.4l5.9-3.3l5.1 5.3zM540.9 825.6l-5.2-5.3l5.9-3.4l5.2 5.4zM523.9 827l-5.1-5.4l5.9-3.3l5.1 5.3zM507 828.3l-5.2-5.3l5.9-3.4l5.2 5.4z" fill="#4741e5" stroke="#4741e5" stroke-width=".3"/>
<path d="M563.7 820.9l-5.1-5.3l5.9-3.4l5.1 5.4zM546.8 822.3l-5.2-5.4l5.9-3.3l5.2 5.3zM529.8 823.6l-5.1-5.3l5.9-3.4l5.1 5.4zM512.9 825l-5.2-5.4l5.9-3.3l5.2 5.3zM495.9 826.3l-5.1-5.3l5.9-3.4l5.1 5.4z" fill="#4747eb" stroke="#4747eb" stroke-width=".3"/>
<path d="M569.6 817.6l-5.1-5.4l5.9-3.3l5.1 5.3zM552.7 818.9l-5.2-5.3l5.9-3.4l5.2 5.4zM535.7 820.3l-5.1-5.4l5.9-3.3l5.1 5.3zM518.8 821.6l-5.2-5.3l5.9-3.4l5.2 5.4zM501.8 823l-5.1-5.4l5.9-3.3l5.1 5.3z" fill="#484df0" stroke="#484df0" stroke-width=".3"/>
<path d="M575.5 814.2l-5.1-5.3l5.9-3.4l5.1 5.4zM558.6 815.6l-5.2-5.4l5.9-3.3l5.2 5.3zM541.6 816.9l-5.1-5.3l5.9-3.4l5.1 5.4zM524.7 818.3l-5.2-5.4l5.9-3.3l5.2 5.3zM507.7 819.6l-5.1-5.3l5.9-3.4l5.1 5.4zM490.8 821l-5.2-5.4l5.9-3.3l5.2 5.3z" fill="#4852f4" stroke="#4852f4" stroke-width=".3"/>
<path d="M581.4 810.9l-5.1-5.4l5.9-3.3l5.1 5.3zM587.3 807.5l-5.1-5.3l5.9-3.4l5.1 5.4zM564.5 812.2l-5.2-5.3l5.9-3.4l5.2 5.4zM570.4 808.9l-5.2-5.4l5.9-3.3l5.2 5.3zM547.5 813.6l-5.1-5.4l5.9-3.3l5.1 5.3zM553.4 810.2l-5.1-5.3l5.9-3.4l5.1 5.4zM530.6 814.9l-5.2-5.3l5.9-3.4l5.2 5.4zM536.5 811.6l-5.2-5.4l5.9-3.3l5.2 5.3zM513.6 816.3l-5.1-5.4l5.9-3.3l5.1 5.3zM519.5 812.9l-5.1-5.3l5.9-3.4l5.1 5.4zM496.7 817.6l-5.2-5.3l5.9-3.4l5.2 5.4zM502.6 814.3l-5.2-5.4l5.9-3.3l5.2 5.3zM485.6 815.6l-5.1-5.3l5.9-3.4l5.1 5.4z" fill="#4758f8" stroke="#4758f8" stroke-width=".3"/>
<path d="M593.2 804.2l-5.1-5.4l5.9-3.3l5.1 5.3zM576.3 805.5l-5.2-5.3l5.9-3.4l5.2 5.4zM559.3 806.9l-5.1-5.4l5.9-3.3l5.1 5.3zM542.4 808.2l-5.2-5.3l5.9-3.4l5.2 5.4zM525.4 809.6l-5.1-5.4l5.9-3.3l5.1 5.3zM508.5 810.9l-5.2-5.3l5.9-3.4l5.2 5.4zM491.5 812.3l-5.1-5.4l5.9-3.3l5.1 5.3z" fill="#465efb" stroke="#465efb" stroke-width=".3"/>
<path d="M599.1 800.8l-5.1-5.3l5.9-3.4l5.1 5.4zM582.2 802.2l-5.2-5.4l5.9-3.3l5.2 5.3zM565.2 803.5l-5.1-5.3l5.9-3.4l5.1 5.4zM548.3 804.9l-5.2-5.4l5.9-3.3l5.2 5.3zM531.3 806.2l-5.1-5.3l5.9-3.4l5.1 5.4zM514.4 807.6l-5.2-5.4l5.9-3.3l5.2 5.3zM497.4 808.9l-5.1-5.3l5.9-3.3l5.1 5.3zM480.5 810.3l-5.2-5.3l5.9-3.4l5.2 5.3z" fill="#4563fd" stroke="#4563fd" stroke-width=".3"/>
<path d="M605 797.5l-5.1-5.4l5.9-3.3l5.1 5.3zM588.1 798.8l-5.2-5.3l5.9-3.4l5.2 5.4zM571.1 800.2l-5.1-5.4l5.9-3.3l5.1 5.3zM554.2 801.5l-5.2-5.3l5.9-3.4l5.2 5.4zM537.2 802.9l-5.1-5.4l5.9-3.3l5.1 5.3zM520.3 804.2l-5.2-5.3l5.9-3.3l5.2 5.3zM503.3 805.6l-5.1-5.3l5.9-3.4l5.1 5.3zM486.4 806.9l-5.2-5.3l5.9-3.3l5.2 5.3z" fill="#4269fe" stroke="#4269fe" stroke-width=".3"/>
<path d="M610.9 794.1l-5.1-5.3l5.9-3.4l5.1 5.4zM594 795.5l-5.2-5.4l5.9-3.3l5.2 5.3zM577 796.8l-5.1-5.3l5.9-3.4l5.1 5.4zM560.1 798.2l-5.2-5.4l5.9-3.3l5.2 5.3zM543.1 799.5l-5.1-5.3l5.9-3.3l5.1 5.3zM526.2 800.9l-5.2-5.3l5.9-3.4l5.2 5.3zM509.2 802.2l-5.1-5.3l5.9-3.3l5.1 5.3zM492.3 803.6l-5.2-5.3l5.9-3.4l5.2 5.4zM475.3 805l-5.1-5.4l5.9-3.3l5.1 5.3z" fill="#3e6fff" stroke="#3e6fff" stroke-width=".3"/>
<path d="M616.8 790.8l-5.1-5.4l5.9-3.3l5.1 5.3zM599.9 792.1l-5.2-5.3l5.9-3.4l5.2 5.4zM582.9 793.5l-5.1-5.4l5.9-3.3l5.1 5.3zM566 794.8l-5.2-5.3l5.9-3.3l5.2 5.3zM549 796.2l-5.1-5.3l5.9-3.4l5.1 5.3zM532.1 797.5l-5.2-5.3l5.9-3.3l5.2 5.3zM515.1 798.9l-5.1-5.3l5.9-3.4l5.1 5.4zM498.2 800.3l-5.2-5.4l5.9-3.3l5.2 5.3zM481.2 801.6l-5.1-5.3l5.9-3.4l5.1 5.4z" fill="#3875fe" stroke="#3875fe" stroke-width=".3"/>
<path d="M622.7 787.4l-5.1-5.3l5.9-3.3l5.1 5.3zM628.6 784.1l-5.1-5.3l5.9-3.4l5.1 5.3zM605.8 788.8l-5.2-5.4l5.9-3.3l5.2 5.3zM611.7 785.4l-5.2-5.3l5.9-3.3l5.2 5.3zM588.8 790.1l-5.1-5.3l5.9-3.3l5.1 5.3zM594.7 786.8l-5.1-5.3l5.9-3.4l5.1 5.3zM571.9 791.5l-5.2-5.3l5.9-3.4l5.2 5.3zM577.8 788.1l-5.2-5.3l5.9-3.3l5.2 5.3zM554.9 792.8l-5.1-5.3l5.9-3.3l5.1 5.3zM560.8 789.5l-5.1-5.3l5.9-3.4l5.1 5.4zM538 794.2l-5.2-5.3l5.9-3.4l5.2 5.4zM543.9 790.9l-5.2-5.4l5.9-3.3l5.2 5.3zM521 795.6l-5.1-5.4l5.9-3.3l5.1 5.3zM526.9 792.2l-5.1-5.3l5.9-3.4l5.1 5.4zM504.1 796.9l-5.2-5.3l5.9-3.4l5.2 5.4zM510 793.6l-5.2-5.4l5.9-3.3l5.2 5.3zM487.1 798.3l-5.1-5.4l5.9-3.3l5.1 5.3zM493 794.9l-5.1-5.3l5.9-3.4l5.1 5.4zM470.2 799.6l-5.2-5.3l5.9-3.4l5.2 5.4zM476.1 796.3l-5.2-5.4l5.9-3.3l5.2 5.3z" fill="#327cfc" stroke="#327cfc" stroke-width=".3"/>
<path d="M634.5 780.7l-5.1-5.3l5.9-3.3l5.1 5.3zM617.6 782.1l-5.2-5.3l5.9-3.4l5.2 5.4zM600.6 783.4l-5.1-5.3l5.9-3.3l5.1 5.3zM583.7 784.8l-5.2-5.3l5.9-3.4l5.2 5.4zM566.7 786.2l-5.1-5.4l5.9-3.3l5.1 5.3zM549.8 787.5l-5.2-5.3l5.9-3.4l5.2 5.4zM532.8 788.9l-5.1-5.4l5.9-3.3l5.1 5.3zM515.9 790.2l-5.2-5.3l5.9-3.4l5.2 5.4zM498.9 791.6l-5.1-5.4l5.9-3.3l5.1 5.3zM482 792.9l-5.2-5.3l5.9-3.4l5.2 5.4zM465 794.3l-5.1-5.4l5.9-3.3l5.1 5.3z" fill="#2f81fa" stroke="#2f81fa" stroke-width=".3"/>
<path d="M640.4 777.4l-5.1-5.3l5.9-3.4l5.1 5.4zM623.5 778.8l-5.2-5.4l5.9-3.3l5.2 5.3zM606.5 780.1l-5.1-5.3l5.9-3.4l5.1 5.4zM589.6 781.5l-5.2-5.4l5.9-3.3l5.2 5.3zM572.6 782.8l-5.1-5.3l5.9-3.4l5.1 5.4zM555.7 784.2l-5.2-5.4l5.9-3.3l5.2 5.3zM538.7 785.5l-5.1-5.3l5.9-3.4l5.1 5.4zM521.8 786.9l-5.2-5.4l5.9-3.3l5.2 5.3zM504.8 788.2l-5.1-5.3l5.9-3.4l5.1 5.4zM487.9 789.6l-5.2-5.4l5.9-3.3l5.2 5.3zM470.9 790.9l-5.1-5.3l5.9-3.4l5.1 5.4z" fill="#2e87f7" stroke="#2e87f7" stroke-width=".3"/>
<path d="M646.3 774.1l-5.1-5.4l5.9-3.3l5.1 5.3zM629.4 775.4l-5.2-5.3l5.9-3.4l5.2 5.4zM612.4 776.8l-5.1-5.4l5.9-3.3l5.1 5.3zM595.5 778.1l-5.2-5.3l5.9-3.4l5.2 5.4zM578.5 779.5l-5.1-5.4l5.9-3.3l5.1 5.3zM561.6 780.8l-5.2-5.3l5.9-3.4l5.2 5.4zM544.6 782.2l-5.1-5.4l5.9-3.3l5.1 5.3zM527.7 783.5l-5.2-5.3l5.9-3.4l5.2 5.4zM510.7 784.9l-5.1-5.4l5.9-3.3l5.1 5.3zM493.8 786.2l-5.2-5.3l5.9-3.4l5.2 5.4zM476.8 787.6l-5.1-5.4l5.9-3.3l5.1 5.3zM459.9 788.9l-5.2-5.3l5.9-3.4l5.2 5.4z" fill="#2d8cf3" stroke="#2d8cf3" stroke-width=".3"/>
<path d="M652.2 770.7l-5.1-5.3l5.9-3.4l5.1 5.4zM635.3 772.1l-5.2-5.4l5.9-3.3l5.2 5.3zM618.3 773.4l-5.1-5.3l5.9-3.4l5.1 5.4zM601.4 774.8l-5.2-5.4l5.9-3.3l5.2 5.3zM584.4 776.1l-5.1-5.3l5.9-3.4l5.1 5.4zM567.5 777.5l-5.2-5.4l5.9-3.3l5.2 5.3zM550.5 778.8l-5.1-5.3l5.9-3.4l5.1 5.4zM533.6 780.2l-5.2-5.4l5.9-3.3l5.2 5.3zM516.6 781.5l-5.1-5.3l5.9-3.4l5.1 5.4zM499.7 782.9l-5.2-5.4l5.9-3.3l5.2 5.3zM482.7 784.2l-5.1-5.3l5.9-3.4l5.1 5.4zM465.8 785.6l-5.2-5.4l5.9-3.3l5.2 5.3z" fill="#2b91ef" stroke="#2b91ef" stroke-width=".3"/>
<path d="M658.1 767.4l-5.1-5.4l5.9-3.3l5.1 5.3zM641.2 768.7l-5.2-5.3l5.9-3.4l5.2 5.4zM624.2 770.1l-5.1-5.4l5.9-3.3l5.1 5.3zM607.3 771.4l-5.2-5.3l5.9-3.4l5.2 5.4zM590.3 772.8l-5.1-5.4l5.9-3.3l5.1 5.3zM573.4 774.1l-5.2-5.3l5.9-3.4l5.2 5.4zM556.4 775.5l-5.1-5.4l5.9-3.3l5.1 5.3zM539.5 776.8l-5.2-5.3l5.9-3.4l5.2 5.4zM522.5 778.2l-5.1-5.4l5.9-3.3l5.1 5.3zM505.6 779.5l-5.2-5.3l5.9-3.4l5.2 5.4zM488.6 780.9l-5.1-5.4l5.9-3.3l5.1 5.3zM471.7 782.2l-5.2-5.3l5.9-3.4l5.2 5.4zM454.7 783.6l-5.1-5.4l5.9-3.3l5.1 5.3z" fill="#2797eb" stroke="#2797eb" stroke-width=".3"/>
<path d="M647.1 765.4l-5.2-5.4l5.9-3.3l5.2 5.3zM653 762l-5.2-5.3l5.9-3.4l5.2 5.4zM630.1 766.7l-5.1-5.3l5.9-3.4l5.1 5.4zM636 763.4l-5.1-5.4l5.9-3.3l5.1 5.3zM613.2 768.1l-5.2-5.4l5.9-3.3l5.2 5.3zM619.1 764.7l-5.2-5.3l5.9-3.4l5.2 5.4zM596.2 769.4l-5.1-5.3l5.9-3.4l5.1 5.4zM602.1 766.1l-5.1-5.4l5.9-3.3l5.1 5.3zM579.3 770.8l-5.2-5.4l5.9-3.3l5.2 5.3zM585.2 767.4l-5.2-5.3l5.9-3.4l5.2 5.4zM562.3 772.1l-5.1-5.3l5.9-3.4l5.1 5.4zM568.2 768.8l-5.1-5.4l5.9-3.3l5.1 5.3zM545.4 773.5l-5.2-5.4l5.9-3.3l5.2 5.3zM551.3 770.1l-5.2-5.3l5.9-3.4l5.2 5.4zM528.4 774.8l-5.1-5.3l5.9-3.4l5.1 5.4zM534.3 771.5l-5.1-5.4l5.9-3.3l5.1 5.3zM511.5 776.2l-5.2-5.4l5.9-3.3l5.2 5.3zM517.4 772.8l-5.2-5.3l5.9-3.4l5.2 5.4zM494.5 777.5l-5.1-5.3l5.9-3.4l5.1 5.4zM500.4 774.2l-5.1-5.4l5.9-3.3l5.1 5.3zM477.6 778.9l-5.2-5.4l5.9-3.3l5.2 5.3zM483.5 775.5l-5.2-5.3l5.9-3.4l5.2 5.4zM460.6 780.2l-5.1-5.3l5.9-3.4l5.1 5.4zM466.5 776.9l-5.1-5.4l5.9-3.3l5.1 5.3zM449.6 778.2l-5.2-5.3l5.9-3.4l5.2 5.4z" fill="#259be8" stroke="#259be8" stroke-width=".3"/>
<path d="M641.9 760l-5.1-5.3l5.9-3.4l5.1 5.4zM625 761.4l-5.2-5.4l5.9-3.3l5.2 5.3zM608 762.7l-5.1-5.3l5.9-3.4l5.1 5.4zM591.1 764.1l-5.2-5.4l5.9-3.3l5.2 5.3zM574.1 765.4l-5.1-5.3l5.9-3.4l5.1 5.4zM557.2 766.8l-5.2-5.4l5.9-3.3l5.2 5.3zM540.2 768.1l-5.1-5.3l5.9-3.4l5.1 5.4zM523.3 769.5l-5.2-5.4l5.9-3.3l5.2 5.3zM506.3 770.8l-5.1-5.3l5.9-3.4l5.1 5.4zM489.4 772.2l-5.2-5.4l5.9-3.3l5.2 5.3zM472.4 773.5l-5.1-5.3l5.9-3.4l5.1 5.4zM455.5 774.9l-5.2-5.4l5.9-3.3l5.2 5.3z" fill="#23a0e5" stroke="#23a0e5" stroke-width=".3"/>
<path d="M647.8 756.7l-5.1-5.4l5.9-3.3l5.1 5.3zM630.9 758l-5.2-5.3l5.9-3.4l5.2 5.4zM613.9 759.4l-5.1-5.4l5.9-3.3l5.1 5.3zM597 760.7l-5.2-5.3l5.9-3.4l5.2 5.4zM580 762.1l-5.1-5.4l5.9-3.3l5.1 5.3zM563.1 763.4l-5.2-5.3l5.9-3.4l5.2 5.4zM546.1 764.8l-5.1-5.4l5.9-3.3l5.1 5.3zM529.2 766.1l-5.2-5.3l5.9-3.4l5.2 5.4zM512.2 767.5l-5.1-5.4l5.9-3.3l5.1 5.3zM495.3 768.8l-5.2-5.3l5.9-3.4l5.2 5.4zM478.3 770.2l-5.1-5.4l5.9-3.3l5.1 5.3zM461.4 771.5l-5.2-5.3l5.9-3.3l5.2 5.3zM444.4 772.9l-5.1-5.3l5.9-3.4l5.1 5.3z" fill="#20a5e3" stroke="#20a5e3" stroke-width=".3"/>
<path d="M636.8 754.7l-5.2-5.4l5.9-3.3l5.2 5.3zM619.8 756l-5.1-5.3l5.9-3.4l5.1 5.4zM602.9 757.4l-5.2-5.4l5.9-3.3l5.2 5.3zM585.9 758.7l-5.1-5.3l5.9-3.4l5.1 5.4zM569 760.1l-5.2-5.4l5.9-3.3l5.2 5.3zM552 761.4l-5.1-5.3l5.9-3.4l5.1 5.4zM535.1 762.8l-5.2-5.4l5.9-3.3l5.2 5.3zM518.1 764.1l-5.1-5.3l5.9-3.3l5.1 5.3zM501.2 765.5l-5.2-5.4l5.9-3.3l5.2 5.3zM484.2 766.8l-5.1-5.3l5.9-3.3l5.1 5.3zM467.3 768.2l-5.2-5.3l5.9-3.4l5.2 5.3zM450.3 769.5l-5.1-5.3l5.9-3.3l5.1 5.3z" fill="#1ca9df" stroke="#1ca9df" stroke-width=".3"/>
<path d="M642.7 751.3l-5.2-5.3l5.9-3.4l5.2 5.4zM625.7 752.7l-5.1-5.4l5.9-3.3l5.1 5.3zM608.8 754l-5.2-5.3l5.9-3.4l5.2 5.4zM591.8 755.4l-5.1-5.4l5.9-3.3l5.1 5.3zM574.9 756.7l-5.2-5.3l5.9-3.4l5.2 5.4zM557.9 758.1l-5.1-5.4l5.9-3.3l5.1 5.3zM541 759.4l-5.2-5.3l5.9-3.3l5.2 5.3zM524 760.8l-5.1-5.3l5.9-3.4l5.1 5.3zM507.1 762.1l-5.2-5.3l5.9-3.3l5.2 5.3zM490.1 763.5l-5.1-5.3l5.9-3.4l5.1 5.3zM473.2 764.8l-5.2-5.3l5.9-3.3l5.2 5.3zM456.2 766.2l-5.1-5.3l5.9-3.4l5.1 5.4zM439.3 767.6l-5.2-5.4l5.9-3.3l5.2 5.3z" fill="#18addb" stroke="#18addb" stroke-width=".3"/>
<path d="M631.6 749.3l-5.1-5.3l5.9-3.4l5.1 5.4zM614.7 750.7l-5.2-5.4l5.9-3.3l5.2 5.3zM597.7 752l-5.1-5.3l5.9-3.4l5.1 5.4zM580.8 753.4l-5.2-5.4l5.9-3.3l5.2 5.3zM563.8 754.7l-5.1-5.3l5.9-3.3l5.1 5.3zM546.9 756.1l-5.2-5.3l5.9-3.4l5.2 5.3zM529.9 757.4l-5.1-5.3l5.9-3.3l5.1 5.3zM513 758.8l-5.2-5.3l5.9-3.4l5.2 5.4zM496 760.1l-5.1-5.3l5.9-3.3l5.1 5.3zM479.1 761.5l-5.2-5.3l5.9-3.4l5.2 5.4zM462.1 762.9l-5.1-5.4l5.9-3.3l5.1 5.3zM445.2 764.2l-5.2-5.3l5.9-3.4l5.2 5.4z" fill="#12b1d6" stroke="#12b1d6" stroke-width=".3"/>
<path d="M637.5 746l-5.1-5.4l5.9-3.3l5.1 5.3zM620.6 747.3l-5.2-5.3l5.9-3.4l5.2 5.4zM626.5 744l-5.2-5.4l5.9-3.3l5.2 5.3zM603.6 748.7l-5.1-5.4l5.9-3.3l5.1 5.3zM609.5 745.3l-5.1-5.3l5.9-3.3l5.1 5.3zM586.7 750l-5.2-5.3l5.9-3.3l5.2 5.3zM592.6 746.7l-5.2-5.3l5.9-3.4l5.2 5.3zM569.7 751.4l-5.1-5.3l5.9-3.4l5.1 5.3zM575.6 748l-5.1-5.3l5.9-3.3l5.1 5.3zM552.8 752.7l-5.2-5.3l5.9-3.3l5.2 5.3zM558.7 749.4l-5.2-5.3l5.9-3.4l5.2 5.4zM535.8 754.1l-5.1-5.3l5.9-3.4l5.1 5.4zM541.7 750.8l-5.1-5.4l5.9-3.3l5.1 5.3zM518.9 755.5l-5.2-5.4l5.9-3.3l5.2 5.3zM524.8 752.1l-5.2-5.3l5.9-3.4l5.2 5.4zM501.9 756.8l-5.1-5.3l5.9-3.4l5.1 5.4zM507.8 753.5l-5.1-5.4l5.9-3.3l5.1 5.3zM485 758.2l-5.2-5.4l5.9-3.3l5.2 5.3zM490.9 754.8l-5.2-5.3l5.9-3.4l5.2 5.4zM468 759.5l-5.1-5.3l5.9-3.4l5.1 5.4zM473.9 756.2l-5.1-5.4l5.9-3.3l5.1 5.3zM451.1 760.9l-5.2-5.4l5.9-3.3l5.2 5.3zM457 757.5l-5.2-5.3l5.9-3.4l5.2 5.4zM434.1 762.2l-5.1-5.3l5.9-3.4l5.1 5.4zM440 758.9l-5.1-5.4l5.9-3.3l5.1 5.3z" fill="#08b5d0" stroke="#08b5d0" stroke-width=".3"/>
<path d="M632.4 740.6l-5.2-5.3l5.9-3.3l5.2 5.3zM615.4 742l-5.1-5.3l5.9-3.4l5.1 5.3zM598.5 743.3l-5.2-5.3l5.9-3.3l5.2 5.3zM581.5 744.7l-5.1-5.3l5.9-3.4l5.1 5.4zM564.6 746.1l-5.2-5.4l5.9-3.3l5.2 5.3zM547.6 747.4l-5.1-5.3l5.9-3.4l5.1 5.4zM530.7 748.8l-5.2-5.4l5.9-3.3l5.2 5.3zM513.7 750.1l-5.1-5.3l5.9-3.4l5.1 5.4zM496.8 751.5l-5.2-5.4l5.9-3.3l5.2 5.3zM479.8 752.8l-5.1-5.3l5.9-3.4l5.1 5.4zM462.9 754.2l-5.2-5.4l5.9-3.3l5.2 5.3zM445.9 755.5l-5.1-5.3l5.9-3.4l5.1 5.4zM429 756.9l-5.2-5.4l5.9-3.3l5.2 5.3z" fill="#01b8ca" stroke="#01b8ca" stroke-width=".3"/>
<path d="M621.3 738.6l-5.1-5.3l5.9-3.3l5.1 5.3zM604.4 740l-5.2-5.3l5.9-3.4l5.2 5.4zM587.4 741.4l-5.1-5.4l5.9-3.3l5.1 5.3zM570.5 742.7l-5.2-5.3l5.9-3.4l5.2 5.4zM553.5 744.1l-5.1-5.4l5.9-3.3l5.1 5.3zM536.6 745.4l-5.2-5.3l5.9-3.4l5.2 5.4zM519.6 746.8l-5.1-5.4l5.9-3.3l5.1 5.3zM502.7 748.1l-5.2-5.3l5.9-3.4l5.2 5.4zM485.7 749.5l-5.1-5.4l5.9-3.3l5.1 5.3zM468.8 750.8l-5.2-5.3l5.9-3.4l5.2 5.4zM451.8 752.2l-5.1-5.4l5.9-3.3l5.1 5.3zM434.9 753.5l-5.2-5.3l5.9-3.4l5.2 5.4z" fill="#02bac3" stroke="#02bac3" stroke-width=".3"/>
<path d="M627.2 735.3l-5.1-5.3l5.9-3.4l5.1 5.4zM610.3 736.7l-5.2-5.4l5.9-3.3l5.2 5.3zM593.3 738l-5.1-5.3l5.9-3.4l5.1 5.4zM576.4 739.4l-5.2-5.4l5.9-3.3l5.2 5.3zM559.4 740.7l-5.1-5.3l5.9-3.4l5.1 5.4zM542.5 742.1l-5.2-5.4l5.9-3.3l5.2 5.3zM525.5 743.4l-5.1-5.3l5.9-3.4l5.1 5.4zM508.6 744.8l-5.2-5.4l5.9-3.3l5.2 5.3zM491.6 746.1l-5.1-5.3l5.9-3.4l5.1 5.4zM474.7 747.5l-5.2-5.4l5.9-3.3l5.2 5.3zM457.7 748.8l-5.1-5.3l5.9-3.4l5.1 5.4zM440.8 750.2l-5.2-5.4l5.9-3.3l5.2 5.3zM423.8 751.5l-5.1-5.3l5.9-3.4l5.1 5.4z" fill="#0bbdbd" stroke="#0bbdbd" stroke-width=".3"/>
<path d="M616.2 733.3l-5.2-5.3l5.9-3.4l5.2 5.4zM599.2 734.7l-5.1-5.4l5.9-3.3l5.1 5.3zM582.3 736l-5.2-5.3l5.9-3.4l5.2 5.4zM565.3 737.4l-5.1-5.4l5.9-3.3l5.1 5.3zM548.4 738.7l-5.2-5.3l5.9-3.4l5.2 5.4zM531.4 740.1l-5.1-5.4l5.9-3.3l5.1 5.3zM514.5 741.4l-5.2-5.3l5.9-3.4l5.2 5.4zM497.5 742.8l-5.1-5.4l5.9-3.3l5.1 5.3zM480.6 744.1l-5.2-5.3l5.9-3.4l5.2 5.4zM463.6 745.5l-5.1-5.4l5.9-3.3l5.1 5.3zM446.7 746.8l-5.2-5.3l5.9-3.4l5.2 5.4zM429.7 748.2l-5.1-5.4l5.9-3.3l5.1 5.3z" fill="#19bfb6" stroke="#19bfb6" stroke-width=".3"/>
<path d="M622.1 730l-5.2-5.4l5.9-3.3l5.2 5.3zM605.1 731.3l-5.1-5.3l5.9-3.4l5.1 5.4zM588.2 732.7l-5.2-5.4l5.9-3.3l5.2 5.3zM571.2 734l-5.1-5.3l5.9-3.4l5.1 5.4zM554.3 735.4l-5.2-5.4l5.9-3.3l5.2 5.3zM537.3 736.7l-5.1-5.3l5.9-3.4l5.1 5.4zM520.4 738.1l-5.2-5.4l5.9-3.3l5.2 5.3zM503.4 739.4l-5.1-5.3l5.9-3.4l5.1 5.4zM486.5 740.8l-5.2-5.4l5.9-3.3l5.2 5.3zM469.5 742.1l-5.1-5.3l5.9-3.4l5.1 5.4zM452.6 743.5l-5.2-5.4l5.9-3.3l5.2 5.3zM435.6 744.8l-5.1-5.3l5.9-3.4l5.1 5.4zM418.7 746.2l-5.2-5.4l5.9-3.3l5.2 5.3z" fill="#24c1ae" stroke="#24c1ae" stroke-width=".3"/>
<path d="M611 728l-5.1-5.4l5.9-3.3l5.1 5.3zM616.9 724.6l-5.1-5.3l5.9-3.4l5.1 5.4zM594.1 729.3l-5.2-5.3l5.9-3.4l5.2 5.4zM600 726l-5.2-5.4l5.9-3.3l5.2 5.3zM577.1 730.7l-5.1-5.4l5.9-3.3l5.1 5.3zM583 727.3l-5.1-5.3l5.9-3.4l5.1 5.4zM560.2 732l-5.2-5.3l5.9-3.4l5.2 5.4zM566.1 728.7l-5.2-5.4l5.9-3.3l5.2 5.3zM543.2 733.4l-5.1-5.4l5.9-3.3l5.1 5.3zM549.1 730l-5.1-5.3l5.9-3.4l5.1 5.4zM526.3 734.7l-5.2-5.3l5.9-3.4l5.2 5.4zM532.2 731.4l-5.2-5.4l5.9-3.3l5.2 5.3zM509.3 736.1l-5.1-5.4l5.9-3.3l5.1 5.3zM515.2 732.7l-5.1-5.3l5.9-3.4l5.1 5.4zM492.4 737.4l-5.2-5.3l5.9-3.4l5.2 5.4zM498.3 734.1l-5.2-5.4l5.9-3.3l5.2 5.3zM475.4 738.8l-5.1-5.4l5.9-3.3l5.1 5.3zM481.3 735.4l-5.1-5.3l5.9-3.4l5.1 5.4zM458.5 740.1l-5.2-5.3l5.9-3.4l5.2 5.4zM464.4 736.8l-5.2-5.4l5.9-3.3l5.2 5.3zM441.5 741.5l-5.1-5.4l5.9-3.3l5.1 5.3zM447.4 738.1l-5.1-5.3l5.9-3.4l5.1 5.4zM424.6 742.8l-5.2-5.3l5.9-3.4l5.2 5.4zM430.5 739.5l-5.2-5.4l5.9-3.3l5.2 5.3zM413.5 740.8l-5.1-5.3l5.9-3.3l5.1 5.3z" fill="#2cc4a7" stroke="#2cc4a7" stroke-width=".3"/>
<path d="M605.9 722.6l-5.2-5.3l5.9-3.4l5.2 5.4zM588.9 724l-5.1-5.4l5.9-3.3l5.1 5.3zM572 725.3l-5.2-5.3l5.9-3.4l5.2 5.4zM555 726.7l-5.1-5.4l5.9-3.3l5.1 5.3zM538.1 728l-5.2-5.3l5.9-3.4l5.2 5.4zM521.1 729.4l-5.1-5.4l5.9-3.3l5.1 5.3zM504.2 730.7l-5.2-5.3l5.9-3.4l5.2 5.4zM487.2 732.1l-5.1-5.4l5.9-3.3l5.1 5.3zM470.3 733.4l-5.2-5.3l5.9-3.4l5.2 5.4zM453.3 734.8l-5.1-5.4l5.9-3.3l5.1 5.3zM436.4 736.1l-5.2-5.3l5.9-3.3l5.2 5.3zM419.4 737.5l-5.1-5.3l5.9-3.4l5.1 5.3z" fill="#31c69f" stroke="#31c69f" stroke-width=".3"/>
<path d="M611.8 719.3l-5.2-5.4l5.9-3.3l5.2 5.3zM594.8 720.6l-5.1-5.3l5.9-3.4l5.1 5.4zM577.9 722l-5.2-5.4l5.9-3.3l5.2 5.3zM560.9 723.3l-5.1-5.3l5.9-3.4l5.1 5.4zM544 724.7l-5.2-5.4l5.9-3.3l5.2 5.3zM527 726l-5.1-5.3l5.9-3.4l5.1 5.4zM510.1 727.4l-5.2-5.4l5.9-3.3l5.2 5.3zM493.1 728.7l-5.1-5.3l5.9-3.4l5.1 5.4zM476.2 730.1l-5.2-5.4l5.9-3.3l5.2 5.3zM459.2 731.4l-5.1-5.3l5.9-3.3l5.1 5.3zM442.3 732.8l-5.2-5.3l5.9-3.4l5.2 5.3zM425.3 734.1l-5.1-5.3l5.9-3.3l5.1 5.3zM408.4 735.5l-5.2-5.3l5.9-3.4l5.2 5.4z" fill="#37c897" stroke="#37c897" stroke-width=".3"/>
<path d="M600.7 717.3l-5.1-5.4l5.9-3.3l5.1 5.3zM583.8 718.6l-5.2-5.3l5.9-3.4l5.2 5.4zM566.8 720l-5.1-5.4l5.9-3.3l5.1 5.3zM549.9 721.3l-5.2-5.3l5.9-3.4l5.2 5.4zM532.9 722.7l-5.1-5.4l5.9-3.3l5.1 5.3zM516 724l-5.2-5.3l5.9-3.4l5.2 5.4zM499 725.4l-5.1-5.4l5.9-3.3l5.1 5.3zM482.1 726.7l-5.2-5.3l5.9-3.3l5.2 5.3zM465.1 728.1l-5.1-5.3l5.9-3.4l5.1 5.3zM448.2 729.4l-5.2-5.3l5.9-3.3l5.2 5.3zM431.2 730.8l-5.1-5.3l5.9-3.4l5.1 5.4zM414.3 732.2l-5.2-5.4l5.9-3.3l5.2 5.3z" fill="#3fca8e" stroke="#3fca8e" stroke-width=".3"/>
<path d="M606.6 713.9l-5.1-5.3l5.9-3.4l5.1 5.4zM589.7 715.3l-5.2-5.4l5.9-3.3l5.2 5.3zM572.7 716.6l-5.1-5.3l5.9-3.4l5.1 5.4zM555.8 718l-5.2-5.4l5.9-3.3l5.2 5.3zM538.8 719.3l-5.1-5.3l5.9-3.4l5.1 5.4zM521.9 720.7l-5.2-5.4l5.9-3.3l5.2 5.3zM504.9 722l-5.1-5.3l5.9-3.3l5.1 5.3zM488 723.4l-5.2-5.3l5.9-3.4l5.2 5.3zM471 724.7l-5.1-5.3l5.9-3.3l5.1 5.3zM454.1 726.1l-5.2-5.3l5.9-3.4l5.2 5.4zM437.1 727.5l-5.1-5.4l5.9-3.3l5.1 5.3zM420.2 728.8l-5.2-5.3l5.9-3.4l5.2 5.4zM403.2 730.2l-5.1-5.4l5.9-3.3l5.1 5.3z" fill="#4acb84" stroke="#4acb84" stroke-width=".3"/>
<path d="M595.6 711.9l-5.2-5.3l5.9-3.4l5.2 5.4zM578.6 713.3l-5.1-5.4l5.9-3.3l5.1 5.3zM561.7 714.6l-5.2-5.3l5.9-3.3l5.2 5.3zM544.7 716l-5.1-5.4l5.9-3.3l5.1 5.3zM527.8 717.3l-5.2-5.3l5.9-3.3l5.2 5.3zM510.8 718.7l-5.1-5.3l5.9-3.4l5.1 5.3zM493.9 720l-5.2-5.3l5.9-3.3l5.2 5.3zM476.9 721.4l-5.1-5.3l5.9-3.4l5.1 5.4zM460 722.8l-5.2-5.4l5.9-3.3l5.2 5.3zM443 724.1l-5.1-5.3l5.9-3.4l5.1 5.4zM426.1 725.5l-5.2-5.4l5.9-3.3l5.2 5.3zM409.1 726.8l-5.1-5.3l5.9-3.4l5.1 5.4z" fill="#57cc7a" stroke="#57cc7a" stroke-width=".3"/>
<path d="M601.5 708.6l-5.2-5.4l5.9-3.3l5.2 5.3zM584.5 709.9l-5.1-5.3l5.9-3.3l5.1 5.3zM590.4 706.6l-5.1-5.3l5.9-3.4l5.1 5.3zM567.6 711.3l-5.2-5.3l5.9-3.4l5.2 5.3zM573.5 707.9l-5.2-5.3l5.9-3.3l5.2 5.3zM550.6 712.6l-5.1-5.3l5.9-3.3l5.1 5.3zM556.5 709.3l-5.1-5.3l5.9-3.4l5.1 5.4zM533.7 714l-5.2-5.3l5.9-3.4l5.2 5.3zM539.6 710.6l-5.2-5.3l5.9-3.3l5.2 5.3zM516.7 715.3l-5.1-5.3l5.9-3.3l5.1 5.3zM522.6 712l-5.1-5.3l5.9-3.4l5.1 5.4zM499.8 716.7l-5.2-5.3l5.9-3.4l5.2 5.4zM505.7 713.4l-5.2-5.4l5.9-3.3l5.2 5.3zM482.8 718.1l-5.1-5.4l5.9-3.3l5.1 5.3zM488.7 714.7l-5.1-5.3l5.9-3.4l5.1 5.4zM465.9 719.4l-5.2-5.3l5.9-3.4l5.2 5.4zM471.8 716.1l-5.2-5.4l5.9-3.3l5.2 5.3zM448.9 720.8l-5.1-5.4l5.9-3.3l5.1 5.3zM454.8 717.4l-5.1-5.3l5.9-3.4l5.1 5.4zM432 722.1l-5.2-5.3l5.9-3.4l5.2 5.4zM437.9 718.8l-5.2-5.4l5.9-3.3l5.2 5.3zM415 723.5l-5.1-5.4l5.9-3.3l5.1 5.3zM420.9 720.1l-5.1-5.3l5.9-3.4l5.1 5.4zM398.1 724.8l-5.2-5.3l5.9-3.4l5.2 5.4zM404 721.5l-5.2-5.4l5.9-3.3l5.2 5.3z" fill="#64cd6f" stroke="#64cd6f" stroke-width=".3"/>
<path d="M596.3 703.2l-5.1-5.3l5.9-3.3l5.1 5.3zM579.4 704.6l-5.2-5.3l5.9-3.4l5.2 5.4zM562.4 706l-5.1-5.4l5.9-3.3l5.1 5.3zM545.5 707.3l-5.2-5.3l5.9-3.4l5.2 5.4zM528.5 708.7l-5.1-5.4l5.9-3.3l5.1 5.3zM511.6 710l-5.2-5.3l5.9-3.4l5.2 5.4zM494.6 711.4l-5.1-5.4l5.9-3.3l5.1 5.3zM477.7 712.7l-5.2-5.3l5.9-3.4l5.2 5.4zM460.7 714.1l-5.1-5.4l5.9-3.3l5.1 5.3zM443.8 715.4l-5.2-5.3l5.9-3.4l5.2 5.4zM426.8 716.8l-5.1-5.4l5.9-3.3l5.1 5.3zM409.9 718.1l-5.2-5.3l5.9-3.4l5.2 5.4zM392.9 719.5l-5.1-5.4l5.9-3.3l5.1 5.3z" fill="#72cd64" stroke="#72cd64" stroke-width=".3"/>
<path d="M585.3 701.3l-5.2-5.4l5.9-3.3l5.2 5.3zM568.3 702.6l-5.1-5.3l5.9-3.4l5.1 5.4zM551.4 704l-5.2-5.4l5.9-3.3l5.2 5.3zM534.4 705.3l-5.1-5.3l5.9-3.4l5.1 5.4zM517.5 706.7l-5.2-5.4l5.9-3.3l5.2 5.3zM500.5 708l-5.1-5.3l5.9-3.4l5.1 5.4zM483.6 709.4l-5.2-5.4l5.9-3.3l5.2 5.3zM466.6 710.7l-5.1-5.3l5.9-3.4l5.1 5.4zM449.7 712.1l-5.2-5.4l5.9-3.3l5.2 5.3zM432.7 713.4l-5.1-5.3l5.9-3.4l5.1 5.4zM415.8 714.8l-5.2-5.4l5.9-3.3l5.2 5.3zM398.8 716.1l-5.1-5.3l5.9-3.4l5.1 5.4z" fill="#81cc59" stroke="#81cc59" stroke-width=".3"/>
<path d="M591.2 697.9l-5.2-5.3l5.9-3.4l5.2 5.4zM574.2 699.3l-5.1-5.4l5.9-3.3l5.1 5.3zM557.3 700.6l-5.2-5.3l5.9-3.4l5.2 5.4zM540.3 702l-5.1-5.4l5.9-3.3l5.1 5.3zM523.4 703.3l-5.2-5.3l5.9-3.4l5.2 5.4zM506.4 704.7l-5.1-5.4l5.9-3.3l5.1 5.3zM489.5 706l-5.2-5.3l5.9-3.4l5.2 5.4zM472.5 707.4l-5.1-5.4l5.9-3.3l5.1 5.3zM455.6 708.7l-5.2-5.3l5.9-3.4l5.2 5.4zM438.6 710.1l-5.1-5.4l5.9-3.3l5.1 5.3zM421.7 711.4l-5.2-5.3l5.9-3.4l5.2 5.4zM404.7 712.8l-5.1-5.4l5.9-3.3l5.1 5.3z" fill="#8fcb4e" stroke="#8fcb4e" stroke-width=".3"/>
<path d="M580.1 695.9l-5.1-5.3l5.9-3.4l5.1 5.4zM563.2 697.3l-5.2-5.4l5.9-3.3l5.2 5.3zM546.2 698.6l-5.1-5.3l5.9-3.4l5.1 5.4zM529.3 700l-5.2-5.4l5.9-3.3l5.2 5.3zM512.3 701.3l-5.1-5.3l5.9-3.4l5.1 5.4zM495.4 702.7l-5.2-5.4l5.9-3.3l5.2 5.3zM478.4 704l-5.1-5.3l5.9-3.4l5.1 5.4zM461.5 705.4l-5.2-5.4l5.9-3.3l5.2 5.3zM444.5 706.7l-5.1-5.3l5.9-3.4l5.1 5.4zM427.6 708.1l-5.2-5.4l5.9-3.3l5.2 5.3zM410.6 709.4l-5.1-5.3l5.9-3.4l5.1 5.4z" fill="#9dc943" stroke="#9dc943" stroke-width=".3"/>
<path d="M586 692.6l-5.1-5.4l5.9-3.3l5.1 5.3zM569.1 693.9l-5.2-5.3l5.9-3.4l5.2 5.4zM575 690.6l-5.2-5.4l5.9-3.3l5.2 5.3zM552.1 695.3l-5.1-5.4l5.9-3.3l5.1 5.3zM558 691.9l-5.1-5.3l5.9-3.4l5.1 5.4zM535.2 696.6l-5.2-5.3l5.9-3.4l5.2 5.4zM541.1 693.3l-5.2-5.4l5.9-3.3l5.2 5.3zM518.2 698l-5.1-5.4l5.9-3.3l5.1 5.3zM524.1 694.6l-5.1-5.3l5.9-3.4l5.1 5.4zM501.3 699.3l-5.2-5.3l5.9-3.4l5.2 5.4zM507.2 696l-5.2-5.4l5.9-3.3l5.2 5.3zM484.3 700.7l-5.1-5.4l5.9-3.3l5.1 5.3zM490.2 697.3l-5.1-5.3l5.9-3.4l5.1 5.4zM467.4 702l-5.2-5.3l5.9-3.4l5.2 5.4zM473.3 698.7l-5.2-5.4l5.9-3.3l5.2 5.3zM450.4 703.4l-5.1-5.4l5.9-3.3l5.1 5.3zM456.3 700l-5.1-5.3l5.9-3.4l5.1 5.4zM433.5 704.7l-5.2-5.3l5.9-3.4l5.2 5.4zM439.4 701.4l-5.2-5.4l5.9-3.3l5.2 5.3zM416.5 706.1l-5.1-5.4l5.9-3.3l5.1 5.3zM422.4 702.7l-5.1-5.3l5.9-3.4l5.1 5.4z" fill="#abc739" stroke="#abc739" stroke-width=".3"/>
<path d="M580.9 687.2l-5.2-5.3l5.9-3.4l5.2 5.4zM563.9 688.6l-5.1-5.4l5.9-3.3l5.1 5.3zM547 689.9l-5.2-5.3l5.9-3.4l5.2 5.4zM530 691.3l-5.1-5.4l5.9-3.3l5.1 5.3zM513.1 692.6l-5.2-5.3l5.9-3.4l5.2 5.4zM496.1 694l-5.1-5.4l5.9-3.3l5.1 5.3zM479.2 695.3l-5.2-5.3l5.9-3.4l5.2 5.4zM462.2 696.7l-5.1-5.4l5.9-3.3l5.1 5.3zM445.3 698l-5.2-5.3l5.9-3.4l5.2 5.4zM428.3 699.4l-5.1-5.4l5.9-3.3l5.1 5.3z" fill="#b9c431" stroke="#b9c431" stroke-width=".3"/>
<path d="M569.8 685.2l-5.1-5.3l5.9-3.4l5.1 5.4zM552.9 686.6l-5.2-5.4l5.9-3.3l5.2 5.3zM535.9 687.9l-5.1-5.3l5.9-3.4l5.1 5.4zM519 689.3l-5.2-5.4l5.9-3.3l5.2 5.3zM502 690.6l-5.1-5.3l5.9-3.4l5.1 5.4zM485.1 692l-5.2-5.4l5.9-3.3l5.2 5.3zM468.1 693.3l-5.1-5.3l5.9-3.4l5.1 5.4zM451.2 694.7l-5.2-5.4l5.9-3.3l5.2 5.3zM434.2 696l-5.1-5.3l5.9-3.4l5.1 5.4z" fill="#c5c22a" stroke="#c5c22a" stroke-width=".3"/>
<path d="M575.7 681.9l-5.1-5.4l5.9-3.3l5.1 5.3zM558.8 683.2l-5.2-5.3l5.9-3.4l5.2 5.4zM541.8 684.6l-5.1-5.4l5.9-3.3l5.1 5.3zM524.9 685.9l-5.2-5.3l5.9-3.4l5.2 5.4zM507.9 687.3l-5.1-5.4l5.9-3.3l5.1 5.3zM491 688.6l-5.2-5.3l5.9-3.4l5.2 5.4zM474 690l-5.1-5.4l5.9-3.3l5.1 5.3zM457.1 691.3l-5.2-5.3l5.9-3.3l5.2 5.3zM440.1 692.7l-5.1-5.4l5.9-3.3l5.1 5.3z" fill="#d1bf27" stroke="#d1bf27" stroke-width=".3"/>
<path d="M564.7 679.9l-5.2-5.4l5.9-3.3l5.2 5.3zM547.7 681.2l-5.1-5.3l5.9-3.4l5.1 5.4zM530.8 682.6l-5.2-5.4l5.9-3.3l5.2 5.3zM513.8 683.9l-5.1-5.3l5.9-3.4l5.1 5.4zM496.9 685.3l-5.2-5.4l5.9-3.3l5.2 5.3zM479.9 686.6l-5.1-5.3l5.9-3.3l5.1 5.3zM463 688l-5.2-5.3l5.9-3.4l5.2 5.3zM446 689.3l-5.1-5.3l5.9-3.3l5.1 5.3z" fill="#dcbd29" stroke="#dcbd29" stroke-width=".3"/>
<path d="M570.6 676.5l-5.2-5.3l5.9-3.4l5.2 5.4zM553.6 677.9l-5.1-5.4l5.9-3.3l5.1 5.3zM536.7 679.2l-5.2-5.3l5.9-3.4l5.2 5.4zM519.7 680.6l-5.1-5.4l5.9-3.3l5.1 5.3zM502.8 681.9l-5.2-5.3l5.9-3.3l5.2 5.3zM485.8 683.3l-5.1-5.3l5.9-3.4l5.1 5.3zM468.9 684.6l-5.2-5.3l5.9-3.3l5.2 5.3zM451.9 686l-5.1-5.3l5.9-3.4l5.1 5.4z" fill="#e6bb2d" stroke="#e6bb2d" stroke-width=".3"/>
<path d="M559.5 674.5l-5.1-5.3l5.9-3.4l5.1 5.4zM565.4 671.2l-5.1-5.4l5.9-3.3l5.1 5.3zM542.6 675.9l-5.2-5.4l5.9-3.3l5.2 5.3zM548.5 672.5l-5.2-5.3l5.9-3.3l5.2 5.3zM525.6 677.2l-5.1-5.3l5.9-3.3l5.1 5.3zM531.5 673.9l-5.1-5.3l5.9-3.4l5.1 5.3zM508.7 678.6l-5.2-5.3l5.9-3.4l5.2 5.3zM514.6 675.2l-5.2-5.3l5.9-3.3l5.2 5.3zM491.7 679.9l-5.1-5.3l5.9-3.3l5.1 5.3zM497.6 676.6l-5.1-5.3l5.9-3.4l5.1 5.4zM474.8 681.3l-5.2-5.3l5.9-3.4l5.2 5.4zM480.7 678l-5.2-5.4l5.9-3.3l5.2 5.3zM457.8 682.7l-5.1-5.4l5.9-3.3l5.1 5.3zM463.7 679.3l-5.1-5.3l5.9-3.4l5.1 5.4z" fill="#f0ba36" stroke="#f0ba36" stroke-width=".3"/>
<path d="M554.4 669.2l-5.2-5.3l5.9-3.4l5.2 5.3zM537.4 670.5l-5.1-5.3l5.9-3.3l5.1 5.3zM520.5 671.9l-5.2-5.3l5.9-3.4l5.2 5.4zM503.5 673.3l-5.1-5.4l5.9-3.3l5.1 5.3zM486.6 674.6l-5.2-5.3l5.9-3.4l5.2 5.4zM469.6 676l-5.1-5.4l5.9-3.3l5.1 5.3z" fill="#f8ba3d" stroke="#f8ba3d" stroke-width=".3"/>
<path d="M560.3 665.8l-5.2-5.3l5.9-3.3l5.2 5.3zM543.3 667.2l-5.1-5.3l5.9-3.4l5.1 5.4zM526.4 668.6l-5.2-5.4l5.9-3.3l5.2 5.3zM509.4 669.9l-5.1-5.3l5.9-3.4l5.1 5.4zM492.5 671.3l-5.2-5.4l5.9-3.3l5.2 5.3zM475.5 672.6l-5.1-5.3l5.9-3.4l5.1 5.4z" fill="#febe3c" stroke="#febe3c" stroke-width=".3"/>
<path d="M549.2 663.9l-5.1-5.4l5.9-3.3l5.1 5.3zM532.3 665.2l-5.2-5.3l5.9-3.4l5.2 5.4zM515.3 666.6l-5.1-5.4l5.9-3.3l5.1 5.3zM498.4 667.9l-5.2-5.3l5.9-3.4l5.2 5.4zM481.4 669.3l-5.1-5.4l5.9-3.3l5.1 5.3z" fill="#fec338" stroke="#fec338" stroke-width=".3"/>
<path d="M555.1 660.5l-5.1-5.3l5.9-3.4l5.1 5.4zM538.2 661.9l-5.2-5.4l5.9-3.3l5.2 5.3zM521.2 663.2l-5.1-5.3l5.9-3.4l5.1 5.4zM504.3 664.6l-5.2-5.4l5.9-3.3l5.2 5.3zM487.3 665.9l-5.1-5.3l5.9-3.4l5.1 5.4z" fill="#fec934" stroke="#fec934" stroke-width=".3"/>
<path d="M544.1 658.5l-5.2-5.3l5.9-3.4l5.2 5.4zM527.1 659.9l-5.1-5.4l5.9-3.3l5.1 5.3zM510.2 661.2l-5.2-5.3l5.9-3.4l5.2 5.4zM493.2 662.6l-5.1-5.4l5.9-3.3l5.1 5.3z" fill="#fccf30" stroke="#fccf30" stroke-width=".3"/>
<path d="M550 655.2l-5.2-5.4l5.9-3.3l5.2 5.3zM533 656.5l-5.1-5.3l5.9-3.4l5.1 5.4zM538.9 653.2l-5.1-5.4l5.9-3.3l5.1 5.3zM516.1 657.9l-5.2-5.4l5.9-3.3l5.2 5.3zM522 654.5l-5.2-5.3l5.9-3.4l5.2 5.4zM499.1 659.2l-5.1-5.3l5.9-3.4l5.1 5.4zM505 655.9l-5.1-5.4l5.9-3.3l5.1 5.3z" fill="#fad62d" stroke="#fad62d" stroke-width=".3"/>
<path d="M544.8 649.8l-5.1-5.3l5.9-3.4l5.1 5.4zM527.9 651.2l-5.2-5.4l5.9-3.3l5.2 5.3zM510.9 652.5l-5.1-5.3l5.9-3.4l5.1 5.4z" fill="#f7dc2a" stroke="#f7dc2a" stroke-width=".3"/>
<path d="M533.8 647.8l-5.2-5.3l5.9-3.4l5.2 5.4zM516.8 649.2l-5.1-5.4l5.9-3.3l5.1 5.3z" fill="#f5e327" stroke="#f5e327" stroke-width=".3"/>
<path d="M539.7 644.5l-5.2-5.4l5.9-3.3l5.2 5.3zM522.7 645.8l-5.1-5.3l5.9-3.4l5.1 5.4z" fill="#f5e924" stroke="#f5e924" stroke-width=".3"/>
<path d="M528.6 642.5l-5.1-5.4l5.9-3.3l5.1 5.3z" fill="#f6ef20" stroke="#f6ef20" stroke-width=".3"/>
<path d="M534.5 639.1l-5.1-5.3l5.9-3.4l5.1 5.4z" fill="#f7f51b" stroke="#f7f51b" stroke-width=".3"/>
<path d="M516.5 847.7l147.5-83.7M514.4 845.5l147.5-83.7M512.2 843.2l147.5-83.6M510.1 841l147.5-83.7M507.9 838.8l147.5-83.7M505.8 836.6l147.5-83.7M503.6 834.3l147.5-83.6M501.5 832.1l147.5-83.7M499.3 829.9l147.5-83.7M497.2 827.7l147.5-83.7M495.1 825.4l147.6-83.7M492.9 823.2l147.5-83.7M490.8 821l147.5-83.7M488.6 818.8l147.5-83.7M486.5 816.5l147.5-83.7M484.3 814.3l147.5-83.7M482.2 812.1l147.5-83.7M480 809.8l147.5-83.6M477.9 807.6l147.5-83.7M475.7 805.4l147.5-83.7M473.6 803.2l147.5-83.7M471.5 800.9l147.5-83.6M469.3 798.7l147.5-83.7M467.2 796.5l147.5-83.7M465 794.3l147.5-83.7M462.9 792l147.5-83.6M460.7 789.8l147.5-83.7M458.6 787.6l147.5-83.7M456.4 785.4l147.5-83.7M454.3 783.1l147.5-83.6M452.1 780.9l147.4-83.7M450 778.7l147.5-83.7M447.9 776.5l147.5-83.7M445.7 774.2l147.5-83.7M443.6 772l147.5-83.7M441.4 769.8l147.5-83.7M439.3 767.6l147.5-83.7M437.1 765.3l147.5-83.7M435 763.1l147.5-83.7M432.8 760.9l147.5-83.7M430.7 758.6l147.5-83.6M428.6 756.4l147.5-83.7M426.4 754.2l147.5-83.7M424.3 752l147.5-83.7M422.1 749.7l147.5-83.6M420 747.5l147.5-83.7M417.8 745.3l147.5-83.7M415.7 743.1l147.5-83.7M413.5 740.8l147.5-83.6M411.4 738.6l147.5-83.7M409.2 736.4l147.6-83.7M407.1 734.2l147.5-83.7M405 731.9l147.5-83.6M402.8 729.7l147.5-83.7M400.7 727.5l147.5-83.7M398.5 725.3l147.5-83.7M396.4 723l147.5-83.6M394.2 720.8l147.5-83.7M392.1 718.6l147.5-83.7M389.9 716.4l147.5-83.7M387.8 714.1l147.5-83.7M516.5 847.7l-128.7-133.6M519 846.3l-128.7-133.6M521.4 844.9l-128.7-133.6M523.9 843.5l-128.7-133.6M526.3 842.1l-128.7-133.6M528.8 840.7l-128.7-133.5M531.2 839.3l-128.6-133.5M533.7 837.9l-128.7-133.5M536.2 836.5l-128.7-133.5M538.6 835.1l-128.7-133.5M541.1 833.7l-128.7-133.5M543.5 832.3l-128.7-133.5M546 831l-128.7-133.6M548.5 829.6l-128.7-133.6M550.9 828.2l-128.7-133.6M553.4 826.8l-128.7-133.6M555.8 825.4l-128.7-133.6M558.3 824l-128.7-133.6M560.8 822.6l-128.8-133.6M563.2 821.2l-128.7-133.6M565.7 819.8l-128.7-133.6M568.1 818.4l-128.7-133.6M570.6 817l-128.7-133.6M573 815.6l-128.7-133.6M575.5 814.2l-128.7-133.5M578 812.8l-128.7-133.5M580.4 811.4l-128.7-133.5M582.9 810l-128.7-133.5M585.3 808.6l-128.7-133.5M587.8 807.2l-128.7-133.5M590.2 805.9l-128.6-133.6M592.7 804.5l-128.7-133.6M595.2 803.1l-128.7-133.6M597.6 801.7l-128.7-133.6M600.1 800.3l-128.7-133.6M602.5 798.9l-128.7-133.6M605 797.5l-128.7-133.6M607.5 796.1l-128.7-133.6M609.9 794.7l-128.7-133.6M612.4 793.3l-128.7-133.6M614.8 791.9l-128.7-133.6M617.3 790.5l-128.7-133.6M619.8 789.1l-128.8-133.5M622.2 787.7l-128.7-133.5M624.7 786.3l-128.7-133.5M627.1 784.9l-128.7-133.5M629.6 783.5l-128.7-133.5M632 782.1l-128.7-133.5M634.5 780.7l-128.7-133.5M637 779.4l-128.7-133.6M639.4 778l-128.7-133.6M641.9 776.6l-128.7-133.6M644.3 775.2l-128.7-133.6M646.8 773.8l-128.7-133.6M649.2 772.4l-128.6-133.6M651.7 771l-128.7-133.6M654.2 769.6l-128.7-133.6M656.6 768.2l-128.7-133.6M659.1 766.8l-128.7-133.6M661.5 765.4l-128.7-133.6M664 764l-128.7-133.6" stroke="#000" stroke-width="0.68" fill="none" stroke-opacity="1"/>
<text x="380.9" y="806.2" font-size="8.2" text-anchor="end">0</text>
<text x="380.9" y="765" font-size="8.2" text-anchor="end">5</text>
<text x="380.9" y="723.8" font-size="8.2" text-anchor="end">10</text>
<text x="380.9" y="682.6" font-size="8.2" text-anchor="end">15</text>
<text x="378.5" y="814.6" font-size="8.2" text-anchor="middle">1</text>
<text x="439.2" y="835.6" font-size="8.2" text-anchor="middle">0.5</text>
<text x="506.3" y="858.1" font-size="8.2" text-anchor="middle">0</text>
<text x="525.7" y="859" font-size="8.2" text-anchor="middle">0</text>
<text x="558.1" y="850.6" font-size="8.2" text-anchor="middle">0.2</text>
<text x="586.5" y="843.2" font-size="8.2" text-anchor="middle">0.4</text>
<text x="615.9" y="835.9" font-size="8.2" text-anchor="middle">0.6</text>
<text x="645.6" y="828" font-size="8.2" text-anchor="middle">0.8</text>
<text x="671" y="820.1" font-size="8.2" text-anchor="middle">1</text>
<text transform="translate(363.1 742.5) rotate(-90)" font-size="9.8" fill="#3c3c3c">R<tspan font-size="6.8" dy="4.2">0</tspan></text>
<text x="366.4" y="657.7" font-size="8.2">&#215;10<tspan font-size="6.3" dx="0.8" dy="-4.2">5</tspan></text>
<text x="450.2" y="860" font-size="9" fill="#5a5a5a" style="stroke:#5a5a5a;stroke-width:.12px"><tspan font-family="Liberation Serif" font-style="italic">&#948;</tspan><tspan font-size="6.8" dy="3.6" fill="#3c3c3c">2</tspan></text>
<text x="578.3" y="860.9" font-size="9" fill="#5a5a5a" style="stroke:#5a5a5a;stroke-width:.12px"><tspan font-family="Liberation Serif" font-style="italic">&#948;</tspan><tspan font-size="6.8" dy="3.6" fill="#3c3c3c">1</tspan></text>
<text x="525.05" y="627.5" font-size="9.5" font-weight="bold" text-anchor="middle" fill="#141414" style="stroke:#141414;stroke-width:.15px" textLength="150.3" lengthAdjust="spacing">544680 u + 1089360 v + 13617/125</text>
<text x="154.3" y="584.1" font-family="Liberation Serif" font-weight="bold" font-size="18" text-anchor="middle" fill="#000" style="stroke:none">(c)</text>
<text x="540.6" y="584.1" font-family="Liberation Serif" font-weight="bold" font-size="18" text-anchor="middle" fill="#000" style="stroke:none">(d)</text>
<text x="164" y="904.2" font-family="Liberation Serif" font-weight="bold" font-size="18" text-anchor="middle" fill="#000" style="stroke:none">(e)</text>
<text x="510" y="904.2" font-family="Liberation Serif" font-weight="bold" font-size="18" text-anchor="middle" fill="#000" style="stroke:none">(f)</text>
<rect x="342.5" y="875" width="1.2" height="1.2" fill="#999"/>
</svg>
</body></html>
